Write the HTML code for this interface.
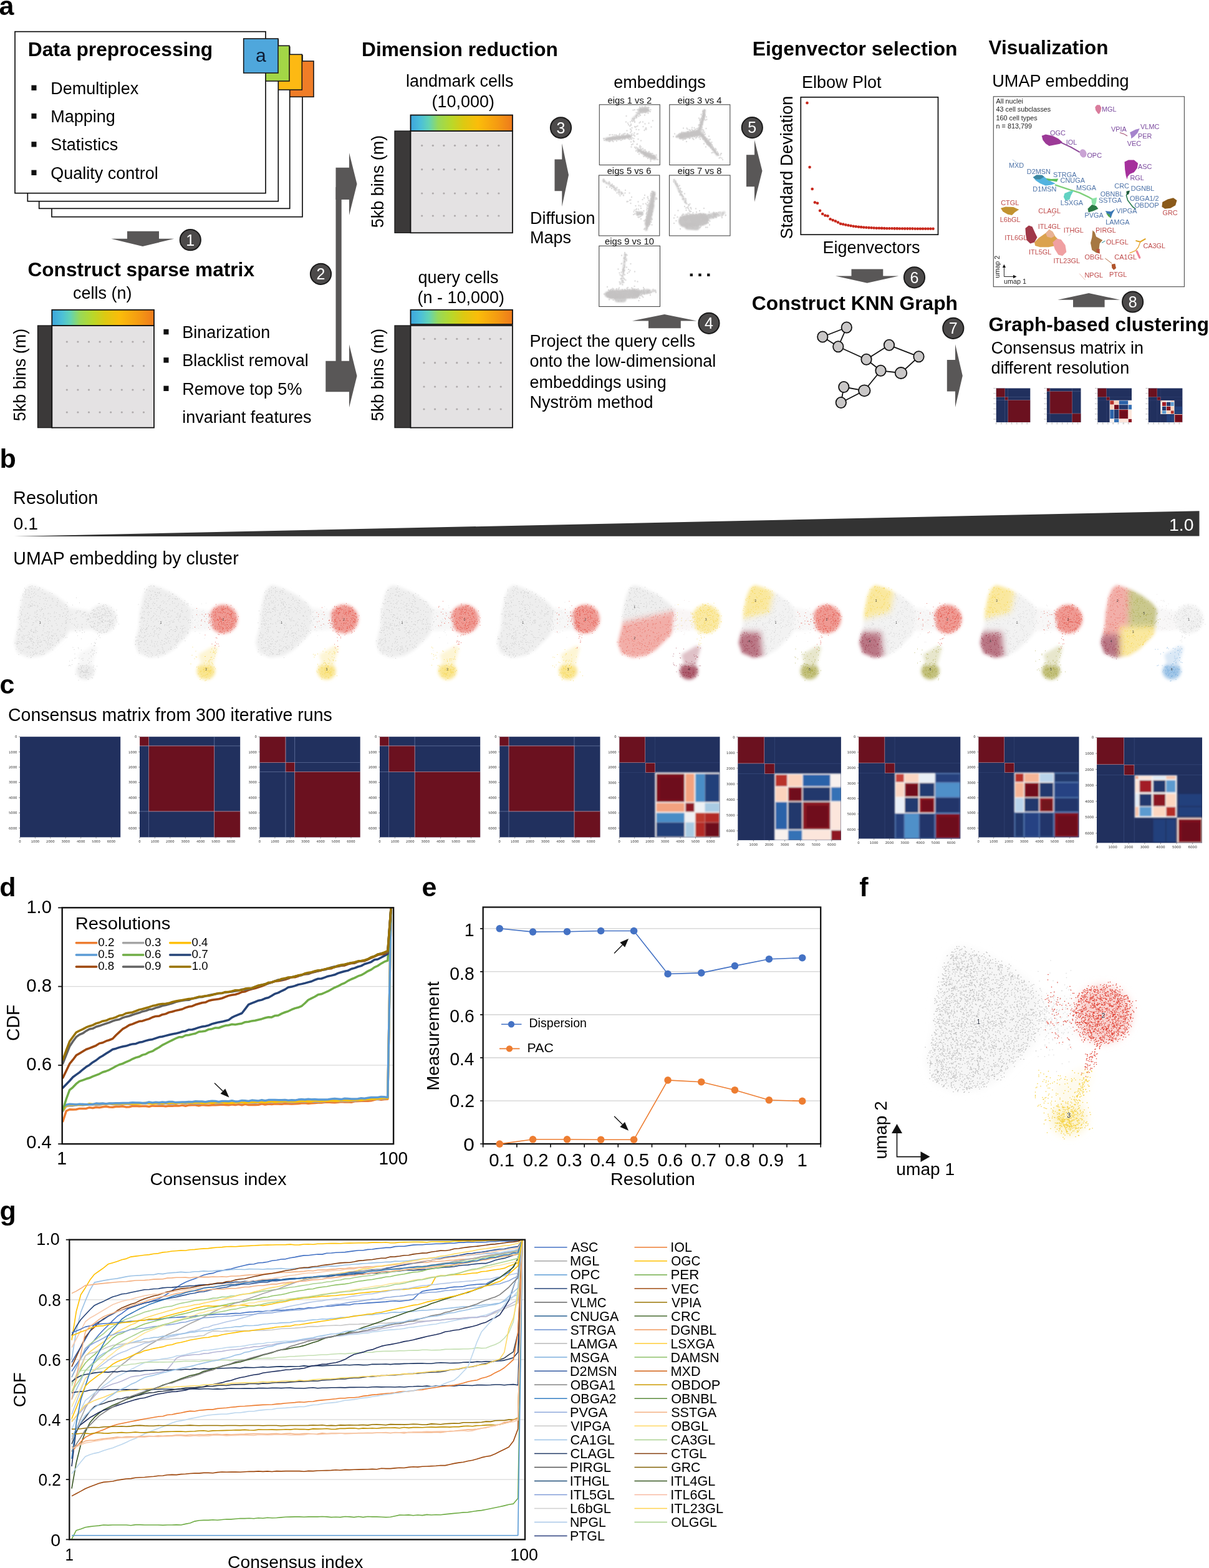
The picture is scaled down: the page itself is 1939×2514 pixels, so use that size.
<!DOCTYPE html>
<html lang="en"><head><meta charset="utf-8"><title>Figure: clustering pipeline</title>
<style>
html,body{margin:0;padding:0;background:#fff}
body{width:1939px;height:2514px;overflow:hidden}
svg{display:block;font-family:'Liberation Sans', Arial, sans-serif}
</style></head><body>
<main><figure style="margin:0">
<svg width="1939" height="2514" viewBox="0 0 1939 2514">
<rect width="1939" height="2514" fill="#fff"/>
<g id="panel-a-flow"><defs><linearGradient id="rain" x1="0" x2="1" y1="0" y2="0"><stop offset="0" stop-color="#3da5dc"/><stop offset="0.1" stop-color="#4cc0d8"/><stop offset="0.18" stop-color="#62d3b5"/><stop offset="0.27" stop-color="#97d95a"/><stop offset="0.4" stop-color="#b9d82a"/><stop offset="0.52" stop-color="#ddc912"/><stop offset="0.66" stop-color="#fbbd0a"/><stop offset="0.85" stop-color="#f59b12"/><stop offset="1" stop-color="#ee7a1c"/></linearGradient></defs><text x="-1.5" y="23.6" font-size="43" font-weight="700">a</text><rect x="83" y="88.7" width="402" height="259" fill="#fff" stroke="#111" stroke-width="1.7"/><rect x="448" y="98" width="55" height="57.3" fill="#ef7d27" stroke="#1a1a1a" stroke-width="1.6"/><rect x="62.7" y="75.3" width="402" height="259" fill="#fff" stroke="#111" stroke-width="1.7"/><rect x="429" y="87.3" width="55.3" height="56.7" fill="#fdb913" stroke="#1a1a1a" stroke-width="1.6"/><rect x="44.3" y="63.7" width="402" height="259" fill="#fff" stroke="#111" stroke-width="1.7"/><rect x="409" y="73.3" width="55" height="56.7" fill="#a3d646" stroke="#1a1a1a" stroke-width="1.6"/><rect x="24" y="50.7" width="402" height="259" fill="#fff" stroke="#111" stroke-width="1.7"/><rect x="390.7" y="62" width="55.3" height="55" fill="#4fa7dc" stroke="#1a1a1a" stroke-width="1.6"/><text x="418.3" y="98.6" font-size="30" text-anchor="middle" fill="#0d1b33">a</text><text transform="translate(44.74 89.50) scale(1.0052 1)" font-size="31.6" font-weight="700">Data preprocessing</text><rect x="50.4" y="136.6" width="8.1" height="8.4" fill="#111"/><text x="81.3" y="150.7" font-size="27">Demultiplex</text><rect x="50.4" y="181.9" width="8.1" height="8.4" fill="#111"/><text x="81.3" y="196" font-size="27">Mapping</text><rect x="50.4" y="227.2" width="8.1" height="8.4" fill="#111"/><text x="81.3" y="241.3" font-size="27">Statistics</text><rect x="50.4" y="272.6" width="8.1" height="8.4" fill="#111"/><text x="81.3" y="286.7" font-size="27">Quality control</text><polygon points="204,370.7 255,370.7 255,382.7 279.3,382.7 228.8,395 178.3,382.7 204,382.7" fill="#595757"/><circle cx="305.3" cy="384.7" r="16.6" fill="#4c4a4a" stroke="#1a1a1a" stroke-width="2"/><text x="305.3" y="393.5" font-size="25" text-anchor="middle" fill="#fff">1</text><text x="44.5" y="442.6" font-size="31.6" font-weight="700">Construct sparse matrix</text><text x="117" y="478.5" font-size="27">cells (n)</text><rect x="60.5" y="522" width="23.8" height="163.7" fill="#3b3939" stroke="#111" stroke-width="1.2"/><rect x="83.3" y="522" width="163.7" height="163.7" fill="#e4e2e3" stroke="#111" stroke-width="1.8"/><rect x="83.3" y="496.8" width="163.7" height="25.2" fill="url(#rain)" stroke="#111" stroke-width="1.8"/><circle cx="107.3" cy="548" r="1.6" fill="#aeaaab"/><circle cx="124.9" cy="548" r="1.6" fill="#aeaaab"/><circle cx="142.5" cy="548" r="1.6" fill="#aeaaab"/><circle cx="160.1" cy="548" r="1.6" fill="#aeaaab"/><circle cx="177.7" cy="548" r="1.6" fill="#aeaaab"/><circle cx="195.3" cy="548" r="1.6" fill="#aeaaab"/><circle cx="212.9" cy="548" r="1.6" fill="#aeaaab"/><circle cx="230.5" cy="548" r="1.6" fill="#aeaaab"/><circle cx="107.3" cy="586.7" r="1.6" fill="#aeaaab"/><circle cx="124.9" cy="586.7" r="1.6" fill="#aeaaab"/><circle cx="142.5" cy="586.7" r="1.6" fill="#aeaaab"/><circle cx="160.1" cy="586.7" r="1.6" fill="#aeaaab"/><circle cx="177.7" cy="586.7" r="1.6" fill="#aeaaab"/><circle cx="195.3" cy="586.7" r="1.6" fill="#aeaaab"/><circle cx="212.9" cy="586.7" r="1.6" fill="#aeaaab"/><circle cx="230.5" cy="586.7" r="1.6" fill="#aeaaab"/><circle cx="107.3" cy="625" r="1.6" fill="#aeaaab"/><circle cx="124.9" cy="625" r="1.6" fill="#aeaaab"/><circle cx="142.5" cy="625" r="1.6" fill="#aeaaab"/><circle cx="160.1" cy="625" r="1.6" fill="#aeaaab"/><circle cx="177.7" cy="625" r="1.6" fill="#aeaaab"/><circle cx="195.3" cy="625" r="1.6" fill="#aeaaab"/><circle cx="212.9" cy="625" r="1.6" fill="#aeaaab"/><circle cx="230.5" cy="625" r="1.6" fill="#aeaaab"/><circle cx="107.3" cy="661" r="1.6" fill="#aeaaab"/><circle cx="124.9" cy="661" r="1.6" fill="#aeaaab"/><circle cx="142.5" cy="661" r="1.6" fill="#aeaaab"/><circle cx="160.1" cy="661" r="1.6" fill="#aeaaab"/><circle cx="177.7" cy="661" r="1.6" fill="#aeaaab"/><circle cx="195.3" cy="661" r="1.6" fill="#aeaaab"/><circle cx="212.9" cy="661" r="1.6" fill="#aeaaab"/><circle cx="230.5" cy="661" r="1.6" fill="#aeaaab"/><text x="41.2" y="601" font-size="27" text-anchor="middle" transform="rotate(-90 41.2 601)">5kb bins (m)</text><rect x="262.4" y="527.9" width="8.1" height="8.4" fill="#111"/><text x="292.3" y="542" font-size="27">Binarization</text><rect x="262.4" y="573.2" width="8.1" height="8.4" fill="#111"/><text x="292.3" y="587.3" font-size="27">Blacklist removal</text><rect x="262.4" y="618.6" width="8.1" height="8.4" fill="#111"/><text x="292.3" y="632.7" font-size="27">Remove top 5%</text><text x="292.3" y="677.7" font-size="27">invariant features</text><rect x="538.5" y="300" width="9.2" height="300" fill="#595757"/><polygon points="538.5,268.7 560,268.7 560,245 572.5,295 560,345 560,320 538.5,320" fill="#595757"/><polygon points="522.3,578.7 560,578.7 560,552.3 572.5,602.8 560,653.3 560,628.3 522.3,628.3" fill="#595757"/><circle cx="514.5" cy="439.3" r="16.6" fill="#4c4a4a" stroke="#1a1a1a" stroke-width="2"/><text x="514.5" y="448.1" font-size="25" text-anchor="middle" fill="#fff">2</text><text transform="translate(580.04 89.50) scale(1.0025 1)" font-size="31.6" font-weight="700">Dimension reduction</text><text x="737.3" y="139.3" font-size="27" text-anchor="middle">landmark cells</text><text x="742.7" y="171.7" font-size="27" text-anchor="middle">(10,000)</text><rect x="633" y="210" width="26.5" height="163.3" fill="#3b3939" stroke="#111" stroke-width="1.2"/><rect x="658.5" y="210" width="163.5" height="163.3" fill="#e4e2e3" stroke="#111" stroke-width="1.8"/><rect x="658.5" y="184.5" width="163.5" height="25.5" fill="url(#rain)" stroke="#111" stroke-width="1.8"/><circle cx="676.7" cy="233.3" r="1.6" fill="#aeaaab"/><circle cx="694.3" cy="233.3" r="1.6" fill="#aeaaab"/><circle cx="711.9" cy="233.3" r="1.6" fill="#aeaaab"/><circle cx="729.5" cy="233.3" r="1.6" fill="#aeaaab"/><circle cx="747.1" cy="233.3" r="1.6" fill="#aeaaab"/><circle cx="764.7" cy="233.3" r="1.6" fill="#aeaaab"/><circle cx="782.3" cy="233.3" r="1.6" fill="#aeaaab"/><circle cx="799.9" cy="233.3" r="1.6" fill="#aeaaab"/><circle cx="676.7" cy="271.7" r="1.6" fill="#aeaaab"/><circle cx="694.3" cy="271.7" r="1.6" fill="#aeaaab"/><circle cx="711.9" cy="271.7" r="1.6" fill="#aeaaab"/><circle cx="729.5" cy="271.7" r="1.6" fill="#aeaaab"/><circle cx="747.1" cy="271.7" r="1.6" fill="#aeaaab"/><circle cx="764.7" cy="271.7" r="1.6" fill="#aeaaab"/><circle cx="782.3" cy="271.7" r="1.6" fill="#aeaaab"/><circle cx="799.9" cy="271.7" r="1.6" fill="#aeaaab"/><circle cx="676.7" cy="310" r="1.6" fill="#aeaaab"/><circle cx="694.3" cy="310" r="1.6" fill="#aeaaab"/><circle cx="711.9" cy="310" r="1.6" fill="#aeaaab"/><circle cx="729.5" cy="310" r="1.6" fill="#aeaaab"/><circle cx="747.1" cy="310" r="1.6" fill="#aeaaab"/><circle cx="764.7" cy="310" r="1.6" fill="#aeaaab"/><circle cx="782.3" cy="310" r="1.6" fill="#aeaaab"/><circle cx="799.9" cy="310" r="1.6" fill="#aeaaab"/><circle cx="676.7" cy="346" r="1.6" fill="#aeaaab"/><circle cx="694.3" cy="346" r="1.6" fill="#aeaaab"/><circle cx="711.9" cy="346" r="1.6" fill="#aeaaab"/><circle cx="729.5" cy="346" r="1.6" fill="#aeaaab"/><circle cx="747.1" cy="346" r="1.6" fill="#aeaaab"/><circle cx="764.7" cy="346" r="1.6" fill="#aeaaab"/><circle cx="782.3" cy="346" r="1.6" fill="#aeaaab"/><circle cx="799.9" cy="346" r="1.6" fill="#aeaaab"/><text x="615.2" y="291" font-size="27" text-anchor="middle" transform="rotate(-90 615.2 291)">5kb bins (m)</text><text x="735" y="454" font-size="27" text-anchor="middle">query cells</text><text x="739.3" y="485.7" font-size="27" text-anchor="middle">(n - 10,000)</text><rect x="633" y="522" width="26.5" height="163.7" fill="#3b3939" stroke="#111" stroke-width="1.2"/><rect x="658.5" y="522" width="163.5" height="163.7" fill="#e4e2e3" stroke="#111" stroke-width="1.8"/><rect x="658.5" y="496.8" width="163.5" height="23.2" fill="url(#rain)" stroke="#111" stroke-width="1.8"/><circle cx="680" cy="543.3" r="1.6" fill="#aeaaab"/><circle cx="697.6" cy="543.3" r="1.6" fill="#aeaaab"/><circle cx="715.2" cy="543.3" r="1.6" fill="#aeaaab"/><circle cx="732.8" cy="543.3" r="1.6" fill="#aeaaab"/><circle cx="750.4" cy="543.3" r="1.6" fill="#aeaaab"/><circle cx="768" cy="543.3" r="1.6" fill="#aeaaab"/><circle cx="785.6" cy="543.3" r="1.6" fill="#aeaaab"/><circle cx="803.2" cy="543.3" r="1.6" fill="#aeaaab"/><circle cx="680" cy="581.7" r="1.6" fill="#aeaaab"/><circle cx="697.6" cy="581.7" r="1.6" fill="#aeaaab"/><circle cx="715.2" cy="581.7" r="1.6" fill="#aeaaab"/><circle cx="732.8" cy="581.7" r="1.6" fill="#aeaaab"/><circle cx="750.4" cy="581.7" r="1.6" fill="#aeaaab"/><circle cx="768" cy="581.7" r="1.6" fill="#aeaaab"/><circle cx="785.6" cy="581.7" r="1.6" fill="#aeaaab"/><circle cx="803.2" cy="581.7" r="1.6" fill="#aeaaab"/><circle cx="680" cy="620" r="1.6" fill="#aeaaab"/><circle cx="697.6" cy="620" r="1.6" fill="#aeaaab"/><circle cx="715.2" cy="620" r="1.6" fill="#aeaaab"/><circle cx="732.8" cy="620" r="1.6" fill="#aeaaab"/><circle cx="750.4" cy="620" r="1.6" fill="#aeaaab"/><circle cx="768" cy="620" r="1.6" fill="#aeaaab"/><circle cx="785.6" cy="620" r="1.6" fill="#aeaaab"/><circle cx="803.2" cy="620" r="1.6" fill="#aeaaab"/><circle cx="680" cy="656" r="1.6" fill="#aeaaab"/><circle cx="697.6" cy="656" r="1.6" fill="#aeaaab"/><circle cx="715.2" cy="656" r="1.6" fill="#aeaaab"/><circle cx="732.8" cy="656" r="1.6" fill="#aeaaab"/><circle cx="750.4" cy="656" r="1.6" fill="#aeaaab"/><circle cx="768" cy="656" r="1.6" fill="#aeaaab"/><circle cx="785.6" cy="656" r="1.6" fill="#aeaaab"/><circle cx="803.2" cy="656" r="1.6" fill="#aeaaab"/><text x="615.2" y="601" font-size="27" text-anchor="middle" transform="rotate(-90 615.2 601)">5kb bins (m)</text><polygon points="889.5,255.5 901.3,255.5 901.3,230 912,280.6 901.3,331.3 901.3,306.3 889.5,306.3" fill="#595757"/><circle cx="899.5" cy="204.8" r="16.6" fill="#4c4a4a" stroke="#1a1a1a" stroke-width="2"/><text x="899.5" y="213.6" font-size="25" text-anchor="middle" fill="#fff">3</text><text x="850" y="358.5" font-size="27">Diffusion</text><text x="850" y="390.3" font-size="27">Maps</text><text x="1058" y="141" font-size="27.1" text-anchor="middle">embeddings</text><polygon points="1065.7,504 1117.5,514.5 1091.8,514.5 1091.8,526.3 1040,526.3 1040,514.5 1013.8,514.5" fill="#595757"/><circle cx="1137" cy="518.3" r="16.6" fill="#4c4a4a" stroke="#1a1a1a" stroke-width="2"/><text x="1137" y="527.1" font-size="25" text-anchor="middle" fill="#fff">4</text><text x="849.5" y="556" font-size="27">Project the query cells</text><text x="849.5" y="587.9" font-size="27">onto the low-dimensional</text><text x="849.5" y="621.8" font-size="27">embeddings using</text><text x="849.5" y="653.5" font-size="27">Nyström method</text><rect x="1106.6" y="438.6" width="4.4" height="4.4" fill="#111"/><rect x="1120.3" y="438.6" width="4.4" height="4.4" fill="#111"/><rect x="1134.1" y="438.6" width="4.4" height="4.4" fill="#111"/><polygon points="1197,248.3 1210,248.3 1210,224.5 1222.5,274.1 1210,323.8 1210,299.3 1197,299.3" fill="#595757"/><circle cx="1206.3" cy="204.6" r="16.6" fill="#4c4a4a" stroke="#1a1a1a" stroke-width="2"/><text x="1206.3" y="213.4" font-size="25" text-anchor="middle" fill="#fff">5</text><text transform="translate(1206.83 89.20) scale(1.0067 1)" font-size="31.6" font-weight="700">Eigenvector selection</text><text x="1286" y="141.3" font-size="27">Elbow Plot</text><rect x="1284.3" y="155.8" width="220.2" height="220.4" fill="#fff" stroke="#111" stroke-width="1.7"/><text x="1271.3" y="268.5" font-size="27" text-anchor="middle" transform="rotate(-90 1271.3 268.5)">Standard Deviation</text><text x="1397.5" y="406.3" font-size="27" text-anchor="middle">Eigenvectors</text><circle cx="1294.5" cy="165" r="2.3" fill="#c8281c"/><circle cx="1298.6" cy="268" r="2.3" fill="#c8281c"/><circle cx="1302.7" cy="303" r="2.3" fill="#c8281c"/><circle cx="1306.9" cy="324.5" r="2.3" fill="#c8281c"/><circle cx="1311" cy="325.8" r="2.3" fill="#c8281c"/><circle cx="1315.1" cy="337.8" r="2.3" fill="#c8281c"/><circle cx="1319.2" cy="343" r="2.3" fill="#c8281c"/><circle cx="1323.4" cy="345.5" r="2.3" fill="#c8281c"/><circle cx="1327.5" cy="346.3" r="2.3" fill="#c8281c"/><circle cx="1331.6" cy="351.3" r="2.3" fill="#c8281c"/><circle cx="1335.7" cy="353" r="2.3" fill="#c8281c"/><circle cx="1339.9" cy="354.5" r="2.3" fill="#c8281c"/><circle cx="1344" cy="356.5" r="2.3" fill="#c8281c"/><circle cx="1348.1" cy="358.8" r="2.3" fill="#c8281c"/><circle cx="1352.2" cy="359.5" r="2.3" fill="#c8281c"/><circle cx="1356.3" cy="360.5" r="2.3" fill="#c8281c"/><circle cx="1360.5" cy="361.3" r="2.3" fill="#c8281c"/><circle cx="1364.6" cy="362" r="2.3" fill="#c8281c"/><circle cx="1368.7" cy="362.7" r="2.3" fill="#c8281c"/><circle cx="1372.8" cy="363.2" r="2.3" fill="#c8281c"/><circle cx="1377" cy="363.7" r="2.3" fill="#c8281c"/><circle cx="1381.1" cy="364.1" r="2.3" fill="#c8281c"/><circle cx="1385.2" cy="364.5" r="2.3" fill="#c8281c"/><circle cx="1389.3" cy="364.8" r="2.3" fill="#c8281c"/><circle cx="1393.5" cy="365.1" r="2.3" fill="#c8281c"/><circle cx="1397.6" cy="365.3" r="2.3" fill="#c8281c"/><circle cx="1401.7" cy="365.5" r="2.3" fill="#c8281c"/><circle cx="1405.8" cy="365.7" r="2.3" fill="#c8281c"/><circle cx="1409.9" cy="365.8" r="2.3" fill="#c8281c"/><circle cx="1414.1" cy="365.9" r="2.3" fill="#c8281c"/><circle cx="1418.2" cy="366.1" r="2.3" fill="#c8281c"/><circle cx="1422.3" cy="366.2" r="2.3" fill="#c8281c"/><circle cx="1426.4" cy="366.2" r="2.3" fill="#c8281c"/><circle cx="1430.6" cy="366.3" r="2.3" fill="#c8281c"/><circle cx="1434.7" cy="366.4" r="2.3" fill="#c8281c"/><circle cx="1438.8" cy="366.4" r="2.3" fill="#c8281c"/><circle cx="1442.9" cy="366.5" r="2.3" fill="#c8281c"/><circle cx="1447.1" cy="366.5" r="2.3" fill="#c8281c"/><circle cx="1451.2" cy="366.6" r="2.3" fill="#c8281c"/><circle cx="1455.3" cy="366.6" r="2.3" fill="#c8281c"/><circle cx="1459.4" cy="366.6" r="2.3" fill="#c8281c"/><circle cx="1463.5" cy="366.6" r="2.3" fill="#c8281c"/><circle cx="1467.7" cy="366.7" r="2.3" fill="#c8281c"/><circle cx="1471.8" cy="366.7" r="2.3" fill="#c8281c"/><circle cx="1475.9" cy="366.7" r="2.3" fill="#c8281c"/><circle cx="1480" cy="366.7" r="2.3" fill="#c8281c"/><circle cx="1484.2" cy="366.7" r="2.3" fill="#c8281c"/><circle cx="1488.3" cy="366.7" r="2.3" fill="#c8281c"/><circle cx="1492.4" cy="366.7" r="2.3" fill="#c8281c"/><circle cx="1496.5" cy="366.8" r="2.3" fill="#c8281c"/><polygon points="1365.5,431.5 1416.3,431.5 1416.3,442.5 1441.3,442.5 1390.7,453.8 1340,442.5 1365.5,442.5" fill="#595757"/><circle cx="1466.5" cy="444.8" r="16.6" fill="#4c4a4a" stroke="#1a1a1a" stroke-width="2"/><text x="1466.5" y="453.6" font-size="25" text-anchor="middle" fill="#fff">6</text><text transform="translate(1205.83 497.00) scale(1.0060 1)" font-size="31.6" font-weight="700">Construct KNN Graph</text><g stroke="#111" stroke-width="1.8"><line x1="1357.8" y1="525" x2="1319.3" y2="540"/><line x1="1357.8" y1="525" x2="1344.3" y2="555.8"/><line x1="1319.3" y1="540" x2="1344.3" y2="555.8"/><line x1="1344.3" y1="555.8" x2="1389.5" y2="576.3"/><line x1="1389.5" y1="576.3" x2="1426" y2="553.3"/><line x1="1426" y1="553.3" x2="1473.5" y2="571.8"/><line x1="1473.5" y1="571.8" x2="1445" y2="598"/><line x1="1445" y1="598" x2="1412.5" y2="594.3"/><line x1="1412.5" y1="594.3" x2="1389.5" y2="576.3"/><line x1="1412.5" y1="594.3" x2="1386.3" y2="626.3"/><line x1="1386.3" y1="626.3" x2="1353.3" y2="620.5"/><line x1="1353.3" y1="620.5" x2="1348.8" y2="645.5"/><line x1="1348.8" y1="645.5" x2="1386.3" y2="626.3"/><ellipse cx="1357.8" cy="525" rx="8.2" ry="8.6" fill="#c9c7c7"/><ellipse cx="1319.3" cy="540" rx="8.2" ry="8.6" fill="#c9c7c7"/><ellipse cx="1344.3" cy="555.8" rx="8.2" ry="8.6" fill="#c9c7c7"/><ellipse cx="1426" cy="553.3" rx="8.2" ry="8.6" fill="#c9c7c7"/><ellipse cx="1473.5" cy="571.8" rx="8.2" ry="8.6" fill="#c9c7c7"/><ellipse cx="1389.5" cy="576.3" rx="8.2" ry="8.6" fill="#c9c7c7"/><ellipse cx="1412.5" cy="594.3" rx="8.2" ry="8.6" fill="#c9c7c7"/><ellipse cx="1445" cy="598" rx="9.3" ry="9" fill="#c9c7c7"/><ellipse cx="1353.3" cy="620.5" rx="8.2" ry="8.6" fill="#c9c7c7"/><ellipse cx="1386.3" cy="626.3" rx="9.3" ry="9" fill="#c9c7c7"/><ellipse cx="1348.8" cy="645.5" rx="8.2" ry="8.6" fill="#c9c7c7"/></g><polygon points="1518.8,577 1532,577 1532,552 1543.8,602.5 1532,653 1532,627.5 1518.8,627.5" fill="#595757"/><circle cx="1528.8" cy="526.3" r="16.6" fill="#4c4a4a" stroke="#1a1a1a" stroke-width="2"/><text x="1528.8" y="535.1" font-size="25" text-anchor="middle" fill="#fff">7</text><text x="1585.5" y="87.3" font-size="31.5" font-weight="700">Visualization</text><text x="1591.3" y="139.3" font-size="27.1">UMAP embedding</text><polygon points="1746.2,470 1796.3,480.7 1771.6,480.7 1771.6,492.4 1721,492.4 1721,480.7 1696.2,480.7" fill="#595757"/><circle cx="1816.6" cy="484" r="16.6" fill="#4c4a4a" stroke="#1a1a1a" stroke-width="2"/><text x="1816.6" y="492.8" font-size="25" text-anchor="middle" fill="#fff">8</text><text x="1585.5" y="530.9" font-size="31.5" font-weight="700">Graph-based clustering</text><text x="1589.5" y="566.9" font-size="27">Consensus matrix in</text><text x="1589.5" y="598.8" font-size="27">different resolution</text></g>
<g id="panel-a-embeddings"><filter id="ebl" x="-10%" y="-10%" width="120%" height="120%"><feGaussianBlur stdDeviation="0.9"/></filter><rect x="961.3" y="167.8" width="97" height="96.7" fill="#fff" stroke="#4a4a4a" stroke-width="1.1"/><g stroke="#c4c2c2" stroke-linecap="round" filter="url(#ebl)"><line x1="1028.2" y1="176.5" x2="1037" y2="176.5" stroke-width="8.2" opacity="0.9"/><line x1="1025.3" y1="181.3" x2="1014.6" y2="191" stroke-width="3.9" opacity="0.6"/><line x1="972.9" y1="223.4" x2="1009.8" y2="218.6" stroke-width="5.8" opacity="0.95"/><line x1="1023.4" y1="240.3" x2="1034" y2="246.1" stroke-width="4.9" opacity="0.9"/><line x1="1034" y1="246.1" x2="1049.6" y2="252.9" stroke-width="7.3" opacity="0.95"/></g><path d="M1034.5 170.5h0m0.5 0h0m-19.5 6h0m2.5-0.5h0m4 0h0m2-0.5h0m0.5 1h0m1 0h0m0.5 0h0m0-5h0m0.5 4.5h0m0-1.5h0m0 0.5h0m0.5-1h0m1.5 1.5h0m1-4h0m0.5 3.5h0m0.5-3.5h0m0 5h0m1.5 0h0m0.5-2.5h0m0 2.5h0m0.5-4h0m0.5 4.5h0m0-1h0m0.5-3h0m0.5-0.5h0m0.5 2h0m0.5-1h0m0.5-0.5h0m0 4h0m0 0h0m0.5-5h0m1 3.5h0m0-0.5h0m1.5-3h0m0.5 1h0m0.5 3h0m0.5-4h0m3 4h0m-23 4.5h0m2 1h0m0 0h0m0.5-1h0m0.5 1.5h0m0-3.5h0m2 2.5h0m0.5-3h0m0.5 3h0m1-2h0m0.5 0.5h0m0.5 0.5h0m0.5-1h0m0.5-1h0m0 3h0m1.5-0.5h0m1-3.5h0m0.5 2h0m1 1h0m0 0h0m2 0.5h0m0 0h0m0.5-2h0m0.5-1.5h0m3 0h0m0 4.5h0m1.5-3.5h0m2 1h0m-38.5 7h0m15.5 1h0m0.5-2.5h0m0.5 2.5h0m0.5-2h0m3 1.5h0m1.5-3h0m1 1.5h0m7-0.5h0m-21 9h0m1 1h0m0 0h0m1-4h0m0.5 3h0m0 0.5h0m1.5-1.5h0m0-1.5h0m0.5 3h0m0.5-4h0m3-1h0m26 4.5h0m-43 2h0m3 2h0m1 2.5h0m3-4.5h0m1 3.5h0m0 0.5h0m6-3.5h0m0-1h0m7.5 2h0m1.5-1.5h0m4 0h0m3.5 3h0m6-1h0m-30.5 4.5h0m1-0.5h0m1-0.5h0m1.5 4h0m4.5-2h0m1 1h0m1.5-1h0m2-1h0m9 1h0m4.5 2h0m0.5 1.5h0m8-3h0m-39 6h0m5.5 3h0m0-5.5h0m1.5 3.5h0m0-2h0m8-1h0m4 0.5h0m9 1h0m1.5-2h0m1.5 0.5h0m-59 9h0m1-0.5h0m3.5 0h0m3 0.5h0m2.5 0h0m1 2.5h0m0-1h0m0-1.5h0m0 2h0m1.5 0h0m0.5-0.5h0m2.5-1.5h0m0.5 2.5h0m0.5-4.5h0m3 2.5h0m0.5 0.5h0m0-1h0m2-1.5h0m0 2.5h0m0.5-1h0m0 0h0m1-2h0m1 4h0m0.5-4.5h0m1.5 4.5h0m1-1.5h0m0.5-0.5h0m0.5-2h0m1 0.5h0m0.5 2h0m1 0.5h0m1 0h0m1.5 1.5h0m1.5-1h0m0.5-2h0m0.5-1.5h0m0 2.5h0m3 0h0m0-1.5h0m1-2.5h0m0.5 5h0m3.5-3h0m1.5-0.5h0m-55 8h0m0-0.5h0m1 3h0m0-3h0m3 2h0m3.5-2h0m1.5 1h0m0.5-2h0m0.5 0.5h0m0.5 0.5h0m0.5-0.5h0m1 0.5h0m0.5-1.5h0m1 1h0m0.5 3h0m0-2.5h0m0-1h0m1-2h0m1 3.5h0m0.5-2h0m0.5-1h0m1 1.5h0m0 0h0m0 1.5h0m0-3h0m0.5 4h0m0-1h0m0.5 0h0m0-1h0m0.5-1h0m0.5 2h0m1.5-1h0m0.5 1h0m1.5 1h0m0.5-4h0m0.5 0h0m1 1h0m0 3h0m0.5-2h0m0-2h0m1 2h0m0-1h0m0.5-0.5h0m0.5 5h0m2.5-1.5h0m0-4.5h0m0 1h0m0.5 2.5h0m1-2h0m2 2.5h0m0-1.5h0m1-1h0m0-0.5h0m4 0.5h0m0.5-1.5h0m0.5 3.5h0m2-3.5h0m0 4.5h0m0.5-4h0m0.5 2.5h0m0.5-3h0m0 1h0m1.5 3h0m1-2h0m0 0h0m2.5 1h0m7 1h0m-47 3.5h0m1.5-1h0m0 1.5h0m1-1.5h0m3 0h0m1.5 1.5h0m5.5-1h0m23 1.5h0m3 3.5h0m1-5.5h0m0 1.5h0m1 0h0m11-1.5h0m-15.5 10h0m0.5-3.5h0m5 4h0m2.5 0h0m1-4.5h0m0.5-0.5h0m4 4h0m0 1h0m0.5-2.5h0m1.5 2h0m-8.5 2.5h0m0.5 4h0m2.5-4.5h0m1 5.5h0m2-2.5h0m0 0h0m0 0h0m0.5 1h0m0.5-1h0m0.5 0.5h0m0.5-3h0m0.5 1.5h0m0.5 3.5h0m1-3.5h0m1.5-1.5h0m1 5h0m0 0h0m0.5-2.5h0m2 0h0m0.5 0h0m1 2.5h0m5 0h0m-18 1h0m2 3h0m3.5-2.5h0m0 1h0m1.5-0.5h0m0.5-1.5h0m0.5 1h0m0-0.5h0m1.5 1h0m2 2.5h0m0 0.5h0m0.5-3h0m0.5 2.5h0m0.5 1h0m0.5-0.5h0m0-0.5h0m1 0h0m0 1h0m0.5 0h0m0.5-1.5h0m0 1.5h0m1.5-4h0m1 4.5h0m0-2.5h0m1-1h0m1 1h0m0 1.5h0m1-2h0m0 2h0m2.5-2h0m6 2.5h0m-20 2.5h0m2-1.5h0m2 2h0m0-1.5h0m2.5 4h0m0.5-1.5h0m0-0.5h0m0-1.5h0m1.5-0.5h0m1 2h0m0.5 0.5h0m0-3h0m0 0h0m0.5 5.5h0m0.5-4.5h0m0-1h0m0.5 2h0m0.5-1.5h0m0.5 4h0m0-0.5h0m1-2h0m1-0.5h0m0.5 2h0m0.5-3h0m0 3h0m1-1h0m0 1.5h0m0-3h0m0 0.5h0m0-2h0m0.5 4.5h0m-6 5h0m0-2h0m1.5-1.5h0m8.5 0.5h0m2 0.5h0" stroke="#c3c1c1" stroke-width="2.4" stroke-linecap="round" fill="none" opacity="0.55"/><text x="1009.8" y="165.8" font-size="14.8" text-anchor="middle" fill="#111">eigs 1 vs 2</text><rect x="1073.8" y="167.8" width="97" height="96.7" fill="#fff" stroke="#4a4a4a" stroke-width="1.1"/><g stroke="#c4c2c2" stroke-linecap="round" filter="url(#ebl)"><line x1="1129.6" y1="177.5" x2="1128.1" y2="187.1" stroke-width="4.4" opacity="0.95"/><line x1="1128.1" y1="187.1" x2="1122.3" y2="206.5" stroke-width="4.9" opacity="0.95"/><line x1="1093.2" y1="218.1" x2="1119.4" y2="213.2" stroke-width="10.2" opacity="0.95"/><line x1="1086.4" y1="218.6" x2="1102.9" y2="216.2" stroke-width="4.9" opacity="0.9"/><line x1="1125.2" y1="216.2" x2="1137.8" y2="231.6" stroke-width="5.8" opacity="0.95"/><line x1="1137.8" y1="231.6" x2="1150.4" y2="248.1" stroke-width="3.9" opacity="0.9"/></g><path d="M1130 176.5h0m0.5 0h0m-3.5 2.5h0m0.5 3h0m0-4.5h0m0.5 1.5h0m0-0.5h0m0.5 3.5h0m0.5 0.5h0m0.5-0.5h0m0.5 0.5h0m-5.5 1h0m2 2.5h0m1.5-1h0m0.5-1.5h0m0.5 4h0m0 1.5h0m0.5-0.5h0m0-3h0m1-0.5h0m0 1h0m0.5-1.5h0m2 3h0m-12 2h0m1 3h0m1 0.5h0m0-2h0m2-1.5h0m1 1h0m0 1.5h0m0.5 0h0m2 0h0m0.5-2.5h0m0.5 1.5h0m2 1.5h0m2-1h0m-13 9h0m2-0.5h0m0.5 0.5h0m0.5-4.5h0m0-0.5h0m0.5 5.5h0m0.5-4h0m0.5-1.5h0m0.5 0h0m1 2.5h0m0-2.5h0m0 4.5h0m-30.5 5.5h0m5.5 0h0m1 1.5h0m7.5-2.5h0m3.5 0.5h0m4.5 1h0m2.5-0.5h0m3-4h0m0 5h0m0-5h0m0 5.5h0m0.5-0.5h0m0-3.5h0m0-1.5h0m1.5 5.5h0m0.5-3h0m6.5 2h0m-39 6h0m2.5 0.5h0m2.5 0.5h0m3.5 0h0m0.5-2h0m0 0h0m1.5 1h0m0-1h0m1.5-3h0m1.5 1h0m1.5 3h0m0-0.5h0m1-4h0m1 5.5h0m0.5-4h0m0 2h0m0.5 1h0m1 0.5h0m0.5-2h0m0-0.5h0m0.5 2.5h0m0.5-4h0m1.5-1.5h0m0.5 5h0m0.5-0.5h0m0 0h0m0.5-2h0m1.5 0h0m0.5 2h0m0 0.5h0m0.5-3.5h0m0-0.5h0m0 2.5h0m0.5-1.5h0m0.5-1h0m0 4h0m0-1.5h0m0.5-0.5h0m0 3h0m0.5-6h0m0 0h0m0.5 4h0m0-2h0m0.5 2h0m0-0.5h0m0 2.5h0m0-2h0m0 0h0m0.5-0.5h0m0-1.5h0m0.5 4h0m0.5-2h0m0.5-3h0m0 1.5h0m0.5 3h0m0-5h0m0.5 1.5h0m0-0.5h0m0.5 3.5h0m0.5-4.5h0m1 3.5h0m0.5-1h0m0 1.5h0m0-3h0m0.5 1h0m1.5 2.5h0m-50 7h0m2-4.5h0m6 1.5h0m1.5-1.5h0m1 4h0m0.5-1h0m0-2.5h0m0 2.5h0m0.5 0h0m1 0h0m0-3h0m0 1h0m0.5-2h0m0 4.5h0m0 1h0m0-1.5h0m0.5-3.5h0m0.5 4.5h0m0.5 0h0m2-4h0m0 3.5h0m0.5-1.5h0m1.5 1h0m0.5-2.5h0m0.5 3h0m0.5-3h0m0 1h0m1-0.5h0m0 0h0m0.5 2.5h0m1-2h0m0 0h0m0.5-2.5h0m0.5 0h0m0 5h0m0.5-2h0m0.5-2h0m2 1.5h0m0.5-0.5h0m1-1.5h0m0 0.5h0m0.5 2.5h0m0.5-1h0m0.5 1h0m0 0h0m1 1.5h0m2.5-2.5h0m1.5-1h0m0.5 0h0m0-0.5h0m1 2h0m1.5-3h0m0 3h0m0.5 0h0m0-1.5h0m0.5 1.5h0m0-1h0m1 1.5h0m0-1.5h0m0 0h0m2.5 1h0m0-0.5h0m0.5-1.5h0m0 1.5h0m1-2.5h0m1 1h0m0.5 3h0m0-1.5h0m1-1.5h0m0.5 0h0m0 1.5h0m0 1h0m0.5 1.5h0m0.5 0.5h0m0-2h0m1-1.5h0m0-2.5h0m0.5 3h0m2-1h0m6 3.5h0m-52.5 1h0m5.5 2.5h0m0.5-1.5h0m0.5 1.5h0m1-1.5h0m2 0h0m0.5 1h0m0-2h0m1 5h0m1.5-2h0m1.5 0h0m0.5 0.5h0m1-1h0m2.5-2.5h0m1-0.5h0m1 1h0m1.5 2h0m0.5-1h0m4.5 1h0m1 1h0m0.5 0.5h0m1.5-4.5h0m2 2.5h0m0.5-1h0m1-0.5h0m0.5-1h0m3 1.5h0m1-1.5h0m1 4h0m0-3.5h0m4-0.5h0m0.5 4h0m0.5-4h0m2 1.5h0m1 1.5h0m0-1.5h0m0.5 3h0m0.5 0h0m2-1h0m0 0h0m3 1h0m0.5 1h0m1.5-1h0m-38 3.5h0m28 3.5h0m2.5-5.5h0m0 0h0m0 2h0m1.5 1.5h0m0.5 1h0m1-1.5h0m0 2.5h0m1-5h0m1 5h0m0-3h0m2 3.5h0m0-2.5h0m0.5 1.5h0m1 0h0m1.5-2h0m-9.5 7.5h0m2-4h0m1.5 0h0m0.5 0h0m0 0.5h0m1 0h0m0-1h0m0.5 3h0m0-1.5h0m0.5 1.5h0m1-0.5h0m0.5 2h0m0-4h0m0.5 5.5h0m0-1h0m0.5-4.5h0m1 0.5h0m0.5 0h0m0.5 2h0m0 1h0m1.5 1.5h0m-1.5 3h0m1.5 0.5h0m0.5-1.5h0m0.5 2h0m0.5-0.5h0m0.5 1h0m0 0h0m0.5 1.5h0m0.5-3.5h0m0 1.5h0m0.5-2.5h0m0 3.5h0m0.5-1.5h0m0.5-0.5h0m-7 5.5h0m2-0.5h0m3 0h0m0.5-1h0m0 0.5h0m0-0.5h0m2 3h0m1.5-3h0m0.5 2.5h0m0 2h0m1 0h0m0-2h0m3.5 2.5h0m0.5-2h0m1-0.5h0m-4.5 3h0m1 4.5h0m1.5-1h0m2.5 1h0m1.5 2.5h0" stroke="#c3c1c1" stroke-width="2.4" stroke-linecap="round" fill="none" opacity="0.55"/><text x="1122.2" y="165.8" font-size="14.8" text-anchor="middle" fill="#111">eigs 3 vs 4</text><rect x="960.5" y="281" width="97.3" height="97" fill="#fff" stroke="#4a4a4a" stroke-width="1.1"/><g stroke="#c4c2c2" stroke-linecap="round" filter="url(#ebl)"><line x1="967.3" y1="289.7" x2="984.8" y2="300.4" stroke-width="3.4" opacity="0.6"/><line x1="984.8" y1="300.4" x2="999.4" y2="311.1" stroke-width="2.9" opacity="0.5"/><line x1="1048.1" y1="310.1" x2="1045.2" y2="329.5" stroke-width="6.8" opacity="0.95"/><line x1="1045.2" y1="329.5" x2="1038.3" y2="358.6" stroke-width="8.8" opacity="0.95"/><line x1="1038.3" y1="358.6" x2="1036.4" y2="368.3" stroke-width="3.9" opacity="0.9"/><line x1="1022.8" y1="342.1" x2="1028.6" y2="342.1" stroke-width="6.8" opacity="0.8"/></g><path d="M967.5 289.5h0m0-2h0m1 0h0m0.5 1.5h0m1 1.5h0m-2 1h0m4.5 2h0m3.5 0h0m1 0.5h0m0-2.5h0m1 2h0m3 3h0m1-1h0m-9 4.5h0m5 0h0m1.5-2.5h0m1 0.5h0m0.5 4h0m1-3.5h0m1 0h0m1.5 2.5h0m0-3h0m2 5h0m0.5-0.5h0m0.5 0h0m2-2h0m-4.5 3.5h0m1 0.5h0m1.5 1.5h0m0.5-2.5h0m4 4.5h0m0.5 0.5h0m0.5-4h0m0.5 3.5h0m3.5 0.5h0m6-3.5h0m42.5 2h0m0.5 0h0m1 0h0m1.5 2h0m-59 0.5h0m0-0.5h0m3 0.5h0m0.5 2h0m1.5 2.5h0m1.5-2.5h0m0.5-1.5h0m1.5 0h0m2 3.5h0m2.5-4h0m7 0h0m24.5 3.5h0m9.5 1h0m0 0h0m0-1.5h0m0.5-2.5h0m0.5 0.5h0m1.5 3.5h0m1 1h0m0-3.5h0m1.5 0h0m1.5 0.5h0m-38.5 8.5h0m1.5-4.5h0m17.5 4h0m2.5-2.5h0m5.5-1h0m0.5-1h0m0.5 3h0m4 2h0m0 0h0m0.5-2.5h0m0.5 2.5h0m1.5-5h0m1.5 0h0m0.5 2h0m3.5 2h0m0-2h0m1.5 0h0m0.5 1.5h0m-48 4.5h0m0-0.5h0m1.5 0h0m3-2h0m1.5 5h0m12-2.5h0m8 3.5h0m4-0.5h0m3-2h0m1.5-3h0m1 0h0m0 4.5h0m1-3.5h0m0.5 1h0m0 3h0m0-2.5h0m1-1h0m1-2h0m0 3h0m0.5-2h0m0-1h0m0.5 0.5h0m0 3.5h0m0-0.5h0m1-1.5h0m0.5-2h0m0 2h0m1.5 0h0m-29 7h0m5-0.5h0m3 1h0m10-2.5h0m0.5 2.5h0m0.5-0.5h0m1-1h0m0 0h0m0.5-1h0m0.5 3h0m0-2h0m0.5 2.5h0m0.5-1.5h0m0.5 0.5h0m0-1h0m0.5 2.5h0m0.5-1h0m0-2h0m0 1h0m0.5 2.5h0m0-2h0m0.5-3h0m0.5 0h0m2 0h0m0.5 3h0m-29.5 6.5h0m2.5-1h0m0 3h0m0-3h0m1-1h0m3 0.5h0m4-1.5h0m4.5 4h0m4.5-1.5h0m0.5-3h0m2 1h0m0-0.5h0m0.5 4h0m1-0.5h0m0.5-0.5h0m0.5-0.5h0m0 0h0m1 1h0m0-4.5h0m0.5 1h0m1 4.5h0m1.5-4h0m-30 9.5h0m0.5-4.5h0m1.5 3.5h0m3.5-0.5h0m0.5 1.5h0m0 1h0m0.5-5h0m1 3.5h0m0.5 1h0m1.5-2.5h0m0.5-1h0m0 1.5h0m0.5 0.5h0m1 0.5h0m0.5-1h0m1.5 2.5h0m0.5-4h0m0.5 3h0m6-1h0m0.5-1.5h0m0.5-1.5h0m1 4.5h0m1.5-5.5h0m0 4h0m0.5 1.5h0m0.5-3.5h0m0 3.5h0m0-1.5h0m0.5-1.5h0m0-0.5h0m0 3h0m0 0h0m0.5-3.5h0m0 2.5h0m0.5 1.5h0m2-3h0m0-2h0m0.5 3.5h0m0.5-3h0m0 4.5h0m1-5.5h0m-23 9h0m0.5 0.5h0m1.5-0.5h0m2-1h0m0 0h0m0.5 4h0m9-4h0m0 0h0m0 1h0m0.5 2h0m2-1h0m0.5-2h0m2 0.5h0m1 0h0m0.5-2.5h0m0.5 6h0m0.5 0h0m0.5-1h0m-12 4h0m2-1.5h0m1 1.5h0m1-1.5h0m1 2.5h0m0-1.5h0m0.5 3h0m0-3h0m0.5-2h0m0 0h0m0.5 3h0m1 2h0m0-3.5h0m0.5-1.5h0m0 0h0m0.5 5h0m1.5-1h0m1.5 0.5h0m0.5-3.5h0m1-1h0m-8.5 10h0m0.5-4h0m0 0h0m0 2h0m1 0.5h0m0-2h0m0 5h0m0.5-4h0m0.5 3.5h0m1.5-4.5h0m0 0h0m0.5 1h0m0 1h0m3.5 0.5h0m-12.5 7h0m1-1h0m4-1h0" stroke="#c3c1c1" stroke-width="2.4" stroke-linecap="round" fill="none" opacity="0.55"/><text x="1009" y="279.2" font-size="14.8" text-anchor="middle" fill="#111">eigs 5 vs 6</text><rect x="1073.5" y="281" width="97.5" height="97" fill="#fff" stroke="#4a4a4a" stroke-width="1.1"/><g stroke="#c4c2c2" stroke-linecap="round" filter="url(#ebl)"><line x1="1081.3" y1="288.8" x2="1089.1" y2="305.2" stroke-width="3.4" opacity="0.6"/><line x1="1089.1" y1="305.2" x2="1099.8" y2="324.6" stroke-width="3.4" opacity="0.6"/><line x1="1097.9" y1="354.7" x2="1127.1" y2="351.8" stroke-width="19.5" opacity="0.95"/><line x1="1102.8" y1="363.4" x2="1117.4" y2="364.4" stroke-width="9.8" opacity="0.9"/><line x1="1130" y1="348.9" x2="1146.6" y2="345" stroke-width="8.8" opacity="0.8"/><line x1="1146.6" y1="345" x2="1161.2" y2="341.1" stroke-width="4.9" opacity="0.6"/></g><path d="M1081 288.5h0m2.5 2h0m-3 1h0m2.5 2h0m1-1h0m0 3h0m0-1.5h0m0 0.5h0m1.5 2.5h0m0-2h0m0.5-0.5h0m0.5 1h0m-0.5 3h0m1 0h0m0-1h0m1 4.5h0m0-3h0m2-1.5h0m1 5h0m0.5-0.5h0m-2.5 5.5h0m0.5 0.5h0m1.5-2.5h0m1.5 2.5h0m0-1h0m1.5 0.5h0m-3.5 5h0m1-2h0m1 2h0m0.5-0.5h0m1 1h0m1.5 2h0m2.5-4.5h0m-3.5 9h0m0.5-0.5h0m1 0h0m0 0h0m0-0.5h0m0.5 0.5h0m3-0.5h0m0.5 0.5h0m-1.5 5.5h0m0.5-1h0m1-2h0m0 3h0m0.5 2h0m0.5 0h0m0.5 0h0m5 0.5h0m-8.5 4h0m4 2h0m1.5-1.5h0m0.5-3.5h0m0.5 1.5h0m1-0.5h0m2.5 4h0m-20.5 4.5h0m12.5-4h0m0.5 3.5h0m3.5-3h0m1 2.5h0m1 1.5h0m1.5-5h0m0.5 6h0m0.5-4h0m7.5-0.5h0m6 3.5h0m7-4h0m-35 11h0m1-1.5h0m1.5 0h0m3.5 0h0m1.5 0h0m0.5 0h0m1.5-2h0m2 1h0m0.5-3.5h0m0.5 4.5h0m0-4h0m1 4.5h0m0.5 0.5h0m0-0.5h0m2 1h0m0.5-1.5h0m1-2.5h0m0.5 3h0m4.5-0.5h0m0.5-3.5h0m3.5 3.5h0m1.5-0.5h0m1-0.5h0m1 2h0m0-1.5h0m1 1.5h0m3.5-1.5h0m1.5 1.5h0m1.5-1h0m5.5 0.5h0m0.5-4h0m6.5 2h0m0.5-1.5h0m0 1h0m0.5 2.5h0m0.5-2.5h0m1.5 2h0m0.5 0h0m1.5-2.5h0m1.5 2h0m0-0.5h0m1.5 2h0m0-4h0m2.5-0.5h0m3 5h0m2-0.5h0m0-3h0m0 2h0m4.5 1.5h0m-83 4.5h0m1.5-4.5h0m4 3h0m5 0.5h0m5 0h0m0 2h0m1.5-1.5h0m0.5 1.5h0m2 0h0m0 0.5h0m0.5-0.5h0m0-4.5h0m1 0.5h0m1-1.5h0m0.5 3.5h0m1.5 0.5h0m0.5 0.5h0m0.5-3.5h0m0.5 3.5h0m0.5-1.5h0m0.5 0h0m0.5 2.5h0m1-2.5h0m0.5-1.5h0m0-1h0m0.5 2h0m0-2h0m0.5 5.5h0m0.5-2h0m1-3.5h0m0.5 4.5h0m0.5-1h0m0.5 0.5h0m1-4h0m0 3.5h0m1 1.5h0m0-0.5h0m0.5-1.5h0m0-0.5h0m0.5 1.5h0m0.5-1.5h0m0 2h0m0.5-2h0m1 0h0m0-1h0m0 1.5h0m0-2.5h0m1 5h0m1-1h0m0.5 0h0m0-1h0m1 1.5h0m0-2.5h0m0.5 2h0m0.5-1h0m1-1.5h0m0 2.5h0m0-3.5h0m0.5 1h0m1 1h0m0-2h0m0.5-0.5h0m0.5 1.5h0m0-0.5h0m0 1h0m0.5 2h0m0-1h0m1 1.5h0m0 0h0m1.5-2h0m3.5-1.5h0m0.5 2h0m2.5-3.5h0m2 3h0m0 0h0m0-3h0m0 2h0m0.5-2h0m0.5 0.5h0m1.5 0.5h0m2.5 1.5h0m0.5 0h0m0.5 1.5h0m1.5-3.5h0m0 0.5h0m2.5 1.5h0m1 0.5h0m3-2h0m1-1h0m1.5 0.5h0m3 1h0m0.5 2h0m0-3.5h0m0.5 0h0m5 0h0m-79 8.5h0m6.5-0.5h0m6-2.5h0m1.5 2h0m0.5 1h0m2-1.5h0m1.5-1h0m5.5-0.5h0m0.5 2h0m1.5 2h0m0-2.5h0m0 0h0m0 1h0m0.5 2h0m0.5-3h0m1 1.5h0m0-2.5h0m0.5-0.5h0m1 3.5h0m0-0.5h0m0.5-2h0m0.5 4h0m0-1.5h0m0.5 0.5h0m0.5-0.5h0m0 0h0m0.5 2h0m0-5h0m0.5 5.5h0m0.5-0.5h0m0-2h0m0.5-3.5h0m0 1h0m1 0h0m0-0.5h0m0 3.5h0m0 0h0m0-4h0m0.5 1.5h0m0.5 0.5h0m0 0.5h0m0 1.5h0m0.5-2.5h0m0 4h0m1.5-4h0m0-0.5h0m0 2h0m0 2.5h0m0-2.5h0m0.5-1h0m1.5 1h0m0.5 3h0m0.5-2.5h0m2 0h0m0.5-2.5h0m0.5 3h0m1-4h0m1.5 3h0m0-3h0m1 1.5h0m2 0.5h0m1.5-1.5h0m0 2.5h0m0 2.5h0m2-3.5h0m2 1.5h0m-57.5 3.5h0m12.5 2.5h0m3-1h0m2 1h0m1.5-3h0m0.5 3.5h0m1-2.5h0m0 4.5h0m1-3h0m0.5-1.5h0m0.5 1.5h0m2-0.5h0m1.5-1.5h0m0 3.5h0m0.5-3h0m0.5-0.5h0m1.5-1h0m0.5 2h0m1.5 1.5h0m0-2.5h0m0.5 1h0m0-2h0m0.5 0h0m0.5 1h0m0.5 3h0m0-2.5h0m2-0.5h0m0.5 0h0m1.5 4h0m0-1h0m1-3.5h0m1.5 1h0m0 2h0m0-0.5h0m4 3h0m0-2h0m0 2h0m0.5-1h0m2.5-1.5h0m2.5-3h0m3 0.5h0m1.5-0.5h0m2 0h0m2 3h0m-47 6.5h0m10.5-2.5h0m8-1.5h0m2 2h0m11 0h0m1-1h0m8.5 0.5h0m2.5 0h0" stroke="#c3c1c1" stroke-width="2.4" stroke-linecap="round" fill="none" opacity="0.55"/><text x="1122.2" y="279.2" font-size="14.8" text-anchor="middle" fill="#111">eigs 7 vs 8</text><rect x="960.8" y="394.3" width="97.7" height="97.2" fill="#fff" stroke="#4a4a4a" stroke-width="1.1"/><g stroke="#c4c2c2" stroke-linecap="round" filter="url(#ebl)"><line x1="1002.8" y1="407.9" x2="999.9" y2="433.2" stroke-width="3.9" opacity="0.6"/><line x1="999.9" y1="433.2" x2="996.9" y2="454.6" stroke-width="3.4" opacity="0.5"/><line x1="980.3" y1="472.1" x2="1019.4" y2="471.1" stroke-width="14.7" opacity="0.95"/><line x1="974.5" y1="472.1" x2="990.1" y2="474" stroke-width="9.8" opacity="0.9"/><line x1="990.1" y1="479.8" x2="999.9" y2="479.8" stroke-width="9.8" opacity="0.8"/><line x1="1019.4" y1="470.1" x2="1039" y2="467.2" stroke-width="7.8" opacity="0.8"/><line x1="1039" y1="467.2" x2="1050.7" y2="466.2" stroke-width="3.9" opacity="0.5"/></g><path d="M997 409.5h0m5-4.5h0m0 2.5h0m1 2h0m0 0h0m1-1.5h0m1.5 1h0m-5 5h0m1-1h0m0.5 2h0m0.5-1.5h0m0.5 2.5h0m0-3.5h0m2 3h0m-8 7h0m4.5-2.5h0m0.5-1h0m3-1h0m6.5 5h0m-15 0h0m5 2.5h0m0.5 2.5h0m3 0.5h0m-13.5 3h0m7.5 3.5h0m0-2.5h0m0.5-1h0m0.5 1h0m0.5-3h0m0 0h0m0.5 5h0m0.5-1h0m6.5-1.5h0m2.5 1.5h0m-17 4h0m1 3h0m2-4h0m3 0h0m0.5 0.5h0m0 2.5h0m2 1h0m4.5-2.5h0m2.5-2h0m9-0.5h0m-22.5 11.5h0m0.5 0h0m0.5-5h0m0.5 4.5h0m1.5-4h0m1.5 3.5h0m1.5 1h0m-8 5h0m4.5-2h0m0.5 2.5h0m0.5-1h0m0.5-1h0m2-2.5h0m2 1h0m15 1.5h0m4 1h0m-28 2.5h0m0 1.5h0m4 1h0m2-3.5h0m-26.5 7h0m5 5h0m1.5-1h0m2-1.5h0m1.5 1h0m4.5 0h0m0.5-0.5h0m3 0.5h0m1-2h0m5 3h0m4 0h0m3.5-2.5h0m1 2h0m0.5-3h0m2.5 3.5h0m3.5-3h0m1.5 2.5h0m0.5-1.5h0m0 1.5h0m1 0.5h0m1.5-5.5h0m0.5 4.5h0m3 0.5h0m2.5 0h0m0-1h0m8.5-2h0m0.5 3.5h0m0.5-1.5h0m14.5 1h0m-72.5 5.5h0m0 1h0m1-5.5h0m1.5 3.5h0m0 0h0m0.5 1.5h0m0.5-4h0m0 4h0m0.5-2h0m0 1h0m1 1h0m1-2h0m1.5-3h0m0.5 0.5h0m0 2.5h0m2.5 2.5h0m0.5-3h0m0.5 2.5h0m0-1.5h0m2.5-3h0m2 2h0m1.5 3h0m1-2.5h0m0.5 3h0m0.5-1h0m0 1h0m0 0h0m1-1.5h0m1 0h0m0.5-1h0m0 1h0m0.5 0h0m1.5-2.5h0m1.5 0.5h0m0 3h0m0.5 0.5h0m0.5-4h0m1 3.5h0m0 0h0m0.5-5h0m1 1.5h0m0 0h0m0-0.5h0m0 1.5h0m1-1h0m1 1h0m2 2h0m2-4h0m0 1h0m0 0h0m0 0h0m0.5 3.5h0m0 0h0m0.5-0.5h0m1-1.5h0m0 0h0m1 2h0m0.5-3h0m0.5-2.5h0m0 3h0m0 2h0m1.5 0h0m1-3h0m1.5-1.5h0m0.5 2.5h0m0 3h0m0.5-0.5h0m0.5-1.5h0m0-0.5h0m0.5-0.5h0m1.5 1.5h0m0-1h0m1 1.5h0m1-4.5h0m0.5 4h0m0-0.5h0m0.5 0.5h0m0.5-4h0m1 3.5h0m0 0h0m0-1h0m0.5-1h0m1 1.5h0m1 0.5h0m0.5-2h0m0-1h0m2.5 4h0m0.5-3h0m0.5 2h0m1 0.5h0m0.5 1h0m3.5 0h0m0.5-2h0m1-0.5h0m0 1h0m2 1h0m0.5-0.5h0m0-4h0m1.5 3.5h0m0 1h0m0.5-1.5h0m0.5 0.5h0m1-0.5h0m2.5-2h0m3 0h0m0-1h0m1 1.5h0m0.5 2h0m-83 2.5h0m3 0h0m2.5 4.5h0m1.5-2h0m1.5 2.5h0m1-3h0m0.5 1h0m1 0.5h0m0 0h0m0.5 1h0m0-1.5h0m1-0.5h0m0.5 1h0m0.5-1h0m0 3h0m0.5-4h0m0.5 0.5h0m0 0.5h0m1 3h0m0.5-4h0m0 2.5h0m0.5-1h0m0.5 0h0m1.5-3h0m0.5 2.5h0m0-2h0m0 4h0m0.5-3h0m0 0h0m1 3h0m0-2h0m0.5-1h0m0.5 3.5h0m1-4.5h0m0.5 1h0m0 1h0m0-1h0m0 1h0m0-1.5h0m0.5-0.5h0m0 1.5h0m0.5-0.5h0m0.5 1.5h0m0.5-3h0m0 5h0m0.5-1.5h0m0-1h0m1-1h0m0.5 2.5h0m0 0.5h0m0-1h0m0-3.5h0m0.5 0.5h0m0.5-0.5h0m0 0.5h0m1.5 0h0m0.5 4h0m0.5-4h0m0.5 4h0m0.5-3.5h0m0 4h0m0.5-1h0m0 0.5h0m0.5-2.5h0m0.5 0.5h0m0-1h0m0.5 2.5h0m0-3h0m0.5 0.5h0m1-2h0m1.5 1h0m0.5 0.5h0m0.5 0h0m1 0h0m1 1h0m0.5-1.5h0m0.5 4h0m1-4.5h0m0.5 1h0m1-1h0m0 1.5h0m0 0h0m2 2.5h0m0.5-0.5h0m1-3.5h0m0.5 1.5h0m0.5-2h0m0.5 1h0m1-1h0m1 2h0m0-0.5h0m1.5 1.5h0m0.5-1h0m1 3.5h0m0-4.5h0m0.5 2h0m0.5-0.5h0m1 0.5h0m1-2h0m2.5 2h0m1.5-1.5h0m1 2.5h0m1.5 1.5h0m2-5h0m9.5 1.5h0m-66 7.5h0m6.5 0.5h0m2.5-2h0m6 3.5h0m2.5-4.5h0m2 4.5h0m2-5.5h0m8.5 0h0m2.5 0h0m5.5 0.5h0m3 0h0m6.5 4.5h0m1.5-4h0" stroke="#c3c1c1" stroke-width="2.4" stroke-linecap="round" fill="none" opacity="0.55"/><text x="1009.5" y="392.3" font-size="14.8" text-anchor="middle" fill="#111">eigs 9 vs 10</text></g>
<g id="panel-a-matrices"><clipPath id="cm1"><rect x="1597.7" y="622.5" width="54.6" height="54.6"/></clipPath><rect x="1597.7" y="622.5" width="54.6" height="54.6" fill="#21305e"/><g clip-path="url(#cm1)"><rect x="1597.7" y="622.5" width="14.1" height="14.1" fill="#6b111f"/><rect x="1611.8" y="636.6" width="5" height="5" fill="#6b111f"/><rect x="1616.7" y="641.5" width="35.6" height="35.6" fill="#6b111f"/><line x1="1611.8" y1="622.5" x2="1611.8" y2="677.1" stroke="#9fb0d6" stroke-width="0.3" opacity="0.75"/><line x1="1597.7" y1="636.6" x2="1652.3" y2="636.6" stroke="#9fb0d6" stroke-width="0.3" opacity="0.75"/><line x1="1616.7" y1="622.5" x2="1616.7" y2="677.1" stroke="#9fb0d6" stroke-width="0.3" opacity="0.75"/><line x1="1597.7" y1="641.5" x2="1652.3" y2="641.5" stroke="#9fb0d6" stroke-width="0.3" opacity="0.75"/><rect x="1597.7" y="622.5" width="14.1" height="14.1" fill="none" stroke="#d98e8e" stroke-width="0.3" opacity="0.8"/><rect x="1611.8" y="636.6" width="5" height="5" fill="none" stroke="#d98e8e" stroke-width="0.3" opacity="0.8"/><rect x="1616.7" y="641.5" width="35.6" height="35.6" fill="none" stroke="#d98e8e" stroke-width="0.3" opacity="0.8"/></g><path d="M1597.7 677.1v1.2M1597.7 622.5h-1.2M1606 677.1v1.2M1597.7 630.8h-1.2M1614.2 677.1v1.2M1597.7 639h-1.2M1622.5 677.1v1.2M1597.7 647.3h-1.2M1630.8 677.1v1.2M1597.7 655.6h-1.2M1639.1 677.1v1.2M1597.7 663.9h-1.2M1647.3 677.1v1.2M1597.7 672.1h-1.2" stroke="#555" stroke-width="0.4" fill="none"/><path d="M1596.4 679.4h2.6M1595.9 622.5h-2.6M1604.7 679.4h2.6M1595.9 630.8h-2.6M1612.9 679.4h2.6M1595.9 639h-2.6M1621.2 679.4h2.6M1595.9 647.3h-2.6M1629.5 679.4h2.6M1595.9 655.6h-2.6M1637.8 679.4h2.6M1595.9 663.9h-2.6M1646 679.4h2.6M1595.9 672.1h-2.6" stroke="#9a9a9a" stroke-width="0.7" fill="none"/><clipPath id="cm2"><rect x="1678.9" y="622.5" width="54.6" height="54.6"/></clipPath><rect x="1678.9" y="622.5" width="54.6" height="54.6" fill="#21305e"/><g clip-path="url(#cm2)"><rect x="1678.9" y="622.5" width="5" height="5" fill="#6b111f"/><rect x="1683.9" y="627.5" width="35.6" height="35.6" fill="#6b111f"/><rect x="1719.4" y="663" width="14.1" height="14.1" fill="#6b111f"/><line x1="1683.9" y1="622.5" x2="1683.9" y2="677.1" stroke="#9fb0d6" stroke-width="0.3" opacity="0.75"/><line x1="1678.9" y1="627.5" x2="1733.5" y2="627.5" stroke="#9fb0d6" stroke-width="0.3" opacity="0.75"/><line x1="1719.4" y1="622.5" x2="1719.4" y2="677.1" stroke="#9fb0d6" stroke-width="0.3" opacity="0.75"/><line x1="1678.9" y1="663" x2="1733.5" y2="663" stroke="#9fb0d6" stroke-width="0.3" opacity="0.75"/><rect x="1678.9" y="622.5" width="5" height="5" fill="none" stroke="#d98e8e" stroke-width="0.3" opacity="0.8"/><rect x="1683.9" y="627.5" width="35.6" height="35.6" fill="none" stroke="#d98e8e" stroke-width="0.3" opacity="0.8"/><rect x="1719.4" y="663" width="14.1" height="14.1" fill="none" stroke="#d98e8e" stroke-width="0.3" opacity="0.8"/></g><path d="M1678.9 677.1v1.2M1678.9 622.5h-1.2M1687.2 677.1v1.2M1678.9 630.8h-1.2M1695.4 677.1v1.2M1678.9 639h-1.2M1703.7 677.1v1.2M1678.9 647.3h-1.2M1712 677.1v1.2M1678.9 655.6h-1.2M1720.3 677.1v1.2M1678.9 663.9h-1.2M1728.5 677.1v1.2M1678.9 672.1h-1.2" stroke="#555" stroke-width="0.4" fill="none"/><path d="M1677.6 679.4h2.6M1677.1 622.5h-2.6M1685.9 679.4h2.6M1677.1 630.8h-2.6M1694.1 679.4h2.6M1677.1 639h-2.6M1702.4 679.4h2.6M1677.1 647.3h-2.6M1710.7 679.4h2.6M1677.1 655.6h-2.6M1719 679.4h2.6M1677.1 663.9h-2.6M1727.2 679.4h2.6M1677.1 672.1h-2.6" stroke="#9a9a9a" stroke-width="0.7" fill="none"/><clipPath id="cm3"><rect x="1760.4" y="622.5" width="54.6" height="54.6"/></clipPath><rect x="1760.4" y="622.5" width="54.6" height="54.6" fill="#21305e"/><filter id="bl4" x="-5%" y="-5%" width="110%" height="110%"><feGaussianBlur stdDeviation="0.5"/></filter><g clip-path="url(#cm3)"><rect x="1760.4" y="622.5" width="14" height="14" fill="#6b111f" stroke="#d98e8e" stroke-width="0.3"/><rect x="1774.6" y="636.7" width="5.1" height="5.1" fill="#6b111f" stroke="#d98e8e" stroke-width="0.3"/><line x1="1774.5" y1="622.5" x2="1774.5" y2="677.1" stroke="#6f86c0" stroke-width="0.3" opacity="0.45"/><line x1="1760.4" y1="636.6" x2="1815" y2="636.6" stroke="#6f86c0" stroke-width="0.3" opacity="0.45"/><line x1="1779.8" y1="622.5" x2="1779.8" y2="677.1" stroke="#6f86c0" stroke-width="0.3" opacity="0.45"/><line x1="1760.4" y1="641.9" x2="1815" y2="641.9" stroke="#6f86c0" stroke-width="0.3" opacity="0.45"/><g filter="url(#bl4)"><rect x="1779.8" y="641.9" width="35.2" height="35.2" fill="#f4f1ef"/><rect x="1779.8" y="641.9" width="35.2" height="35.2" fill="#f4f1ef"/><rect x="1780.3" y="642.4" width="6.1" height="6.1" fill="#b9302a"/><rect x="1787" y="642.4" width="7.3" height="6.1" fill="#fbd3bd"/><rect x="1794.8" y="642.4" width="14.4" height="6.1" fill="#2c62a9"/><rect x="1809.8" y="642.4" width="5.2" height="6.1" fill="#f8f1ee"/><rect x="1780.3" y="649.1" width="6.1" height="7.3" fill="#fbd3bd"/><rect x="1787" y="649.1" width="7.3" height="7.3" fill="#8a1420"/><rect x="1788" y="650.1" width="5.8" height="5.8" fill="#6b111f" opacity="0.85"/><rect x="1794.8" y="649.1" width="14.4" height="7.3" fill="#22376c"/><rect x="1809.8" y="649.1" width="5.2" height="7.3" fill="#3672b6"/><rect x="1780.3" y="656.9" width="6.1" height="14.4" fill="#2c62a9"/><rect x="1787" y="656.9" width="7.3" height="14.4" fill="#22376c"/><rect x="1794.8" y="656.9" width="14.4" height="14.4" fill="#8a1521"/><rect x="1796.7" y="658.8" width="11.4" height="11.4" fill="#6b111f" opacity="0.85"/><rect x="1809.8" y="656.9" width="5.2" height="14.4" fill="#fce6dc"/><rect x="1780.3" y="671.9" width="6.1" height="5.2" fill="#f8f1ee"/><rect x="1787" y="671.9" width="7.3" height="5.2" fill="#3672b6"/><rect x="1794.8" y="671.9" width="14.4" height="5.2" fill="#fce6dc"/><rect x="1809.8" y="671.9" width="5.2" height="5.2" fill="#8f1622"/></g></g><path d="M1760.4 677.1v1.2M1760.4 622.5h-1.2M1768.7 677.1v1.2M1760.4 630.8h-1.2M1776.9 677.1v1.2M1760.4 639h-1.2M1785.2 677.1v1.2M1760.4 647.3h-1.2M1793.5 677.1v1.2M1760.4 655.6h-1.2M1801.8 677.1v1.2M1760.4 663.9h-1.2M1810 677.1v1.2M1760.4 672.1h-1.2" stroke="#555" stroke-width="0.4" fill="none"/><path d="M1759.1 679.4h2.6M1758.6 622.5h-2.6M1767.4 679.4h2.6M1758.6 630.8h-2.6M1775.6 679.4h2.6M1758.6 639h-2.6M1783.9 679.4h2.6M1758.6 647.3h-2.6M1792.2 679.4h2.6M1758.6 655.6h-2.6M1800.5 679.4h2.6M1758.6 663.9h-2.6M1808.7 679.4h2.6M1758.6 672.1h-2.6" stroke="#9a9a9a" stroke-width="0.7" fill="none"/><clipPath id="cm5"><rect x="1841.8" y="622.5" width="54.6" height="54.6"/></clipPath><rect x="1841.8" y="622.5" width="54.6" height="54.6" fill="#21305e"/><filter id="bl6" x="-5%" y="-5%" width="110%" height="110%"><feGaussianBlur stdDeviation="0.5"/></filter><g clip-path="url(#cm5)"><rect x="1841.8" y="622.5" width="14" height="14" fill="#6b111f" stroke="#d98e8e" stroke-width="0.3"/><rect x="1856" y="636.7" width="5.1" height="5.1" fill="#6b111f" stroke="#d98e8e" stroke-width="0.3"/><line x1="1855.9" y1="622.5" x2="1855.9" y2="677.1" stroke="#6f86c0" stroke-width="0.3" opacity="0.45"/><line x1="1841.8" y1="636.6" x2="1896.4" y2="636.6" stroke="#6f86c0" stroke-width="0.3" opacity="0.45"/><line x1="1861.2" y1="622.5" x2="1861.2" y2="677.1" stroke="#6f86c0" stroke-width="0.3" opacity="0.45"/><line x1="1841.8" y1="641.9" x2="1896.4" y2="641.9" stroke="#6f86c0" stroke-width="0.3" opacity="0.45"/><g filter="url(#bl6)"><rect x="1861.5" y="642.2" width="21.8" height="21.8" fill="#f4f1ef"/><rect x="1861.5" y="642.2" width="21.8" height="21.8" fill="#f4f1ef"/><rect x="1883.3" y="664" width="13.1" height="13.1" fill="#f9ddd0"/><rect x="1861.8" y="642.5" width="1.5" height="1.5" fill="#f3a27f"/><rect x="1864" y="642.5" width="6.2" height="1.5" fill="#fde3d6"/><rect x="1871.1" y="642.5" width="6.3" height="1.5" fill="#dfeaf5"/><rect x="1877.8" y="642.5" width="4.8" height="1.5" fill="#f7c2a8"/><rect x="1861.8" y="644.7" width="1.5" height="6.2" fill="#fde3d6"/><rect x="1864" y="644.7" width="6.2" height="6.2" fill="#a31c25"/><rect x="1871.1" y="644.7" width="6.3" height="6.2" fill="#22386d"/><rect x="1877.8" y="644.7" width="4.8" height="6.2" fill="#5c9bd0"/><rect x="1861.8" y="651.8" width="1.5" height="6.3" fill="#dfeaf5"/><rect x="1864" y="651.8" width="6.2" height="6.3" fill="#22386d"/><rect x="1871.1" y="651.8" width="6.3" height="6.3" fill="#8a1420"/><rect x="1877.8" y="651.8" width="4.8" height="6.3" fill="#fcd6c0"/><rect x="1884.2" y="651.8" width="11.9" height="6.3" fill="#243f7b"/><rect x="1861.8" y="658.5" width="1.5" height="4.8" fill="#f7c2a8"/><rect x="1864" y="658.5" width="6.2" height="4.8" fill="#5c9bd0"/><rect x="1871.1" y="658.5" width="6.3" height="4.8" fill="#fcd6c0"/><rect x="1877.8" y="658.5" width="4.8" height="4.8" fill="#b52d28"/><rect x="1884.2" y="658.5" width="11.9" height="4.8" fill="#243f7b"/><rect x="1871.1" y="664.9" width="6.3" height="11.9" fill="#243f7b"/><rect x="1877.8" y="664.9" width="4.8" height="11.9" fill="#243f7b"/><rect x="1884.2" y="664.9" width="11.9" height="11.9" fill="#7f111d"/><rect x="1885.7" y="666.4" width="9.4" height="9.4" fill="#6b111f" opacity="0.85"/></g></g><path d="M1841.8 677.1v1.2M1841.8 622.5h-1.2M1850.1 677.1v1.2M1841.8 630.8h-1.2M1858.3 677.1v1.2M1841.8 639h-1.2M1866.6 677.1v1.2M1841.8 647.3h-1.2M1874.9 677.1v1.2M1841.8 655.6h-1.2M1883.2 677.1v1.2M1841.8 663.9h-1.2M1891.4 677.1v1.2M1841.8 672.1h-1.2" stroke="#555" stroke-width="0.4" fill="none"/><path d="M1840.5 679.4h2.6M1840 622.5h-2.6M1848.8 679.4h2.6M1840 630.8h-2.6M1857 679.4h2.6M1840 639h-2.6M1865.3 679.4h2.6M1840 647.3h-2.6M1873.6 679.4h2.6M1840 655.6h-2.6M1881.9 679.4h2.6M1840 663.9h-2.6M1890.1 679.4h2.6M1840 672.1h-2.6" stroke="#9a9a9a" stroke-width="0.7" fill="none"/></g>
<g id="panel-a-umap"><rect x="1593.3" y="154.8" width="306.1" height="304.9" fill="#fff" stroke="#4a4a4a" stroke-width="1.1"/><g font-size="10.8" fill="#222"><text x="1597.6" y="166">All nuclei</text><text x="1597.6" y="179.3">43 cell subclasses</text><text x="1597.6" y="192.6">160 cell types</text><text x="1597.6" y="205.9">n = 813,799</text></g><g><polygon points="1756.3,171.7 1759.2,168.3 1763.7,168.3 1766.4,172.8 1765.3,178.4 1762.6,182.9 1760.3,181.3 1757.2,176.8" fill="#d97c9c"/><polygon points="1670.7,217.8 1677,215.5 1688.3,217.8 1697.3,222.3 1704,227.9 1699.5,230.8 1690.5,232.4 1682.7,234 1677,230.2 1672.5,224.5" fill="#9c3a97"/><polyline points="1701.8,228.6 1717.5,235.8 1731,243.7" fill="none" stroke="#8f4a9a" stroke-width="2" stroke-linecap="round" stroke-linejoin="round"/><ellipse cx="1737.1" cy="245.9" rx="5.4" ry="6.8" fill="#c9a3d4" transform="rotate(-20 1737.1 245.9)"/><polygon points="1812.1,212.2 1821.1,207.7 1827.8,206.1 1824.4,213.3 1818.8,218.9 1814.3,222.3 1813.9,217.8" fill="#a583cc"/><polyline points="1796.3,212.8 1803.1,215.1 1807.6,217.8" fill="none" stroke="#a04a70" stroke-width="1.1" stroke-linecap="round" stroke-linejoin="round"/><polyline points="1624.1,256.1 1632,261.7" fill="none" stroke="#7aa0c8" stroke-width="0.6" stroke-linecap="round" stroke-linejoin="round"/><polygon points="1803.5,259.4 1809.8,256.5 1818.8,256.5 1825.1,261.7 1823.8,269.6 1818.8,276.3 1812.1,279 1808.7,283.1 1807.6,287.6 1805.8,281.9 1804.2,271.8" fill="#a5309c"/><polygon points="1656.8,284.2 1662.4,280.4 1671.4,280.8 1677,285.3 1686,290.9 1692.8,294.3 1686,296.6 1677,297.7 1668,293.9 1661.3,289.4" fill="#52b3e0"/><polygon points="1656.8,284.2 1662.4,280.4 1671.4,280.8 1674.8,283.5 1668,287.6 1661.3,287.6" fill="#3c86a0"/><polygon points="1677,285.8 1686,287.1 1697.3,286.4 1695,291.6 1688.3,290.3 1681.5,289.4" fill="#5cbf5c"/><polyline points="1692.8,296.6 1713,303.3 1731,308.9 1746.8,316.4 1753.5,320.2" fill="none" stroke="#7fd07a" stroke-width="2.3" stroke-linecap="round" stroke-linejoin="round"/><polygon points="1707.4,310.1 1715.3,306.7 1722,305.6 1717.5,313.4 1715.3,320.2 1708.5,321.3 1705.8,315.7" fill="#62d2c2"/><polygon points="1750.2,319.1 1759.2,316.4 1758.1,324.7 1755.8,330.3 1751.3,326.9" fill="#8be3a8"/><polygon points="1744.5,334.8 1751.3,328.1 1758.1,330.3 1761.4,334.8 1753.5,338.2 1745.7,340.5" fill="#2b7a45"/><polygon points="1772.7,338.2 1781.7,339.3 1788.4,335.3 1783.9,342.7 1781.7,349.5 1777.2,345" fill="#3a78b5"/><polygon points="1773.8,341.6 1779.4,343.8 1781.7,350.1 1777.2,346.5" fill="#4fa54f"/><polyline points="1809.8,306.7 1806.4,313.4 1808.7,321.3 1816.6,331.5 1821.1,334.8" fill="none" stroke="#2a7d4f" stroke-width="1.6" stroke-linecap="round" stroke-linejoin="round"/><polygon points="1806.4,306.7 1812.1,305.6 1810.3,311.2 1807.1,312.8" fill="#1f5a3a"/><polygon points="1864.3,324 1872.8,319.5 1881.8,317.3 1887.5,321.3 1885.2,329.2 1877.3,333.7 1868.3,334.8 1863.4,331.5" fill="#8a5a1a"/><polygon points="1605,333.7 1612.9,331.5 1625.3,332.1 1634.3,336 1627.5,340.5 1623,345 1616.3,343.8 1608.4,339.3" fill="#c29331"/><polyline points="1687.8,346.5 1691.7,343.8" fill="none" stroke="#c06060" stroke-width="0.9" stroke-linecap="round" stroke-linejoin="round"/><polygon points="1644.4,365.9 1650,361.4 1655.6,363.6 1660.2,373.8 1663.5,380.5 1659,388.4 1652.3,390.6 1646.6,385 1645.1,376" fill="#a03848"/><polygon points="1659,388.4 1665.8,381.6 1677,373.8 1682.7,368.1 1688.3,371.5 1692.8,379.4 1697.3,383.9 1692.8,394 1681.5,396.3 1668,396.3 1660.2,394" fill="#dba24e"/><polygon points="1677,373.8 1682.7,368.1 1688.3,371.5 1691.7,378.3 1686,381.6 1679.3,379.4" fill="#e9b294"/><polygon points="1688.3,388.4 1695,382.8 1701.8,383.9 1708.5,392.9 1710.3,404.1 1704,410.2 1697.3,408.6 1691.7,399.6" fill="#f0a0a2"/><polygon points="1752.4,369.3 1755.8,372.6 1758.1,379.4 1768.2,385 1763.7,390.6 1762.6,399.6 1763.7,406.4 1758.1,405.3 1751.3,400.8 1749,389.5 1751.3,380.5" fill="#a67842"/><polygon points="1758.1,399.6 1763.7,399 1763.7,406.4 1759.2,404.8" fill="#b8503c"/><polyline points="1767.5,389.1 1772,386.4" fill="none" stroke="#2a8a9a" stroke-width="1.1" stroke-linecap="round" stroke-linejoin="round"/><polyline points="1822.2,386.1 1828.9,387.7 1836.8,383.2" fill="none" stroke="#e0a21e" stroke-width="2" stroke-linecap="round" stroke-linejoin="round"/><polyline points="1828.9,387.7 1825.6,396.3 1821.1,401.9 1812.1,405.7" fill="none" stroke="#e8a83a" stroke-width="1.4" stroke-linecap="round" stroke-linejoin="round"/><polyline points="1823.3,403 1827.8,413.1" fill="none" stroke="#f08296" stroke-width="3.2" stroke-linecap="round" stroke-linejoin="round"/><polyline points="1772.7,414.3 1782.8,422.1" fill="none" stroke="#a85a2a" stroke-width="0.9" stroke-linecap="round" stroke-linejoin="round"/><polygon points="1782.8,423.7 1788.4,422.8 1790,430 1786.2,432.7 1783.3,429.6" fill="#b1532a"/><polyline points="1731.5,439 1740,448.5" fill="none" stroke="#e29a8a" stroke-width="0.7" stroke-linecap="round" stroke-linejoin="round"/><polyline points="1714.2,377.8 1717.5,374.9" fill="none" stroke="#88b0a0" stroke-width="0.7" stroke-linecap="round" stroke-linejoin="round"/></g><g font-size="10.9"><text x="1767" y="178.9" fill="#7b4a9e">MGL</text><text x="1829.1" y="207.2" fill="#7b4a9e">VLMC</text><text x="1781.9" y="211" fill="#7b4a9e">VPIA</text><text x="1825.1" y="222.3" fill="#7b4a9e">PER</text><text x="1807.7" y="234" fill="#7b4a9e">VEC</text><text x="1684" y="216.7" fill="#7b4a9e">OGC</text><text x="1709.8" y="232" fill="#7b4a9e">IOL</text><text x="1743.4" y="252.7" fill="#7b4a9e">OPC</text><text x="1618" y="269.1" fill="#4d73a8">MXD</text><text x="1825.1" y="271.4" fill="#7b4a9e">ASC</text><text x="1812.5" y="289.1" fill="#7b4a9e">RGL</text><text x="1646.8" y="279" fill="#4d73a8">D2MSN</text><text x="1688.9" y="283.5" fill="#4d73a8">STRGA</text><text x="1700.6" y="293.2" fill="#4d73a8">CNUGA</text><text x="1656.3" y="307.1" fill="#4d73a8">D1MSN</text><text x="1726" y="304.9" fill="#4d73a8">MSGA</text><text x="1787.3" y="301.7" fill="#4d73a8">CRC</text><text x="1813.8" y="306" fill="#4d73a8">DGNBL</text><text x="1764.8" y="314.6" fill="#4d73a8">OBNBL</text><text x="1762.1" y="324.7" fill="#4d73a8">SSTGA</text><text x="1812" y="322.4" fill="#4d73a8">OBGA1/2</text><text x="1819.4" y="332.6" fill="#4d73a8">OBDOP</text><text x="1700.8" y="329.2" fill="#4d73a8">LSXGA</text><text x="1739.5" y="349" fill="#4d73a8">PVGA</text><text x="1790.2" y="341.6" fill="#4d73a8">VIPGA</text><text x="1605.2" y="329.2" fill="#bf4b4b">CTGL</text><text x="1665.3" y="342.3" fill="#bf4b4b">CLAGL</text><text x="1864.5" y="345" fill="#bf4b4b">GRC</text><text x="1603.8" y="355.8" fill="#bf4b4b">L6bGL</text><text x="1773.3" y="359.8" fill="#4d73a8">LAMGA</text><text x="1664.8" y="367" fill="#bf4b4b">ITL4GL</text><text x="1705.8" y="373.3" fill="#bf4b4b">ITHGL</text><text x="1757.1" y="373.3" fill="#bf4b4b">PIRGL</text><text x="1611.3" y="385" fill="#bf4b4b">ITL6GL</text><text x="1774" y="391.8" fill="#bf4b4b">OLFGL</text><text x="1833.4" y="397.8" fill="#bf4b4b">CA3GL</text><text x="1650" y="408" fill="#bf4b4b">ITL5GL</text><text x="1739.5" y="416.1" fill="#bf4b4b">OBGL</text><text x="1787.3" y="416.1" fill="#bf4b4b">CA1GL</text><text x="1689.6" y="421.5" fill="#bf4b4b">ITL23GL</text><text x="1739.5" y="445.3" fill="#bf4b4b">NPGL</text><text x="1778.9" y="443.5" fill="#bf4b4b">PTGL</text></g><path d="M1610.4 427V443.5H1626" fill="none" stroke="#111" stroke-width="0.9"/><polygon points="1610.4,423.8 1613,429 1607.8,429" fill="#111"/><polygon points="1630.5,443.5 1625,440.8 1625,446.2" fill="#111"/><text x="1610" y="455.3" font-size="10.8" fill="#222">umap 1</text><text x="1603.5" y="427.8" font-size="10.8" text-anchor="middle" fill="#222" transform="rotate(-90 1603.5 427.8)">umap 2</text></g>
<g id="panel-b"><text x="-0.5" y="750.4" font-size="43" font-weight="700">b</text><text transform="translate(21.09 808.30) scale(1.0093 1)" font-size="28.6">Resolution</text><text x="21.5" y="849.3" font-size="28.4">0.1</text><polygon points="22.7,860 1923.5,819.2 1923.5,859.5" fill="#333"/><text x="1914.5" y="851" font-size="28.4" text-anchor="end" fill="#fff">1.0</text><text transform="translate(21.26 905.00) scale(0.9988 1)" font-size="28.6">UMAP embedding by cluster</text><filter id="ub1" x="-20%" y="-20%" width="140%" height="140%"><feGaussianBlur stdDeviation="2.6"/></filter><g filter="url(#ub1)"><polygon points="48.7,938 60.4,941.2 73.3,946.6 89.3,955.1 105.3,966.9 116,980.8 119.2,989.4 116.5,999 112.8,1006.5 107.4,1018.2 94.6,1031 83.9,1041.8 67.9,1051.3 46.5,1054.5 28.3,1047 23,1031 26.2,1017.1 29.4,1004.3 30.5,983 35.8,956.2 41.2,943.4" fill="#eeeeee"/><circle cx="164.3" cy="992.5" r="23" fill="#efefef"/><ellipse cx="136.8" cy="1076" rx="14.5" ry="13.5" fill="#ebebeb"/><polygon points="148.8,1035.5 155.8,1037.5 147.8,1067 129.8,1067 124.8,1049.5" fill="#f7f7f7"/><polygon points="113.8,974.5 142.3,979.5 147.3,1009.5 109.8,1012" fill="#f1f1f1"/></g><g opacity="0.75"><path d="M39.5 943h0m2 2h0m5-4h0m2-0.5h0m2 3.5h0m1-4.5h0m3.5 5h0m1.5-4h0m6 4.5h0m1-3h0m0.5 1h0m-24 5.5h0m0.5 1.5h0m1-4.5h0m0 1.5h0m3.5-1.5h0m1.5 2h0m0.5 2.5h0m4-1.5h0m4.5 1h0m5.5-3.5h0m6.5 4.5h0m1-5h0m11.5 5h0m-43.5 4.5h0m0.5-2.5h0m3 1h0m1.5-1h0m4 1.5h0m1.5 0.5h0m3.5-2h0m2 4.5h0m1.5-5.5h0m1 3.5h0m2.5-2.5h0m3.5 3h0m3.5 1h0m6.5-4h0m1.5-0.5h0m11-0.5h0m-50.5 11h0m3-0.5h0m2.5-5h0m3.5 0.5h0m3 0.5h0m4 0.5h0m0-1h0m15 3.5h0m5.5-1.5h0m3 3h0m0.5-3.5h0m1.5 0h0m4.5-1h0m5 3h0m0-1.5h0m8.5 0h0m1 3.5h0m29-4.5h0m-81 8.5h0m5.5 2h0m1.5-4h0m2.5-2h0m0 5h0m1.5 0.5h0m2.5-4h0m3 1.5h0m5.5 1.5h0m7 0.5h0m4 0.5h0m1.5-5h0m9 0.5h0m6.5 1.5h0m1 1h0m15.5-0.5h0m19.5 0.5h0m30.5 1h0m1.5 0h0m-126.5 5.5h0m0.5 1h0m6-1h0m5.5 0.5h0m0.5-3.5h0m1.5 4.5h0m1-2.5h0m1-1h0m0 1h0m1-0.5h0m1.5 0.5h0m1.5-1.5h0m2.5-0.5h0m0.5 1h0m4 2h0m0-2.5h0m1 1.5h0m5.5 2.5h0m5.5-2h0m5 2h0m3-3.5h0m1.5-1h0m1.5 4h0m7-3.5h0m2-1.5h0m0 3h0m4.5-0.5h0m1.5 1.5h0m6.5-3h0m1.5-0.5h0m1 3h0m0.5-0.5h0m9-2h0m39.5 4h0m2.5-0.5h0m2.5 0h0m3.5-2.5h0m0.5 1.5h0m1.5-1h0m0-2h0m1 5.5h0m2-5.5h0m1.5 1.5h0m1.5 3.5h0m6-0.5h0m-146.5 5h0m4.5-1.5h0m19.5 3.5h0m3.5-2h0m0 0.5h0m4-2h0m1.5 2.5h0m1-2h0m0.5-0.5h0m1-1h0m1 0h0m4-0.5h0m26.5 1.5h0m4.5-1.5h0m0 0h0m1.5 0.5h0m3-0.5h0m0 4.5h0m1.5-0.5h0m14-0.5h0m2.5-0.5h0m2.5 2h0m0.5-1.5h0m19-1h0m2-1h0m0 1.5h0m0.5-1.5h0m1 2.5h0m1.5-1h0m2.5-3.5h0m1.5 2h0m2 1.5h0m3.5 1h0m0.5-3.5h0m1 0.5h0m1.5-1h0m0.5 0h0m1.5 1.5h0m0.5 0h0m1 3.5h0m0.5-2h0m1.5 2h0m0-6h0m2 1.5h0m0.5 3h0m1 1h0m1-0.5h0m2.5-1.5h0m4.5 2h0m0.5 0.5h0m4-3h0m-154 5h0m1.5-2h0m0 3h0m0 2h0m0.5-0.5h0m6 0.5h0m3-3h0m0.5 0.5h0m3.5 3h0m8-3.5h0m2.5-1.5h0m0.5 3.5h0m1 0h0m9.5-1.5h0m0.5 1h0m0 2h0m7-2.5h0m1-1h0m2.5 1h0m6.5-1h0m0.5-2h0m3 1.5h0m4.5 3h0m1.5 0.5h0m5-3h0m0.5-0.5h0m4.5 2.5h0m1.5-3h0m5.5 4h0m2.5-1h0m6-3h0m0 1.5h0m2-2h0m7.5 3.5h0m1.5-1h0m0.5 0.5h0m1.5-3h0m0 1h0m2 3h0m0-4h0m4.5 3.5h0m4-1.5h0m0.5 0h0m0 0h0m2-1h0m1.5 4.5h0m0.5-2.5h0m0.5 0.5h0m0.5-0.5h0m1 0h0m1.5 0.5h0m1.5 0.5h0m0-2.5h0m0.5 3h0m2-3.5h0m1 0.5h0m1.5 1h0m1-2h0m2.5 4h0m1-1h0m1 0.5h0m2 0.5h0m0.5-3h0m0.5 1.5h0m1 2h0m0.5-3h0m2.5 0h0m2.5-1.5h0m1.5 1h0m0.5 4h0m0-3.5h0m0.5 2.5h0m1.5-1.5h0m8.5 2h0m-158.5 3h0m2 3.5h0m1-5h0m0 5h0m0.5-2h0m7.5-2.5h0m2 4.5h0m1.5-1h0m2 0h0m0.5-3h0m0 2h0m0.5 0h0m4.5 1.5h0m4-4h0m2 0.5h0m0.5 1.5h0m2-2h0m2.5 1.5h0m2.5-3h0m0.5 5h0m4-3h0m3 2h0m0.5 0.5h0m4.5 0h0m4.5-3h0m5.5 0.5h0m1.5-0.5h0m2 4h0m3.5-0.5h0m2-3.5h0m4.5-0.5h0m0 0.5h0m4-1.5h0m1.5 3.5h0m0.5 0h0m2 2h0m0.5-5h0m4 5.5h0m3.5-1h0m3.5-0.5h0m0.5 1.5h0m1.5-2.5h0m8-3h0m3 2h0m4-2h0m3 0h0m1 4.5h0m0.5 0.5h0m1 0h0m0.5-5.5h0m0.5 1h0m1 2h0m1 1h0m3.5-1.5h0m2 0h0m1-1.5h0m1 2.5h0m0.5-1.5h0m0 0h0m2.5 0.5h0m0.5-1h0m0.5 2h0m1 2.5h0m0.5-4.5h0m1 3h0m0 1.5h0m0-5h0m1 4h0m0.5-4.5h0m1 4.5h0m1-2.5h0m0.5 1.5h0m0-3.5h0m0.5 2.5h0m2.5-3h0m3 2h0m2-1.5h0m1 2.5h0m0.5-2.5h0m1.5 0h0m4.5 0.5h0m6 3h0m0-1h0m0.5-2h0m-152 7.5h0m4.5 1.5h0m0.5-3.5h0m0.5 1.5h0m1.5 2.5h0m2.5-0.5h0m2.5 1.5h0m7.5 0h0m1 0h0m3-3h0m1 1.5h0m1.5-3h0m0 0.5h0m3 0.5h0m3 3h0m7-3h0m4-1.5h0m1 3h0m1.5-2h0m1.5 1h0m7.5-0.5h0m17 0.5h0m1 1.5h0m0.5-3h0m0 4h0m5.5-4.5h0m0.5 4h0m10.5-1h0m15.5-3.5h0m0.5 3h0m1.5-3h0m0 1h0m1.5 0h0m1 3.5h0m2 0h0m1.5-1h0m2 0.5h0m1-1h0m2 3h0m1.5-4h0m3.5 2.5h0m1.5 0.5h0m1 0.5h0m2 0h0m0.5-3h0m1.5 0.5h0m0.5 1h0m0.5-0.5h0m0 1h0m0-2h0m0.5 2h0m0.5-4h0m1 0.5h0m0 4.5h0m2.5-3h0m0 0.5h0m0.5-1h0m1.5 1h0m2 0h0m1 0h0m0.5-0.5h0m1.5 0.5h0m0.5 1.5h0m0-4h0m0 1h0m0.5 3h0m1-0.5h0m0.5 1h0m1-3.5h0m0.5 1.5h0m1.5 3h0m0-4h0m0.5-1.5h0m5 0.5h0m1 3h0m0 0h0m-155.5 4h0m2-2h0m0 0h0m0 4h0m0.5 1h0m6.5 0h0m2 0h0m8.5-1.5h0m1.5-1h0m10.5 0.5h0m6 1.5h0m1-2.5h0m0 3h0m1.5-4h0m4.5 4.5h0m1-5h0m5.5 3.5h0m0.5 1h0m6.5-4.5h0m1.5 2.5h0m0 0h0m7 1.5h0m1.5-3.5h0m5-1h0m1 0.5h0m9.5 0.5h0m3.5 1h0m0.5 1.5h0m2 1.5h0m3 0h0m0.5-3h0m6.5 0h0m0.5 0h0m6.5 0h0m6 1h0m1 1.5h0m5 1.5h0m0-1.5h0m0.5-3.5h0m1 0h0m1 4.5h0m3.5-1h0m0.5-3.5h0m0.5 2.5h0m2.5-2h0m2 4.5h0m3-2.5h0m4 0h0m1 2.5h0m2.5-3h0m0 3h0m2.5-4.5h0m0 1.5h0m0.5 2.5h0m0.5-2h0m0.5-1h0m0 0h0m1.5-1h0m2.5-0.5h0m0.5 3h0m2.5 0h0m7-2.5h0m-161.5 9.5h0m1-0.5h0m1-1.5h0m1 0.5h0m0 1h0m4-4h0m1 3h0m2 0h0m0.5-0.5h0m10.5 1.5h0m0.5-0.5h0m6-3h0m0.5 2.5h0m0 2h0m2-5h0m10 5.5h0m1-3h0m9.5 0h0m5.5 2h0m7 0h0m1-1h0m10.5-1.5h0m1 2.5h0m1-4h0m15 5h0m3-4.5h0m7.5-1.5h0m0.5 1.5h0m1 3.5h0m14-5h0m1 0h0m0 1h0m2-0.5h0m1.5 3h0m0-0.5h0m3 2h0m2-2.5h0m0 3h0m0.5 0h0m8.5-1h0m0.5 1h0m3.5-4.5h0m3 4h0m2.5-2.5h0m7-1h0m1 2h0m-155.5 4.5h0m0 3.5h0m1.5-2.5h0m4.5-2.5h0m2 0.5h0m10.5 1h0m1 4h0m0.5 0h0m0.5-2.5h0m1.5-3.5h0m1 0.5h0m1 1h0m2.5 1.5h0m0-1h0m1 1h0m0.5 0h0m1.5-2h0m1 2.5h0m1-3h0m1.5 1h0m12 2h0m3 0.5h0m1-2.5h0m2 1h0m0.5 2.5h0m1-2.5h0m3.5-0.5h0m4 3h0m2.5 0h0m6.5-4h0m7 4h0m18.5-4.5h0m1.5 2.5h0m5-2.5h0m4 3h0m3.5-1h0m21 2.5h0m2-2.5h0m1.5 0.5h0m1-1h0m1-2h0m1 4h0m3.5-2h0m0.5 1h0m0.5 0h0m2.5-0.5h0m1-0.5h0m1-1.5h0m-143 7.5h0m2-0.5h0m0.5-1.5h0m4 4h0m0 1h0m2-3.5h0m0.5 2.5h0m1.5-1.5h0m2.5-1h0m2.5 0h0m0 3.5h0m1-1h0m2.5 1.5h0m3 0.5h0m0.5-4.5h0m1 2h0m2.5 1h0m5.5 1.5h0m0-3h0m3 2h0m3.5-3h0m0.5-1.5h0m1.5 0.5h0m1 5h0m4-2.5h0m2.5 0.5h0m0 2h0m1-4.5h0m2.5 3.5h0m2.5-3h0m1 0h0m0.5 0h0m0.5 1.5h0m1.5-1.5h0m4.5 0.5h0m0.5-0.5h0m2 4h0m4.5-5h0m2 2.5h0m1.5-2.5h0m0.5 3.5h0m0 0h0m1.5-2h0m0.5 0h0m1.5 3h0m2.5-0.5h0m17-3h0m34 1h0m1-1.5h0m1 4h0m-131 6h0m0-4h0m1.5 4.5h0m4.5-0.5h0m0.5-4.5h0m2 1.5h0m0.5-2h0m5 4h0m4.5-2.5h0m0-0.5h0m0.5-0.5h0m0 1h0m0.5-1h0m0.5 4h0m0.5-1.5h0m0.5-2.5h0m0.5 4.5h0m1-3.5h0m0.5 0h0m6.5 2h0m1-3h0m1.5 3.5h0m3-1.5h0m2 2h0m3.5-1.5h0m2 1h0m0-1h0m2 2h0m3.5-3.5h0m0 2h0m2-3.5h0m2.5 4.5h0m1-5h0m0.5 1.5h0m4-0.5h0m4.5 3.5h0m1-1.5h0m1 2h0m0-1h0m0.5-1.5h0m36-1.5h0m24 1h0m-130.5 6h0m2.5 1h0m1 1h0m0-4h0m0.5 2.5h0m1 0h0m3-1.5h0m2.5 2h0m0 0.5h0m4.5-3h0m2.5-0.5h0m1.5 1.5h0m3.5-1h0m5.5 2h0m1 2h0m0.5-3.5h0m0-1h0m1.5 1.5h0m5-0.5h0m0.5 1.5h0m0.5 2h0m1-3.5h0m2-0.5h0m1.5 0h0m0.5 0h0m1.5 4.5h0m6.5-3.5h0m2 1.5h0m0.5 2h0m1-4h0m1.5 2.5h0m2 0h0m0.5 0h0m2.5-2.5h0m0 4.5h0m1-0.5h0m5.5-3.5h0m4 0h0m52 1.5h0m5 3h0m0-5h0m1 1.5h0m1-0.5h0m-127.5 10h0m1.5-4h0m3 3h0m10-2h0m2.5 0h0m1 0h0m0.5-0.5h0m1.5-1.5h0m0 3h0m0.5-1.5h0m0.5-1.5h0m0.5 4h0m2-2h0m2 1.5h0m1.5-0.5h0m0-4h0m4.5 5.5h0m0.5-5.5h0m2 3.5h0m0.5-1h0m3.5-2h0m0.5 1h0m8.5 2.5h0m3.5-1h0m2 2.5h0m2-5.5h0m0.5 3.5h0m7.5-3h0m28.5 2.5h0m8.5 0.5h0m0.5 1.5h0m24.5-4.5h0m1.5-0.5h0m-118.5 7.5h0m0 4.5h0m2.5-3.5h0m1.5-2h0m6 4h0m5 0.5h0m4-0.5h0m0.5 0h0m3-2h0m1.5 2.5h0m7-1.5h0m0-0.5h0m1.5-0.5h0m2.5 2h0m1-3h0m0.5 1.5h0m14.5-2h0m34.5-0.5h0m11.5 0.5h0m15 3.5h0m2-4h0m0 2h0m1.5-1h0m2.5 1h0m3 3h0m-124.5 3h0m13.5 3h0m6-2h0m3 1h0m1.5-2h0m0-1h0m2.5-1h0m2 1h0m1-1.5h0m4.5 1h0m3 1.5h0m3-0.5h0m1.5-1h0m48.5 0.5h0m15-1h0m7 0.5h0m4 3.5h0m3-3h0m0.5 1.5h0m1.5-2.5h0m-101.5 7h0m0.5-1h0m66 5h0m3.5-3h0m2-0.5h0m5.5 0h0m4 1.5h0m2 2h0m0-3h0m8 3h0m2-3h0m3.5-2.5h0m-35 7h0m14 4h0m1.5 0h0m15.5-0.5h0m1-2h0m3-1h0m-36 7h0m1-1h0m1.5 1h0m2.5-2h0m14 2h0m1 3h0m0.5-1.5h0m1.5-2h0m0 0.5h0m1.5 2.5h0m1-2.5h0m3-0.5h0m0.5 3h0m0.5-4h0m2 2h0m2 2h0m6.5-0.5h0m1-2.5h0m5 1h0m-30 3.5h0m1 1h0m0.5 0.5h0m2.5 0.5h0m1-1.5h0m0.5 3.5h0m0.5 1h0m0.5-1h0m1 1.5h0m3.5-2h0m1 1h0m1 0h0m0.5-3h0m0.5 2h0m0.5 0.5h0m0 0.5h0m0.5-2.5h0m2-2h0m7 2.5h0m1.5 2h0m2-3h0m-32 8h0m7.5-1h0m0.5-2.5h0m1 0.5h0m3.5-0.5h0m1 0.5h0m0.5 0.5h0m0 4h0m1-5h0m1 5.5h0m0-1h0m0.5-3.5h0m0.5 0h0m1-0.5h0m1.5 0.5h0m1.5 0h0m0.5 3h0m3-1.5h0m4.5 2h0m-22 2h0m1 1h0m2 1.5h0m2.5-3h0m4 2.5h0m1 1h0m2.5 2h0m6-2.5h0m1.5 0.5h0m-22.5 3.5h0m16-1.5h0" stroke="#b8b8b8" stroke-width="1.2" stroke-linecap="round" fill="none"/></g><g font-size="4.5" fill="#333" text-anchor="middle"><text x="64.3" y="999.5">1</text></g><filter id="ub2" x="-20%" y="-20%" width="140%" height="140%"><feGaussianBlur stdDeviation="2.6"/></filter><g filter="url(#ub2)"><polygon points="242.3,938 254,941.2 266.9,946.6 282.9,955.1 298.9,966.9 309.6,980.8 312.8,989.4 310.1,999 306.4,1006.5 301,1018.2 288.2,1031 277.5,1041.8 261.5,1051.3 240.1,1054.5 221.9,1047 216.6,1031 219.8,1017.1 223,1004.3 224.1,983 229.4,956.2 234.8,943.4" fill="#eeeeee"/><circle cx="357.9" cy="992.5" r="23" fill="#ef9a93"/><ellipse cx="330.4" cy="1076" rx="14.5" ry="13.5" fill="#f9e590"/><polygon points="342.4,1035.5 349.4,1037.5 341.4,1067 323.4,1067 318.4,1049.5" fill="#fdf5d4"/><polygon points="307.4,974.5 335.9,979.5 340.9,1009.5 303.4,1012" fill="#f7f7f7"/></g><g opacity="0.75"><path d="M231.5 944h0m4 1h0m3.5-4.5h0m3-1h0m4.5 0h0m1 0.5h0m4.5 4h0m3 0.5h0m3-1h0m-25.5 6h0m2.5-3.5h0m4.5 1h0m2 1h0m3.5-0.5h0m3.5 1.5h0m0.5 1.5h0m3.5 0h0m0.5-0.5h0m3-0.5h0m15.5-0.5h0m-33.5 5.5h0m4.5 0h0m0.5-1h0m3.5 3h0m2.5-3h0m1 0h0m1 3h0m1-2h0m3-3.5h0m1 0h0m2 2.5h0m0 1.5h0m7 0.5h0m1-2.5h0m4.5 3.5h0m2-1h0m4-3h0m1 0h0m5 4h0m-48 4h0m5.5-1.5h0m1.5-1h0m0 3h0m1.5-0.5h0m4.5 0h0m3.5-1h0m2.5 0h0m17.5 1.5h0m1-1.5h0m5 0h0m3.5 0h0m0.5 1h0m1.5 0h0m2 0.5h0m0-1.5h0m3 0.5h0m9 3h0m-65 6h0m1-5.5h0m0 1.5h0m2 0.5h0m2.5 2h0m1 0.5h0m1-4.5h0m5.5 4.5h0m1.5-2.5h0m1 2h0m1.5 0h0m3-4h0m7.5 1.5h0m2.5-1.5h0m1 3.5h0m1.5-2h0m2.5 3h0m2.5-4.5h0m7.5 1.5h0m0-0.5h0m0.5 3h0m3-0.5h0m6.5 1h0m4.5-4.5h0m4.5 3h0m4 2h0m2-1h0m-79.5 1.5h0m5.5 5h0m6-2h0m2 1.5h0m1.5 0.5h0m0.5-3.5h0m0.5 1h0m0.5 1h0m7.5-1.5h0m5.5-1h0m2 4h0m0.5-0.5h0m2 1.5h0m0.5-3.5h0m0 2.5h0m1-3.5h0m9.5 4h0m5.5-5h0m10 2.5h0m1.5 1h0m1.5-2.5h0m7-1h0m2.5 0.5h0m6.5 0h0m-72.5 5.5h0m0 0h0m2 4.5h0m1 1h0m2.5-5.5h0m2.5 0h0m1.5 5.5h0m3-5.5h0m1 0h0m0 4.5h0m5.5-4.5h0m2.5 5h0m1.5-3h0m5.5 2.5h0m1-2.5h0m1 1.5h0m1-3h0m0.5 2.5h0m0.5 0.5h0m1.5-1.5h0m3.5 3h0m5.5-2.5h0m2 1.5h0m2.5 0h0m0-1.5h0m3.5-2.5h0m8 2h0m3 1h0m0 2h0m0.5-5.5h0m0.5 4h0m7 1.5h0m1.5-2h0m9-0.5h0m-84.5 6h0m4-2.5h0m2 3.5h0m5.5-3h0m1.5 3h0m0 1.5h0m1.5-4.5h0m7.5 1h0m2 1.5h0m8.5-0.5h0m0.5-2h0m6 1h0m3.5-1.5h0m1.5 4h0m0.5-1h0m1.5-1.5h0m9.5-1.5h0m3.5 2.5h0m1 2h0m0.5-3h0m2.5 3.5h0m1.5-2h0m3.5-3h0m-67.5 9.5h0m2 0.5h0m0-1.5h0m0-1h0m1 1.5h0m2 0h0m1 1h0m6 0.5h0m4.5 0h0m1-1.5h0m2-1.5h0m1-1.5h0m0.5-0.5h0m4.5 5h0m0.5 1h0m0-6h0m3.5 1h0m1.5 3.5h0m5.5-2.5h0m2.5 1.5h0m4.5-2h0m1 1h0m3 0h0m2-2h0m7.5 2h0m1.5 0h0m3 3h0m0-3.5h0m1.5 0.5h0m0.5-1h0m0.5-1h0m0 0h0m5.5 5.5h0m1-4h0m2 0.5h0m1.5 3h0m9-5h0m0 2.5h0m-85 7.5h0m2 0h0m5-1.5h0m1.5-1h0m4.5 1h0m6-1.5h0m3.5 2.5h0m3-3h0m5 2h0m5.5 0h0m6.5-1.5h0m1.5 4h0m3.5-2h0m1.5 0.5h0m2-2h0m2 2.5h0m0 0h0m1-2.5h0m0.5 2.5h0m1-0.5h0m0.5-4h0m6 0.5h0m1 2h0m2.5 2h0m4.5-4.5h0m8 2.5h0m1 3h0m0-4.5h0m2.5 0h0m0 4.5h0m0.5-4h0m0.5 3.5h0m6.5-3.5h0m-88 10h0m5.5-2.5h0m4.5 0h0m1.5-2.5h0m2 4.5h0m0.5-1h0m4 1.5h0m4.5 0h0m0.5-0.5h0m1-0.5h0m8-3h0m1-0.5h0m6.5 3h0m0.5-1.5h0m3 0.5h0m2.5 1h0m1-1.5h0m1.5-1.5h0m10 4h0m0.5 1h0m7.5-1h0m2 0h0m2-1h0m10.5 0h0m-79.5 7.5h0m0.5-1h0m1-2.5h0m1.5 2.5h0m2-2h0m2.5 2h0m0.5 0h0m1-2h0m0.5 2h0m0.5-1.5h0m0.5-1.5h0m0.5 0h0m8 2.5h0m1.5-1h0m5-2h0m0.5 2.5h0m1-1h0m2-1h0m1 0.5h0m0 3.5h0m1-2.5h0m1.5 0h0m0.5 1.5h0m13-3.5h0m2.5-0.5h0m0 4h0m1 0h0m5 0h0m1.5-0.5h0m1.5 2h0m0.5-4.5h0m0.5-1.5h0m0.5 3h0m5-0.5h0m2.5 2h0m0.5-1.5h0m1.5-0.5h0m2.5-1h0m5.5 2.5h0m3-2.5h0m-82 8h0m3-2.5h0m0 0.5h0m1.5 2h0m4 0h0m0.5-0.5h0m3-1.5h0m2 4h0m4.5-1h0m5.5-2h0m0.5 0.5h0m0-2.5h0m0.5 5h0m1-5h0m2 4.5h0m0 0h0m3 1h0m3-3h0m11.5 0.5h0m3 1.5h0m0-3.5h0m0.5-1h0m5.5-0.5h0m3 1.5h0m1 0h0m5 4.5h0m2.5-3h0m3-2.5h0m1 3.5h0m0-2h0m2 0h0m3-1h0m3 1.5h0m0 2h0m0.5-0.5h0m-84 6.5h0m2 0h0m2.5-2.5h0m1.5 1h0m0.5 0.5h0m0.5-2h0m2 3h0m2.5 1h0m1.5-0.5h0m1.5-3h0m0.5 1.5h0m1.5-1.5h0m5 1.5h0m1.5-1.5h0m3-0.5h0m2.5 2h0m0 0h0m1-1.5h0m6 0h0m0.5 2h0m1.5-4h0m10.5 0.5h0m1 1.5h0m2.5 2.5h0m0 1.5h0m5.5-2.5h0m2.5-2.5h0m6.5 3h0m2.5-2h0m0.5 2.5h0m4.5-1.5h0m-73.5 7.5h0m0.5 0.5h0m1.5-1.5h0m2 0h0m4 2h0m0.5 0.5h0m1-1h0m0.5 0h0m4 1h0m0.5-1h0m0.5-2h0m2 1.5h0m2-2.5h0m6.5 1.5h0m0.5 2h0m5.5 0h0m5.5-5.5h0m5 3.5h0m0.5 0.5h0m4 1.5h0m0.5-5h0m1.5 0.5h0m1.5 1h0m3 2h0m0 0h0m1-3.5h0m2 4.5h0m5.5-3h0m3.5 2h0m0-1.5h0m0 3h0m2-4h0m0.5 4h0m0.5-1h0m5.5-4.5h0m1 1.5h0m3.5-1.5h0m1.5 4.5h0m-80 6h0m0.5-0.5h0m4.5 0h0m0.5-2h0m0.5-1.5h0m0.5 4h0m7.5 0.5h0m2.5-4h0m2.5 3h0m5 1.5h0m2.5-4.5h0m4 2h0m0.5 3h0m3.5-2.5h0m1-3.5h0m5.5 1h0m0 3h0m2.5 1h0m2.5-1.5h0m1 0h0m2-2h0m1.5 0.5h0m2.5-2h0m2 2.5h0m8.5 2h0m3.5-3h0m-61.5 8.5h0m2.5-0.5h0m12 0h0m0-0.5h0m8-2h0m3.5 1h0m4.5-1.5h0m7 2h0m1 1.5h0m12.5 1.5h0m0.5-3h0m0.5 0h0m6 1.5h0m2-4h0m1 3.5h0m-60.5 5h0m0-0.5h0m7.5-1.5h0m2.5 3h0m1 0h0m3 2.5h0m0.5-4.5h0m2.5 1h0m2.5 3h0m10-2.5h0m0.5-2h0m1.5-0.5h0m0.5 3h0m2 1h0m4-4.5h0m0 5h0m1-3h0m1.5 1.5h0m0 1.5h0m7-5h0m4 0h0m-51 6h0m9 2.5h0m3.5 2h0m2.5 1.5h0m5.5-5h0m0.5 2.5h0m5.5 0h0m1.5-1.5h0m2 3h0m2.5-4.5h0m5.5 0h0m3.5 1h0m-22 4.5h0m11 1.5h0" stroke="#b8b8b8" stroke-width="1.2" stroke-linecap="round" fill="none"/><path d="M307 969h0m16.5-1h0m7-1h0m-14 12h0m7.5 1.5h0m2-2h0m-12 7.5h0m1.5-3h0m5 3h0m5 0h0m2-4h0m-17.5 8.5h0m7-3h0m1 2.5h0m10.5-1h0m3-0.5h0m-18 4.5h0m2.5 5.5h0m2.5-2.5h0m4-1.5h0m5.5-0.5h0m1 4.5h0m-20 0.5h0m4.5 4.5h0m4-1.5h0m14.5-0.5h0m-23 6h0m4.5-1h0m5 1h0m10-0.5h0m-15.5 5.5h0m7.5 3h0m7.5 8h0" stroke="#d8d8d8" stroke-width="1.2" stroke-linecap="round" fill="none"/><path d="M346.5 969h0m4.5 4h0m4-1h0m3.5 0h0m0 2h0m5-4.5h0m1 2.5h0m0 2.5h0m1-1.5h0m5-2.5h0m-55 5h0m26.5 5.5h0m0.5-3.5h0m1-2.5h0m1.5 6h0m1.5-3.5h0m0-1h0m2 4.5h0m0-5.5h0m1 2.5h0m5.5-0.5h0m0-2.5h0m1 3.5h0m0.5-3h0m0.5 1.5h0m0 1h0m1-0.5h0m0 3.5h0m0.5-4.5h0m2 0h0m1-1h0m0.5 0h0m3 0.5h0m1 2h0m1-1.5h0m1.5 2h0m1 2h0m1.5-1h0m0.5 0.5h0m4-3.5h0m-60 9h0m8.5-0.5h0m5.5 0h0m0.5-0.5h0m4-0.5h0m1.5 2h0m1-0.5h0m3-0.5h0m2.5-3.5h0m2.5 4.5h0m1-4h0m0.5 4.5h0m0-2h0m5-3h0m0 0.5h0m2-0.5h0m1 1.5h0m0.5-1.5h0m2 2h0m1-2.5h0m1 0h0m1.5 1h0m1.5 0h0m1.5 3h0m1.5-1.5h0m1.5-0.5h0m0 0.5h0m2 1.5h0m0-0.5h0m0.5 1.5h0m1.5 0h0m0-0.5h0m0.5-1.5h0m0 1.5h0m1-1.5h0m0.5-1h0m0.5-1.5h0m2.5 1.5h0m2.5 0.5h0m-50 4.5h0m3.5 4h0m4-3h0m1-1.5h0m2.5 2h0m1-1h0m3-1h0m2.5 3h0m1.5-2h0m2 4h0m2.5-4.5h0m1 1.5h0m0 3h0m0.5-1h0m0.5-1.5h0m0 3h0m0.5-3h0m1 2h0m0.5 1h0m1 0h0m3.5-4.5h0m0.5 1.5h0m2.5-2.5h0m0.5 2h0m1.5 3.5h0m3-3h0m3-1.5h0m0 2.5h0m0.5-1h0m0-2.5h0m2 5h0m0.5-1h0m3.5-0.5h0m1.5-1.5h0m2 3.5h0m2-4.5h0m-59.5 7h0m0.5-2h0m5 3h0m5.5 0.5h0m1.5 1h0m0-3.5h0m1.5 1.5h0m0 1h0m0 2h0m1.5-5h0m2 3.5h0m2-4h0m2 1h0m0 2h0m2.5-2h0m2-1h0m0.5 1h0m0-0.5h0m0-0.5h0m1 1h0m1 3h0m0.5 0h0m2-1.5h0m0.5 0.5h0m0.5-3h0m0 2h0m0.5 3h0m0-0.5h0m1-5h0m2 5.5h0m1 0.5h0m1-3.5h0m1-0.5h0m1-0.5h0m0.5 4h0m2-1h0m0.5-2.5h0m2-0.5h0m0.5 3.5h0m3.5-1.5h0m0.5-0.5h0m2-0.5h0m2-1.5h0m1-1h0m0.5 0h0m1 3h0m0 1h0m0-2h0m-56 7.5h0m12-3h0m3.5 3.5h0m2 0h0m1.5-1h0m0-1h0m3.5 3h0m5.5-3h0m0-1h0m0.5 2h0m0.5 2h0m1.5 0.5h0m2-0.5h0m0-3.5h0m1.5 0h0m2 0.5h0m2 1h0m1.5 0h0m0.5 3h0m1.5-3.5h0m1 0h0m1.5 2.5h0m2.5-3h0m1.5 2.5h0m0.5-2.5h0m1-1h0m1 0h0m0 3.5h0m2-3.5h0m1 3.5h0m2 1h0m-65.5 1h0m22 0.5h0m2 3h0m5.5-2h0m3 0h0m0.5 1.5h0m3-3.5h0m1 3.5h0m3-0.5h0m0.5-1.5h0m3 0h0m1 3.5h0m0-1.5h0m0.5-2.5h0m0 2h0m1-0.5h0m4 0h0m2-1.5h0m0 1h0m0 3h0m2-2h0m2-1.5h0m1.5 1h0m0 3.5h0m1-5h0m0-1h0m1 4.5h0m4-3h0m-24.5 7h0m1.5-1.5h0m0.5 2h0m0.5-1.5h0m1.5 1.5h0m1-0.5h0m2.5 3h0m0.5-4h0m0 2.5h0m5.5-4h0m1 1h0m3.5 2h0m-40.5 4h0m17.5 4.5h0m3.5-5.5h0m1.5 0.5h0m-3.5 5.5h0m-8 9.5h0m5 2h0m0.5-5h0m2 2.5h0m2.5 0.5h0m-5.5 6.5h0m0.5-3.5h0m6 0.5h0" stroke="#de3325" stroke-width="1.2" stroke-linecap="round" fill="none"/><path d="M309 1037.5h0m30.5 3h0m7.5 0.5h0m-33 3h0m23.5 1.5h0m4.5 1h0m0.5-3h0m0 2h0m0.5 0h0m1.5 0h0m1.5-2h0m1 2.5h0m-39 4.5h0m6 2.5h0m14.5-0.5h0m1 0h0m15-0.5h0m0.5-4.5h0m0 1h0m-33 7.5h0m3.5-2.5h0m19.5 5.5h0m1.5-1h0m1-0.5h0m0.5-3.5h0m1 0h0m0.5-0.5h0m0.5 4h0m3-2h0m-37 9h0m21.5-1.5h0m2.5-3.5h0m2 4.5h0m2-2.5h0m1-1.5h0m0.5 4h0m0.5-2.5h0m3.5 0.5h0m1 1.5h0m1 1.5h0m-26 4.5h0m2.5-0.5h0m9 1h0m1-3.5h0m1.5 3.5h0m2.5 0.5h0m2-0.5h0m0-3h0m2-0.5h0m2 2.5h0m0 0.5h0m5.5 0h0m-25 2h0m3 4.5h0m1.5 0h0m3-2.5h0m0.5 0.5h0m0.5-1h0m0.5 3.5h0m0-4.5h0m0.5 3h0m2 0h0m0-4h0m0.5 0h0m0 3h0m0 1h0m0.5 2h0m0.5-5.5h0m0.5 0h0m1 4h0m0 0.5h0m1.5-0.5h0m0-3h0m0.5 3h0m1 0.5h0m0 0h0m1-1h0m0.5 0.5h0m1-1h0m7-2.5h0m-27.5 8.5h0m3-3h0m2 3.5h0m4-3.5h0m2.5 5h0m2-1h0m1.5-1.5h0m0 1h0m2-3h0m0 0h0m1-0.5h0m1.5 2h0m0.5-2.5h0m4.5 0.5h0m-21.5 7.5h0m2 2.5h0m0.5-2h0m1-1.5h0m2.5-0.5h0m4 2.5h0m5 2h0m-15 1.5h0m8 2h0m1.5-1h0" stroke="#f4cd2e" stroke-width="1.2" stroke-linecap="round" fill="none"/></g><g font-size="4.5" fill="#333" text-anchor="middle"><text x="257.9" y="999.5">1</text><text x="357.9" y="994.5">2</text><text x="330.4" y="1074.5">3</text></g><filter id="ub3" x="-20%" y="-20%" width="140%" height="140%"><feGaussianBlur stdDeviation="2.6"/></filter><g filter="url(#ub3)"><polygon points="435.9,938 447.6,941.2 460.5,946.6 476.5,955.1 492.5,966.9 503.2,980.8 506.4,989.4 503.8,999 500,1006.5 494.6,1018.2 481.8,1031 471.1,1041.8 455.1,1051.3 433.7,1054.5 415.5,1047 410.2,1031 413.4,1017.1 416.6,1004.3 417.7,983 423,956.2 428.4,943.4" fill="#eeeeee"/><circle cx="551.5" cy="992.5" r="23" fill="#ef9a93"/><ellipse cx="524" cy="1076" rx="14.5" ry="13.5" fill="#f9e590"/><polygon points="536,1035.5 543,1037.5 535,1067 517,1067 512,1049.5" fill="#fdf5d4"/><polygon points="501,974.5 529.5,979.5 534.5,1009.5 497,1012" fill="#f7f7f7"/></g><g opacity="0.75"><path d="M431.5 944.5h0m4-3.5h0m3 2.5h0m3-1h0m0.5-1h0m12 2h0m2 1.5h0m-31.5 5h0m2-2.5h0m4.5 1h0m1 2.5h0m0.5-3.5h0m3 2.5h0m0-3h0m6 3.5h0m0.5-3.5h0m0.5 1.5h0m2 0h0m4.5 0h0m0 2.5h0m1-2h0m1-2.5h0m2 2.5h0m0.5-2.5h0m0.5 3h0m-28.5 6.5h0m2.5-0.5h0m0.5-2h0m0.5 2h0m7-1h0m2.5 0h0m9 0.5h0m5-2.5h0m5 0h0m9 0h0m14 2.5h0m-54.5 3.5h0m0.5 1h0m0.5 2h0m3.5-2h0m2.5 0h0m0.5-2h0m7.5 0h0m1.5 2.5h0m2.5 2.5h0m4-3h0m1 3h0m2.5-2h0m1 0.5h0m8-2h0m1-1h0m5 4.5h0m2-5h0m0 3h0m1-0.5h0m4.5 2.5h0m5 0h0m-56.5 4h0m0.5-3h0m2 5h0m4.5-0.5h0m1.5-1h0m3-3.5h0m0 0.5h0m1 2.5h0m0.5 0h0m1.5-1.5h0m0.5-1.5h0m0.5 3.5h0m3-2h0m4.5 4h0m4.5-4h0m0.5 2h0m1-1h0m1.5 2.5h0m0.5-3.5h0m0 2.5h0m2-3h0m1 2h0m6 2.5h0m6.5-0.5h0m2.5-5h0m4 2.5h0m2 0.5h0m1.5 1h0m0.5-4.5h0m8.5 2h0m2 1.5h0m-71 3.5h0m4 1h0m5 2.5h0m2.5-3.5h0m1 0h0m7 4.5h0m0.5-1.5h0m1-2.5h0m0.5 3h0m4.5-3h0m4.5 1h0m4-2h0m0.5 1h0m2 2h0m0 1h0m0.5 0h0m2-4h0m3.5 5h0m0.5-0.5h0m1 0.5h0m2 0h0m0-3.5h0m0 0h0m6 2.5h0m5 0.5h0m0.5-4h0m2 2h0m2.5 2.5h0m5.5-0.5h0m6.5-1h0m-79 6.5h0m6.5 1.5h0m1-4.5h0m2.5-0.5h0m0 4.5h0m2-3h0m4-0.5h0m0.5-1h0m4.5 0h0m1 4.5h0m0.5-4.5h0m0 0.5h0m1 0.5h0m1.5 1h0m1 2.5h0m0.5-5.5h0m0.5 3h0m3 0.5h0m6 0h0m0.5-3.5h0m1 1.5h0m1.5 4.5h0m1-6h0m2.5 2h0m4 2.5h0m2-0.5h0m4-1.5h0m6-2h0m0.5 0h0m1 2.5h0m1.5 2.5h0m0-3.5h0m4 2h0m3-3h0m6 4h0m4.5-1.5h0m3-0.5h0m0 3h0m-80 4h0m7 0.5h0m2-1h0m1.5-2.5h0m1.5-0.5h0m1.5 0h0m2-0.5h0m1 1.5h0m0.5-0.5h0m6 4.5h0m1.5-1h0m6-2.5h0m1 2h0m0 1h0m0.5-3h0m2-1h0m5 3h0m2-3.5h0m1 4.5h0m1.5 1h0m1.5-3.5h0m1.5-2h0m7-0.5h0m4 3h0m6-1.5h0m5.5 4h0m2.5-4.5h0m9 2.5h0m4-3h0m-81 5.5h0m1 4.5h0m1-1.5h0m3.5-3h0m3.5 4h0m3 1.5h0m1.5-1.5h0m2.5-3h0m9 0h0m2.5 2h0m6.5 1h0m4-3.5h0m0 0h0m0.5 5h0m4-4.5h0m0.5 3.5h0m3.5 1h0m1-2.5h0m10 2.5h0m7.5-4.5h0m0-1h0m1.5 1h0m4.5 0h0m0.5 4.5h0m9-4h0m2 3.5h0m0.5 0.5h0m4-4h0m-94 10h0m6-2.5h0m3-0.5h0m1-2h0m1 2.5h0m1 3h0m1.5-4.5h0m2.5 1h0m5-2h0m7 4.5h0m3-1.5h0m0.5-2.5h0m2 1.5h0m1.5 3.5h0m0.5-4.5h0m3 3.5h0m5 1h0m7-6h0m1 0h0m0.5 2.5h0m2-0.5h0m2.5 0h0m1.5 0.5h0m5 2h0m3.5-4h0m4 5.5h0m3.5-4h0m9 1.5h0m2-2h0m0.5 1.5h0m3.5-3h0m-84 7.5h0m1 4.5h0m0-4.5h0m3 0h0m1 0h0m0.5 2h0m0.5 0h0m2-2h0m3.5 1h0m3.5-2h0m0.5 0.5h0m3 0.5h0m5-0.5h0m1 4.5h0m12-3h0m0.5 1h0m2 0.5h0m1-2h0m7 2h0m4.5 0.5h0m3-0.5h0m1-1.5h0m0.5-2h0m2 2.5h0m1 1h0m4.5 0h0m1 1.5h0m1-5h0m2.5 5.5h0m1-4.5h0m1.5 3h0m8-4.5h0m5 3h0m-87 5.5h0m10 0h0m3.5 1.5h0m0-3h0m1 3h0m0.5 2h0m0-5.5h0m2.5 0h0m17 1.5h0m6.5 0h0m0-1h0m3.5 1h0m6 1h0m1.5-1.5h0m11 2h0m0.5 2h0m0 0.5h0m5-3h0m2.5 1h0m4.5-2h0m3 4h0m4.5-0.5h0m-81 3.5h0m1 2h0m7-1.5h0m2.5-2.5h0m0 4h0m2.5-3h0m6.5 1h0m0.5-2h0m1.5 3h0m4.5-4h0m2.5 2h0m0.5 0.5h0m0.5 1h0m0.5 0h0m1.5-1h0m7.5 2.5h0m1.5-3.5h0m2.5 4h0m1-2h0m1-2.5h0m0-0.5h0m0 3h0m5 1.5h0m0.5-4.5h0m0.5 3h0m1 1h0m1-1h0m2.5 0h0m0.5 1h0m1.5 1h0m0.5-3.5h0m7.5-1h0m4-0.5h0m4.5 4h0m0.5-3.5h0m3.5 0.5h0m2.5 2.5h0m-82 4.5h0m0.5-1h0m2 4h0m2-4.5h0m1 3h0m1-3h0m7 2.5h0m3 1.5h0m2-2h0m10 1h0m1.5 0h0m8 0.5h0m1.5-3.5h0m2 3h0m0.5 0.5h0m2-1h0m0.5 1h0m4.5-3.5h0m3 2h0m2.5-0.5h0m0.5-1h0m0 3.5h0m4.5 0h0m4-3h0m2.5 1h0m0.5 0h0m3-2.5h0m2.5 2.5h0m2 1h0m-75 4h0m5-2h0m3.5 3.5h0m3-1.5h0m0-0.5h0m3 4h0m0-3h0m2.5 2h0m3-2.5h0m1.5 3.5h0m0.5-5h0m1.5 2h0m3.5 3h0m2.5-0.5h0m0.5-1h0m4-1h0m3 1.5h0m0.5-3h0m2 4h0m5.5-2.5h0m9.5 0h0m3 1.5h0m1.5-3h0m2.5 2.5h0m0.5-3.5h0m6.5 5.5h0m5.5-4.5h0m-74.5 5h0m5 0h0m0 4h0m6-2h0m0-1h0m4.5 3.5h0m3.5-1.5h0m1-0.5h0m1 1h0m1.5-1h0m4.5 0.5h0m1.5-3h0m5 3.5h0m10.5-1.5h0m7.5-1h0m1.5 3.5h0m1.5-4.5h0m0 3h0m9 2.5h0m0.5-0.5h0m0.5-2.5h0m-59.5 7h0m2 0.5h0m1-1.5h0m1.5 0.5h0m2.5 0h0m3 0.5h0m2-2h0m0-1.5h0m0.5 4h0m2-3h0m5 0h0m0.5 3.5h0m2.5-2.5h0m6.5-1.5h0m2-0.5h0m2 4.5h0m2-2h0m1.5-1.5h0m2 0.5h0m1 1h0m0 1.5h0m0.5-1.5h0m1.5-3h0m0.5 4.5h0m2-3.5h0m0.5 2h0m4.5 1h0m1-3.5h0m0.5 3h0m-56 6.5h0m0.5-3.5h0m9.5 2h0m1.5 0.5h0m1-2h0m3-0.5h0m3.5 2.5h0m1.5-2.5h0m0.5 3.5h0m1 1.5h0m1.5-4h0m5-1h0m4.5 4h0m0.5-3.5h0m0.5 2.5h0m0-0.5h0m0-2.5h0m0.5 1.5h0m2 0.5h0m0-0.5h0m1.5-0.5h0m2.5 1.5h0m6-3h0m7 0.5h0m-48.5 8.5h0m5-2.5h0m4 2.5h0m3 1h0m2-2.5h0m4 0.5h0m1-1.5h0m0 1h0m6 0.5h0m0 0.5h0m2-0.5h0m2 0.5h0m0.5-2h0m7 7h0" stroke="#b8b8b8" stroke-width="1.2" stroke-linecap="round" fill="none"/><path d="M520.5 972.5h0m-17.5 7.5h0m2-1.5h0m9.5 0.5h0m9.5-2.5h0m-24 5h0m16 3.5h0m1-0.5h0m3 1.5h0m-17 4h0m2 0h0m1-1.5h0m0.5 2.5h0m3.5-0.5h0m11-0.5h0m4.5 1h0m-25 7h0m6.5-1.5h0m-6 5.5h0m7.5-1.5h0m1.5 4h0m8.5-4h0m1.5 1h0m1.5 1h0m-16.5 7h0m0 0.5h0m1.5-2.5h0m6-1h0m2.5 0.5h0m0.5-1.5h0m0.5 4h0m-8 1.5h0m1.5 8h0" stroke="#d8d8d8" stroke-width="1.2" stroke-linecap="round" fill="none"/><path d="M555.5 967.5h0m-39 6.5h0m20-2h0m0.5 1h0m2.5-0.5h0m0.5 0.5h0m0.5 2h0m5.5-1h0m1-4h0m3 1.5h0m2.5-1h0m0 2h0m2 1h0m1-1.5h0m4 2h0m4 0.5h0m2-1h0m-31.5 3.5h0m5 2h0m0.5 1h0m0.5-0.5h0m0.5-3.5h0m0.5 0h0m1.5 0h0m0.5 0.5h0m0.5-1h0m0.5 0h0m0.5 3h0m1-3.5h0m1 1.5h0m0.5 0h0m0.5 1.5h0m2-0.5h0m2 1.5h0m2.5-1h0m1 3h0m4-0.5h0m0-1.5h0m1-3h0m1 5h0m0-2h0m0.5 1h0m0.5-5h0m0 5.5h0m0 0h0m0.5 0h0m2-1.5h0m0-2.5h0m1 1.5h0m1 0.5h0m-58.5 3.5h0m3 3h0m8-3.5h0m1 4h0m13-2h0m1-1h0m2 4h0m1-4h0m0 3.5h0m2.5-3h0m1.5-1h0m1 1.5h0m0.5 2h0m0.5-2h0m0-0.5h0m0.5-1.5h0m0 2.5h0m0.5-1.5h0m0-1h0m1.5 0.5h0m5 1.5h0m1-2h0m1 3.5h0m1-2h0m0.5 1.5h0m1-3h0m0 1.5h0m0.5-1h0m0 3.5h0m3-3h0m0 2.5h0m0.5-1.5h0m1.5-2h0m1 2.5h0m3 2.5h0m1 0h0m0.5-5.5h0m1.5 5.5h0m1.5-3h0m1 1h0m0.5-1.5h0m0.5 1h0m-60.5 4.5h0m7 4h0m15 0h0m0-2.5h0m1-1h0m5.5 2h0m1-2h0m2 1h0m1.5 2h0m5.5-1h0m0-3h0m7-0.5h0m0 4.5h0m0.5-0.5h0m3.5-3.5h0m3 3h0m1 1h0m2-2h0m0.5 1.5h0m1.5-4h0m0.5 4.5h0m1 1h0m0.5-4.5h0m1.5 1.5h0m0.5-1h0m4-2h0m-67 10h0m3-1h0m15.5-1.5h0m0.5 1h0m0.5-1.5h0m0.5 4.5h0m3-2.5h0m0.5-1h0m0.5-1h0m1.5 2.5h0m2 2h0m0-4.5h0m0.5-0.5h0m0 2.5h0m0.5 0.5h0m0-3h0m0 0h0m0.5 2h0m0-2.5h0m2 3.5h0m0.5 1.5h0m4.5-3h0m0.5 0.5h0m0-1h0m5.5 0.5h0m3.5 0h0m1 3.5h0m1-4.5h0m0.5 1.5h0m1.5 0h0m3 2.5h0m1-2.5h0m2-2h0m1.5 5h0m0.5-2.5h0m0.5 0.5h0m1 0.5h0m0-0.5h0m1 1.5h0m0-4h0m0.5 3h0m0.5-2h0m3 1h0m1.5-2.5h0m-59.5 9h0m4-2h0m7.5-1h0m3.5 3h0m0.5-3h0m1.5 0.5h0m1 0h0m2 2.5h0m1 2h0m1-3h0m2 0h0m1-1.5h0m7 2.5h0m0.5-3h0m1.5 5.5h0m2-5.5h0m0 2.5h0m0.5-3h0m1.5 0h0m1.5 1h0m2.5 4.5h0m1-4h0m2 3h0m0.5 1.5h0m2-4h0m0.5 2.5h0m0-1h0m1.5 1h0m1 1h0m6-2h0m-66 2.5h0m0 0.5h0m24 1h0m3.5-1h0m1.5 0h0m3.5 1.5h0m1 0.5h0m2-1.5h0m2.5 3.5h0m0-3h0m0.5 1h0m0.5 2h0m0.5-1h0m0-2.5h0m3 2h0m0 1.5h0m2.5-2.5h0m6 4h0m0-3.5h0m0.5-1.5h0m0.5 1h0m3-0.5h0m2 3h0m3-1.5h0m1-1.5h0m2 1h0m-34.5 4h0m5 2h0m1-1h0m1 3.5h0m1-4h0m0.5 2.5h0m9.5-0.5h0m2-0.5h0m0.5-1.5h0m0.5 4h0m1-5h0m0.5 1h0m7 0h0m0.5 3h0m1-1.5h0m3.5-1.5h0m-27.5 10h0m1.5-4.5h0m1.5 0.5h0m0.5 0.5h0m2 2.5h0m0 2h0m6.5-5h0m-11.5 9.5h0m-5 5.5h0m1.5 6h0m3.5-2.5h0m0.5 0h0m0 9h0" stroke="#de3325" stroke-width="1.2" stroke-linecap="round" fill="none"/><path d="M521 1040h0m16-2.5h0m-19 6.5h0m5 1.5h0m6 0h0m6.5-1h0m1.5 1.5h0m0.5 0h0m2.5-4h0m0.5 3h0m1.5-4h0m-39.5 8h0m2.5 1.5h0m0.5-0.5h0m4-1.5h0m18-0.5h0m5.5 0.5h0m3-1.5h0m1 1.5h0m-33 5h0m22.5 2.5h0m1.5 1.5h0m4.5-4.5h0m1.5 5h0m0.5 0h0m1.5-3.5h0m-17 9h0m1-4h0m0 3h0m1.5 0h0m0.5 0.5h0m0.5 1.5h0m4-1h0m2-0.5h0m0.5-3.5h0m3.5 4.5h0m2.5-5h0m3.5 0.5h0m-29 5.5h0m1.5 3h0m5 2.5h0m0.5 0.5h0m0-5h0m4.5 5h0m0.5-3.5h0m1.5-0.5h0m0 3.5h0m0-3h0m0.5-2h0m0 4.5h0m2-2.5h0m0.5 0.5h0m0 1h0m0 1h0m0.5-2.5h0m5.5 3.5h0m-24 5h0m3-3h0m0.5 1h0m9 0h0m1.5 2h0m0-4.5h0m0 2.5h0m0.5 0h0m2.5 1h0m0.5-2h0m0 2h0m1 1.5h0m2-1.5h0m0.5-0.5h0m1.5-2h0m0.5 4h0m1.5-2.5h0m3 0.5h0m-26.5 3.5h0m5.5 2.5h0m2-3.5h0m1 4h0m3.5-0.5h0m0-1.5h0m1.5-1.5h0m0.5 1h0m1.5-1h0m1 0.5h0m0 0.5h0m1-1h0m1.5 0.5h0m0 2h0m1.5 0.5h0m0-3h0m0.5 1.5h0m1-1h0m0 4h0m1 0.5h0m5-1.5h0m-22 3h0m1.5 2h0m4.5 1h0m2-2.5h0m4 2.5h0m0-1h0m3-3h0m10.5 0.5h0m-24.5 5.5h0" stroke="#f4cd2e" stroke-width="1.2" stroke-linecap="round" fill="none"/></g><g font-size="4.5" fill="#333" text-anchor="middle"><text x="451.5" y="999.5">1</text><text x="551.5" y="994.5">2</text><text x="524" y="1074.5">3</text></g><filter id="ub4" x="-20%" y="-20%" width="140%" height="140%"><feGaussianBlur stdDeviation="2.6"/></filter><g filter="url(#ub4)"><polygon points="629.4,938 641.2,941.2 654,946.6 670,955.1 686.1,966.9 696.8,980.8 700,989.4 697.3,999 693.6,1006.5 688.2,1018.2 675.4,1031 664.7,1041.8 648.7,1051.3 627.3,1054.5 609.1,1047 603.8,1031 607,1017.1 610.2,1004.3 611.3,983 616.6,956.2 622,943.4" fill="#eeeeee"/><circle cx="745.1" cy="992.5" r="23" fill="#ef9a93"/><ellipse cx="717.6" cy="1076" rx="14.5" ry="13.5" fill="#f9e590"/><polygon points="729.6,1035.5 736.6,1037.5 728.6,1067 710.6,1067 705.6,1049.5" fill="#fdf5d4"/><polygon points="694.6,974.5 723.1,979.5 728.1,1009.5 690.6,1012" fill="#f7f7f7"/></g><g opacity="0.75"><path d="M627 943.5h0m7.5 1h0m2-1.5h0m1-0.5h0m0.5-3h0m2.5 5h0m-20.5 4.5h0m1.5-2.5h0m1 0h0m0.5-0.5h0m13 3h0m0-3.5h0m1.5 4h0m2.5-1h0m7.5 1h0m7.5-0.5h0m-37 6.5h0m7.5 0h0m1-3.5h0m3.5-0.5h0m3.5 3h0m1.5 0.5h0m0-1.5h0m3.5 2h0m1-1h0m0 2h0m2-0.5h0m0.5-4h0m2.5 2h0m1.5-0.5h0m4.5-2h0m6-0.5h0m6 3.5h0m0.5-1h0m0 2.5h0m3.5-4.5h0m4.5 2.5h0m-53.5 7.5h0m0.5-0.5h0m5.5-2.5h0m4.5 0.5h0m3 4h0m5-2h0m8 1.5h0m8-3.5h0m4.5 1h0m6.5 1.5h0m1.5-4h0m0.5 5.5h0m0.5-3.5h0m8 2h0m1.5 0h0m-61.5 5.5h0m2 0.5h0m0.5 1h0m2.5-1.5h0m3-2.5h0m1 0h0m2.5-0.5h0m2 3h0m0 0.5h0m4 1h0m3.5-1h0m2-1h0m0 2h0m0.5-3.5h0m2-1.5h0m4 4h0m3.5 1h0m1.5-3h0m4 3h0m1-1h0m3.5-4.5h0m1.5 4h0m2.5 0.5h0m1 1h0m0.5-4h0m3 0.5h0m1 3.5h0m0.5-4h0m12.5-1.5h0m1 1.5h0m0.5 4h0m2-4h0m1.5 0.5h0m-60.5 6.5h0m4.5 0.5h0m4.5 1h0m0 1.5h0m3 0h0m4.5 0h0m4 0.5h0m4-1.5h0m2-2.5h0m2 0h0m0.5 1h0m3-1.5h0m4 2.5h0m1 0.5h0m0.5-2.5h0m2.5 1h0m2.5 2h0m2.5 0.5h0m2.5 0h0m13.5-1h0m2-3h0m-75.5 6h0m0.5 3h0m1.5-3h0m7.5 0.5h0m0 0.5h0m2 0h0m2 1h0m0 1h0m4-2h0m10-1.5h0m1.5 3.5h0m2 0h0m7-0.5h0m3-3h0m0 1.5h0m2-1h0m0 4.5h0m2.5-3.5h0m0.5 2h0m1.5-2h0m1 3h0m0.5-0.5h0m2.5-3h0m7-1h0m1.5 0.5h0m3.5 2h0m5 0.5h0m11-2.5h0m1 2.5h0m3-1h0m-83 4h0m2.5 4h0m1-4h0m0.5 4.5h0m1-2.5h0m8.5-2.5h0m2 4h0m1-4h0m3 4.5h0m0-0.5h0m1 0h0m1 1h0m4-2.5h0m5.5 1.5h0m4 0.5h0m6-5h0m0 6h0m0.5-5h0m3.5 3h0m1-1.5h0m3-2h0m1.5 0h0m1 3h0m0.5-2h0m4 0h0m2-1h0m1.5-0.5h0m4.5 4h0m4 0.5h0m3.5-4h0m0-0.5h0m3.5 0.5h0m5.5-0.5h0m-80.5 12h0m0-5h0m1 2.5h0m1-0.5h0m5 0.5h0m1.5 1h0m3.5-0.5h0m2.5 2h0m3.5-4h0m1-0.5h0m2.5 1.5h0m3 1.5h0m0.5-0.5h0m1 1h0m0.5-3h0m0 2h0m3 1.5h0m2-3h0m5.5 0h0m7 1h0m0.5 1.5h0m1-2.5h0m0.5 0.5h0m3 2h0m5.5-1.5h0m8-1.5h0m5.5 3.5h0m2.5-4h0m4 2.5h0m8 1h0m3.5-2.5h0m2 3.5h0m1-6h0m-90 11h0m6.5-0.5h0m0.5 1.5h0m1.5-1.5h0m4.5 0.5h0m7-3.5h0m0 1h0m4-0.5h0m6 2h0m0 1.5h0m0.5-5.5h0m4.5 5.5h0m0-4h0m4 2.5h0m2-1.5h0m0 3h0m1-1h0m1 1h0m6.5-1.5h0m0.5-0.5h0m5.5 0h0m3.5 2h0m0-3h0m1-0.5h0m1-0.5h0m1.5-1h0m2 1.5h0m2 3h0m0.5-2.5h0m1-2.5h0m0.5 0.5h0m5 1h0m0-1.5h0m0.5 4.5h0m11 0h0m0.5-1h0m-80.5 5h0m1 3.5h0m2.5-0.5h0m1 0.5h0m0-5h0m5 1h0m0.5 2.5h0m1-1.5h0m0-0.5h0m0-2h0m2 3h0m0.5-3h0m3.5 3h0m0-2h0m0.5 3.5h0m2-0.5h0m1-0.5h0m0.5 0.5h0m1-1.5h0m2 1.5h0m1.5-3h0m1 1.5h0m1.5-2.5h0m2 1.5h0m4 1.5h0m5.5 0h0m2.5 1.5h0m3 0.5h0m2.5-3h0m1-1h0m1.5 1h0m0.5 0h0m0.5 0.5h0m10.5-1.5h0m2 0h0m0.5 0h0m3 0.5h0m2 4h0m0.5-4.5h0m1.5-0.5h0m3 0.5h0m0.5 0.5h0m3.5 1h0m-83 5h0m1 3.5h0m0 0h0m1.5 0h0m1-4h0m1 4.5h0m1-0.5h0m0.5-2h0m3.5-1.5h0m2-1.5h0m1 1.5h0m1 1.5h0m0.5-2h0m3.5 2h0m1-2h0m1.5 2.5h0m0-0.5h0m6 0h0m3 0h0m0.5-1h0m0 3h0m1.5 0h0m7-4h0m1.5 2.5h0m0.5-2h0m1-0.5h0m7 1h0m4 2h0m1.5-1.5h0m6-2.5h0m2 2.5h0m4 2h0m1.5-2h0m0.5-0.5h0m1 1.5h0m4.5-1.5h0m0 1h0m3.5-0.5h0m0.5-3h0m1.5 4h0m1-4h0m1.5 5.5h0m-82.5 3h0m2 0.5h0m0.5 0.5h0m4.5 0h0m5-3h0m4 4h0m4-3h0m1 1.5h0m1 1h0m18-2h0m2.5 3h0m0-4.5h0m2.5 2.5h0m0.5 0.5h0m0.5-0.5h0m0.5 0h0m0.5 2.5h0m0.5-5.5h0m0 2h0m0.5-2h0m0.5 3.5h0m2.5-1h0m5 1h0m0.5-1.5h0m3 0h0m0.5-1.5h0m4.5 3.5h0m4 0.5h0m6.5-1.5h0m1-2h0m-67.5 6.5h0m1-0.5h0m3-1h0m3 5h0m2-4.5h0m9 3.5h0m0.5-0.5h0m4.5 0h0m7.5 2h0m4.5-3h0m3.5 1.5h0m1.5 2h0m3-3.5h0m2.5-2.5h0m3.5 0h0m2.5 2h0m-65.5 8.5h0m5-2h0m1.5-1h0m1 2.5h0m1.5-1h0m0.5-1h0m2.5-1h0m2 3h0m0.5-4h0m0.5 5h0m0-3h0m0.5 3.5h0m5-1h0m9.5-3.5h0m1 4h0m1.5-3h0m1.5 0.5h0m5-1.5h0m3-1h0m7 5h0m5.5 0h0m0.5-1h0m4.5-4h0m6 3h0m5-2.5h0m4 5h0m2-3h0m-73 7h0m0.5-1.5h0m2 0.5h0m0.5-2h0m3 4h0m2-1.5h0m3-1.5h0m11.5 1.5h0m3.5-1h0m1-2h0m2 2h0m1.5-1.5h0m1 4.5h0m5.5-3.5h0m7.5-0.5h0m5.5 4h0m0.5-0.5h0m3.5-0.5h0m4.5-4h0m2.5 2.5h0m-62.5 5h0m0.5 2h0m4 2h0m2-5.5h0m3.5 5h0m0.5-3h0m6 3.5h0m0-3h0m1 0h0m1 2h0m3.5 1h0m1.5-5.5h0m0 1.5h0m3.5 4.5h0m1.5-3h0m2.5-1.5h0m1 4h0m1-1.5h0m3.5-2.5h0m1 1.5h0m0 2.5h0m1.5-4.5h0m0.5 2.5h0m0-2.5h0m1 3.5h0m4.5-2.5h0m0.5-1.5h0m2 3.5h0m0.5 2h0m0.5-1.5h0m7.5-2h0m1.5 1.5h0m1.5-4h0m1 2h0m2 0.5h0m-58.5 5h0m1.5 0.5h0m3.5 3h0m0.5-3h0m2.5-0.5h0m2.5 1h0m3 1h0m3.5 1h0m2-2h0m0.5-2.5h0m7.5 1h0m1.5 0.5h0m0 0.5h0m3.5-0.5h0m1 1h0m0.5-2h0m2.5 4h0m0-4h0m2 3.5h0m0.5-2.5h0m5.5 1h0m-39 5h0m6.5 1h0m2 2.5h0m5.5 0.5h0m1.5-2h0m11.5-2.5h0m1.5 1h0m-8 6.5h0" stroke="#b8b8b8" stroke-width="1.2" stroke-linecap="round" fill="none"/><path d="M705.5 972.5h0m14-1.5h0m0.5 3.5h0m-23.5 3.5h0m-1 6h0m4.5-1.5h0m9.5-1.5h0m5.5 0.5h0m2.5 3h0m-8 8h0m1 0.5h0m-14.5 3.5h0m10.5-1.5h0m1 2h0m0.5-1.5h0m2.5 0.5h0m3.5 0h0m1 0h0m-16.5 8.5h0m3-2h0m2 1.5h0m1 1h0m2-2.5h0m1-1h0m1 1.5h0m-14 6h0m19 1h0m-1.5 2.5h0m2 2h0m-9 8h0m11-4.5h0m2 13h0m-23 12h0" stroke="#d8d8d8" stroke-width="1.2" stroke-linecap="round" fill="none"/><path d="M710.5 964h0m29.5 4h0m-36.5 5.5h0m0.5-1.5h0m32.5 3h0m3.5-5h0m2.5 3h0m0.5 1.5h0m3-1.5h0m1-3h0m0.5 3.5h0m0-1.5h0m1.5-1.5h0m1 1h0m0 1h0m1-1h0m1-1h0m2.5 3h0m3 0.5h0m-47 2.5h0m17.5 3h0m2 0.5h0m0.5-3h0m1 0.5h0m0.5-2h0m0 0.5h0m4 1.5h0m1.5-0.5h0m1.5 1.5h0m1 2h0m0-4h0m1 2.5h0m0.5-1.5h0m0.5-1h0m0.5 4h0m2.5-3.5h0m1 0h0m0.5 0h0m1 3h0m0.5-3.5h0m0.5 2h0m3.5 0h0m2 1.5h0m0.5-4h0m0.5 0h0m1.5 3.5h0m0.5-1.5h0m0.5-2.5h0m3 4h0m0-2.5h0m7 2.5h0m-60 2h0m3 3h0m5-1.5h0m0.5 4h0m6-5.5h0m1 0h0m1.5 4.5h0m2-1h0m3.5 2h0m0.5-2.5h0m0 0h0m7 0h0m0.5-1.5h0m1.5-1.5h0m0 3.5h0m0.5-0.5h0m1-2h0m2.5 2h0m1.5-2h0m0-0.5h0m1 0.5h0m0.5 2.5h0m0.5-3h0m3.5 0h0m0.5 1.5h0m0.5 0.5h0m0.5 2.5h0m0.5 0h0m1.5 0.5h0m2.5-3h0m1 1.5h0m0-2.5h0m0.5-0.5h0m1 1.5h0m0-0.5h0m2-1.5h0m-59 6h0m11.5 3h0m1 1.5h0m5-2.5h0m1.5 1.5h0m1.5 0.5h0m0.5-2h0m1.5 1h0m0-2.5h0m0.5 0.5h0m0.5 1h0m3-1.5h0m0-1h0m4 4h0m3.5-1h0m1.5 0.5h0m0.5-2h0m0 2.5h0m0-2h0m1.5 3h0m1-3h0m1 0.5h0m2 2.5h0m2-2h0m2 2.5h0m1-2h0m2 0.5h0m0.5-1.5h0m0 0h0m3.5 0h0m2.5 2h0m2-3.5h0m0.5 1h0m1 1.5h0m3.5 2h0m4-5h0m2 2.5h0m-61.5 7.5h0m11 0.5h0m4.5-4h0m1 2h0m1.5-1h0m0 1h0m0-3h0m2 4.5h0m2.5-2h0m1.5 1h0m1 0h0m0.5 1.5h0m2-5h0m1.5 2h0m3 2.5h0m2.5 1h0m4-5h0m1 3h0m0.5 1.5h0m3.5 0h0m0.5 0h0m1-1.5h0m0-3.5h0m0 3h0m1.5 2.5h0m1-6h0m0.5 3h0m1.5 0.5h0m0 2.5h0m2.5-1h0m1-2.5h0m0.5 1h0m3.5 0h0m3-2.5h0m1 3h0m-66 6h0m3.5 0h0m6-3.5h0m0-0.5h0m15.5 2h0m1.5 0h0m1.5-0.5h0m0.5 3h0m0.5-4h0m3 0h0m1.5 3.5h0m5-3h0m2.5 3.5h0m1.5-2h0m0.5 2h0m0-3.5h0m0 2.5h0m0.5 2.5h0m2.5-1.5h0m1-1h0m1 2.5h0m0.5-3h0m0.5 0h0m0.5-1.5h0m2 1h0m4.5-1.5h0m1-1h0m1 2h0m0.5 2h0m2-3h0m1-0.5h0m5 3h0m-47 3.5h0m2.5 2.5h0m0 2h0m1.5-5.5h0m5.5 6h0m1-4.5h0m0.5-1.5h0m0 2.5h0m1 0.5h0m2.5 1.5h0m0.5-3.5h0m1 4h0m0-5h0m1 1.5h0m1 1.5h0m1-1h0m2.5-0.5h0m1.5 0.5h0m0 2h0m2.5-0.5h0m0-1h0m1 0h0m2-1.5h0m2.5 4h0m3-5h0m1.5 6h0m0.5-2h0m1-3h0m-33 5h0m12 1.5h0m1.5 0.5h0m2.5 4h0m0-4h0m3.5 1.5h0m2.5-3h0m1 2h0m1.5 1.5h0m1-3.5h0m2 0h0m0 2h0m0.5-2h0m-21 8.5h0m5-0.5h0m1-2h0m3 0.5h0m3-0.5h0m-13 10h0m1.5 0.5h0m2 0.5h0m-4 1h0m1.5 3.5h0m2 0.5h0m0-1h0m0-2h0m3.5 0h0m-11.5 7.5h0" stroke="#de3325" stroke-width="1.2" stroke-linecap="round" fill="none"/><path d="M692.5 1037.5h0m1.5 1.5h0m42 1.5h0m-35 5.5h0m9-2.5h0m1 1h0m18.5 0.5h0m1-2h0m0 3h0m-38 2h0m3 1.5h0m0.5 2.5h0m3-1.5h0m30.5 2h0m-34.5 4.5h0m5.5-2h0m12 2.5h0m4.5-0.5h0m4 0h0m0.5-0.5h0m1.5 0h0m2 0h0m2.5 0.5h0m1-0.5h0m0.5-2.5h0m1.5 3h0m-13 2.5h0m0 1h0m2 3.5h0m2-4.5h0m2.5-0.5h0m0.5 5h0m-32 2.5h0m9.5 0.5h0m2 0h0m1 1.5h0m8-1h0m1 2.5h0m1.5-4h0m0 1.5h0m1.5-1h0m1.5 1.5h0m2.5 1h0m2-2h0m0.5-1h0m0 2.5h0m1.5 1h0m0-4h0m2 5h0m3 0.5h0m-26 5.5h0m0-1.5h0m2.5 0h0m3.5-3.5h0m3 3.5h0m0.5-2h0m1.5 1h0m0-1.5h0m0.5 2.5h0m3-0.5h0m0 1h0m0.5-3h0m0.5-0.5h0m0 2.5h0m1.5 0.5h0m1-2h0m0 0.5h0m0.5 1.5h0m0.5 1.5h0m0.5-0.5h0m0-2.5h0m2.5 0h0m0.5 3.5h0m1-4h0m1-1h0m2 4.5h0m1.5-2h0m0.5 0.5h0m-22.5 4h0m2 2.5h0m0-2.5h0m1.5 0.5h0m0.5 1h0m1 1.5h0m0.5-0.5h0m0-1.5h0m1 0h0m0.5 2.5h0m1-5.5h0m0 2h0m4 3h0m0.5-3.5h0m1.5 0h0m0.5 0.5h0m0.5-1.5h0m2 1h0m2 3.5h0m-20.5 2h0m2 0h0m3.5 0.5h0m3.5 3h0m1.5 0h0m2-3.5h0m-6 6h0" stroke="#f4cd2e" stroke-width="1.2" stroke-linecap="round" fill="none"/></g><g font-size="4.5" fill="#333" text-anchor="middle"><text x="645.1" y="999.5">1</text><text x="745.1" y="994.5">2</text><text x="717.6" y="1074.5">3</text></g><filter id="ub5" x="-20%" y="-20%" width="140%" height="140%"><feGaussianBlur stdDeviation="2.6"/></filter><g filter="url(#ub5)"><polygon points="823,938 834.8,941.2 847.6,946.6 863.6,955.1 879.7,966.9 890.4,980.8 893.6,989.4 890.9,999 887.2,1006.5 881.8,1018.2 869,1031 858.3,1041.8 842.3,1051.3 820.9,1054.5 802.7,1047 797.4,1031 800.6,1017.1 803.8,1004.3 804.9,983 810.2,956.2 815.6,943.4" fill="#eeeeee"/><circle cx="938.7" cy="992.5" r="23" fill="#ef9a93"/><ellipse cx="911.2" cy="1076" rx="14.5" ry="13.5" fill="#f9e590"/><polygon points="923.2,1035.5 930.2,1037.5 922.2,1067 904.2,1067 899.2,1049.5" fill="#fdf5d4"/><polygon points="888.2,974.5 916.7,979.5 921.7,1009.5 884.2,1012" fill="#f7f7f7"/></g><g opacity="0.75"><path d="M824 940.5h0m2.5 2.5h0m2.5-0.5h0m0-3h0m1 5h0m14.5 0h0m-30 0.5h0m0 2.5h0m7.5-1h0m1 4.5h0m0.5-3h0m2-2h0m3.5 3h0m2 1h0m4.5-0.5h0m0.5-0.5h0m0 2h0m3-4.5h0m2.5 3.5h0m0-1.5h0m2.5 1h0m3 0.5h0m0.5 1h0m2-3h0m4 1h0m-39.5 5h0m4 1h0m5.5 0.5h0m0.5-0.5h0m4.5-2.5h0m10.5 3.5h0m1-1.5h0m0.5-3.5h0m2.5 5.5h0m3.5-5.5h0m0 4h0m6 1h0m6-2.5h0m1-1.5h0m1.5 4.5h0m-52.5 1.5h0m0.5 3.5h0m1-3.5h0m1.5 0h0m6.5 0h0m2.5-0.5h0m2.5 4.5h0m6.5-2h0m10-2h0m8-0.5h0m0.5 1.5h0m3-1h0m7.5 3.5h0m1-1h0m5 1.5h0m3-3.5h0m2.5 3h0m3-2.5h0m0.5 3.5h0m-63.5 2h0m0.5 2.5h0m1 0.5h0m0.5-1h0m2.5 0.5h0m1 0.5h0m4-4h0m1 3h0m0-1h0m11.5-1h0m1 3.5h0m0-3.5h0m3.5 3.5h0m1-3.5h0m1 1.5h0m1-2.5h0m6 5.5h0m4.5-3h0m1 3h0m8-4h0m7 0h0m-57 9.5h0m2-4h0m0.5 1.5h0m5 1h0m2.5-1.5h0m1 1.5h0m4-2.5h0m3.5 0h0m6 3.5h0m2.5-5h0m2.5 1h0m2.5 3.5h0m0.5-3.5h0m1 4.5h0m0.5-4.5h0m4.5 0.5h0m2 2h0m4.5-2.5h0m6 3h0m2 0.5h0m1.5-2.5h0m5.5 1.5h0m6.5 1h0m1-3.5h0m5.5 4.5h0m-74.5 1.5h0m2.5 4.5h0m2.5 0h0m1.5-5.5h0m3 5h0m3.5-0.5h0m12.5 1h0m0 0h0m1-1h0m1-0.5h0m2.5 2h0m0.5-5.5h0m3.5 1.5h0m1 0.5h0m0.5-0.5h0m1 3.5h0m2-3.5h0m3.5-2h0m5 3h0m2.5 2.5h0m11.5-2.5h0m0.5 3h0m0.5-1.5h0m5-3h0m3-1h0m1 5h0m1.5 0h0m6.5-1h0m1.5-0.5h0m-84 5.5h0m2 0h0m0 0h0m4 1h0m0.5 1.5h0m0.5 0h0m4.5-2.5h0m1.5 1h0m1-3h0m2 2.5h0m2 0h0m0.5 0h0m0.5-1h0m4 1h0m11 1.5h0m4-4h0m0.5-0.5h0m2-0.5h0m0.5 3.5h0m0.5-0.5h0m2 1h0m1.5-1.5h0m0-1h0m0.5 1h0m4-3h0m0.5 1h0m1.5 4h0m1-2h0m0.5 2h0m1.5 0.5h0m0-4.5h0m7.5 0h0m1.5 2h0m6 0.5h0m1 0h0m2-1.5h0m0.5 2h0m1.5-3h0m0.5 3h0m7-1.5h0m0.5-1.5h0m0 3.5h0m4-4h0m3.5 1h0m-84.5 5.5h0m1.5 2.5h0m4.5-2h0m1-1h0m2 0.5h0m3.5 4h0m4.5-4h0m0.5 0.5h0m2.5 0h0m2 3.5h0m0.5-2.5h0m4-0.5h0m0-2h0m0 0.5h0m0 5.5h0m3.5 0h0m0.5-1.5h0m5.5-3h0m1.5 0h0m0.5 0.5h0m2.5 2h0m1-1h0m12-0.5h0m3 2.5h0m3-0.5h0m3.5-4.5h0m1.5 0.5h0m9 4.5h0m0.5-3h0m2.5 0h0m-78 9h0m2.5 0.5h0m7.5-4h0m1-1h0m3.5 1h0m9.5 1h0m3.5 2h0m0.5-3h0m0 3h0m0-4h0m2.5 1h0m3-0.5h0m1.5 0h0m4 2h0m3 2.5h0m0.5-4h0m3.5 4.5h0m0.5-1.5h0m1-2.5h0m1.5-0.5h0m0 1.5h0m0.5 1.5h0m0.5-3.5h0m1 3h0m0-2.5h0m13 3h0m4.5-1.5h0m0 0.5h0m3.5 1h0m0 0h0m5-3.5h0m0.5 2h0m1 1h0m3.5-3h0m3.5-0.5h0m-89.5 8.5h0m2.5-2.5h0m3.5 1.5h0m0.5-0.5h0m2.5-1h0m0 2h0m3 3h0m0.5-5.5h0m2 2h0m2 0.5h0m6 2.5h0m6.5-0.5h0m4-1.5h0m0.5 1h0m0.5-3.5h0m3 1h0m3 4h0m0.5-4.5h0m8 1.5h0m4-2h0m2-0.5h0m6 3.5h0m1.5 0.5h0m0 1h0m1-3h0m1.5 3h0m5-2.5h0m5 1h0m0.5-1.5h0m2-1h0m0.5 0.5h0m1 4h0m1-2.5h0m4-1h0m-79.5 10h0m4-5h0m1.5 1h0m3.5-1h0m0 3h0m3 1h0m3-2.5h0m1 2h0m0.5-1.5h0m5.5 2.5h0m0-4h0m4-1.5h0m4 4.5h0m1.5-1.5h0m1-2.5h0m2 3h0m1 2h0m2-4h0m18.5 3h0m1.5 0h0m12-2.5h0m0.5 2.5h0m6.5-0.5h0m0.5 1.5h0m2.5-5h0m0 3h0m-83.5 7.5h0m0-1.5h0m8.5 2h0m4.5-1h0m1.5 1h0m5-2h0m1.5-0.5h0m1.5-1h0m1 2h0m0-3.5h0m5 3.5h0m1.5 0.5h0m4.5-1.5h0m5-1h0m1-1.5h0m4 2.5h0m2.5-2.5h0m2 1h0m0.5 4.5h0m10.5-3.5h0m5 2.5h0m5-2.5h0m6.5-1.5h0m-82 9h0m6.5-1.5h0m0 1.5h0m8.5-3.5h0m0 3.5h0m0.5-0.5h0m2.5-2.5h0m4 4h0m0.5-2h0m0.5-0.5h0m0.5 0.5h0m1-0.5h0m0.5 3h0m2.5-1h0m0.5-3.5h0m1.5 0h0m1 4h0m6.5-0.5h0m3 1h0m0.5-3h0m1 0h0m1-1h0m1-1.5h0m0.5 0.5h0m2.5 1h0m0-1h0m7-0.5h0m3 2h0m1 2.5h0m1 0.5h0m2 0.5h0m3 0h0m2 0h0m2-4h0m-67.5 6h0m1-1h0m0.5 1h0m1.5 0h0m2.5 3.5h0m9-3.5h0m8-1h0m2.5 2h0m0.5-2h0m2 0.5h0m1.5 0.5h0m0 3.5h0m7.5 0h0m3-1.5h0m2-2.5h0m1.5 0h0m2 2.5h0m7.5 0.5h0m4 1h0m4-2.5h0m8 2h0m1.5-1.5h0m1.5-2.5h0m1.5 0h0m0.5 1.5h0m0.5 0h0m-75.5 7h0m5 1h0m1-3.5h0m1 1.5h0m8-0.5h0m2 3.5h0m5-2.5h0m2 2.5h0m1-3h0m1 1h0m1.5 1.5h0m0.5-2h0m0.5-2h0m1 2h0m1.5 2h0m3.5-4.5h0m1 3.5h0m0 1h0m3.5-4h0m2 0h0m1 3.5h0m4-3.5h0m1 1h0m0.5 3h0m1.5-4h0m2.5 1h0m3 0h0m4-0.5h0m8.5 3h0m-62 2.5h0m2.5 3.5h0m1.5-2.5h0m1.5 0.5h0m1-1.5h0m2 1.5h0m1.5 3h0m0-4h0m0 3h0m0.5 2h0m0.5-2h0m0.5 0.5h0m0 0.5h0m3.5-3h0m0.5 2.5h0m2.5 0.5h0m1-4.5h0m3 2h0m8.5-1.5h0m0.5 4h0m2.5-1.5h0m2-1h0m1 2h0m1.5-0.5h0m8.5-3h0m1 2h0m4-2.5h0m0.5 0.5h0m0-0.5h0m5 1.5h0m-52 4.5h0m2 0h0m0.5 0h0m1 3h0m0.5-0.5h0m0.5 0.5h0m4.5 0.5h0m1.5 0.5h0m3.5 0.5h0m3.5-3h0m12-2h0m5 6h0m0-6h0m1 3h0m2 1h0m2 0h0m1-3h0m8 0.5h0m-47 8h0m4.5-1.5h0m3.5 1h0m0.5 1h0m0.5-2h0m5 0h0m1 2h0m1-2.5h0m2 3.5h0m0.5-0.5h0m2-3.5h0m4 2h0m3-1.5h0m10 0h0m2.5-0.5h0m-29 6h0m5.5 0h0" stroke="#b8b8b8" stroke-width="1.2" stroke-linecap="round" fill="none"/><path d="M906 965.5h0m8 9h0m-16 5.5h0m2.5-0.5h0m-7 6.5h0m7.5-3.5h0m-7.5 8.5h0m5 0h0m1.5 1.5h0m2-3h0m1 2h0m-8.5 1.5h0m3 0h0m0.5 3h0m0 1h0m10.5-4h0m3.5 1h0m1-1h0m1 3.5h0m-27 3h0m2.5 4.5h0m8-2.5h0m8 2.5h0m4.5-3h0m2.5 3.5h0m-21 2.5h0m18.5-0.5h0m-19.5 7h0m3.5 0.5h0m1 1h0m3-1h0m4.5-2.5h0m6.5 10.5h0" stroke="#d8d8d8" stroke-width="1.2" stroke-linecap="round" fill="none"/><path d="M913 964h0m29.5 5h0m-46 5h0m20.5-3h0m11 2.5h0m0.5 1.5h0m0.5-1.5h0m1.5-0.5h0m2.5-2h0m0 1.5h0m1.5 0h0m0 0h0m0.5 2h0m4-3h0m1 2.5h0m0.5-2.5h0m7 3h0m0.5-2h0m0.5-1h0m4.5 0.5h0m-46.5 5h0m8.5 3.5h0m7-1.5h0m0.5-3h0m0.5 0h0m0.5-0.5h0m1 4.5h0m0.5 0.5h0m0.5-0.5h0m0-3h0m1-2h0m0 2h0m0.5-2h0m1.5 5h0m0.5-1.5h0m1 1h0m0 1.5h0m1-4h0m2.5 2h0m1-1h0m0.5-0.5h0m0.5 0h0m0 3h0m0.5-1.5h0m2-4h0m1.5 5.5h0m1.5-2h0m0.5-0.5h0m1.5 2h0m2.5-0.5h0m1-4h0m3 1.5h0m2 1h0m1 1h0m0.5 1.5h0m1-2h0m4 1.5h0m-65 3h0m3.5 2h0m0 1h0m10-3.5h0m8.5 0h0m1 4h0m3.5-4.5h0m3-0.5h0m3 2.5h0m0.5-0.5h0m0 3h0m0.5-2h0m2.5 1.5h0m0.5-4h0m0 2.5h0m0.5 2h0m0.5-1h0m0.5-2h0m4.5-2h0m1.5 4h0m1-0.5h0m2 0.5h0m0.5-1.5h0m2 2h0m0-3.5h0m0.5-0.5h0m2-0.5h0m0 0h0m1.5 4.5h0m1-3.5h0m0-1.5h0m0.5 0.5h0m1.5 2h0m0.5-2.5h0m0.5 2h0m3-1.5h0m3 5.5h0m2-4.5h0m-64.5 10h0m16-5h0m2 3h0m2.5-3h0m1 0h0m1.5 4.5h0m0-3.5h0m1.5-1h0m3.5 0h0m0.5 2.5h0m1 3h0m0.5-4h0m2.5 1h0m0.5 0h0m3-2.5h0m0.5 4h0m4.5 0h0m3-1.5h0m4 1.5h0m0.5-2.5h0m1 1h0m0.5-0.5h0m0.5 3.5h0m2-4.5h0m1-1h0m0 2.5h0m0.5 0.5h0m0 1h0m2.5-0.5h0m3.5 1h0m5 0h0m-65 7h0m17-3h0m4 0h0m1 0h0m0.5-2h0m4.5 3.5h0m2 0.5h0m1 1h0m0-4h0m0.5 0.5h0m0 2h0m1-1h0m1.5 2h0m0-0.5h0m1-1h0m0-4h0m0.5 5.5h0m8-2h0m0-1.5h0m0.5 1h0m1.5 1h0m4-2.5h0m1.5 1.5h0m1.5 1.5h0m1.5-4.5h0m2 5h0m1 0.5h0m1.5-3h0m1 3h0m0-2h0m0.5-0.5h0m1.5 2.5h0m0.5-4h0m0 1.5h0m0.5 2.5h0m2-4.5h0m0.5 0.5h0m1.5 2h0m2-0.5h0m-51 5.5h0m8-1.5h0m0 1h0m2.5 2h0m1-3.5h0m2 0.5h0m1 3h0m0.5 0.5h0m1-2h0m0.5 0.5h0m0.5 2h0m0.5-0.5h0m0.5-0.5h0m0.5-3.5h0m0.5 4h0m0.5-4.5h0m3 1h0m2 1h0m8 1.5h0m3.5 0.5h0m0.5-2.5h0m4 1h0m0.5-2h0m1 3h0m0.5 0.5h0m1 1.5h0m2-2.5h0m0.5-2h0m2 1.5h0m3-2h0m-55.5 5.5h0m16 2h0m1.5 0.5h0m1 2h0m0.5-3.5h0m2-0.5h0m1-0.5h0m0.5 4.5h0m0-0.5h0m0.5-2.5h0m2 0h0m0.5 3.5h0m0 1h0m0-1h0m3.5-1h0m2.5 0h0m0.5 1h0m1-0.5h0m3.5-3h0m2 3h0m7 0.5h0m2-2h0m1 2.5h0m-61 2.5h0m34-1.5h0m1 1.5h0m2.5 4h0m1.5-5.5h0m2 1h0m0.5 2h0m1.5 0h0m3-0.5h0m0-2h0m1.5-0.5h0m0 0.5h0m1 0h0m0 1.5h0m0.5 0.5h0m4-3h0m3 1.5h0m0.5 3h0m-21.5 2h0m0.5 3.5h0m1-1h0m3 2.5h0m0.5-4.5h0m-5 5.5h0m2.5 3h0m0.5 2.5h0m-1 0.5h0m-5 9.5h0m0.5-1h0" stroke="#de3325" stroke-width="1.2" stroke-linecap="round" fill="none"/><path d="M923.5 1039.5h0m-17.5 2h0m-12 8h0m13 0.5h0m1-2h0m0.5 0.5h0m8 1.5h0m-29.5 3.5h0m2.5 0.5h0m13-0.5h0m1.5 5h0m5 0h0m4 0h0m4-2h0m7.5-3.5h0m-28.5 8.5h0m2 1h0m9.5-3h0m0 1.5h0m3 3.5h0m1.5-4h0m3.5 3h0m0.5-3.5h0m1 0h0m6.5 2.5h0m-37 5h0m3 2h0m2.5-3.5h0m10.5 2h0m0.5 0h0m0.5 2.5h0m2.5-2.5h0m1 2h0m0.5-2h0m0 1h0m1-3h0m0.5 1.5h0m2 3.5h0m1.5-4h0m0.5 3.5h0m0.5-3h0m0-1h0m1.5-1h0m1 5h0m0 0.5h0m0.5-1.5h0m0-1h0m-19.5 5.5h0m3.5-1h0m2.5 1h0m0.5-2h0m1-0.5h0m1.5 0.5h0m0.5 1h0m1.5 0.5h0m1.5-2.5h0m1 4.5h0m0-1.5h0m1-1.5h0m1.5-0.5h0m1.5-0.5h0m0.5 0h0m3.5 4.5h0m1.5 0.5h0m1 0.5h0m-24.5 5.5h0m1.5-3.5h0m1.5-1h0m1.5 1.5h0m1.5-1.5h0m1 3h0m1-1.5h0m0.5-1.5h0m1.5 2.5h0m0.5-2h0m1 4.5h0m0.5-1.5h0m1.5 1h0m0.5-0.5h0m0.5-4.5h0m1.5-0.5h0m2 5.5h0m0.5-0.5h0m1 0h0m0-4.5h0m3.5 1.5h0m11-1.5h0m-29 7.5h0m1 1h0m0.5-2.5h0m0.5 4.5h0m3-2.5h0m1.5 0h0m1.5 1h0m1.5-3h0m0 0.5h0m1 0h0m2 1.5h0m2.5-0.5h0m3.5-1.5h0m14.5 0h0m-33 6.5h0m13.5 0.5h0m4.5 1h0" stroke="#f4cd2e" stroke-width="1.2" stroke-linecap="round" fill="none"/></g><g font-size="4.5" fill="#333" text-anchor="middle"><text x="838.7" y="999.5">1</text><text x="938.7" y="994.5">2</text><text x="911.2" y="1074.5">3</text></g><filter id="ub6" x="-20%" y="-20%" width="140%" height="140%"><feGaussianBlur stdDeviation="2.6"/></filter><filter id="uc6" x="-30%" y="-30%" width="160%" height="160%"><feGaussianBlur stdDeviation="4.2"/></filter><clipPath id="up6"><polygon points="1016.6,938 1028.4,941.2 1041.2,946.6 1057.2,955.1 1073.3,966.9 1084,980.8 1087.2,989.4 1084.5,999 1080.8,1006.5 1075.4,1018.2 1062.6,1031 1051.9,1041.8 1035.9,1051.3 1014.5,1054.5 996.3,1047 991,1031 994.2,1017.1 997.4,1004.3 998.5,983 1003.8,956.2 1009.2,943.4" fill="#000"/></clipPath><g filter="url(#ub6)"><g clip-path="url(#up6)"><polygon points="1016.6,938 1028.4,941.2 1041.2,946.6 1057.2,955.1 1073.3,966.9 1084,980.8 1087.2,989.4 1084.5,999 1080.8,1006.5 1075.4,1018.2 1062.6,1031 1051.9,1041.8 1035.9,1051.3 1014.5,1054.5 996.3,1047 991,1031 994.2,1017.1 997.4,1004.3 998.5,983 1003.8,956.2 1009.2,943.4" fill="#eeeeee"/><g filter="url(#uc6)"><polygon points="1107.8,973.9 1107.8,1079.5 967.8,1079.5 967.8,1004.7" fill="#f2aea8"/></g></g><circle cx="1132.3" cy="992.5" r="23" fill="#fae9a4"/><ellipse cx="1104.8" cy="1076" rx="14.5" ry="13.5" fill="#ae6171"/><polygon points="1116.8,1035.5 1123.8,1037.5 1115.8,1067 1097.8,1067 1092.8,1049.5" fill="#dfc1c7"/><polygon points="1081.8,974.5 1110.3,979.5 1115.3,1009.5 1077.8,1012" fill="#f9f6f6"/></g><g opacity="0.75"><path d="M1051.5 986.5h0m6.5 0h0m0.5 0h0m8-1.5h0m0-1.5h0m7.5-0.5h0m4-1h0m1 1h0m0.5 2.5h0m3.5 0h0m-58.5 7h0m7-0.5h0m13-2h0m2.5-0.5h0m0 0.5h0m1.5-1h0m3-0.5h0m3 1.5h0m0.5-1.5h0m9 1.5h0m1-0.5h0m0.5-0.5h0m5.5 1h0m9.5-2.5h0m2.5 4.5h0m1-3h0m-78.5 8h0m7-1h0m2.5 1h0m0.5 1h0m5-4h0m2-0.5h0m0.5 5h0m2.5 0.5h0m2-0.5h0m2.5-4h0m2 0h0m1.5 3h0m1-1h0m1.5-2h0m0 1h0m3.5-1h0m6 0.5h0m0.5-0.5h0m7-1.5h0m5.5 4h0m1 0.5h0m13 0h0m0.5-2h0m7 0h0m0 0.5h0m3-1h0m2-1h0m-85 10.5h0m1.5 0h0m6.5-0.5h0m2.5-0.5h0m1.5-1h0m1 0.5h0m5-1.5h0m1 0h0m1-2h0m0.5 3h0m1 0h0m7.5-3.5h0m0.5 2.5h0m9 3h0m0-1h0m0.5-3h0m0 1h0m0-1.5h0m8 2h0m0-2h0m1 0.5h0m3 0h0m1.5-1h0m7 0h0m3.5 5.5h0m4-3.5h0m2 0.5h0m2-0.5h0m3 1h0m2-1.5h0m1 1h0m4 2h0m0 0h0m3-0.5h0m-83 4h0m1-2.5h0m1 0h0m0.5 3h0m1 3h0m2.5-4.5h0m1-1.5h0m1.5 5.5h0m7.5-2h0m2.5 1.5h0m3.5-3.5h0m1.5 0.5h0m1.5-1h0m1 3h0m3.5 0.5h0m2-1h0m1.5-2h0m5.5 4h0m1-1h0m5.5-3.5h0m5 0h0m0 1.5h0m8-1h0m9.5 1.5h0m3-2.5h0m4.5 4.5h0m0-0.5h0m-77.5 5h0m0 2h0m5.5-2.5h0m0 0h0m1.5-1.5h0m0.5 0.5h0m1-0.5h0m3.5 1h0m1.5-2.5h0m5 5.5h0m6.5-3h0m3-1.5h0m3.5 2.5h0m4-1.5h0m0.5-1.5h0m0.5 0h0m9 0h0m3.5 1.5h0m0 1h0m1.5 0.5h0m4.5 1h0m3-1.5h0m9 2.5h0m0.5 0h0m3.5-3h0m1 0h0m1 2.5h0m0.5-0.5h0m0.5-3h0m3-0.5h0m-79.5 9.5h0m5-4h0m3 3.5h0m4.5-2h0m4 1.5h0m7 1.5h0m2.5-3h0m5-0.5h0m0 1.5h0m2 0h0m8 0h0m0 0.5h0m0 2.5h0m1-5h0m3.5 1h0m1 0.5h0m7.5 1.5h0m1.5 0h0m4.5 1h0m0-3h0m0.5 4h0m2.5-3h0m1.5-2.5h0m0 1.5h0m11 0.5h0m1.5 1.5h0m1-1.5h0m-79.5 8h0m0.5-3h0m0.5 4.5h0m1.5-4.5h0m3.5 2.5h0m3-1.5h0m2.5-1.5h0m1.5 2h0m0.5-2h0m1 3h0m4-2.5h0m1 3h0m1-1.5h0m1.5 2.5h0m1.5-1.5h0m5-2h0m1 4h0m5.5-1h0m2-3h0m1 1h0m10 0.5h0m6.5-1h0m1 2h0m3.5-2.5h0m1-1.5h0m0.5 3h0m0 2h0m1.5-3.5h0m6.5 0.5h0m1.5 1.5h0m1-1h0m-75.5 3.5h0m3 0.5h0m1 4.5h0m1-5.5h0m5 0h0m4 3.5h0m5.5-1.5h0m5.5 1.5h0m3 0.5h0m3 1.5h0m1-3.5h0m3 0.5h0m1 2h0m0-3h0m2 1h0m2 1h0m0.5 0.5h0m3 2h0m1.5-4h0m5 2h0m1-3.5h0m0.5 2.5h0m0-2h0m3 3h0m0.5-2h0m4 0h0m5.5 4h0m2.5-2.5h0m-64 3.5h0m2.5 0h0m3 4h0m7-2h0m1-1h0m0-0.5h0m8 4h0m1-5h0m0.5 0h0m2 4.5h0m4-0.5h0m1 0.5h0m6-4.5h0m0 3h0m0-3h0m5.5 0h0m1.5 1.5h0m1.5 4h0m1-4.5h0m0.5 0.5h0m3 3.5h0m5-4.5h0m3 0h0m3-0.5h0m-54.5 9h0m1.5-0.5h0m0.5 2.5h0m0.5-0.5h0m1.5 1h0m2-3.5h0m1 0h0m3-1h0m5 2.5h0m1-1.5h0m2 1h0m0.5 1.5h0m8.5-4.5h0m2 0h0m4 4.5h0m2.5-4h0m3.5-0.5h0m1 4.5h0m2-3.5h0m0.5 4.5h0m0-0.5h0m1-4h0m4 3h0m0.5-3h0m-48.5 7.5h0m3.5-2h0m4 1h0m1 3h0m1-4h0m2 4h0m1-5h0m4.5 3h0m6.5 1h0m1 0h0m0.5-4h0m6.5 0h0m1 4h0m6-0.5h0m2.5-2.5h0m-19.5 6h0m6 2h0" stroke="#e4574a" stroke-width="1.2" stroke-linecap="round" fill="none"/><path d="M1009 945h0m2-3h0m1 1.5h0m1.5-1h0m3 1h0m4 1h0m1-0.5h0m0.5-0.5h0m4 1h0m0.5-2h0m8-1h0m-25.5 8h0m0.5 0.5h0m3-4h0m5 4.5h0m0.5-2.5h0m3.5-2h0m0.5 2.5h0m3 1.5h0m6-3h0m0.5 1.5h0m3.5-1h0m3.5 3h0m0-3.5h0m9.5 3h0m-39 5.5h0m1-3.5h0m1-1h0m7.5 5.5h0m1-4h0m1.5 2.5h0m6-4h0m4 4.5h0m1.5-1.5h0m2-0.5h0m4.5-1.5h0m5.5-0.5h0m1 4.5h0m0.5 0h0m8-4h0m0 2.5h0m1.5 2h0m-51 6h0m4.5 0.5h0m0.5-2h0m1.5 0.5h0m0.5-1.5h0m1.5 2.5h0m3.5-5h0m6.5 0h0m3.5 5.5h0m1-6h0m6.5 2h0m2.5 0h0m5.5 0h0m3.5 3.5h0m1.5-4.5h0m11.5 0h0m1 4.5h0m1.5-4h0m-58 10h0m2.5-5h0m9 0.5h0m2.5 5h0m1-5.5h0m2.5 3h0m2.5 0.5h0m4 0.5h0m1.5 0h0m4.5 0.5h0m3.5-2.5h0m1 3h0m4-0.5h0m0.5-3h0m3-1h0m2 0.5h0m3.5 1.5h0m1.5 0h0m7-2h0m3.5 1.5h0m-61 5h0m4.5 0h0m0-1h0m1 3h0m6-2h0m4-0.5h0m1.5 2.5h0m1-2h0m0.5 3.5h0m2.5-0.5h0m1.5-0.5h0m0 0h0m0-2.5h0m0 4h0m1.5 0.5h0m6.5-2.5h0m1 0h0m3.5 2h0m0-2.5h0m1-0.5h0m6.5 2.5h0m1-0.5h0m2-4h0m1.5 0h0m3 5.5h0m1-6h0m5.5 4.5h0m0 1h0m0.5 0h0m2-5h0m4 5h0m3-1.5h0m9-1h0m-75 9h0m1-3.5h0m1-0.5h0m0.5-2h0m4 1.5h0m0.5 3.5h0m6-3.5h0m0.5 1h0m2-0.5h0m3.5 3.5h0m0.5-2h0m4 1h0m14 1h0m6.5-1.5h0m5.5-4h0m1.5 4h0m4.5 0.5h0m0.5 0.5h0m3-1h0m2.5-0.5h0m0.5-0.5h0m1.5 2.5h0m6.5-2.5h0m0-1.5h0m0 0.5h0m5-0.5h0m0 1h0m1.5 2.5h0m0.5 0h0m-79.5 6h0m3.5-0.5h0m2 0h0m4.5-2h0m1.5-2h0m0 0h0m1 4.5h0m3-2h0m1.5 2.5h0m3-4.5h0m1 2.5h0m8-2.5h0m3 2.5h0m10.5 2h0m1-1h0m1-0.5h0m2.5-1.5h0m6-1h0m0.5 2.5h0m9-1h0m-64 4.5h0m3 1h0m7.5-2h0m5 5.5h0m6.5-5h0m0.5 0.5h0m2.5-1h0m0 0h0m1 3.5h0m2.5-4h0m3.5 1h0m1 2h0m5-0.5h0m1-0.5h0m0-2h0m2 1h0m1 0h0m0 0.5h0m-40 8h0m7-1h0m7-1h0m0-1.5h0m3 0.5h0" stroke="#b8b8b8" stroke-width="1.2" stroke-linecap="round" fill="none"/><path d="M1097.5 962.5h0m7.5 2h0m-22.5 5.5h0m0 6.5h0m0.5 0.5h0m13.5 1h0m-16 8.5h0m14.5-3.5h0m-10.5 8.5h0m8 0.5h0m9 0.5h0m2-1.5h0m3.5-2h0m-14.5 6.5h0m5.5 3h0m0.5-2.5h0m2-1.5h0m3.5 0h0m-23.5 9.5h0m9.5-4h0m4.5 3h0m0.5-0.5h0m6.5 1h0m-20.5 5.5h0m0 0.5h0m1.5-1h0m12-1h0m6 1.5h0m4.5 1h0m-21.5 3.5h0m9.5-1h0m5 2.5h0m-1 2.5h0" stroke="#e3d0d0" stroke-width="1.2" stroke-linecap="round" fill="none"/><path d="M1126.5 968.5h0m9-1h0m9.5-0.5h0m-57.5 2.5h0m30.5 4h0m5.5 0h0m3.5-2.5h0m0.5 2.5h0m0.5-4.5h0m1.5 2.5h0m0.5-1.5h0m1 0.5h0m0.5-0.5h0m0-0.5h0m1 1h0m3 1h0m1 2.5h0m1.5-0.5h0m2-1.5h0m7.5 2.5h0m-28 5.5h0m2 1h0m1-5.5h0m0 1.5h0m1 1h0m0.5 1h0m0 0.5h0m1 0h0m3.5-1h0m0.5 1h0m3.5 0.5h0m2-2h0m0.5-0.5h0m1 1h0m0.5-1h0m1-1h0m1.5 0h0m1 3h0m0 1h0m2-1h0m1-0.5h0m2.5-1.5h0m3.5 1h0m3 0h0m-65.5 8h0m0-4h0m21.5-0.5h0m0.5 2.5h0m2 0h0m0-1.5h0m1 2h0m4.5-2.5h0m1-0.5h0m1 3h0m2 1h0m2-2h0m1.5-0.5h0m0 2.5h0m3.5-4.5h0m0 0h0m0 0.5h0m3 0.5h0m0.5-0.5h0m3 1h0m0.5 2h0m0.5-3h0m0 4h0m2 0.5h0m1.5-0.5h0m0 0h0m0-5h0m1 5.5h0m1.5 0h0m1-5h0m1 2h0m3.5-2h0m0 2h0m3 2h0m1.5-0.5h0m1 0h0m1.5 1h0m-66.5 6h0m7-1h0m17-2h0m0.5 2h0m1-0.5h0m1-2.5h0m0 1.5h0m1 0h0m0.5 3.5h0m3.5-4.5h0m0.5 4h0m0-2h0m2 1.5h0m0.5 0h0m0 0h0m0.5-1h0m3 0h0m0.5 0.5h0m1.5-1.5h0m1.5-3h0m7 1h0m1.5-1h0m1 3.5h0m2-0.5h0m0 3h0m0.5 0h0m2-0.5h0m0.5-3.5h0m1.5-1.5h0m0 0.5h0m0 3h0m5.5 1h0m2-4h0m0-0.5h0m1.5 0h0m4 0h0m-64 7.5h0m7 0h0m6.5 0h0m1 0.5h0m2-1h0m0.5 4h0m2-2h0m0.5 1h0m1-1.5h0m1.5 1.5h0m2-1h0m0.5-2h0m1 2.5h0m0.5 1.5h0m2-2.5h0m1-2h0m1 0h0m6.5 4h0m0.5-2h0m0.5-1h0m1 4h0m1-2h0m0.5-3.5h0m0 0h0m1 2.5h0m1-1h0m3 0.5h0m0 3h0m5.5-4h0m0.5-0.5h0m0.5 2h0m0 0.5h0m0 1h0m1 1h0m1.5-2h0m0-2h0m1.5 1h0m1.5 0h0m0.5-2.5h0m0.5 0.5h0m5.5 3h0m0.5 0.5h0m-70 5h0m6 1h0m15.5-2h0m2 1h0m4-2h0m3.5 1.5h0m1 1h0m0 0.5h0m2.5 1h0m1-0.5h0m3-1.5h0m1.5 1.5h0m1.5-2h0m0.5 2h0m0.5-4.5h0m1 1h0m0.5 3.5h0m1-1h0m2 2h0m1.5-3.5h0m1.5 0h0m2 1h0m0.5 0.5h0m1.5-2h0m0.5 2h0m3.5 2h0m0.5-0.5h0m1-1.5h0m1 1.5h0m1-4h0m1.5 4h0m0.5-1.5h0m1.5-3h0m-65 9h0m22.5-3.5h0m5.5 2h0m4 1.5h0m0-1.5h0m1 2h0m2-3.5h0m0.5 1h0m3.5 1h0m1 3h0m0.5-4.5h0m2-0.5h0m0.5 4.5h0m1.5-1h0m3.5 1.5h0m0.5-0.5h0m0.5-3h0m1.5 3h0m6.5-1.5h0m0.5 1h0m0.5-4h0m2.5 1h0m1 1h0m2-2h0m0 2h0m3.5-2h0m-34.5 9.5h0m3 0h0m1.5-3h0m0 3.5h0m5.5-1.5h0m0.5 0h0m1 0h0m2-1h0m0.5 2.5h0m0 0h0m0-1h0m2-0.5h0m1-1h0m2.5 0h0m0.5-1h0m2.5 4h0m5.5-4.5h0m-26.5 5.5h0m3 1.5h0m0.5 3h0m5 0h0m-11.5 3h0m4.5 2.5h0m2.5-3.5h0m-4.5 10h0m0.5-2.5h0m1.5 3h0m1.5-2.5h0m-5 6.5h0" stroke="#f4cd2e" stroke-width="1.2" stroke-linecap="round" fill="none"/><path d="M1084.5 1039h0m12 1.5h0m22.5-3h0m4.5 1.5h0m-44 13h0m1-3.5h0m9.5-1h0m23 2.5h0m1 2.5h0m2.5-1h0m-25.5 3h0m0.5 0.5h0m24 1.5h0m2-3h0m1 0h0m0.5 0h0m-39 9.5h0m13 2h0m7-5h0m1.5 1.5h0m3.5 1.5h0m3 0.5h0m1.5-3h0m1.5 3.5h0m2.5-1h0m1.5 0h0m-34.5 2.5h0m1 1h0m3 1h0m5.5-2.5h0m1 2.5h0m2.5 1.5h0m5-0.5h0m0.5-1.5h0m1 1.5h0m1.5 0h0m2 0.5h0m1 0.5h0m0-2h0m0.5 1h0m0.5 2.5h0m1 0h0m1-0.5h0m1-4h0m2.5-0.5h0m10.5 1.5h0m2 0h0m-34 7h0m1 1h0m10.5 1.5h0m2.5-4h0m0.5-0.5h0m1 0.5h0m1 0.5h0m0.5-0.5h0m0.5 0.5h0m5 1.5h0m5-2h0m0 0.5h0m1.5-0.5h0m-33.5 4h0m6 0.5h0m1.5 1.5h0m2.5-0.5h0m0 3.5h0m1-4h0m1 4h0m0-0.5h0m0-3.5h0m2.5 0.5h0m0-0.5h0m0.5 0.5h0m0.5 0.5h0m1 3.5h0m1.5-4.5h0m0.5 3h0m0.5-1.5h0m0-0.5h0m0-1h0m0.5 0.5h0m0.5 3h0m1-2h0m0.5-0.5h0m1 1h0m1 2.5h0m2.5-2h0m0.5-1.5h0m0-1.5h0m1 4h0m0.5-3.5h0m5 0h0m2 5h0m-29 2h0m4.5-0.5h0m2-1.5h0m3.5 0.5h0m3 1h0m1-0.5h0m1.5 1h0m0.5-1.5h0m0.5 2h0m0.5 1h0m5.5-2.5h0m2 1h0" stroke="#8e2238" stroke-width="1.2" stroke-linecap="round" fill="none"/></g><g font-size="4.5" fill="#333" text-anchor="middle"><text x="1017.8" y="974.5">1</text><text x="1017.8" y="1024.5">2</text><text x="1132.3" y="994.5">3</text><text x="1104.8" y="1074.5">4</text></g><filter id="ub7" x="-20%" y="-20%" width="140%" height="140%"><feGaussianBlur stdDeviation="2.6"/></filter><filter id="uc7" x="-30%" y="-30%" width="160%" height="160%"><feGaussianBlur stdDeviation="4.2"/></filter><clipPath id="up7"><polygon points="1210.2,938 1222,941.2 1234.8,946.6 1250.8,955.1 1266.9,966.9 1277.6,980.8 1280.8,989.4 1278.1,999 1274.4,1006.5 1269,1018.2 1256.2,1031 1245.5,1041.8 1229.5,1051.3 1208.1,1054.5 1189.9,1047 1184.6,1031 1187.8,1017.1 1191,1004.3 1192.1,983 1197.4,956.2 1202.8,943.4" fill="#000"/></clipPath><g filter="url(#ub7)"><g clip-path="url(#up7)"><polygon points="1210.2,938 1222,941.2 1234.8,946.6 1250.8,955.1 1266.9,966.9 1277.6,980.8 1280.8,989.4 1278.1,999 1274.4,1006.5 1269,1018.2 1256.2,1031 1245.5,1041.8 1229.5,1051.3 1208.1,1054.5 1189.9,1047 1184.6,1031 1187.8,1017.1 1191,1004.3 1192.1,983 1197.4,956.2 1202.8,943.4" fill="#f2f2f2"/><g filter="url(#uc7)"><polygon points="1161.4,914.5 1247.1,914.5 1233.7,981.3 1161.4,999.4" fill="#fae89f"/><polygon points="1225.9,1079.5 1161.4,1079.5 1161.4,1013.5 1219.3,1013.5" fill="#b97684"/></g></g><circle cx="1325.9" cy="992.5" r="23" fill="#ef9a93"/><ellipse cx="1298.4" cy="1076" rx="14.5" ry="13.5" fill="#c2c07c"/><polygon points="1310.4,1035.5 1317.4,1037.5 1309.4,1067 1291.4,1067 1286.4,1049.5" fill="#e7e6cc"/><polygon points="1275.4,974.5 1303.9,979.5 1308.9,1009.5 1271.4,1012" fill="#f8f7f7"/></g><g opacity="0.75"><path d="M1245.5 954.5h0m1.5 1h0m0-2.5h0m-5 8h0m1-1h0m7-1.5h0m8 4.5h0m4.5 0h0m-23.5 1h0m1.5 3.5h0m1.5-2.5h0m3.5 3.5h0m2-4h0m3-1.5h0m5.5 0.5h0m2.5 0h0m0.5-0.5h0m1 4.5h0m2-3.5h0m1.5 4.5h0m0.5-2.5h0m1.5 0.5h0m-29 5.5h0m4.5 0.5h0m15.5-2h0m2 1h0m6.5 0.5h0m8 1h0m-37.5 7h0m3.5-4.5h0m2.5 1.5h0m1.5-1.5h0m0 5.5h0m1.5-1.5h0m0-0.5h0m10.5 1h0m4.5-2.5h0m0.5-1.5h0m0.5 0.5h0m5-1.5h0m0.5 3h0m5 0h0m-42.5 7h0m5.5 0h0m1.5-1.5h0m2 0h0m2.5-2.5h0m1 1.5h0m8 3.5h0m1-3h0m1 2.5h0m5-3.5h0m0.5 4.5h0m6.5-4.5h0m1.5-1h0m3.5 2h0m2.5 3h0m-71.5 5h0m3.5-1h0m0 3h0m1.5-4h0m9 3h0m1-1.5h0m2 0h0m2.5-2h0m2 3h0m4-3.5h0m3 2h0m0.5-1.5h0m6 3h0m1.5 1.5h0m1.5-4h0m2.5 1h0m3 1.5h0m0-4h0m0.5 3h0m1-1h0m1-1h0m0.5 0h0m6 0.5h0m2-2h0m0.5 4.5h0m3.5-1.5h0m2-1h0m5.5 1.5h0m0-2.5h0m2.5 3h0m2.5-1.5h0m0.5-1.5h0m0.5-0.5h0m4 5h0m2-4h0m-81.5 7h0m12.5 0h0m1-0.5h0m2.5 1.5h0m4-0.5h0m1-1.5h0m1.5 0.5h0m1.5 0h0m4 3.5h0m4.5 0.5h0m3-1h0m2-1h0m1 1.5h0m0-4.5h0m0 2h0m0.5-2h0m1 2.5h0m2.5-2h0m4.5 1h0m0.5 2h0m0.5-3.5h0m0.5 0.5h0m0 2h0m0.5-1.5h0m2 1h0m5-2h0m1.5 4.5h0m0.5-4.5h0m2.5 2.5h0m0-2.5h0m1 0h0m5.5 1.5h0m1 2h0m1.5-3.5h0m0.5 4h0m6.5-5h0m3 1.5h0m4.5 0h0m1 3h0m-83.5 3h0m0 2h0m3-3.5h0m1 0h0m1.5 5.5h0m6-4h0m4 0.5h0m1-1h0m0 4h0m0-5h0m9.5 2.5h0m0.5 1h0m0-3.5h0m0 2h0m2.5-1h0m3 4h0m4.5-4.5h0m4 0.5h0m3 2h0m2 2.5h0m5.5-4.5h0m2.5 0.5h0m1 3h0m0.5-4.5h0m3.5 5h0m0 0.5h0m4.5-3h0m1 1.5h0m1-0.5h0m2.5-1.5h0m1.5 3.5h0m2.5-2.5h0m0.5-0.5h0m0-2h0m3.5-0.5h0m2.5 2.5h0m1-0.5h0m-85.5 6.5h0m0.5-1h0m3.5 3h0m7 0.5h0m5-5h0m1 3h0m3-3h0m3 5.5h0m4-2.5h0m8-3h0m1 5h0m1-3.5h0m0.5 4h0m2.5-4.5h0m0.5 3.5h0m3 0.5h0m9.5 0h0m0.5-2.5h0m3.5-1h0m5 0.5h0m1-0.5h0m5.5-1.5h0m9.5 5.5h0m2.5-1h0m0.5 0h0m1-1.5h0m-83.5 5.5h0m9.5-2h0m7 1h0m0.5-1h0m4.5 2h0m2.5-0.5h0m8.5-2h0m0.5 3h0m1-2.5h0m0.5 5h0m1-1.5h0m4.5-1h0m8.5 1h0m1.5-3.5h0m2.5 2h0m0.5 0.5h0m0.5-0.5h0m0 0.5h0m1-2.5h0m8 0.5h0m0.5 2h0m13 2h0m1.5-1h0m1-2.5h0m-47 5.5h0m9.5 4.5h0m2-0.5h0m3-5h0m2 3.5h0m5.5 0h0m1.5-2h0m3-1.5h0m3 2h0m5.5 4h0m5-0.5h0m0-0.5h0m3 0.5h0m2.5-3.5h0m-44 4.5h0m0.5 0h0m2.5 5h0m5.5-4h0m6 4h0m0-1h0m0.5-4h0m0 1.5h0m1.5 1h0m2.5-1h0m1-2h0m8 2h0m0 0.5h0m1.5 2.5h0m3.5-3h0m6.5 1h0m0.5 0.5h0m-39 6h0m1-1.5h0m0.5-1h0m0.5 4h0m0.5-3.5h0m1 4h0m9.5-4.5h0m5.5-1h0m0 3h0m6.5-2h0m3 4h0m-26.5 1.5h0m2.5 0.5h0m1 4.5h0m0.5-1h0m0.5-4h0m0 3.5h0m0-3h0m4 4h0m2.5-4h0m2.5 3h0m0 1h0m2.5-0.5h0m-15.5 2.5h0m0.5 4.5h0m1-4.5h0m4 5h0m5.5-3.5h0m-8 6h0m1-1.5h0m0.5 0.5h0" stroke="#c8c8c8" stroke-width="1.2" stroke-linecap="round" fill="none"/><path d="M1205.5 943.5h0m1.5-2h0m2 0h0m1 3.5h0m0-0.5h0m1.5-3.5h0m15.5 0h0m-22.5 6h0m1.5-0.5h0m0.5 2h0m0.5-1.5h0m0.5 2.5h0m10 1h0m2-3.5h0m0.5 0.5h0m2.5 1h0m0.5-1.5h0m4 1h0m1-2.5h0m2 2.5h0m2.5-2h0m3 2h0m3-0.5h0m-36 8.5h0m0 0.5h0m2-4.5h0m5.5-0.5h0m1 0h0m2 5h0m4.5-1h0m2-3h0m1-1h0m1.5 2h0m7.5 3h0m4.5 0h0m5-2.5h0m-43 7h0m0.5 1.5h0m1.5-3h0m3-2.5h0m1 2.5h0m6.5 1.5h0m0.5 1.5h0m4.5-4.5h0m1.5 0.5h0m4.5 3.5h0m2.5-0.5h0m2.5-1.5h0m2.5-0.5h0m1.5 0.5h0m3.5-1h0m1.5 1h0m1-2h0m1 1h0m-35 6h0m5 1.5h0m2 0h0m0.5-1.5h0m1 1.5h0m2-3h0m0.5 2h0m1.5-0.5h0m3 0h0m1.5 2.5h0m2-3.5h0m1 1h0m1.5-0.5h0m0.5-0.5h0m2 4.5h0m5-1.5h0m2 1h0m-38 4h0m2 1h0m12.5 1.5h0m0-2h0m3.5 1h0m0.5-2.5h0m2 1.5h0m0-3h0m2.5 3h0m0 2h0m5.5-3.5h0m5.5 4h0m1-1.5h0m-36.5 5h0m1-3h0m7 1.5h0m0.5 3h0m2.5 0.5h0m2-3h0m3.5 3h0m4-3.5h0m12.5-1.5h0m3.5 0.5h0m2 3.5h0m1.5 0h0m0-3h0m0.5 4h0m0.5 0.5h0m-39.5 3.5h0m3 2.5h0m0.5-3.5h0m2-1.5h0m1 4h0m1-3.5h0m2.5 0.5h0m6.5 2h0m0.5-2.5h0m1.5 0h0m3 2h0m0.5-2h0m2-0.5h0m5.5 0.5h0m0 0.5h0m2-1h0m3-1h0m5 0.5h0m-40 9.5h0m12.5-3.5h0m2 0h0" stroke="#f4cd2e" stroke-width="1.2" stroke-linecap="round" fill="none"/><path d="M1193.5 1014h0m1 1h0m3-1h0m0.5 2h0m13 0.5h0m3-1h0m-26 3h0m2.5 4h0m1-5h0m5 2h0m1.5 3h0m1.5-1.5h0m0.5-3.5h0m1.5 2h0m0 1.5h0m2-3h0m4.5 2h0m1.5 1.5h0m1.5-1.5h0m2 0h0m3.5 0.5h0m1 1.5h0m2 0.5h0m-29 3.5h0m1 1.5h0m7.5 0.5h0m3.5-0.5h0m1.5 0.5h0m1.5 0.5h0m5.5-1.5h0m3-3h0m0 3.5h0m1.5-2.5h0m4-1h0m-32 6h0m3-0.5h0m0.5 0h0m1.5 4.5h0m4-0.5h0m1 1.5h0m1.5-5.5h0m5 1h0m1.5 1.5h0m1-2.5h0m2 5h0m1.5-1.5h0m-15.5 4h0m0.5 4h0m0-5h0m1.5 3.5h0m1.5 1h0m1-5h0m0.5 0h0m0 4.5h0m2-0.5h0m4-3h0m1-0.5h0m0.5-0.5h0m2.5 4.5h0m0.5-1.5h0m7.5-2h0m-26.5 8.5h0m2.5-1.5h0m2.5-0.5h0m3-0.5h0m3 2.5h0m3 1.5h0m5-3h0m3.5 0.5h0m1.5-0.5h0m0-2h0m-13 6.5h0m4.5 3.5h0m5.5 0.5h0m1-2.5h0m0.5-1.5h0m0.5 5h0m0.5-4.5h0m2.5 2h0m3.5-1.5h0" stroke="#8e2238" stroke-width="1.2" stroke-linecap="round" fill="none"/><path d="M1279 978.5h0m14-1h0m3 2.5h0m2.5-5h0m-17.5 10.5h0m-7 5.5h0m1.5-3h0m1.5 0.5h0m3.5 0.5h0m8 3.5h0m-8.5 3.5h0m10.5 1.5h0m3-4.5h0m6.5 5h0m1-1h0m-19 6.5h0m2.5-4.5h0m3 3.5h0m12.5-2h0m-24.5 7.5h0m1.5-1h0m3.5 0.5h0m1 0h0m1.5 2h0m1.5-2h0m3.5 1.5h0m8.5-0.5h0m3 1h0m1 0h0m-9.5 6h0m8-1h0m-21.5 5.5h0m18 8.5h0" stroke="#ddd5d5" stroke-width="1.2" stroke-linecap="round" fill="none"/><path d="M1326.5 968h0m-14 4.5h0m0.5-0.5h0m4 2.5h0m2-3h0m1.5 0.5h0m0.5-0.5h0m1 1.5h0m2.5-3h0m0-0.5h0m1.5 1.5h0m0.5 3.5h0m2.5-4.5h0m0.5 1h0m1 2.5h0m0.5-2h0m1 0.5h0m0.5 3h0m0.5-1.5h0m7-1h0m-29 6h0m4-2h0m1 2.5h0m0.5 2h0m0.5-1.5h0m0.5-4.5h0m3.5 6h0m1.5-5h0m0.5 0h0m1 2.5h0m1.5 1.5h0m1-2.5h0m1-1h0m0 3h0m1.5-2.5h0m3 0h0m2.5 0.5h0m5 1.5h0m3.5-4h0m3 4h0m-66.5 2.5h0m2.5 2.5h0m10-1.5h0m8 2.5h0m4-1h0m7 2h0m0.5-4.5h0m2 1.5h0m1.5-0.5h0m4.5 4.5h0m2-2.5h0m1.5 1h0m1-0.5h0m0-0.5h0m4-1.5h0m1.5 3.5h0m2.5-0.5h0m3.5-4.5h0m0.5 0h0m0 4h0m0.5 0h0m0 1.5h0m0.5-1.5h0m0.5-2h0m0.5 0.5h0m0.5 2h0m2 1h0m0.5-4.5h0m1.5 0.5h0m1 0h0m1 1.5h0m0.5-0.5h0m0.5 2.5h0m0-1h0m0 1.5h0m1-4h0m0 0h0m0.5 2h0m0.5 2h0m-64.5 1h0m7.5-0.5h0m3.5 2.5h0m7 2.5h0m4-2h0m0.5 1.5h0m1-3h0m0-2h0m0 6h0m2.5-2h0m1.5 0.5h0m1.5-0.5h0m4-1.5h0m0.5-1.5h0m3-0.5h0m0 4.5h0m2 1h0m0.5-4.5h0m1 2h0m0 1.5h0m3 0.5h0m0-1h0m2-1h0m0.5 1h0m0-3.5h0m2.5 0h0m2 3.5h0m1.5-3h0m1 2h0m0.5 2.5h0m0-4h0m0.5-2h0m0 6h0m2.5-1.5h0m5 0.5h0m0-1h0m0 0.5h0m3.5-4h0m2.5 1h0m-59 7h0m4 0.5h0m1 0h0m4 0.5h0m0.5-3h0m3.5 1.5h0m1 3.5h0m0.5-0.5h0m0.5 0.5h0m1.5 0h0m1.5-3.5h0m0.5-1h0m0 3h0m3-3h0m0 0.5h0m0.5 1h0m0 2.5h0m0.5-1h0m1-3.5h0m1.5-0.5h0m3.5 3h0m0.5 1h0m0.5-2.5h0m0.5 0.5h0m0-1h0m8-0.5h0m3-0.5h0m0.5 4.5h0m1-1h0m2.5-1.5h0m1 0.5h0m0.5 3h0m1-2h0m1-2.5h0m0.5 2h0m0-1h0m1 2h0m0-2.5h0m3 2h0m2-1h0m2.5-2h0m-66 11.5h0m2.5-6h0m1 0h0m5 1.5h0m6 0h0m1 1h0m8-2h0m2 3.5h0m3.5-2.5h0m3 0h0m2.5 0h0m3 0.5h0m1 2.5h0m0-4h0m1.5 3.5h0m0 1h0m2 0.5h0m2.5 0h0m6-5h0m3 0h0m0 3h0m0-1.5h0m3.5 0h0m0.5-1.5h0m1.5 5h0m1-1h0m1-4h0m0.5 1h0m-39 7h0m2.5 3.5h0m1.5-5.5h0m0.5 0.5h0m2.5 3.5h0m0.5-4h0m0.5 0h0m0.5 3.5h0m0.5 0h0m1 0.5h0m0.5-4.5h0m1 3.5h0m2.5-2.5h0m1.5 2.5h0m0.5 0h0m0 1.5h0m3-1.5h0m0-1h0m0 1h0m1-1h0m0 2.5h0m4.5-3h0m2 1h0m0.5 2h0m0-5h0m0 0.5h0m0-0.5h0m0.5 2.5h0m4 0.5h0m0.5 2.5h0m2.5 0.5h0m2-3h0m-26 5h0m2.5 2h0m2-1.5h0m0-1.5h0m1 3.5h0m0.5-2.5h0m5-1.5h0m0 3h0m1-3h0m0 1.5h0m0.5-1h0m0 0h0m0 1h0m1.5 1.5h0m2-3h0m3.5-0.5h0m-21 12h0m3-3.5h0m0.5 2.5h0m1.5-0.5h0m9.5-3h0m-12.5 9h0m-5.5 5.5h0m5.5 0h0m0.5-3.5h0m0 1.5h0m-10 7h0m4 3h0" stroke="#de3325" stroke-width="1.2" stroke-linecap="round" fill="none"/><path d="M1276 1040.5h0m36.5-3h0m1.5 1.5h0m-28.5 6.5h0m6.5 0h0m17.5 0.5h0m3.5-2.5h0m1-1h0m-27.5 6.5h0m3 0.5h0m5.5 2.5h0m5.5-4h0m12 2h0m-37.5 3h0m1 1.5h0m3.5 2h0m9 0.5h0m2.5-1.5h0m7 2h0m6.5-4.5h0m2.5 5h0m0.5 0h0m5 0.5h0m-37 4.5h0m14.5 0.5h0m0 1h0m2 0.5h0m2 0h0m8-4.5h0m2 2.5h0m0.5 2h0m2-4h0m-21.5 6.5h0m3-1h0m0.5 2.5h0m2.5 1.5h0m1-2h0m2-2.5h0m1 3.5h0m0 1h0m0 0.5h0m0.5-5.5h0m1 5h0m0.5-3.5h0m6 0.5h0m0.5-2h0m-15.5 8.5h0m3.5 1h0m2-2.5h0m1.5 3.5h0m0-4h0m1.5 4.5h0m0-3h0m0.5 0.5h0m0-0.5h0m3.5 3h0m0-1h0m0.5-2.5h0m0 0.5h0m0 0h0m0 0.5h0m1-3h0m0 4.5h0m0-1.5h0m0.5 1h0m0 1h0m1-2.5h0m0 2h0m0.5 0.5h0m2.5-1h0m1-3.5h0m4.5 4.5h0m4.5-1h0m-32 6.5h0m2 0.5h0m1.5-2.5h0m1 3h0m1.5-4h0m1 3h0m0-3.5h0m0.5 4.5h0m2.5-5h0m1 1.5h0m1.5-0.5h0m0.5-1h0m1.5 0h0m0.5-0.5h0m0.5 2.5h0m0-1h0m4 1.5h0m0 1h0m1.5-2.5h0m0.5 0h0m0.5 2.5h0m1.5-0.5h0m3.5 0h0m1.5-1h0m-21.5 5.5h0m2 2h0m2.5-1h0m1.5-3h0m4 1h0m0.5 0.5h0m-11 6.5h0" stroke="#9c9a2c" stroke-width="1.2" stroke-linecap="round" fill="none"/></g><g font-size="4.5" fill="#333" text-anchor="middle"><text x="1211.4" y="964.5">3</text><text x="1243.9" y="999.5">1</text><text x="1201.4" y="1029.5">4</text><text x="1325.9" y="994.5">2</text><text x="1298.4" y="1074.5">5</text></g><filter id="ub8" x="-20%" y="-20%" width="140%" height="140%"><feGaussianBlur stdDeviation="2.6"/></filter><filter id="uc8" x="-30%" y="-30%" width="160%" height="160%"><feGaussianBlur stdDeviation="4.2"/></filter><clipPath id="up8"><polygon points="1403.8,938 1415.6,941.2 1428.5,946.6 1444.5,955.1 1460.5,966.9 1471.2,980.8 1474.4,989.4 1471.8,999 1468,1006.5 1462.7,1018.2 1449.8,1031 1439.2,1041.8 1423.1,1051.3 1401.7,1054.5 1383.5,1047 1378.2,1031 1381.4,1017.1 1384.6,1004.3 1385.7,983 1391,956.2 1396.4,943.4" fill="#000"/></clipPath><g filter="url(#ub8)"><g clip-path="url(#up8)"><polygon points="1403.8,938 1415.6,941.2 1428.5,946.6 1444.5,955.1 1460.5,966.9 1471.2,980.8 1474.4,989.4 1471.8,999 1468,1006.5 1462.7,1018.2 1449.8,1031 1439.2,1041.8 1423.1,1051.3 1401.7,1054.5 1383.5,1047 1378.2,1031 1381.4,1017.1 1384.6,1004.3 1385.7,983 1391,956.2 1396.4,943.4" fill="#f2f2f2"/><g filter="url(#uc8)"><polygon points="1355,914.5 1440.7,914.5 1427.3,981.3 1355,999.4" fill="#fae89f"/><polygon points="1419.5,1079.5 1355,1079.5 1355,1013.5 1412.9,1013.5" fill="#b97684"/></g></g><circle cx="1519.5" cy="992.5" r="23" fill="#ef9a93"/><ellipse cx="1492" cy="1076" rx="14.5" ry="13.5" fill="#c2c07c"/><polygon points="1504,1035.5 1511,1037.5 1503,1067 1485,1067 1480,1049.5" fill="#e7e6cc"/><polygon points="1469,974.5 1497.5,979.5 1502.5,1009.5 1465,1012" fill="#f8f7f7"/></g><g opacity="0.75"><path d="M1380.5 1016.5h0m7.5-2.5h0m0.5 2.5h0m2.5-1h0m3-0.5h0m13.5-0.5h0m3 1.5h0m-28 5.5h0m3.5-1h0m0-2.5h0m1 0h0m0.5-0.5h0m0.5 4.5h0m8-4h0m3 4h0m6-5h0m5 5.5h0m2-3.5h0m-33.5 7.5h0m5 1h0m0-4.5h0m0.5 4h0m5.5-1h0m0-1.5h0m2 2h0m0.5-1.5h0m1-0.5h0m1 0h0m0.5-1h0m3 3h0m4.5-1h0m0 0.5h0m2 1h0m5.5 1h0m0.5-2.5h0m0.5 0h0m0.5-1h0m2.5 4.5h0m-33.5 0.5h0m0.5-0.5h0m1.5 2h0m0.5-2h0m1.5 3.5h0m1.5-0.5h0m4 2.5h0m0-0.5h0m2.5-4.5h0m1.5 4h0m0 1.5h0m0 0h0m1-6h0m2.5 4h0m4 1h0m3.5-5h0m2.5 3.5h0m0 1h0m0.5-0.5h0m0.5 1.5h0m0.5-2h0m-26 3.5h0m2.5-0.5h0m2.5 5.5h0m0.5-3.5h0m0.5 0.5h0m0 2.5h0m0.5-5.5h0m1 0h0m1.5 2h0m1.5-1.5h0m1 5h0m2.5-5h0m1.5 3h0m4.5-2.5h0m2.5 0h0m3 3.5h0m4 1h0m1-5h0m1 3h0m0.5-0.5h0m0.5 3h0m-32.5 4h0m4 0.5h0m1.5 1h0m5.5-3h0m2.5 2h0m13 1h0m7-2.5h0m-16.5 3h0m6 1.5h0m2 4h0m0-1h0m0.5-3.5h0m3 2.5h0m0.5 2h0m-14.5 0.5h0m12.5 1.5h0" stroke="#8e2238" stroke-width="1.2" stroke-linecap="round" fill="none"/><path d="M1398 945h0m4.5-3.5h0m0.5-1.5h0m1 0.5h0m3.5 1h0m3 0h0m4.5 1.5h0m2 0.5h0m0.5-1h0m0.5 1.5h0m0-1.5h0m0.5 0.5h0m7-0.5h0m4.5 2.5h0m-35 0h0m3 6h0m6.5-5h0m0.5 1.5h0m1-0.5h0m0.5 0h0m1.5 3.5h0m1.5-1.5h0m1-1h0m15.5 0.5h0m1 1.5h0m-35.5 6.5h0m5 0h0m4-2h0m1-1.5h0m1 2.5h0m5.5 1.5h0m4.5-6h0m1.5 3.5h0m0.5 1h0m2.5 1h0m5-2h0m1-2.5h0m3.5 1h0m-29.5 5.5h0m0 1.5h0m1.5-2.5h0m3 3.5h0m4.5-0.5h0m0-3h0m4 2.5h0m1.5 2h0m6-0.5h0m0.5-0.5h0m1-1h0m1.5-3h0m3.5 0.5h0m-30.5 9h0m0 0.5h0m3-1h0m2.5-0.5h0m7-1.5h0m2 2h0m10 2h0m1-2h0m5 0.5h0m-35 3.5h0m7 1h0m0 4h0m3.5-4h0m1.5 1.5h0m5.5 2h0m1-1h0m4 0.5h0m3-0.5h0m0.5-1.5h0m2.5-2.5h0m5.5 4h0m1.5 1h0m0.5-4.5h0m1.5 2h0m0-1.5h0m0.5 2h0m0-3.5h0m-39.5 6.5h0m5 3h0m4-2h0m0.5 3h0m0-0.5h0m1-2.5h0m5 0h0m10.5-1.5h0m3.5 3.5h0m5.5 0.5h0m0.5-3h0m1-0.5h0m1.5 2h0m-37.5 5.5h0m0.5 3h0m1-2.5h0m1.5-0.5h0m0-1.5h0m0.5 5h0m9-1.5h0m4-3h0m5 3h0m0.5 0.5h0m0.5-1h0m1-2h0m5 0.5h0m0-1h0m-27.5 5h0m2.5 1.5h0m5.5 0h0" stroke="#f4cd2e" stroke-width="1.2" stroke-linecap="round" fill="none"/><path d="M1435.5 952h0m0 1.5h0m1 2h0m7.5-1.5h0m-7.5 5h0m1.5-0.5h0m1 2h0m0.5 0.5h0m8.5-3.5h0m1 0.5h0m-16 6h0m8 2h0m5.5 0.5h0m1-0.5h0m1-1h0m4-0.5h0m1 2h0m0-2.5h0m1.5 1h0m0.5 4h0m2-1.5h0m-28 6.5h0m2.5-4h0m6 0.5h0m6.5 3.5h0m1.5-0.5h0m5.5-1.5h0m3.5-0.5h0m7.5 1.5h0m3.5-1.5h0m-36 6h0m0.5 2.5h0m4-4h0m1 0h0m5.5 5h0m3-1.5h0m0 0.5h0m4-1.5h0m3-3.5h0m2 1.5h0m0.5 0.5h0m1.5 1.5h0m0-3h0m5 5.5h0m0.5-3h0m7 2.5h0m0.5-1h0m4 1h0m-58 4.5h0m3.5-1h0m1.5 1.5h0m0.5-0.5h0m0 0h0m6-1.5h0m11.5 1.5h0m2.5 1.5h0m0-5h0m0.5 3h0m1-2h0m5-0.5h0m0 2.5h0m1 0.5h0m1.5-3.5h0m14.5-0.5h0m1.5 1.5h0m9 3.5h0m-84 6h0m4.5-2.5h0m4-0.5h0m2.5 2.5h0m0-3h0m1 2h0m3.5-3.5h0m6.5 3.5h0m6.5 1.5h0m1.5-4h0m2.5 2.5h0m3-2.5h0m0 3.5h0m3 0h0m0.5-4h0m0 2h0m1 1.5h0m1-2.5h0m6.5 0h0m1 1.5h0m3 2.5h0m3-1.5h0m6.5-3h0m1.5 2h0m2-1.5h0m0.5 3h0m3.5-4.5h0m0 2h0m3.5 1h0m3.5 2h0m1.5-0.5h0m3-2.5h0m4 0h0m-75 9.5h0m1-4h0m2-0.5h0m8.5 1.5h0m3.5 1.5h0m1-3.5h0m0.5 2.5h0m2 2.5h0m3.5-4.5h0m7 4h0m1.5-2.5h0m3-1.5h0m1.5 4.5h0m0-4.5h0m0.5 4.5h0m5-2.5h0m0.5-2h0m1.5 3.5h0m1-1.5h0m1.5-2h0m4 1.5h0m0 1h0m8 1.5h0m7-4h0m0-0.5h0m0.5 1.5h0m1.5 4h0m2-4h0m-73.5 7.5h0m4.5-0.5h0m1.5 0h0m0.5-2.5h0m0.5 2h0m0-2.5h0m0.5 1.5h0m1 0h0m8 1.5h0m9 2.5h0m1.5-0.5h0m6.5-1h0m1.5 0h0m2 1.5h0m0.5-5h0m1.5 2.5h0m2 1.5h0m2-2.5h0m3 3.5h0m5.5-3.5h0m3.5 3.5h0m0.5 0h0m0.5-5.5h0m1 2.5h0m3-2h0m3 1.5h0m-69.5 4.5h0m1.5 3.5h0m0-2.5h0m2.5 2.5h0m3-3h0m0.5 2h0m2 0h0m0-1h0m5.5 1.5h0m2 0.5h0m0-2h0m6 0h0m3 2h0m6-1.5h0m5.5-1.5h0m0.5 1.5h0m6 2h0m1-3h0m11.5 4h0m3.5-0.5h0m2-4.5h0m9.5 1.5h0m5.5-0.5h0m1.5-1.5h0m-79.5 7.5h0m1 0h0m6 0.5h0m13.5-0.5h0m1 0h0m5 0h0m2 2h0m2-1.5h0m0.5 3h0m0.5-3h0m3 4h0m5-1h0m1 1h0m0.5-0.5h0m1.5-1h0m1-2.5h0m0 1.5h0m4.5 1h0m0-0.5h0m1.5 1.5h0m2.5-1h0m5 0h0m7-3h0m1 2.5h0m0.5 2h0m0.5-5h0m1 2.5h0m0-3h0m3.5 4h0m4.5-4h0m0.5 2h0m-46.5 5.5h0m16 1h0m1.5 0h0m2 1h0m0.5-2.5h0m4.5 1.5h0m2-3h0m1.5 3.5h0m0-3.5h0m4 1h0m0.5 1h0m3 3h0m2.5-1h0m7.5-1.5h0m-43.5 7h0m2.5-0.5h0m0 1h0m3-0.5h0m0-2h0m0.5 4.5h0m3-1.5h0m1.5-1h0m14.5-2h0m2.5-1h0m3 5h0m1.5-5h0m-33.5 8.5h0m2.5 2h0m2.5-4h0m2 2h0m1.5-3h0m0.5 5.5h0m0.5-5h0m4.5 2h0m0.5-1h0m0.5 0h0m2.5-1.5h0m0.5 5.5h0m1.5-3.5h0m0.5 0h0m5.5 4h0m3-4h0m1 0h0m0-1h0m1 3h0m1.5 0h0m-31 7.5h0m3.5-1h0m1-3.5h0m0 5h0m4-4h0m3.5 2h0m0.5 2h0m1-3h0m1-0.5h0m2 0h0m3.5 2h0m1.5 0h0m3-2.5h0m4.5 1h0m1-3h0m-28 10.5h0m0-2.5h0m1.5 0.5h0m8 3.5h0m4.5-3h0m2 2h0m-14 1.5h0" stroke="#c8c8c8" stroke-width="1.2" stroke-linecap="round" fill="none"/><path d="M1483.5 973h0m3 5.5h0m2 0.5h0m-21 3h0m9.5-0.5h0m4.5-0.5h0m3 5.5h0m8.5-2h0m1.5 2h0m-21 6h0m16.5-3h0m-20 4.5h0m14 3h0m0 1h0m2.5-2h0m0.5-2h0m4 0.5h0m0-0.5h0m-22.5 6h0m4 3.5h0m4.5-2.5h0m1.5 1.5h0m1 1.5h0m0-3.5h0m7.5-1h0m2 1.5h0m-21.5 9h0m8.5 6.5h0m12-1.5h0m5.5-0.5h0m-21 7h0m10.5 8h0m2 0h0" stroke="#ddd5d5" stroke-width="1.2" stroke-linecap="round" fill="none"/><path d="M1486.5 967.5h0m20.5-0.5h0m8.5 1h0m-18.5 5h0m7.5 0.5h0m3.5-2h0m1 3h0m1-2.5h0m0.5 3h0m1.5-0.5h0m1-1h0m0-3.5h0m1 0.5h0m0.5 3h0m1.5-0.5h0m3.5-1h0m1.5 2h0m5.5-1h0m5.5-1.5h0m-29 5.5h0m2 1.5h0m1 1h0m0.5-2.5h0m0.5 3.5h0m1-3.5h0m2.5 1.5h0m2 0h0m1.5-3h0m0-0.5h0m0.5 2h0m1 0.5h0m2-1.5h0m0.5 5h0m3.5-2.5h0m1-2h0m0 1h0m0 3h0m1-1.5h0m1.5-2h0m1.5-2h0m0.5 5h0m0.5-2.5h0m1 3h0m1.5-2h0m1.5-1.5h0m1.5-0.5h0m4.5 1h0m-61.5 5.5h0m0.5 0h0m15 1.5h0m0-2.5h0m4 0.5h0m3 4.5h0m0.5-1h0m1.5-2h0m2-2.5h0m2.5 2h0m0.5 3h0m0-2h0m0-2.5h0m2.5 1.5h0m0.5-1.5h0m1 2.5h0m1 2h0m1.5-1.5h0m1.5 1h0m1.5-0.5h0m0-3.5h0m2.5 0h0m2 4h0m0.5-2.5h0m0.5 1.5h0m0.5-1.5h0m0-1h0m0.5 0h0m1 1h0m4-1h0m0.5-1h0m1 0.5h0m1.5 1h0m1.5 1h0m4.5 2h0m1 0h0m0-1.5h0m1.5-2h0m1.5 2h0m1.5 0.5h0m-67 6.5h0m23.5 0.5h0m1.5 0h0m0.5-4.5h0m0 5h0m2.5-5h0m1.5 2.5h0m1-2h0m0.5 2.5h0m3-2h0m1 1h0m0-1.5h0m0.5-1h0m0 1.5h0m1.5-0.5h0m0.5 3h0m4-0.5h0m2-1h0m0.5 0.5h0m0.5-1h0m4-1h0m0.5 2h0m0.5 3h0m4-4h0m0.5 2.5h0m0.5 0h0m0-4h0m1 2h0m1.5-1.5h0m0 4.5h0m1 0h0m0.5 0h0m0.5-1h0m0.5-2h0m0.5-1.5h0m1 2h0m1-2.5h0m0.5 4.5h0m0.5-0.5h0m0.5-2h0m1-2h0m1.5 3h0m1 0.5h0m0 1.5h0m1-3.5h0m0.5 2h0m-69.5 2h0m7 1.5h0m0-1.5h0m8.5 1h0m11 0.5h0m0.5 0h0m0 4h0m2.5-1.5h0m3 0h0m0.5-2h0m0-1h0m1 1h0m0.5 1h0m5-0.5h0m4.5 2h0m0.5-4h0m1.5 4h0m0 0.5h0m1-0.5h0m4-2h0m1-0.5h0m1-0.5h0m3 4.5h0m2-1.5h0m0.5-1h0m1.5 0h0m3.5 0.5h0m1-1h0m4.5 1.5h0m-61.5 3.5h0m0 2.5h0m15.5 0h0m0.5 0h0m4.5-1.5h0m1 2.5h0m0.5-4.5h0m0.5 3h0m1.5-3.5h0m4 4.5h0m0.5-3.5h0m5 4h0m0.5-1h0m1.5-3.5h0m1.5 0.5h0m1.5-0.5h0m4 1.5h0m0.5 1h0m1.5-2.5h0m2-0.5h0m2 5h0m2-5.5h0m0.5 5.5h0m2.5-2h0m1-3.5h0m1 5h0m2.5-1h0m0.5-2.5h0m0.5 2.5h0m1 0.5h0m-61.5 5.5h0m25-3h0m1.5 3.5h0m4.5-3.5h0m1 1h0m3-0.5h0m1 2.5h0m0.5-1h0m0.5 0h0m2 0.5h0m1-2.5h0m1.5 1.5h0m2-0.5h0m3.5-1h0m0.5 3.5h0m0.5-1h0m1.5-3h0m1 0h0m0.5 3.5h0m1.5-3.5h0m3 5h0m0.5-2.5h0m0 1h0m0-2h0m1.5-1h0m2.5 0h0m-50.5 8.5h0m2-1.5h0m19.5 2h0m3-3.5h0m0.5 2h0m2-2h0m1.5 1h0m1.5 1.5h0m0-2h0m2 3h0m0-1.5h0m2.5 0.5h0m0-2.5h0m1 0.5h0m1 3.5h0m0 0h0m4-2h0m0-1.5h0m-15.5 11h0m1.5-4.5h0m-7 7h0m3-1h0m0.5-1h0m-6.5 7h0m2 2h0m0 0h0m1.5 2h0m1-3.5h0m1 1h0" stroke="#de3325" stroke-width="1.2" stroke-linecap="round" fill="none"/><path d="M1471.5 1040.5h0m32-3.5h0m2.5-0.5h0m-39 10h0m12-4.5h0m16.5 3h0m2-3.5h0m3.5 2.5h0m1-0.5h0m0 2.5h0m2.5-0.5h0m1-4h0m3.5-0.5h0m-31.5 8h0m9-0.5h0m1.5 0.5h0m0 0.5h0m13 2.5h0m-15.5 2.5h0m1 2h0m2-1h0m8 3.5h0m0.5-1.5h0m3-0.5h0m-28.5 6h0m4.5-2.5h0m9 3h0m6.5 0h0m2.5-1h0m2.5 1.5h0m2 0h0m1 0.5h0m1-3.5h0m-19.5 5h0m0.5 4h0m2.5-5h0m0.5 6h0m1.5-1.5h0m2 0.5h0m1.5 0.5h0m0.5-3h0m1-2.5h0m1 4h0m2 0h0m0 0.5h0m1 0.5h0m1-2.5h0m0.5-1h0m0.5 0h0m1 2h0m0.5-0.5h0m0.5-0.5h0m0.5 0h0m-19.5 8.5h0m2-0.5h0m3-1.5h0m0.5 1.5h0m3.5-1h0m0.5 0h0m1-2h0m0 1h0m0.5 3.5h0m0.5-4h0m0.5-1h0m2.5 1h0m0 0h0m0.5 1h0m0.5 1.5h0m0.5 1h0m2-2h0m0.5-1.5h0m2-1h0m0.5 5h0m0.5-0.5h0m-20.5 1.5h0m3 3.5h0m0-1h0m0.5 2.5h0m0-1.5h0m2.5 0h0m1-2h0m1.5 1h0m0.5-1h0m0.5 1.5h0m1.5 1h0m0-3h0m0.5 2.5h0m1.5-4h0m1.5 0.5h0m6.5 4h0m2-1h0m2.5-1.5h0m-24.5 4.5h0m5-0.5h0m2 1.5h0m0.5-1h0m2.5 3h0m1-3h0m2.5 1.5h0m4-2h0m1 1h0m2.5 0.5h0m2.5 3h0m-0.5 2h0" stroke="#9c9a2c" stroke-width="1.2" stroke-linecap="round" fill="none"/></g><g font-size="4.5" fill="#333" text-anchor="middle"><text x="1405" y="964.5">3</text><text x="1437.5" y="999.5">1</text><text x="1395" y="1029.5">4</text><text x="1519.5" y="994.5">2</text><text x="1492" y="1074.5">5</text></g><filter id="ub9" x="-20%" y="-20%" width="140%" height="140%"><feGaussianBlur stdDeviation="2.6"/></filter><filter id="uc9" x="-30%" y="-30%" width="160%" height="160%"><feGaussianBlur stdDeviation="4.2"/></filter><clipPath id="up9"><polygon points="1597.4,938 1609.2,941.2 1622,946.6 1638,955.1 1654.1,966.9 1664.8,980.8 1668,989.4 1665.3,999 1661.6,1006.5 1656.2,1018.2 1643.4,1031 1632.8,1041.8 1616.7,1051.3 1595.3,1054.5 1577.1,1047 1571.8,1031 1575,1017.1 1578.2,1004.3 1579.3,983 1584.6,956.2 1590,943.4" fill="#000"/></clipPath><g filter="url(#ub9)"><g clip-path="url(#up9)"><polygon points="1597.4,938 1609.2,941.2 1622,946.6 1638,955.1 1654.1,966.9 1664.8,980.8 1668,989.4 1665.3,999 1661.6,1006.5 1656.2,1018.2 1643.4,1031 1632.8,1041.8 1616.7,1051.3 1595.3,1054.5 1577.1,1047 1571.8,1031 1575,1017.1 1578.2,1004.3 1579.3,983 1584.6,956.2 1590,943.4" fill="#f2f2f2"/><g filter="url(#uc9)"><polygon points="1548.6,914.5 1634.3,914.5 1620.9,981.3 1548.6,999.4" fill="#fae89f"/><polygon points="1613.1,1079.5 1548.6,1079.5 1548.6,1013.5 1606.5,1013.5" fill="#b97684"/></g></g><circle cx="1713.1" cy="992.5" r="23" fill="#ef9a93"/><ellipse cx="1685.6" cy="1076" rx="14.5" ry="13.5" fill="#c2c07c"/><polygon points="1697.6,1035.5 1704.6,1037.5 1696.6,1067 1678.6,1067 1673.6,1049.5" fill="#e7e6cc"/><polygon points="1662.6,974.5 1691.1,979.5 1696.1,1009.5 1658.6,1012" fill="#f8f7f7"/></g><g opacity="0.75"><path d="M1627 956.5h0m2.5-4.5h0m5.5 0h0m2.5 2.5h0m-10 5h0m2-2.5h0m5.5 3h0m0-1.5h0m10 3h0m-17.5 5h0m1 0.5h0m0 1h0m3-1h0m1.5-3.5h0m3 4.5h0m4.5-4h0m1.5 2h0m8 1.5h0m-22.5 4h0m1-2.5h0m5.5 3.5h0m2.5 1h0m4.5-0.5h0m4 0.5h0m6.5-3h0m3.5-1.5h0m1 4h0m0.5 0h0m5 0.5h0m-36.5 4h0m0.5-0.5h0m2 2.5h0m2.5-4h0m3 3h0m8 2h0m4-1h0m2-1h0m4-1h0m0.5 2h0m9.5-1h0m1 0h0m-50 6h0m0 0h0m0.5 2.5h0m4.5-3h0m0 0.5h0m1 2.5h0m0.5-1h0m0 0h0m14 0h0m2-1h0m2-1h0m3.5-0.5h0m2-1.5h0m0 2h0m5 1h0m0.5-1h0m6.5 0h0m1.5-1.5h0m0 3.5h0m4.5-1h0m1-2.5h0m0.5 0h0m-80 10h0m1.5-1h0m4-1h0m2.5 1.5h0m1-1.5h0m1.5 1.5h0m0 0.5h0m3-2h0m0.5-2h0m4 2.5h0m1 2h0m3.5-5.5h0m15 3.5h0m5.5 0h0m0.5 1h0m0.5-0.5h0m1.5 0h0m0-0.5h0m2 1h0m4.5-3.5h0m1 1h0m1.5 1h0m0.5-2.5h0m0.5 4.5h0m1-4h0m3.5 0h0m0.5 1.5h0m3.5 0.5h0m0.5-0.5h0m5 2.5h0m4-2.5h0m2.5-0.5h0m-75 5.5h0m1 0.5h0m2.5-1h0m0.5 4h0m6-0.5h0m5-2.5h0m6 0h0m6-2h0m2.5 1.5h0m4.5 0h0m0.5 2.5h0m3-1.5h0m9.5 2.5h0m2.5-0.5h0m0.5-2h0m3-2h0m0.5 2h0m6.5 0h0m5.5 1h0m1-3h0m2 4h0m0.5-1.5h0m3.5-1h0m1 2.5h0m6-2.5h0m0.5 1.5h0m-78.5 4.5h0m5 0.5h0m5.5 0.5h0m0-3h0m3 0.5h0m1-0.5h0m1 0.5h0m2 0.5h0m1.5 3.5h0m0.5-3.5h0m5.5-0.5h0m7 0h0m0.5-0.5h0m4.5 2h0m3-2.5h0m0.5 1h0m4.5 3h0m3 0h0m1-3h0m1-1h0m3 2h0m0.5 3.5h0m0.5-2.5h0m2.5 0.5h0m0.5 2h0m2-1h0m0.5 0h0m8-3h0m6-1h0m0 5h0m0.5-1h0m1-2h0m2-2h0m4 0h0m-81.5 10.5h0m1-3.5h0m0 2.5h0m2 0h0m9 1h0m7-0.5h0m10.5-0.5h0m1.5 1.5h0m12-5h0m1 5h0m8.5-0.5h0m2-3h0m1.5 2h0m0.5 0.5h0m1.5-4h0m15.5 4h0m2.5-3.5h0m-80.5 6.5h0m6 1h0m1-0.5h0m2-1.5h0m8-0.5h0m4 1.5h0m10 4h0m0.5-2.5h0m1.5 1.5h0m1 1h0m1-1h0m0-4.5h0m2 1.5h0m0 2.5h0m0.5-4h0m0 1h0m2.5-0.5h0m0.5 3.5h0m6 1h0m3.5-1.5h0m1.5-1h0m0-0.5h0m10.5-1.5h0m1 3.5h0m4-3h0m2 3.5h0m-34 5h0m3.5-1.5h0m3 3.5h0m3.5-2.5h0m2 1h0m0.5-1.5h0m7 0.5h0m6.5 2h0m2.5-4h0m0.5 1.5h0m3.5-2h0m0 4h0m1.5-3h0m3.5-1h0m-39.5 10h0m2-1.5h0m0-3h0m0.5 4h0m5-4h0m1 5.5h0m1.5-4h0m7-0.5h0m1.5 4.5h0m0.5 0.5h0m0-5.5h0m0.5 1.5h0m0.5 3h0m2.5-0.5h0m2.5-1h0m3 0h0m1 0h0m0.5-1.5h0m4 2h0m2.5-2h0m-34.5 5h0m4.5 2.5h0m0-1.5h0m3 2h0m0-1h0m0 1.5h0m4.5-1.5h0m7 1h0m0 0h0m0.5-2.5h0m2-1h0m8.5 0h0m3.5 0.5h0m-29 11h0m3.5-1.5h0m3-1.5h0m1-2.5h0m0.5 5h0m1 0h0m1-3h0m1-1h0m-19 6h0m0 3h0m0 1h0m2.5-0.5h0m7-1h0m0-1.5h0m4.5 2h0m-11.5 5h0m2 0h0m2 0.5h0m0.5-3h0" stroke="#c8c8c8" stroke-width="1.2" stroke-linecap="round" fill="none"/><path d="M1575 1016h0m12.5 0h0m4-1h0m5 0.5h0m0.5-0.5h0m2-0.5h0m2-0.5h0m3.5 3h0m0-0.5h0m-30.5 3.5h0m0.5 2.5h0m7-4h0m0 1h0m1-0.5h0m2 3.5h0m0 0h0m1-5h0m0.5 3h0m0 1.5h0m1.5-3h0m4.5 1.5h0m1.5-2.5h0m0.5 1h0m1 0h0m1 3.5h0m4.5-1.5h0m0-3.5h0m2.5 5h0m2.5-1.5h0m-31 2.5h0m1 0.5h0m0.5 1h0m1 3h0m0-2h0m7-0.5h0m1 2.5h0m2.5-0.5h0m0.5-2.5h0m0-0.5h0m4 1.5h0m0.5-3h0m0 4h0m4 0h0m0.5-0.5h0m1 1.5h0m1.5-3.5h0m-25 7h0m1.5 3h0m2-1h0m1.5 1h0m2.5-4h0m2.5 1h0m2.5-1h0m8 3h0m0.5-1.5h0m0 2h0m0-3.5h0m3 0.5h0m0.5 2h0m2.5 1.5h0m-27.5 2.5h0m3 2.5h0m10-3.5h0m1.5 2.5h0m1-2.5h0m11.5 1h0m1 1h0m3.5 0h0m1-1h0m0 3h0m0.5 0h0m1-2h0m-26.5 7h0m0.5 2h0m0-4h0m3.5 3h0m0.5-5h0m3 0.5h0m0.5 3h0m0.5-3h0m5 4h0m2-4.5h0m5 4.5h0m5.5-1.5h0m2 0h0m-28.5 3h0m8 5.5h0m8-3h0m1.5-2h0m0 4h0m1 0.5h0m3.5-3h0m5.5-0.5h0m-18.5 4.5h0" stroke="#8e2238" stroke-width="1.2" stroke-linecap="round" fill="none"/><path d="M1586 945h0m8-2h0m0-1h0m0.5-0.5h0m3.5 2.5h0m3.5-0.5h0m0.5 0.5h0m0.5 0.5h0m15.5-0.5h0m-27 5h0m1.5-4h0m0 4.5h0m1.5-2h0m6 0h0m5-2h0m2.5 3.5h0m1 0h0m6-2h0m0.5 1h0m3.5 0h0m1.5 0.5h0m0 0.5h0m4.5 0h0m-38 4h0m1-0.5h0m4.5 2.5h0m1 1h0m2-2.5h0m2 2h0m3-2h0m2-0.5h0m0-1h0m9 2h0m13.5-1h0m-37.5 7.5h0m3-1.5h0m1.5 3.5h0m0-5h0m0.5 1h0m2.5-1h0m1 0h0m1 0.5h0m0.5 1.5h0m3.5-1h0m1.5 1.5h0m1 2.5h0m3.5-1.5h0m2-3h0m-24 7.5h0m3.5-0.5h0m3 1h0m2 0h0m7.5 1.5h0m1.5-0.5h0m2 1h0m11.5-2.5h0m0.5-0.5h0m0 1h0m4-0.5h0m1.5-2.5h0m1.5 1.5h0m-37 9h0m1.5 0.5h0m1.5-0.5h0m1 0.5h0m0-4h0m4.5 4.5h0m1.5-5.5h0m9 4h0m5.5-3.5h0m1.5 2h0m2-2h0m4 3.5h0m0.5 0.5h0m4-3.5h0m-43.5 6h0m2.5 3.5h0m2.5 1.5h0m1-1h0m3-4h0m3 3h0m0.5-2.5h0m1 1.5h0m0.5 0h0m3-2.5h0m1 4.5h0m1-1.5h0m0 2h0m2-2h0m2 1.5h0m4.5-4h0m3 2h0m2.5 0h0m0 0.5h0m1.5-2h0m0 4.5h0m1-2.5h0m2.5 2h0m0-3h0m2.5 0.5h0m-36.5 6.5h0m2.5-3h0m2 0.5h0m0 4.5h0m0.5-5.5h0m3.5 0.5h0m0.5-0.5h0m0.5 1h0m1-0.5h0m1.5 4h0m3-4h0m2 0.5h0m0.5 3.5h0m2.5-3.5h0m1 2.5h0m4.5-0.5h0m1-2h0m3 0h0m-31.5 7h0m5.5 0h0m1 0h0m5.5-1.5h0" stroke="#f4cd2e" stroke-width="1.2" stroke-linecap="round" fill="none"/><path d="M1678.5 970h0m1 1.5h0m0 0h0m-17 9h0m7 0.5h0m1.5-0.5h0m11-1.5h0m0.5 0h0m-10 5.5h0m0.5 0h0m0-0.5h0m2.5-1h0m6.5 1h0m-5 7h0m-14.5 3.5h0m2 3.5h0m3-2h0m4.5 1h0m0.5-2.5h0m8.5 2.5h0m2 1h0m-10 6.5h0m0.5-2h0m6.5-1.5h0m2.5 4h0m6-3.5h0m-10.5 8.5h0m2 0.5h0m1-3.5h0m5-1h0m-24.5 5.5h0m14 4h0m9.5-1.5h0" stroke="#ddd5d5" stroke-width="1.2" stroke-linecap="round" fill="none"/><path d="M1703.5 974.5h0m0.5-4h0m1.5 3.5h0m2-2.5h0m1.5 3h0m0.5-1h0m1-0.5h0m1.5 0h0m0.5 1h0m1-2.5h0m1.5 2h0m0-1.5h0m4-1h0m0 0.5h0m0.5 2.5h0m0-5h0m1 1h0m0-0.5h0m1 5h0m1-4h0m5 4.5h0m1-0.5h0m-54 5.5h0m16.5-1.5h0m2.5 2h0m2-4h0m3.5 1h0m0.5 2h0m7 0h0m1.5-1.5h0m1-1h0m2.5-1h0m4-1h0m0.5 4h0m0 1h0m2-4.5h0m0.5 2.5h0m1.5-1h0m1-1h0m0 2h0m6 0h0m0.5-0.5h0m1-0.5h0m1.5 2h0m-55 4.5h0m4.5-1.5h0m0.5 5h0m4-1.5h0m2.5 0h0m0.5 0h0m4-2h0m2 0.5h0m0.5 2h0m0-1h0m1.5-3.5h0m1 4h0m5.5-3.5h0m2 0.5h0m1.5 3h0m1.5-1h0m3.5 2h0m2.5-5h0m0 0h0m0.5 0h0m0.5 4h0m1.5-3h0m3 0.5h0m0.5 1.5h0m4.5 2h0m2-3.5h0m1 2h0m0.5 2h0m0.5-0.5h0m0.5 0h0m2-1.5h0m1.5-0.5h0m1.5-2.5h0m0.5 2.5h0m0 1.5h0m1.5-0.5h0m-65 4h0m23 2h0m1 1.5h0m0.5-3h0m1 1.5h0m0.5-3.5h0m2 0h0m2.5 3h0m1.5-1h0m0 0h0m2-2.5h0m1 5h0m0-1.5h0m0.5-0.5h0m0.5-2h0m2 0h0m1.5 2h0m0.5-1.5h0m3.5-0.5h0m0 2.5h0m0.5 0h0m0 2h0m1-4.5h0m3 4.5h0m3.5-2h0m2-2h0m3.5 2h0m2 0h0m0.5-3h0m1.5 3.5h0m0.5-1.5h0m2.5 2.5h0m1-1h0m1-3h0m-54 7.5h0m11 1.5h0m1-3h0m6 2h0m3-0.5h0m2-2h0m0 3.5h0m2-4h0m0 5h0m0.5-4.5h0m0.5 4h0m2 0.5h0m0.5 0h0m2.5-4h0m0.5 0.5h0m1 2h0m0-2h0m0 3h0m0.5-4.5h0m1.5 4h0m0-1h0m0-3h0m1.5 3h0m0.5 1h0m0.5-0.5h0m1 0h0m1 0.5h0m0.5 0h0m1.5-4h0m1.5 3.5h0m0.5 0.5h0m1-2h0m0.5 2h0m1 1h0m0-5.5h0m0.5 5.5h0m0.5-0.5h0m1.5-2h0m1-1h0m0.5 3.5h0m0.5-3h0m0.5-2h0m1.5 2.5h0m1-3h0m1 1h0m-55.5 10h0m0-2h0m2.5 0h0m2-2.5h0m9 5h0m3.5-3h0m0.5 1.5h0m0.5-3h0m1.5-1h0m0.5 3h0m4 0.5h0m2.5-2.5h0m0.5-0.5h0m1 4.5h0m1.5-3.5h0m0 4h0m1-3.5h0m1 0.5h0m1-1.5h0m0 5h0m0.5-2.5h0m0.5-2h0m0 4h0m6.5-2h0m0 0.5h0m3.5-1h0m4 1.5h0m0.5-4.5h0m1.5 0h0m1.5 0.5h0m1 1h0m0 1h0m-58 8h0m1 0.5h0m6.5-3h0m14.5-1h0m1 0.5h0m0.5-1.5h0m0.5 0h0m0.5 5.5h0m1-3.5h0m0-0.5h0m1 2h0m1-2h0m4 0h0m0.5 0.5h0m1 2h0m7.5-3h0m1.5 0h0m1-1h0m0 4.5h0m3 1.5h0m0-1h0m1.5-1h0m2 1.5h0m0-2h0m0 2.5h0m1-4.5h0m0 2.5h0m0.5-1h0m1-0.5h0m0.5 1.5h0m0.5-3h0m2-1h0m-26 7h0m0.5 4h0m1 0h0m5-1.5h0m0-1.5h0m0.5-0.5h0m4-0.5h0m0 3h0m2.5-0.5h0m0-3h0m6 5h0m1.5-3h0m5.5-1.5h0m-25.5 8.5h0m4.5-3.5h0m-6 6.5h0m2.5 2h0m1 0.5h0m-7.5 5h0m6 1.5h0m2-0.5h0m-5 5h0m1 2h0m-3.5 2h0" stroke="#de3325" stroke-width="1.2" stroke-linecap="round" fill="none"/><path d="M1698 1040h0m1-0.5h0m2.5 1h0m2-4.5h0m-43 7.5h0m16 0h0m20 1h0m2 1.5h0m0-4h0m0.5 2.5h0m1.5-2.5h0m-29.5 6.5h0m0 1.5h0m23 2h0m6.5-1h0m1-3.5h0m-34.5 10h0m13-4.5h0m9 5.5h0m10.5-4.5h0m-38.5 6h0m14 3h0m2-0.5h0m4-0.5h0m1-2h0m2.5 3h0m4.5-3h0m2.5 2h0m1.5-0.5h0m1 2.5h0m1-5h0m4 2.5h0m-28.5 9h0m3.5-2h0m4-0.5h0m0-2h0m2 0.5h0m4.5 3h0m0.5-3h0m0.5 3.5h0m3.5 0.5h0m0.5-3h0m2.5-1h0m6.5 3h0m2.5-3.5h0m-37.5 8h0m2.5-1.5h0m1 2.5h0m10.5-1.5h0m0 1h0m0-0.5h0m2.5-2h0m0 1.5h0m0 1.5h0m0-1.5h0m0.5-0.5h0m0.5 0h0m0.5-0.5h0m4 2h0m1.5-2.5h0m2.5 0h0m0.5-1h0m0.5 2.5h0m0-2h0m0.5 2.5h0m1.5-0.5h0m1.5 3.5h0m1-4.5h0m4.5-0.5h0m0 2h0m9 3h0m-34.5 0.5h0m0.5 1.5h0m2 3.5h0m0.5 0h0m0.5-1.5h0m2.5 0h0m0-1.5h0m1 3.5h0m0.5-4h0m1 2.5h0m0.5 1.5h0m0-6h0m1.5 0.5h0m1.5 2h0m0-0.5h0m0.5 0h0m0 4h0m3-0.5h0m0.5-2.5h0m1.5-3h0m1.5 3h0m1 0h0m0.5 1h0m1 2h0m6.5-5.5h0m-25 10h0m3-3h0m3.5 0.5h0m3.5 4h0m0-1h0m3.5-1h0m4-3h0m1.5 6.5h0" stroke="#9c9a2c" stroke-width="1.2" stroke-linecap="round" fill="none"/></g><g font-size="4.5" fill="#333" text-anchor="middle"><text x="1598.6" y="964.5">3</text><text x="1631.1" y="999.5">1</text><text x="1588.6" y="1029.5">4</text><text x="1713.1" y="994.5">2</text><text x="1685.6" y="1074.5">5</text></g><filter id="ub10" x="-20%" y="-20%" width="140%" height="140%"><feGaussianBlur stdDeviation="2.6"/></filter><filter id="uc10" x="-30%" y="-30%" width="160%" height="160%"><feGaussianBlur stdDeviation="4.2"/></filter><clipPath id="up10"><polygon points="1791,938 1802.8,941.2 1815.6,946.6 1831.6,955.1 1847.7,966.9 1858.4,980.8 1861.6,989.4 1858.9,999 1855.2,1006.5 1849.8,1018.2 1837,1031 1826.3,1041.8 1810.3,1051.3 1788.9,1054.5 1770.7,1047 1765.4,1031 1768.6,1017.1 1771.8,1004.3 1772.9,983 1778.2,956.2 1783.6,943.4" fill="#000"/></clipPath><g filter="url(#ub10)"><g clip-path="url(#up10)"><polygon points="1791,938 1802.8,941.2 1815.6,946.6 1831.6,955.1 1847.7,966.9 1858.4,980.8 1861.6,989.4 1858.9,999 1855.2,1006.5 1849.8,1018.2 1837,1031 1826.3,1041.8 1810.3,1051.3 1788.9,1054.5 1770.7,1047 1765.4,1031 1768.6,1017.1 1771.8,1004.3 1772.9,983 1778.2,956.2 1783.6,943.4" fill="#f2aea8"/><g filter="url(#uc10)"><polygon points="1810.2,914.5 1882.2,914.5 1882.2,1010.5 1810.2,1010.5" fill="#cac88d"/><polygon points="1882.2,1004.5 1882.2,1079.5 1796.2,1079.5 1796.2,1004.5" fill="#fae89f"/><polygon points="1796.2,1079.5 1742.2,1079.5 1742.2,1017.5 1796.2,1017.5" fill="#b97684"/></g></g><circle cx="1906.7" cy="992.5" r="23" fill="#f2f2f2"/><ellipse cx="1879.2" cy="1076" rx="14.5" ry="13.5" fill="#a1c6e7"/><polygon points="1891.2,1035.5 1898.2,1037.5 1890.2,1067 1872.2,1067 1867.2,1049.5" fill="#dae8f6"/><polygon points="1856.2,974.5 1884.7,979.5 1889.7,1009.5 1852.2,1012" fill="#f8f7f7"/></g><g opacity="0.75"><path d="M1790.5 943h0m3-1h0m0.5 0h0m0.5-2.5h0m0.5-0.5h0m4 4h0m1.5 2h0m6.5-2h0m-20.5 3.5h0m4 3h0m1.5-1.5h0m0.5 1.5h0m2-2h0m1.5 0.5h0m7-2h0m0.5 1h0m3.5 3h0m3-2.5h0m-29.5 9h0m0-0.5h0m1-2h0m1-0.5h0m6 1h0m3 2h0m1.5-3h0m2 1.5h0m2-1.5h0m2 0h0m0 0.5h0m5.5 2h0m2.5-4.5h0m0 5.5h0m-30 2h0m1 3h0m3.5 0h0m2.5-3h0m3 3.5h0m6-1h0m1 1h0m0.5-3h0m3-2h0m2 0h0m4.5 3h0m2 2.5h0m0.5-0.5h0m1-3h0m0.5 2.5h0m-31 6.5h0m0-3.5h0m8-1h0m1 4h0m4-2h0m1.5-2.5h0m0 0h0m3 0h0m0 2.5h0m11-2h0m1 4h0m2.5-4.5h0m-32.5 6.5h0m4 2.5h0m1-2h0m3 0.5h0m7 0.5h0m1 1.5h0m0.5 0.5h0m3.5-4h0m4.5 1.5h0m0.5 0h0m3.5-2h0m1.5 4h0m0-3h0m0.5 1.5h0m1-2h0m0.5 1.5h0m-27 7.5h0m1.5 0h0m2.5-1.5h0m3 2.5h0m13-3h0m2 1.5h0m5-3h0m1 2h0m-35 4.5h0m3 1h0m9 2h0m0-1h0m0 1h0m1.5 1h0m0 0h0m8 0.5h0m1.5-2.5h0m3.5-0.5h0m2.5 3h0m3.5 0h0m-32 4h0m6.5-1h0m1 0h0m7.5 1.5h0m2.5 0.5h0m0.5-0.5h0m2 0.5h0m1.5-1h0m4.5 1h0m0.5-4h0m1 4h0m1.5-1h0m-30 4h0m0 2.5h0m2-0.5h0m8 2h0m4-4.5h0m0.5 0.5h0m1 4.5h0m0-0.5h0m6.5-1.5h0m2-1h0m2.5-2.5h0m0.5 3.5h0m1 1h0m-31 5h0m3-1h0m1-2.5h0m2.5 1.5h0m3-0.5h0m0 2h0m1.5-1h0m1 4h0m1.5-3.5h0m1.5-0.5h0m0 2h0m3-0.5h0m2.5-2h0m1.5-1h0m1.5 4.5h0m-24 3.5h0m1 1.5h0m2.5-1h0m6-2.5h0m6 5h0m0 0.5h0m2.5-4.5h0m0.5 0.5h0m0.5-0.5h0m1.5 0h0m0.5 3.5h0m1.5-3.5h0m-22.5 9h0m1-3.5h0m0.5 1.5h0m0-0.5h0m3 2.5h0m2.5 0h0m0.5-2.5h0m1 0h0m0 3.5h0" stroke="#e4574a" stroke-width="1.2" stroke-linecap="round" fill="none"/><path d="M1813 949h0m2.5 1h0m2.5 0h0m-7.5 2.5h0m1.5 4h0m2.5 0h0m1-2.5h0m5-3h0m-5.5 7h0m1 2.5h0m5.5 2h0m2-1h0m0-2.5h0m0.5 3.5h0m1.5-2h0m3.5-0.5h0m2.5-2h0m0.5 3.5h0m-20.5 5h0m1-0.5h0m1.5 0h0m4.5 0h0m1.5-0.5h0m1.5 2h0m2-2.5h0m1-0.5h0m4 2.5h0m1-3h0m2 0h0m1.5 3h0m3-1h0m5.5-2h0m-30 6h0m3-1h0m4.5 1h0m4.5 0h0m3 1.5h0m0.5 3h0m8.5-2.5h0m-20 7.5h0m0.5-2.5h0m1.5 1h0m0.5 2.5h0m4-2h0m3 0h0m0.5-2.5h0m15-0.5h0m2.5 3.5h0m6.5-4h0m0.5 0.5h0m3 1h0m-42 5.5h0m0-0.5h0m1.5 4h0m1-3h0m1.5 1h0m3-2h0m1 1h0m5-0.5h0m2 3h0m0.5-2h0m5 0.5h0m2-1h0m1 3h0m3 1h0m1-1h0m1 0h0m1-1.5h0m1.5 1.5h0m3-0.5h0m1.5-1.5h0m8.5 1.5h0m0.5-2h0m0.5 0.5h0m-43.5 5h0m4.5-1.5h0m0.5 4h0m3-3.5h0m1.5 1h0m2.5-0.5h0m2 3h0m0.5-4h0m1.5 1.5h0m0.5 0.5h0m0.5-1h0m5-0.5h0m1.5 5h0m2-0.5h0m0.5-4.5h0m10 3.5h0m12 1.5h0m-50 4h0m0.5-0.5h0m6-1h0m0-0.5h0m1.5 0.5h0m0 0.5h0m7.5 2h0m8.5-3h0m4-1h0m0.5 5h0m4-2h0m3-1.5h0m0.5 1h0m0.5-0.5h0m0.5 3h0m1-2.5h0m5 2h0m0.5-1.5h0m1-1h0m2.5-2h0m0 5h0m-43.5 5.5h0m1-1h0m0.5-1h0m7-0.5h0m2.5 3h0m0.5-5h0m1.5 4h0m4.5-4.5h0m0 5.5h0m6.5-1h0m0-0.5h0m4 1h0m1 0.5h0m2.5-1h0m0 0.5h0m1-4.5h0m2.5 3h0m2.5-3.5h0" stroke="#9c9a2c" stroke-width="1.2" stroke-linecap="round" fill="none"/><path d="M1837.5 1004.5h0m3 0.5h0m-43.5 3.5h0m0.5-1.5h0m1-1h0m1.5 3.5h0m2-4.5h0m1 1.5h0m7.5 0h0m6-0.5h0m0.5-0.5h0m6.5 4h0m2.5-1h0m0.5-2.5h0m3.5 1h0m2 1h0m3-2h0m1-0.5h0m0.5 1h0m5.5 3.5h0m3-2h0m2-1.5h0m0.5 2h0m1.5-1h0m5.5-2.5h0m-50 6h0m0 1h0m2.5 0h0m1 4.5h0m0.5-5h0m4 3.5h0m0.5-3.5h0m0.5 0h0m2.5 3h0m2.5-0.5h0m16.5 1.5h0m7 1h0m1-4.5h0m0.5 1h0m3.5 4h0m2-0.5h0m-52.5 4h0m1 0h0m1.5-3h0m1 2.5h0m2 2.5h0m0.5-3h0m5-0.5h0m0.5 2.5h0m0-1.5h0m0.5 0.5h0m2-1h0m0.5 0h0m1 2h0m2.5-1.5h0m2 0h0m0.5-1.5h0m0.5 3.5h0m1-4h0m0 1h0m2 1.5h0m5-1.5h0m5.5 1.5h0m0 1.5h0m5.5-0.5h0m1-2.5h0m1.5 2h0m6 1.5h0m-48 5h0m2-1.5h0m5-1h0m3.5 2h0m2 1.5h0m0.5 0.5h0m1-5.5h0m9 0.5h0m2.5 2.5h0m4-0.5h0m3-1h0m6.5-1h0m0 4h0m1-0.5h0m1-1.5h0m3-0.5h0m-37.5 4h0m2 0h0m2.5 0h0m0.5 3h0m6-1h0m0 1h0m1.5-2h0m2 2h0m7 0h0m2 2h0m0.5 0h0m2-1.5h0m3 1h0m0-1h0m1-3.5h0m0 1.5h0m0 1.5h0m0 1h0m1.5-4h0m-37 7.5h0m0.5 3.5h0m1-4.5h0m3.5 1.5h0m0.5-2h0m0.5 1.5h0m0 3h0m4.5-1.5h0m3.5-3h0m1.5 1.5h0m1.5-1.5h0m2 3h0m5-1.5h0m-20.5 7.5h0m1-0.5h0m3.5 1h0m3.5 2h0m3-0.5h0m4-3.5h0m5-1h0m-20.5 6h0m7 1h0" stroke="#f4cd2e" stroke-width="1.2" stroke-linecap="round" fill="none"/><path d="M1769 1021.5h0m6-3h0m0.5-0.5h0m11 1.5h0m4-1h0m4 2h0m1.5 1.5h0m-29.5 2h0m0 3.5h0m1.5-2.5h0m2.5 3.5h0m10.5-5h0m8.5 1h0m2 4.5h0m-25 2.5h0m0.5-2.5h0m1 5h0m2.5-4h0m1.5-0.5h0m0.5 1.5h0m1.5 3.5h0m1-2.5h0m4.5 1.5h0m3-1h0m4 2.5h0m2.5-2h0m2-0.5h0m-22 3h0m3 4h0m0.5-4h0m1 1.5h0m0 3h0m2 1h0m3-2h0m2.5-2h0m3.5 3h0m0-2h0m2-1h0m0.5 4h0m1.5 0h0m0.5-1h0m1 0h0m3.5-4h0m0.5 1.5h0m-20.5 6h0m2.5-2h0m0.5 2.5h0m1-0.5h0m0-2.5h0m7.5 1h0m3 1.5h0m1.5 3h0m1.5-1.5h0m1-3h0m1 0h0m2 2h0m0.5 2h0m-22.5 1h0m1.5 1.5h0m1.5 1h0m0-1.5h0m2.5-0.5h0m2.5 4.5h0m1.5-1.5h0m4.5 1h0m4.5 1.5h0m4-5.5h0m-11.5 7h0m6.5 2h0" stroke="#8e2238" stroke-width="1.2" stroke-linecap="round" fill="none"/><path d="M1855.5 953h0m6.5 9.5h0m2 0.5h0m-9 2h0m19 3h0m-14.5 4h0m5 0h0m4.5 6.5h0m1.5-3.5h0m-12.5 7h0m17.5 0.5h0m-8 10h0m0.5 0.5h0m4-5h0m1.5 4.5h0m1.5-0.5h0m-16 3.5h0m1.5-2h0m5.5 1h0m10 4.5h0m2-5.5h0m3.5 4.5h0m-24 3.5h0m14.5 0h0m4 3h0m-18.5 0.5h0m0.5 3h0m5 2h0m1-4h0m3.5 1h0m3.5 2h0m5 1.5h0m4-1.5h0" stroke="#ddd5d5" stroke-width="1.2" stroke-linecap="round" fill="none"/><path d="M1866.5 962.5h0m0.5 2h0m3.5 6.5h0m20.5 2h0m7.5-3h0m1.5 1.5h0m2.5 3.5h0m2 0h0m1-4h0m0-2h0m1 4h0m2.5-0.5h0m4.5-2h0m4 0.5h0m-55 7.5h0m1.5-1.5h0m14.5 1h0m6.5 3h0m5-1h0m1-2.5h0m3.5 1.5h0m3 0.5h0m0.5-4h0m0.5 2.5h0m1 0h0m0.5 2.5h0m0.5-0.5h0m0-2.5h0m0.5 3h0m1.5-2h0m3.5-3h0m1.5 0.5h0m2.5 4h0m0.5-5h0m1.5 0.5h0m4 3h0m2.5-0.5h0m0.5-1.5h0m0 0.5h0m2.5 3h0m0 0.5h0m0.5 0h0m0.5-2.5h0m1 1h0m-48 5h0m3 3h0m1 0h0m5-1h0m1 0.5h0m2-3.5h0m3 1.5h0m0-1.5h0m1 2.5h0m2-3.5h0m3 1h0m0.5 1.5h0m3.5-1.5h0m1.5 2.5h0m0 1.5h0m0.5-1.5h0m0.5-4h0m1 5h0m1.5-2.5h0m1 2h0m2-5h0m1 6h0m0.5-5.5h0m1 2.5h0m4.5 0h0m4 1h0m0.5-1.5h0m0.5 1.5h0m0.5-1h0m2.5 2.5h0m5-0.5h0m-59.5 2.5h0m4.5 2.5h0m3 1.5h0m2-3h0m4 2h0m1-1h0m1-2.5h0m0.5 0h0m1 3.5h0m1-1.5h0m0-0.5h0m0.5 1h0m0.5-2h0m1.5 4.5h0m0.5-0.5h0m4.5-0.5h0m1.5-2.5h0m1.5 2.5h0m0-1h0m0-2.5h0m1.5-1h0m0.5 3.5h0m0-3.5h0m0.5-0.5h0m3 0.5h0m0.5 4.5h0m0.5 0h0m0.5-0.5h0m1-1h0m1 0.5h0m0.5-2.5h0m2.5 0.5h0m3 2h0m3.5-2.5h0m0.5-0.5h0m0.5 2.5h0m2.5 2h0m1 0h0m1.5-3.5h0m1.5 3h0m0.5 0h0m0.5-3h0m1 3.5h0m1.5-3h0m0 0.5h0m0 1.5h0m-56.5 4.5h0m11.5-2h0m1.5 0.5h0m0.5 3h0m2 1.5h0m0-1.5h0m2-0.5h0m0-3.5h0m4.5 1h0m1 0.5h0m4.5 1h0m1.5 2h0m5.5-2.5h0m2 0.5h0m2 2.5h0m1.5-3h0m0.5 1h0m1 1h0m1.5-2h0m0.5 1.5h0m0-1.5h0m0.5 1h0m2.5 0.5h0m0-3.5h0m3 2h0m0-2.5h0m2 1.5h0m2 2h0m1 1.5h0m0-3h0m0.5 3h0m0-2h0m0.5 1.5h0m3-4h0m0.5 5h0m1-5h0m-70 11h0m25.5-1h0m3 1.5h0m2.5-0.5h0m2.5 0h0m3-1.5h0m1 1.5h0m0-4h0m0.5 0.5h0m3-1h0m0.5 2h0m2-3h0m1 5h0m0 0.5h0m2-1h0m0.5-1.5h0m2.5 1.5h0m1.5-2.5h0m0.5-1.5h0m2 4h0m0.5-3.5h0m0.5 4h0m0.5 0.5h0m1.5-4h0m1 2h0m0 2h0m1.5 0h0m0-1.5h0m1.5-3.5h0m0 1h0m0.5 2h0m1.5 0.5h0m0 0h0m0.5 0.5h0m0 1h0m2.5-3h0m7-0.5h0m-68 7h0m3.5-1h0m18.5 0h0m5-1h0m0.5 3.5h0m2 0h0m2-1.5h0m0.5 2.5h0m1-2.5h0m2.5 0.5h0m4.5-3h0m2.5 2h0m2 2h0m0.5-1.5h0m0.5-2.5h0m0 1.5h0m0.5-1h0m0 2h0m2-0.5h0m1-1.5h0m5-0.5h0m1-0.5h0m0.5 6h0m2.5-5.5h0m0 3.5h0m0.5-3.5h0m2 0h0m-33 6.5h0m3 2h0m2.5-1h0m0.5-1h0m0.5 2h0m1 1h0m0.5-3h0m0 0.5h0m1.5 2h0m0-1h0m5.5 1h0m3.5-3h0m7 0h0m-22 8h0m0 2.5h0m0.5-1.5h0m3.5 2.5h0m0.5-1h0m1.5-4.5h0m5.5 1h0m-14.5 8.5h0m2-1h0m0.5 3h0m-3 11.5h0m1-3.5h0m1.5 2.5h0" stroke="#c8c8c8" stroke-width="1.2" stroke-linecap="round" fill="none"/><path d="M1857 1041h0m14.5-2h0m1-1h0m1.5 2h0m7.5-0.5h0m3 1h0m5-4h0m6 4h0m-42.5 0.5h0m13 5h0m18.5 0h0m4.5-3h0m0.5-0.5h0m2.5 2.5h0m0 0h0m0.5-2.5h0m2.5 3.5h0m-33.5 2.5h0m16-1h0m6.5 4.5h0m6-4h0m0.5 2h0m-6.5 5h0m1 3.5h0m1-2.5h0m2-1h0m4-0.5h0m0.5 0h0m-12 10h0m1 0h0m1.5-4h0m3 2.5h0m0-1.5h0m5.5-2.5h0m2.5 2.5h0m2 1h0m-40 5h0m1.5-1h0m6.5 0.5h0m4.5 2.5h0m1-0.5h0m2-1h0m0 2h0m2-2h0m3 1h0m1.5 1h0m0.5-4h0m0.5 2h0m3 2h0m0-1h0m1.5 0.5h0m7.5-0.5h0m-25 5.5h0m3.5 1h0m2-4.5h0m1.5 2.5h0m0 0.5h0m0 0.5h0m1 1h0m2-1h0m2.5-1h0m1 0.5h0m1 2.5h0m0.5-4.5h0m0.5 1.5h0m0 0h0m2.5 1h0m1.5-1.5h0m3-0.5h0m0 0h0m2.5 1h0m0-1h0m4 4.5h0m-30 0h0m5 2.5h0m0.5 1.5h0m2.5-2h0m0-2h0m0.5 0h0m1 5h0m0.5-1.5h0m1.5-1.5h0m2-1h0m0.5 5h0m0-5.5h0m2.5 1h0m1.5-0.5h0m0 2h0m0.5-3h0m1.5 1h0m0.5 4h0m0.5-1.5h0m0 0.5h0m2-3.5h0m1 5h0m-15.5 0.5h0m3.5 4h0m1.5-2.5h0m1 0.5h0m1-1.5h0m8-0.5h0m-11.5 9h0m1-0.5h0m8-2h0" stroke="#5b9bd5" stroke-width="1.2" stroke-linecap="round" fill="none"/></g><g font-size="4.5" fill="#333" text-anchor="middle"><text x="1792.2" y="964.5">2</text><text x="1834.7" y="984.5">5</text><text x="1817.2" y="1014.5">3</text><text x="1782.2" y="1029.5">4</text><text x="1906.7" y="994.5">1</text><text x="1879.2" y="1074.5">6</text></g></g>
<g id="panel-c"><text x="-0.5" y="1111.7" font-size="43" font-weight="700">c</text><text transform="translate(12.97 1156.00) scale(0.9978 1)" font-size="28.6">Consensus matrix from 300 iterative runs</text><clipPath id="cm7"><rect x="32" y="1181.2" width="161.2" height="161.2"/></clipPath><rect x="32" y="1181.2" width="161.2" height="161.2" fill="#21305e"/><g clip-path="url(#cm7)"></g><g font-family="'DejaVu Sans',sans-serif" font-size="5.3" fill="#2a2a2a" stroke="#222" stroke-width="0.5"><path d="M32 1342.4v2M32 1181.2h-2"/><path d="M56.4 1342.4v2M32 1205.6h-2"/><path d="M80.8 1342.4v2M32 1230h-2"/><path d="M105.3 1342.4v2M32 1254.5h-2"/><path d="M129.7 1342.4v2M32 1278.9h-2"/><path d="M154.1 1342.4v2M32 1303.3h-2"/><path d="M178.5 1342.4v2M32 1327.7h-2"/></g><g font-family="'DejaVu Sans',sans-serif" font-size="5.3" fill="#333"><text x="32" y="1351" text-anchor="middle">0</text><text x="27.4" y="1183.1" text-anchor="end">0</text><text x="56.4" y="1351" text-anchor="middle">1000</text><text x="27.4" y="1207.5" text-anchor="end">1000</text><text x="80.8" y="1351" text-anchor="middle">2000</text><text x="27.4" y="1232" text-anchor="end">2000</text><text x="105.3" y="1351" text-anchor="middle">3000</text><text x="27.4" y="1256.4" text-anchor="end">3000</text><text x="129.7" y="1351" text-anchor="middle">4000</text><text x="27.4" y="1280.8" text-anchor="end">4000</text><text x="154.1" y="1351" text-anchor="middle">5000</text><text x="27.4" y="1305.2" text-anchor="end">5000</text><text x="178.5" y="1351" text-anchor="middle">6000</text><text x="27.4" y="1329.7" text-anchor="end">6000</text></g><clipPath id="cm8"><rect x="224" y="1181.2" width="161.2" height="161.2"/></clipPath><rect x="224" y="1181.2" width="161.2" height="161.2" fill="#21305e"/><g clip-path="url(#cm8)"><rect x="224" y="1181.2" width="14.7" height="14.7" fill="#6b111f"/><rect x="238.7" y="1195.9" width="105" height="105" fill="#6b111f"/><rect x="343.7" y="1300.9" width="41.5" height="41.5" fill="#6b111f"/><line x1="238.7" y1="1181.2" x2="238.7" y2="1342.4" stroke="#9fb0d6" stroke-width="0.6" opacity="0.75"/><line x1="224" y1="1195.9" x2="385.2" y2="1195.9" stroke="#9fb0d6" stroke-width="0.6" opacity="0.75"/><line x1="343.7" y1="1181.2" x2="343.7" y2="1342.4" stroke="#9fb0d6" stroke-width="0.6" opacity="0.75"/><line x1="224" y1="1300.9" x2="385.2" y2="1300.9" stroke="#9fb0d6" stroke-width="0.6" opacity="0.75"/><rect x="224" y="1181.2" width="14.7" height="14.7" fill="none" stroke="#d98e8e" stroke-width="0.6" opacity="0.8"/><rect x="238.7" y="1195.9" width="105" height="105" fill="none" stroke="#d98e8e" stroke-width="0.6" opacity="0.8"/><rect x="343.7" y="1300.9" width="41.5" height="41.5" fill="none" stroke="#d98e8e" stroke-width="0.6" opacity="0.8"/></g><g font-family="'DejaVu Sans',sans-serif" font-size="5.3" fill="#2a2a2a" stroke="#222" stroke-width="0.5"><path d="M224 1342.4v2M224 1181.2h-2"/><path d="M248.4 1342.4v2M224 1205.6h-2"/><path d="M272.8 1342.4v2M224 1230h-2"/><path d="M297.3 1342.4v2M224 1254.5h-2"/><path d="M321.7 1342.4v2M224 1278.9h-2"/><path d="M346.1 1342.4v2M224 1303.3h-2"/><path d="M370.5 1342.4v2M224 1327.7h-2"/></g><g font-family="'DejaVu Sans',sans-serif" font-size="5.3" fill="#333"><text x="224" y="1351" text-anchor="middle">0</text><text x="219.4" y="1183.1" text-anchor="end">0</text><text x="248.4" y="1351" text-anchor="middle">1000</text><text x="219.4" y="1207.5" text-anchor="end">1000</text><text x="272.8" y="1351" text-anchor="middle">2000</text><text x="219.4" y="1232" text-anchor="end">2000</text><text x="297.3" y="1351" text-anchor="middle">3000</text><text x="219.4" y="1256.4" text-anchor="end">3000</text><text x="321.7" y="1351" text-anchor="middle">4000</text><text x="219.4" y="1280.8" text-anchor="end">4000</text><text x="346.1" y="1351" text-anchor="middle">5000</text><text x="219.4" y="1305.2" text-anchor="end">5000</text><text x="370.5" y="1351" text-anchor="middle">6000</text><text x="219.4" y="1329.7" text-anchor="end">6000</text></g><clipPath id="cm9"><rect x="416.5" y="1181.2" width="161.2" height="161.2"/></clipPath><rect x="416.5" y="1181.2" width="161.2" height="161.2" fill="#21305e"/><g clip-path="url(#cm9)"><rect x="416.5" y="1181.2" width="41.5" height="41.5" fill="#6b111f"/><rect x="458" y="1222.7" width="14.7" height="14.7" fill="#6b111f"/><rect x="472.7" y="1237.4" width="105" height="105" fill="#6b111f"/><line x1="458" y1="1181.2" x2="458" y2="1342.4" stroke="#9fb0d6" stroke-width="0.6" opacity="0.75"/><line x1="416.5" y1="1222.7" x2="577.7" y2="1222.7" stroke="#9fb0d6" stroke-width="0.6" opacity="0.75"/><line x1="472.7" y1="1181.2" x2="472.7" y2="1342.4" stroke="#9fb0d6" stroke-width="0.6" opacity="0.75"/><line x1="416.5" y1="1237.4" x2="577.7" y2="1237.4" stroke="#9fb0d6" stroke-width="0.6" opacity="0.75"/><rect x="416.5" y="1181.2" width="41.5" height="41.5" fill="none" stroke="#d98e8e" stroke-width="0.6" opacity="0.8"/><rect x="458" y="1222.7" width="14.7" height="14.7" fill="none" stroke="#d98e8e" stroke-width="0.6" opacity="0.8"/><rect x="472.7" y="1237.4" width="105" height="105" fill="none" stroke="#d98e8e" stroke-width="0.6" opacity="0.8"/></g><g font-family="'DejaVu Sans',sans-serif" font-size="5.3" fill="#2a2a2a" stroke="#222" stroke-width="0.5"><path d="M416.5 1342.4v2M416.5 1181.2h-2"/><path d="M440.9 1342.4v2M416.5 1205.6h-2"/><path d="M465.3 1342.4v2M416.5 1230h-2"/><path d="M489.8 1342.4v2M416.5 1254.5h-2"/><path d="M514.2 1342.4v2M416.5 1278.9h-2"/><path d="M538.6 1342.4v2M416.5 1303.3h-2"/><path d="M563 1342.4v2M416.5 1327.7h-2"/></g><g font-family="'DejaVu Sans',sans-serif" font-size="5.3" fill="#333"><text x="416.5" y="1351" text-anchor="middle">0</text><text x="411.9" y="1183.1" text-anchor="end">0</text><text x="440.9" y="1351" text-anchor="middle">1000</text><text x="411.9" y="1207.5" text-anchor="end">1000</text><text x="465.3" y="1351" text-anchor="middle">2000</text><text x="411.9" y="1232" text-anchor="end">2000</text><text x="489.8" y="1351" text-anchor="middle">3000</text><text x="411.9" y="1256.4" text-anchor="end">3000</text><text x="514.2" y="1351" text-anchor="middle">4000</text><text x="411.9" y="1280.8" text-anchor="end">4000</text><text x="538.6" y="1351" text-anchor="middle">5000</text><text x="411.9" y="1305.2" text-anchor="end">5000</text><text x="563" y="1351" text-anchor="middle">6000</text><text x="411.9" y="1329.7" text-anchor="end">6000</text></g><clipPath id="cm10"><rect x="609" y="1181.2" width="161.2" height="161.2"/></clipPath><rect x="609" y="1181.2" width="161.2" height="161.2" fill="#21305e"/><g clip-path="url(#cm10)"><rect x="609" y="1181.2" width="14.7" height="14.7" fill="#6b111f"/><rect x="623.7" y="1195.9" width="41.5" height="41.5" fill="#6b111f"/><rect x="665.2" y="1237.4" width="105" height="105" fill="#6b111f"/><line x1="623.7" y1="1181.2" x2="623.7" y2="1342.4" stroke="#9fb0d6" stroke-width="0.6" opacity="0.75"/><line x1="609" y1="1195.9" x2="770.2" y2="1195.9" stroke="#9fb0d6" stroke-width="0.6" opacity="0.75"/><line x1="665.2" y1="1181.2" x2="665.2" y2="1342.4" stroke="#9fb0d6" stroke-width="0.6" opacity="0.75"/><line x1="609" y1="1237.4" x2="770.2" y2="1237.4" stroke="#9fb0d6" stroke-width="0.6" opacity="0.75"/><rect x="609" y="1181.2" width="14.7" height="14.7" fill="none" stroke="#d98e8e" stroke-width="0.6" opacity="0.8"/><rect x="623.7" y="1195.9" width="41.5" height="41.5" fill="none" stroke="#d98e8e" stroke-width="0.6" opacity="0.8"/><rect x="665.2" y="1237.4" width="105" height="105" fill="none" stroke="#d98e8e" stroke-width="0.6" opacity="0.8"/></g><g font-family="'DejaVu Sans',sans-serif" font-size="5.3" fill="#2a2a2a" stroke="#222" stroke-width="0.5"><path d="M609 1342.4v2M609 1181.2h-2"/><path d="M633.4 1342.4v2M609 1205.6h-2"/><path d="M657.8 1342.4v2M609 1230h-2"/><path d="M682.3 1342.4v2M609 1254.5h-2"/><path d="M706.7 1342.4v2M609 1278.9h-2"/><path d="M731.1 1342.4v2M609 1303.3h-2"/><path d="M755.5 1342.4v2M609 1327.7h-2"/></g><g font-family="'DejaVu Sans',sans-serif" font-size="5.3" fill="#333"><text x="609" y="1351" text-anchor="middle">0</text><text x="604.4" y="1183.1" text-anchor="end">0</text><text x="633.4" y="1351" text-anchor="middle">1000</text><text x="604.4" y="1207.5" text-anchor="end">1000</text><text x="657.8" y="1351" text-anchor="middle">2000</text><text x="604.4" y="1232" text-anchor="end">2000</text><text x="682.3" y="1351" text-anchor="middle">3000</text><text x="604.4" y="1256.4" text-anchor="end">3000</text><text x="706.7" y="1351" text-anchor="middle">4000</text><text x="604.4" y="1280.8" text-anchor="end">4000</text><text x="731.1" y="1351" text-anchor="middle">5000</text><text x="604.4" y="1305.2" text-anchor="end">5000</text><text x="755.5" y="1351" text-anchor="middle">6000</text><text x="604.4" y="1329.7" text-anchor="end">6000</text></g><clipPath id="cm11"><rect x="801.3" y="1181.2" width="161.2" height="161.2"/></clipPath><rect x="801.3" y="1181.2" width="161.2" height="161.2" fill="#21305e"/><g clip-path="url(#cm11)"><rect x="801.3" y="1181.2" width="14.7" height="14.7" fill="#6b111f"/><rect x="816" y="1195.9" width="105" height="105" fill="#6b111f"/><rect x="921" y="1300.9" width="41.5" height="41.5" fill="#6b111f"/><line x1="816" y1="1181.2" x2="816" y2="1342.4" stroke="#9fb0d6" stroke-width="0.6" opacity="0.75"/><line x1="801.3" y1="1195.9" x2="962.5" y2="1195.9" stroke="#9fb0d6" stroke-width="0.6" opacity="0.75"/><line x1="921" y1="1181.2" x2="921" y2="1342.4" stroke="#9fb0d6" stroke-width="0.6" opacity="0.75"/><line x1="801.3" y1="1300.9" x2="962.5" y2="1300.9" stroke="#9fb0d6" stroke-width="0.6" opacity="0.75"/><rect x="801.3" y="1181.2" width="14.7" height="14.7" fill="none" stroke="#d98e8e" stroke-width="0.6" opacity="0.8"/><rect x="816" y="1195.9" width="105" height="105" fill="none" stroke="#d98e8e" stroke-width="0.6" opacity="0.8"/><rect x="921" y="1300.9" width="41.5" height="41.5" fill="none" stroke="#d98e8e" stroke-width="0.6" opacity="0.8"/></g><g font-family="'DejaVu Sans',sans-serif" font-size="5.3" fill="#2a2a2a" stroke="#222" stroke-width="0.5"><path d="M801.3 1342.4v2M801.3 1181.2h-2"/><path d="M825.7 1342.4v2M801.3 1205.6h-2"/><path d="M850.1 1342.4v2M801.3 1230h-2"/><path d="M874.6 1342.4v2M801.3 1254.5h-2"/><path d="M899 1342.4v2M801.3 1278.9h-2"/><path d="M923.4 1342.4v2M801.3 1303.3h-2"/><path d="M947.8 1342.4v2M801.3 1327.7h-2"/></g><g font-family="'DejaVu Sans',sans-serif" font-size="5.3" fill="#333"><text x="801.3" y="1351" text-anchor="middle">0</text><text x="796.7" y="1183.1" text-anchor="end">0</text><text x="825.7" y="1351" text-anchor="middle">1000</text><text x="796.7" y="1207.5" text-anchor="end">1000</text><text x="850.1" y="1351" text-anchor="middle">2000</text><text x="796.7" y="1232" text-anchor="end">2000</text><text x="874.6" y="1351" text-anchor="middle">3000</text><text x="796.7" y="1256.4" text-anchor="end">3000</text><text x="899" y="1351" text-anchor="middle">4000</text><text x="796.7" y="1280.8" text-anchor="end">4000</text><text x="923.4" y="1351" text-anchor="middle">5000</text><text x="796.7" y="1305.2" text-anchor="end">5000</text><text x="947.8" y="1351" text-anchor="middle">6000</text><text x="796.7" y="1329.7" text-anchor="end">6000</text></g><clipPath id="cm12"><rect x="993.3" y="1181.3" width="161.2" height="161.2"/></clipPath><rect x="993.3" y="1181.3" width="161.2" height="161.2" fill="#21305e"/><filter id="bl13" x="-5%" y="-5%" width="110%" height="110%"><feGaussianBlur stdDeviation="0.8"/></filter><g clip-path="url(#cm12)"><rect x="993.3" y="1181.3" width="41.3" height="41.3" fill="#6b111f" stroke="#d98e8e" stroke-width="0.6"/><rect x="1035.3" y="1223.3" width="15.1" height="15.1" fill="#6b111f" stroke="#d98e8e" stroke-width="0.6"/><line x1="1034.8" y1="1181.3" x2="1034.8" y2="1342.5" stroke="#6f86c0" stroke-width="0.4" opacity="0.45"/><line x1="993.3" y1="1222.8" x2="1154.5" y2="1222.8" stroke="#6f86c0" stroke-width="0.4" opacity="0.45"/><line x1="1050.7" y1="1181.3" x2="1050.7" y2="1342.5" stroke="#6f86c0" stroke-width="0.4" opacity="0.45"/><line x1="993.3" y1="1238.7" x2="1154.5" y2="1238.7" stroke="#6f86c0" stroke-width="0.4" opacity="0.45"/><g filter="url(#bl13)"><rect x="1050.7" y="1238.7" width="103.8" height="103.8" fill="#f4f1ef"/><rect x="1050.7" y="1238.7" width="103.8" height="103.8" fill="#f4f1ef"/><rect x="1052.7" y="1240.7" width="44.9" height="44.9" fill="#7d101d"/><rect x="1058.5" y="1246.5" width="35.6" height="35.6" fill="#6b111f" opacity="0.85"/><rect x="1099.5" y="1240.7" width="13.9" height="44.9" fill="#f3a27f"/><rect x="1115.4" y="1240.7" width="15.1" height="44.9" fill="#4a8dc6"/><rect x="1130.6" y="1240.7" width="23.2" height="44.9" fill="#23407a"/><rect x="1052.7" y="1287.5" width="44.9" height="13.9" fill="#f3a27f"/><rect x="1099.5" y="1287.5" width="13.9" height="13.9" fill="#8c1420"/><rect x="1115.4" y="1287.5" width="15.1" height="13.9" fill="#eef1f4"/><rect x="1130.6" y="1287.5" width="23.2" height="13.9" fill="#a9cbe3"/><rect x="1052.7" y="1303.4" width="44.9" height="15.1" fill="#4a8dc6"/><rect x="1099.5" y="1303.4" width="13.9" height="15.1" fill="#eef1f4"/><rect x="1115.4" y="1303.4" width="15.1" height="15.1" fill="#bf3a2e"/><rect x="1130.6" y="1303.4" width="23.2" height="15.1" fill="#b32a26"/><rect x="1052.7" y="1318.6" width="44.9" height="23.2" fill="#23407a"/><rect x="1099.5" y="1318.6" width="13.9" height="23.2" fill="#a9cbe3"/><rect x="1115.4" y="1318.6" width="15.1" height="23.2" fill="#b32a26"/><rect x="1130.6" y="1318.6" width="23.2" height="23.2" fill="#7a0f1c"/><rect x="1133.6" y="1321.6" width="18.4" height="18.4" fill="#6b111f" opacity="0.85"/></g></g><g font-family="'DejaVu Sans',sans-serif" font-size="5.3" fill="#2a2a2a" stroke="#222" stroke-width="0.5"><path d="M993.3 1342.5v2M993.3 1181.3h-2"/><path d="M1017.7 1342.5v2M993.3 1205.7h-2"/><path d="M1042.1 1342.5v2M993.3 1230.1h-2"/><path d="M1066.6 1342.5v2M993.3 1254.6h-2"/><path d="M1091 1342.5v2M993.3 1279h-2"/><path d="M1115.4 1342.5v2M993.3 1303.4h-2"/><path d="M1139.8 1342.5v2M993.3 1327.8h-2"/></g><g font-family="'DejaVu Sans',sans-serif" font-size="5.3" fill="#333"><text x="993.3" y="1351.1" text-anchor="middle">0</text><text x="988.7" y="1183.2" text-anchor="end">0</text><text x="1017.7" y="1351.1" text-anchor="middle">1000</text><text x="988.7" y="1207.6" text-anchor="end">1000</text><text x="1042.1" y="1351.1" text-anchor="middle">2000</text><text x="988.7" y="1232.1" text-anchor="end">2000</text><text x="1066.6" y="1351.1" text-anchor="middle">3000</text><text x="988.7" y="1256.5" text-anchor="end">3000</text><text x="1091" y="1351.1" text-anchor="middle">4000</text><text x="988.7" y="1280.9" text-anchor="end">4000</text><text x="1115.4" y="1351.1" text-anchor="middle">5000</text><text x="988.7" y="1305.3" text-anchor="end">5000</text><text x="1139.8" y="1351.1" text-anchor="middle">6000</text><text x="988.7" y="1329.8" text-anchor="end">6000</text></g><clipPath id="cm14"><rect x="1183.3" y="1181.5" width="165.6" height="165.6"/></clipPath><rect x="1183.3" y="1181.5" width="165.6" height="165.6" fill="#21305e"/><filter id="bl15" x="-5%" y="-5%" width="110%" height="110%"><feGaussianBlur stdDeviation="0.8"/></filter><g clip-path="url(#cm14)"><rect x="1183.3" y="1181.5" width="42.4" height="42.4" fill="#6b111f" stroke="#d98e8e" stroke-width="0.6"/><rect x="1226.5" y="1224.7" width="15.6" height="15.6" fill="#6b111f" stroke="#d98e8e" stroke-width="0.6"/><line x1="1226" y1="1181.5" x2="1226" y2="1347.1" stroke="#6f86c0" stroke-width="0.5" opacity="0.45"/><line x1="1183.3" y1="1224.2" x2="1348.9" y2="1224.2" stroke="#6f86c0" stroke-width="0.5" opacity="0.45"/><line x1="1242.3" y1="1181.5" x2="1242.3" y2="1347.1" stroke="#6f86c0" stroke-width="0.5" opacity="0.45"/><line x1="1183.3" y1="1240.5" x2="1348.9" y2="1240.5" stroke="#6f86c0" stroke-width="0.5" opacity="0.45"/><g filter="url(#bl15)"><rect x="1242.3" y="1240.5" width="106.6" height="106.6" fill="#f4f1ef"/><rect x="1242.3" y="1240.5" width="106.6" height="106.6" fill="#f4f1ef"/><rect x="1243.8" y="1242" width="18.6" height="18.6" fill="#b9302a"/><rect x="1264.1" y="1242" width="22.1" height="18.6" fill="#fbd3bd"/><rect x="1287.7" y="1242" width="43.7" height="18.6" fill="#2c62a9"/><rect x="1333.1" y="1242" width="15.8" height="18.6" fill="#f8f1ee"/><rect x="1243.8" y="1262.3" width="18.6" height="22.1" fill="#fbd3bd"/><rect x="1264.1" y="1262.3" width="22.1" height="22.1" fill="#8a1420"/><rect x="1267" y="1265.2" width="17.5" height="17.5" fill="#6b111f" opacity="0.85"/><rect x="1287.7" y="1262.3" width="43.7" height="22.1" fill="#22376c"/><rect x="1333.1" y="1262.3" width="15.8" height="22.1" fill="#3672b6"/><rect x="1243.8" y="1285.9" width="18.6" height="43.7" fill="#2c62a9"/><rect x="1264.1" y="1285.9" width="22.1" height="43.7" fill="#22376c"/><rect x="1287.7" y="1285.9" width="43.7" height="43.7" fill="#8a1521"/><rect x="1293.4" y="1291.6" width="34.6" height="34.6" fill="#6b111f" opacity="0.85"/><rect x="1333.1" y="1285.9" width="15.8" height="43.7" fill="#fce6dc"/><rect x="1243.8" y="1331.3" width="18.6" height="15.8" fill="#f8f1ee"/><rect x="1264.1" y="1331.3" width="22.1" height="15.8" fill="#3672b6"/><rect x="1287.7" y="1331.3" width="43.7" height="15.8" fill="#fce6dc"/><rect x="1333.1" y="1331.3" width="15.8" height="15.8" fill="#8f1622"/></g></g><g font-family="'DejaVu Sans',sans-serif" font-size="5.4" fill="#2a2a2a" stroke="#222" stroke-width="0.5"><path d="M1183.3 1347.1v2M1183.3 1181.5h-2"/><path d="M1208.4 1347.1v2M1183.3 1206.6h-2"/><path d="M1233.5 1347.1v2M1183.3 1231.7h-2"/><path d="M1258.6 1347.1v2M1183.3 1256.8h-2"/><path d="M1283.7 1347.1v2M1183.3 1281.9h-2"/><path d="M1308.8 1347.1v2M1183.3 1307h-2"/><path d="M1333.8 1347.1v2M1183.3 1332h-2"/></g><g font-family="'DejaVu Sans',sans-serif" font-size="5.4" fill="#333"><text x="1183.3" y="1355.9" text-anchor="middle">0</text><text x="1178.7" y="1183.5" text-anchor="end">0</text><text x="1208.4" y="1355.9" text-anchor="middle">1000</text><text x="1178.7" y="1208.6" text-anchor="end">1000</text><text x="1233.5" y="1355.9" text-anchor="middle">2000</text><text x="1178.7" y="1233.6" text-anchor="end">2000</text><text x="1258.6" y="1355.9" text-anchor="middle">3000</text><text x="1178.7" y="1258.7" text-anchor="end">3000</text><text x="1283.7" y="1355.9" text-anchor="middle">4000</text><text x="1178.7" y="1283.8" text-anchor="end">4000</text><text x="1308.8" y="1355.9" text-anchor="middle">5000</text><text x="1178.7" y="1308.9" text-anchor="end">5000</text><text x="1333.8" y="1355.9" text-anchor="middle">6000</text><text x="1178.7" y="1334" text-anchor="end">6000</text></g><clipPath id="cm16"><rect x="1377" y="1181.3" width="163.3" height="163.3"/></clipPath><rect x="1377" y="1181.3" width="163.3" height="163.3" fill="#21305e"/><filter id="bl17" x="-5%" y="-5%" width="110%" height="110%"><feGaussianBlur stdDeviation="0.8"/></filter><g clip-path="url(#cm16)"><rect x="1377" y="1181.3" width="41.8" height="41.8" fill="#6b111f" stroke="#d98e8e" stroke-width="0.6"/><rect x="1419.6" y="1223.9" width="15.3" height="15.3" fill="#6b111f" stroke="#d98e8e" stroke-width="0.6"/><line x1="1419.1" y1="1181.3" x2="1419.1" y2="1344.6" stroke="#6f86c0" stroke-width="0.4" opacity="0.45"/><line x1="1377" y1="1223.4" x2="1540.3" y2="1223.4" stroke="#6f86c0" stroke-width="0.4" opacity="0.45"/><line x1="1435.1" y1="1181.3" x2="1435.1" y2="1344.6" stroke="#6f86c0" stroke-width="0.4" opacity="0.45"/><line x1="1377" y1="1239.4" x2="1540.3" y2="1239.4" stroke="#6f86c0" stroke-width="0.4" opacity="0.45"/><g filter="url(#bl17)"><rect x="1435.1" y="1239.4" width="105.2" height="105.2" fill="#5a7fb8"/><rect x="1435.1" y="1239.4" width="64.6" height="64.6" fill="#f4f1ef"/><rect x="1436.6" y="1240.9" width="13.1" height="13.1" fill="#c5433a"/><rect x="1451.2" y="1240.9" width="21.8" height="13.1" fill="#fbd6c2"/><rect x="1474.7" y="1240.9" width="23.8" height="13.1" fill="#e9eff6"/><rect x="1500.7" y="1240.9" width="38.8" height="13.1" fill="#25417b"/><rect x="1436.6" y="1255.5" width="13.1" height="21.8" fill="#fbd6c2"/><rect x="1451.2" y="1255.5" width="21.8" height="21.8" fill="#8a1420"/><rect x="1454.1" y="1258.4" width="17.2" height="17.2" fill="#6b111f" opacity="0.85"/><rect x="1474.7" y="1255.5" width="23.8" height="21.8" fill="#223a70"/><rect x="1500.7" y="1255.5" width="38.8" height="21.8" fill="#4f90c9"/><rect x="1436.6" y="1279" width="13.1" height="23.8" fill="#e9eff6"/><rect x="1451.2" y="1279" width="21.8" height="23.8" fill="#223a70"/><rect x="1474.7" y="1279" width="23.8" height="23.8" fill="#991a22"/><rect x="1477.8" y="1282.1" width="18.8" height="18.8" fill="#6b111f" opacity="0.85"/><rect x="1500.7" y="1279" width="38.8" height="23.8" fill="#21356a"/><rect x="1436.6" y="1305" width="13.1" height="38.8" fill="#25417b"/><rect x="1451.2" y="1305" width="21.8" height="38.8" fill="#4f90c9"/><rect x="1474.7" y="1305" width="23.8" height="38.8" fill="#21356a"/><rect x="1500.7" y="1305" width="38.8" height="38.8" fill="#7f111d"/><rect x="1505.8" y="1310.1" width="30.8" height="30.8" fill="#6b111f" opacity="0.85"/></g></g><g font-family="'DejaVu Sans',sans-serif" font-size="5.4" fill="#2a2a2a" stroke="#222" stroke-width="0.5"><path d="M1377 1344.6v2M1377 1181.3h-2"/><path d="M1401.7 1344.6v2M1377 1206h-2"/><path d="M1426.5 1344.6v2M1377 1230.8h-2"/><path d="M1451.2 1344.6v2M1377 1255.5h-2"/><path d="M1476 1344.6v2M1377 1280.3h-2"/><path d="M1500.7 1344.6v2M1377 1305h-2"/><path d="M1525.5 1344.6v2M1377 1329.8h-2"/></g><g font-family="'DejaVu Sans',sans-serif" font-size="5.4" fill="#333"><text x="1377" y="1353.3" text-anchor="middle">0</text><text x="1372.4" y="1183.2" text-anchor="end">0</text><text x="1401.7" y="1353.3" text-anchor="middle">1000</text><text x="1372.4" y="1208" text-anchor="end">1000</text><text x="1426.5" y="1353.3" text-anchor="middle">2000</text><text x="1372.4" y="1232.7" text-anchor="end">2000</text><text x="1451.2" y="1353.3" text-anchor="middle">3000</text><text x="1372.4" y="1257.5" text-anchor="end">3000</text><text x="1476" y="1353.3" text-anchor="middle">4000</text><text x="1372.4" y="1282.2" text-anchor="end">4000</text><text x="1500.7" y="1353.3" text-anchor="middle">5000</text><text x="1372.4" y="1306.9" text-anchor="end">5000</text><text x="1525.5" y="1353.3" text-anchor="middle">6000</text><text x="1372.4" y="1331.7" text-anchor="end">6000</text></g><clipPath id="cm18"><rect x="1569.3" y="1181.3" width="161.2" height="161.2"/></clipPath><rect x="1569.3" y="1181.3" width="161.2" height="161.2" fill="#21305e"/><filter id="bl19" x="-5%" y="-5%" width="110%" height="110%"><feGaussianBlur stdDeviation="0.8"/></filter><g clip-path="url(#cm18)"><rect x="1569.3" y="1181.3" width="41.3" height="41.3" fill="#6b111f" stroke="#d98e8e" stroke-width="0.6"/><rect x="1611.3" y="1223.3" width="15.1" height="15.1" fill="#6b111f" stroke="#d98e8e" stroke-width="0.6"/><line x1="1610.8" y1="1181.3" x2="1610.8" y2="1342.5" stroke="#6f86c0" stroke-width="0.4" opacity="0.45"/><line x1="1569.3" y1="1222.8" x2="1730.5" y2="1222.8" stroke="#6f86c0" stroke-width="0.4" opacity="0.45"/><line x1="1626.7" y1="1181.3" x2="1626.7" y2="1342.5" stroke="#6f86c0" stroke-width="0.4" opacity="0.45"/><line x1="1569.3" y1="1238.7" x2="1730.5" y2="1238.7" stroke="#6f86c0" stroke-width="0.4" opacity="0.45"/><g filter="url(#bl19)"><rect x="1626.7" y="1238.7" width="103.8" height="103.8" fill="#5a7fb8"/><rect x="1626.7" y="1238.7" width="63.7" height="63.7" fill="#f4f1ef"/><rect x="1628.2" y="1240.2" width="13.4" height="13.4" fill="#b52d28"/><rect x="1643.1" y="1240.2" width="23" height="13.4" fill="#f6b596"/><rect x="1667.5" y="1240.2" width="21.7" height="13.4" fill="#b9d3ea"/><rect x="1691.4" y="1240.2" width="38.3" height="13.4" fill="#22376c"/><rect x="1628.2" y="1255.1" width="13.4" height="23" fill="#f6b596"/><rect x="1643.1" y="1255.1" width="23" height="23" fill="#8a1420"/><rect x="1646" y="1258" width="18.2" height="18.2" fill="#6b111f" opacity="0.85"/><rect x="1667.5" y="1255.1" width="21.7" height="23" fill="#22386d"/><rect x="1691.4" y="1255.1" width="38.3" height="23" fill="#254383"/><rect x="1628.2" y="1279.5" width="13.4" height="21.7" fill="#b9d3ea"/><rect x="1643.1" y="1279.5" width="23" height="21.7" fill="#22386d"/><rect x="1667.5" y="1279.5" width="21.7" height="21.7" fill="#9c1b23"/><rect x="1670.3" y="1282.3" width="17.2" height="17.2" fill="#6b111f" opacity="0.85"/><rect x="1691.4" y="1279.5" width="38.3" height="21.7" fill="#21356a"/><rect x="1628.2" y="1303.4" width="13.4" height="38.3" fill="#22376c"/><rect x="1643.1" y="1303.4" width="23" height="38.3" fill="#254383"/><rect x="1667.5" y="1303.4" width="21.7" height="38.3" fill="#21356a"/><rect x="1691.4" y="1303.4" width="38.3" height="38.3" fill="#7f111d"/><rect x="1696.4" y="1308.4" width="30.4" height="30.4" fill="#6b111f" opacity="0.85"/></g></g><g font-family="'DejaVu Sans',sans-serif" font-size="5.3" fill="#2a2a2a" stroke="#222" stroke-width="0.5"><path d="M1569.3 1342.5v2M1569.3 1181.3h-2"/><path d="M1593.7 1342.5v2M1569.3 1205.7h-2"/><path d="M1618.1 1342.5v2M1569.3 1230.1h-2"/><path d="M1642.6 1342.5v2M1569.3 1254.6h-2"/><path d="M1667 1342.5v2M1569.3 1279h-2"/><path d="M1691.4 1342.5v2M1569.3 1303.4h-2"/><path d="M1715.8 1342.5v2M1569.3 1327.8h-2"/></g><g font-family="'DejaVu Sans',sans-serif" font-size="5.3" fill="#333"><text x="1569.3" y="1351.1" text-anchor="middle">0</text><text x="1564.7" y="1183.2" text-anchor="end">0</text><text x="1593.7" y="1351.1" text-anchor="middle">1000</text><text x="1564.7" y="1207.6" text-anchor="end">1000</text><text x="1618.1" y="1351.1" text-anchor="middle">2000</text><text x="1564.7" y="1232.1" text-anchor="end">2000</text><text x="1642.6" y="1351.1" text-anchor="middle">3000</text><text x="1564.7" y="1256.5" text-anchor="end">3000</text><text x="1667" y="1351.1" text-anchor="middle">4000</text><text x="1564.7" y="1280.9" text-anchor="end">4000</text><text x="1691.4" y="1351.1" text-anchor="middle">5000</text><text x="1564.7" y="1305.3" text-anchor="end">5000</text><text x="1715.8" y="1351.1" text-anchor="middle">6000</text><text x="1564.7" y="1329.8" text-anchor="end">6000</text></g><clipPath id="cm20"><rect x="1759" y="1182.4" width="169" height="169"/></clipPath><rect x="1759" y="1182.4" width="169" height="169" fill="#21305e"/><filter id="bl21" x="-5%" y="-5%" width="110%" height="110%"><feGaussianBlur stdDeviation="0.8"/></filter><g clip-path="url(#cm20)"><rect x="1759" y="1182.4" width="43.3" height="43.3" fill="#6b111f" stroke="#d98e8e" stroke-width="0.6"/><rect x="1803" y="1226.4" width="15.9" height="15.9" fill="#6b111f" stroke="#d98e8e" stroke-width="0.6"/><line x1="1802.5" y1="1182.4" x2="1802.5" y2="1351.4" stroke="#6f86c0" stroke-width="0.5" opacity="0.45"/><line x1="1759" y1="1225.9" x2="1928" y2="1225.9" stroke="#6f86c0" stroke-width="0.5" opacity="0.45"/><line x1="1819.2" y1="1182.4" x2="1819.2" y2="1351.4" stroke="#6f86c0" stroke-width="0.5" opacity="0.45"/><line x1="1759" y1="1242.6" x2="1928" y2="1242.6" stroke="#6f86c0" stroke-width="0.5" opacity="0.45"/><g filter="url(#bl21)"><rect x="1819.9" y="1243.3" width="67.6" height="67.6" fill="#f4f1ef"/><rect x="1819.9" y="1243.3" width="67.6" height="67.6" fill="#f4f1ef"/><rect x="1887.5" y="1310.9" width="40.5" height="40.5" fill="#f9ddd0"/><rect x="1821" y="1244.4" width="4.6" height="4.6" fill="#f3a27f"/><rect x="1827.6" y="1244.4" width="19.2" height="4.6" fill="#fde3d6"/><rect x="1849.6" y="1244.4" width="19.5" height="4.6" fill="#dfeaf5"/><rect x="1870.4" y="1244.4" width="14.9" height="4.6" fill="#f7c2a8"/><rect x="1821" y="1251" width="4.6" height="19.2" fill="#fde3d6"/><rect x="1827.6" y="1251" width="19.2" height="19.2" fill="#a31c25"/><rect x="1849.6" y="1251" width="19.5" height="19.2" fill="#22386d"/><rect x="1870.4" y="1251" width="14.9" height="19.2" fill="#5c9bd0"/><rect x="1821" y="1273" width="4.6" height="19.5" fill="#dfeaf5"/><rect x="1827.6" y="1273" width="19.2" height="19.5" fill="#22386d"/><rect x="1849.6" y="1273" width="19.5" height="19.5" fill="#8a1420"/><rect x="1870.4" y="1273" width="14.9" height="19.5" fill="#fcd6c0"/><rect x="1890.1" y="1273" width="36.9" height="19.5" fill="#243f7b"/><rect x="1821" y="1293.8" width="4.6" height="14.9" fill="#f7c2a8"/><rect x="1827.6" y="1293.8" width="19.2" height="14.9" fill="#5c9bd0"/><rect x="1849.6" y="1293.8" width="19.5" height="14.9" fill="#fcd6c0"/><rect x="1870.4" y="1293.8" width="14.9" height="14.9" fill="#b52d28"/><rect x="1890.1" y="1293.8" width="36.9" height="14.9" fill="#243f7b"/><rect x="1849.6" y="1313.5" width="19.5" height="36.9" fill="#243f7b"/><rect x="1870.4" y="1313.5" width="14.9" height="36.9" fill="#243f7b"/><rect x="1890.1" y="1313.5" width="36.9" height="36.9" fill="#7f111d"/><rect x="1894.9" y="1318.3" width="29.2" height="29.2" fill="#6b111f" opacity="0.85"/></g></g><g font-family="'DejaVu Sans',sans-serif" font-size="5.6" fill="#2a2a2a" stroke="#222" stroke-width="0.5"><path d="M1759 1351.4v2M1759 1182.4h-2"/><path d="M1784.6 1351.4v2M1759 1208h-2"/><path d="M1810.2 1351.4v2M1759 1233.6h-2"/><path d="M1835.8 1351.4v2M1759 1259.2h-2"/><path d="M1861.4 1351.4v2M1759 1284.8h-2"/><path d="M1887 1351.4v2M1759 1310.4h-2"/><path d="M1912.6 1351.4v2M1759 1336h-2"/></g><g font-family="'DejaVu Sans',sans-serif" font-size="5.6" fill="#333"><text x="1759" y="1360.3" text-anchor="middle">0</text><text x="1754.4" y="1184.4" text-anchor="end">0</text><text x="1784.6" y="1360.3" text-anchor="middle">1000</text><text x="1754.4" y="1210" text-anchor="end">1000</text><text x="1810.2" y="1360.3" text-anchor="middle">2000</text><text x="1754.4" y="1235.6" text-anchor="end">2000</text><text x="1835.8" y="1360.3" text-anchor="middle">3000</text><text x="1754.4" y="1261.2" text-anchor="end">3000</text><text x="1861.4" y="1360.3" text-anchor="middle">4000</text><text x="1754.4" y="1286.8" text-anchor="end">4000</text><text x="1887" y="1360.3" text-anchor="middle">5000</text><text x="1754.4" y="1312.4" text-anchor="end">5000</text><text x="1912.6" y="1360.3" text-anchor="middle">6000</text><text x="1754.4" y="1338" text-anchor="end">6000</text></g></g>
<g id="panel-d"><text x="-0.7" y="1436.9" font-size="43" font-weight="700">d</text><line x1="99.7" y1="1707.8" x2="631.1" y2="1707.8" stroke="#d9d9d9" stroke-width="1.2"/><line x1="99.7" y1="1581.6" x2="631.1" y2="1581.6" stroke="#d9d9d9" stroke-width="1.2"/><clipPath id="dclip"><rect x="99.7" y="1455.3" width="531.4" height="378.8"/></clipPath><g clip-path="url(#dclip)"><g fill="none" stroke-width="3.5" stroke-linejoin="round" stroke-linecap="round"><polyline points="100.9,1797.7 106.3,1781.3 111.6,1778.7 116.9,1779.1 122.2,1778.7 127.5,1777.4 132.8,1777.5 138.2,1777.4 143.5,1775.7 148.8,1776.5 154.1,1775.3 159.4,1775.7 164.7,1774.7 170,1774.1 175.4,1775 180.7,1775.2 186,1774.3 191.3,1774.2 196.6,1773.7 201.9,1774.9 207.3,1774.8 212.6,1773.4 217.9,1773.3 223.2,1773.7 228.5,1773.6 233.8,1773.5 239.1,1774.2 244.5,1772.9 249.8,1773.3 255.1,1773.2 260.4,1773.1 265.7,1773.8 271,1772.9 276.4,1773.3 281.7,1772.7 287,1773.1 292.3,1772.1 297.6,1773.3 302.9,1771.9 308.2,1771.8 313.6,1771.7 318.9,1772.9 324.2,1771.5 329.5,1771.9 334.8,1772.3 340.1,1771.7 345.5,1771.7 350.8,1771.6 356.1,1771 361.4,1771.4 366.7,1771.8 372,1770.7 377.3,1771.6 382.7,1770.6 388,1771.8 393.3,1770.4 398.6,1771.6 403.9,1771.2 409.2,1771.4 414.5,1771.2 419.9,1769.8 425.2,1771 430.5,1770 435.8,1770.4 441.1,1769.8 446.4,1770.1 451.8,1770.3 457.1,1769.4 462.4,1769.7 467.7,1769.9 473,1769.8 478.3,1769.6 483.6,1768.7 489,1768.6 494.3,1769.2 499.6,1768.8 504.9,1768.6 510.2,1768 515.5,1767.9 520.9,1767.3 526.2,1767.1 531.5,1767.5 536.8,1767.8 542.1,1767.2 547.4,1766.6 552.7,1767 558.1,1766.8 563.4,1767.2 568.7,1765.8 574,1765.4 579.3,1765.3 584.6,1764.9 590,1765.2 595.3,1764.7 600.6,1763.4 605.9,1762.4 611.2,1763.2 616.5,1762.4 621.8,1762.2 627.1,1455.3" stroke="#ed7d31"/><polyline points="100.9,1781.6 106.3,1773.4 111.6,1772.8 116.9,1772.9 122.2,1771.9 127.5,1771.6 132.8,1771.9 138.2,1771.2 143.5,1771 148.8,1770.8 154.1,1771.4 159.4,1771.2 164.7,1770.2 170,1770.2 175.4,1769.6 180.7,1770.5 186,1770.8 191.3,1770.4 196.6,1769.9 201.9,1769.8 207.3,1770.2 212.6,1770.2 217.9,1770.1 223.2,1769.6 228.5,1769 233.8,1769 239.1,1768.9 244.5,1770.1 249.8,1768.8 255.1,1770 260.4,1769.9 265.7,1769.1 271,1769.8 276.4,1769.7 281.7,1769.4 287,1768.3 292.3,1768.8 297.6,1769.2 302.9,1768.1 308.2,1769.1 313.6,1769.3 318.9,1768.9 324.2,1769.2 329.5,1768.8 334.8,1768.3 340.1,1767.7 345.5,1768.9 350.8,1768.6 356.1,1768 361.4,1767.5 366.7,1768.7 372,1768.6 377.3,1767.8 382.7,1767.7 388,1768.1 393.3,1767.1 398.6,1768 403.9,1767.9 409.2,1768.2 414.5,1767.8 419.9,1766.7 425.2,1767.1 430.5,1767.8 435.8,1766.9 441.1,1766.8 446.4,1767.2 451.8,1767.1 457.1,1766 462.4,1766.9 467.7,1767.1 473,1767.1 478.3,1766.6 483.6,1766.1 489,1766.4 494.3,1765.9 499.6,1766.3 504.9,1766.2 510.2,1766.4 515.5,1766 520.9,1765.9 526.2,1764.8 531.5,1765.2 536.8,1765.1 542.1,1765.8 547.4,1764.9 552.7,1765.3 558.1,1765.6 563.4,1764.7 568.7,1764.9 574,1764 579.3,1764.1 584.6,1763.2 590,1762.4 595.3,1762.5 600.6,1762.1 605.9,1762.5 611.2,1761.8 616.5,1761.5 621.8,1760.6 627.1,1455.3" stroke="#a5a5a5"/><polyline points="100.9,1779.6 106.3,1772.2 111.6,1771 116.9,1771.3 122.2,1771 127.5,1771.3 132.8,1770.6 138.2,1771.2 143.5,1769.7 148.8,1770.5 154.1,1769.8 159.4,1769.6 164.7,1769.4 170,1770.2 175.4,1769.3 180.7,1769.8 186,1770 191.3,1769.2 196.6,1769.6 201.9,1769.6 207.3,1769 212.6,1769.8 217.9,1769.4 223.2,1769.7 228.5,1768.8 233.8,1768.3 239.1,1769.2 244.5,1769.5 249.8,1769.1 255.1,1768.1 260.4,1769 265.7,1767.9 271,1768.9 276.4,1767.8 281.7,1769.1 287,1767.7 292.3,1768.2 297.6,1767.6 302.9,1768.1 308.2,1768 313.6,1768 318.9,1767.4 324.2,1768.7 329.5,1768.6 334.8,1767.3 340.1,1768.5 345.5,1767.6 350.8,1767.6 356.1,1767 361.4,1768.3 366.7,1767.9 372,1768.2 377.3,1767.8 382.7,1767.3 388,1767.2 393.3,1768 398.6,1767.6 403.9,1767 409.2,1766.9 414.5,1766.8 419.9,1766.7 425.2,1767.4 430.5,1766.5 435.8,1765.9 441.1,1767.1 446.4,1766.2 451.8,1766.1 457.1,1765.5 462.4,1765.9 467.7,1765.8 473,1766.5 478.3,1766 483.6,1765.5 489,1765.3 494.3,1766 499.6,1765.9 504.9,1764.5 510.2,1764.9 515.5,1765.6 520.9,1764.7 526.2,1765.1 531.5,1764.5 536.8,1764.9 542.1,1765.1 547.4,1763.7 552.7,1764.1 558.1,1764.4 563.4,1763.9 568.7,1763.6 574,1763.3 579.3,1763.7 584.6,1762.6 590,1762.2 595.3,1761.9 600.6,1762 605.9,1761.2 611.2,1760.9 616.5,1760 621.8,1761 627.1,1455.3" stroke="#ffc000"/><polyline points="100.9,1775.5 106.3,1771.4 111.6,1770.2 116.9,1770.5 122.2,1770.9 127.5,1770.3 132.8,1770.6 138.2,1770.8 143.5,1770.7 148.8,1770.6 154.1,1769.1 159.4,1769.5 164.7,1768.9 170,1769.7 175.4,1769.1 180.7,1769 186,1768.8 191.3,1768.7 196.6,1768.6 201.9,1768.4 207.3,1768.3 212.6,1767.7 217.9,1768.1 223.2,1767.9 228.5,1768.6 233.8,1768.5 239.1,1767 244.5,1767.9 249.8,1767.3 255.1,1767.7 260.4,1767.1 265.7,1767.5 271,1766.5 276.4,1766.4 281.7,1767.6 287,1767.2 292.3,1767.1 297.6,1767 302.9,1766.4 308.2,1766.8 313.6,1765.7 318.9,1766.1 324.2,1766 329.5,1766.7 334.8,1765.8 340.1,1765.3 345.5,1765.6 350.8,1766.4 356.1,1765.5 361.4,1765.4 366.7,1765.8 372,1764.7 377.3,1765.9 382.7,1765.8 388,1764.4 393.3,1764.8 398.6,1765.5 403.9,1764.1 409.2,1764.5 414.5,1764.9 419.9,1763.8 425.2,1764.7 430.5,1763.6 435.8,1763.5 441.1,1763.4 446.4,1763.8 451.8,1763.7 457.1,1763.6 462.4,1764.3 467.7,1763.8 473,1764.1 478.3,1763.1 483.6,1762.5 489,1762.9 494.3,1762.3 499.6,1762.7 504.9,1762.6 510.2,1763 515.5,1762.9 520.9,1763.1 526.2,1762.7 531.5,1762.1 536.8,1761.5 542.1,1761.9 547.4,1762.6 552.7,1761.2 558.1,1761.5 563.4,1761.9 568.7,1762 574,1761.8 579.3,1760.7 584.6,1761.2 590,1760.2 595.3,1759.4 600.6,1759.6 605.9,1759.4 611.2,1758.6 616.5,1758.8 621.8,1759.4 627.1,1455.3" stroke="#5b9bd5"/><polyline points="100.9,1779.6 106.3,1762 111.6,1747.6 116.9,1743.3 122.2,1737.7 127.5,1733.7 132.8,1731.8 138.2,1729.8 143.5,1728.3 148.8,1725.8 154.1,1723.8 159.4,1721.8 164.7,1719 170,1717.5 175.4,1715.3 180.7,1712.5 186,1709.5 191.3,1707 196.6,1705.3 201.9,1702.8 207.3,1700.7 212.6,1697.8 217.9,1695.6 223.2,1694.3 228.5,1691.4 233.8,1690.1 239.1,1687.1 244.5,1685.4 249.8,1682.1 255.1,1679.3 260.4,1675.6 265.7,1673 271,1670.3 276.4,1667.6 281.7,1665 287,1662.8 292.3,1662.7 297.6,1660 302.9,1659.5 308.2,1658.1 313.6,1657 318.9,1654.2 324.2,1653.8 329.5,1652.9 334.8,1650.4 340.1,1649.7 345.5,1647.9 350.8,1648 356.1,1646 361.4,1644.3 366.7,1643.7 372,1642.3 377.3,1642.7 382.7,1641.8 388,1640.9 393.3,1638.7 398.6,1638.3 403.9,1636.9 409.2,1636.2 414.5,1635 419.9,1633.7 425.2,1632 430.5,1630.8 435.8,1630.9 441.1,1628.4 446.4,1628 451.8,1625.1 457.1,1623 462.4,1621.3 467.7,1618.7 473,1616.6 478.3,1615.3 483.6,1613.2 489,1608.5 494.3,1603.2 499.6,1600.6 504.9,1598 510.2,1594.8 515.5,1593.8 520.9,1591.5 526.2,1589.2 531.5,1586.3 536.8,1583.3 542.1,1581.2 547.4,1578.2 552.7,1576.1 558.1,1572.6 563.4,1570 568.7,1567.9 574,1565.2 579.3,1563.4 584.6,1560.4 590,1557.1 595.3,1554.7 600.6,1550.9 605.9,1548.5 611.2,1544.9 616.5,1541.9 621.8,1540.1 627.1,1455.3" stroke="#70ad47"/><polyline points="100.9,1744 106.3,1738.5 111.6,1733 116.9,1727 122.2,1723.1 127.5,1719.4 132.8,1714.8 138.2,1710.6 143.5,1707.4 148.8,1703.2 154.1,1700 159.4,1695.8 164.7,1692.7 170,1689.3 175.4,1685.9 180.7,1682.5 186,1681.2 191.3,1679.4 196.6,1678 201.9,1677.1 207.3,1675.3 212.6,1673.9 217.9,1673.4 223.2,1671.3 228.5,1670.4 233.8,1668.6 239.1,1667.3 244.5,1666.4 249.8,1664.6 255.1,1662.8 260.4,1662 265.7,1660.6 271,1659.3 276.4,1658 281.7,1657.1 287,1655.8 292.3,1654 297.6,1653.2 302.9,1650.9 308.2,1650.8 313.6,1649.2 318.9,1647.4 324.2,1646 329.5,1645.2 334.8,1643.9 340.1,1641.6 345.5,1640.2 350.8,1638.9 356.1,1638.1 361.4,1636.7 366.7,1635.4 372,1631.4 377.3,1628.8 382.7,1626.6 388,1624.5 393.3,1617.6 398.6,1610.6 403.9,1608.4 409.2,1606.3 414.5,1604.2 419.9,1603.1 425.2,1600.8 430.5,1599.5 435.8,1596.5 441.1,1593.3 446.4,1591.6 451.8,1588.8 457.1,1586.4 462.4,1582.9 467.7,1582.1 473,1580.6 478.3,1578.6 483.6,1577.6 489,1576.4 494.3,1574.9 499.6,1573.5 504.9,1571.2 510.2,1569.2 515.5,1569 520.9,1567.2 526.2,1565.2 531.5,1564.1 536.8,1562.8 542.1,1560.4 547.4,1558.8 552.7,1557.2 558.1,1556.1 563.4,1553.5 568.7,1552.1 574,1550 579.3,1548.6 584.6,1545.7 590,1544.1 595.3,1542.3 600.6,1538.8 605.9,1538 611.2,1535.3 616.5,1532.4 621.8,1529.5 627.1,1455.3" stroke="#264478"/><polyline points="100.9,1727.9 106.3,1716.8 111.6,1705.7 116.9,1699.2 122.2,1692.1 127.5,1688.9 132.8,1685.7 138.2,1682.5 143.5,1680.6 148.8,1678.5 154.1,1676.3 159.4,1672.9 164.7,1671.8 170,1669.2 175.4,1667.5 180.7,1665.4 186,1659.7 191.3,1654.9 196.6,1649.9 201.9,1647 207.3,1643.5 212.6,1641.9 217.9,1639.6 223.2,1637.6 228.5,1636.9 233.8,1635.1 239.1,1633.6 244.5,1631 249.8,1629.4 255.1,1629.1 260.4,1626.7 265.7,1625.6 271,1623.1 276.4,1622 281.7,1620.4 287,1619.3 292.3,1618 297.6,1615.6 302.9,1614 308.2,1613.2 313.6,1610.8 318.9,1609.2 324.2,1607.7 329.5,1607.1 334.8,1604.5 340.1,1603.2 345.5,1602.4 350.8,1601.8 356.1,1600.5 361.4,1598.4 366.7,1596.4 372,1595.3 377.3,1594.5 382.7,1592.9 388,1590.5 393.3,1589.7 398.6,1587.3 403.9,1585.7 409.2,1584.5 414.5,1582.8 419.9,1581.1 425.2,1578.9 430.5,1576.7 435.8,1575 441.1,1573.3 446.4,1572.8 451.8,1571.8 457.1,1570.5 462.4,1568.9 467.7,1566.7 473,1566.7 478.3,1565.1 483.6,1562.9 489,1562.1 494.3,1561.6 499.6,1559.5 504.9,1558.2 510.2,1557 515.5,1555.7 520.9,1553.9 526.2,1553.2 531.5,1552.7 536.8,1550.2 542.1,1549.5 547.4,1548.3 552.7,1547.9 558.1,1545.8 563.4,1544.6 568.7,1544.2 574,1541.8 579.3,1541.1 584.6,1540.7 590,1538.4 595.3,1535.8 600.6,1533.7 605.9,1531.1 611.2,1530 616.5,1529.2 621.8,1526.8 627.1,1455.3" stroke="#9e480e"/><polyline points="100.9,1704.9 106.3,1691 111.6,1677.8 116.9,1669.7 122.2,1662.7 127.5,1658.9 132.8,1656.7 138.2,1652.9 143.5,1649.9 148.8,1649.1 154.1,1646.3 159.4,1644.8 164.7,1642.9 170,1641.2 175.4,1639.4 180.7,1637.2 186,1635.4 191.3,1634.5 196.6,1631.9 201.9,1630.2 207.3,1629 212.6,1627 217.9,1625.4 223.2,1623.8 228.5,1621.7 233.8,1620.6 239.1,1618.5 244.5,1617.9 249.8,1615.9 255.1,1614.5 260.4,1612.5 265.7,1611.5 271,1610 276.4,1608.5 281.7,1606.5 287,1605.4 292.3,1604.2 297.6,1603.6 302.9,1603.3 308.2,1600.9 313.6,1600.3 318.9,1598.7 324.2,1598.5 329.5,1597.1 334.8,1595.7 340.1,1594.7 345.5,1593.7 350.8,1592.8 356.1,1592.3 361.4,1590.9 366.7,1590.4 372,1590 377.3,1589.1 382.7,1588.2 388,1586.3 393.3,1586.7 398.6,1585.5 403.9,1584.9 409.2,1582 414.5,1580.9 419.9,1579.3 425.2,1577.7 430.5,1576.6 435.8,1575 441.1,1572.9 446.4,1571 451.8,1571.1 457.1,1569.1 462.4,1567.8 467.7,1566.6 473,1565.4 478.3,1564.2 483.6,1563.7 489,1561.2 494.3,1561.2 499.6,1559.1 504.9,1557.8 510.2,1556.6 515.5,1555.3 520.9,1554.8 526.2,1552.8 531.5,1551 536.8,1549.8 542.1,1549.1 547.4,1547.9 552.7,1546.6 558.1,1544.9 563.4,1543.7 568.7,1543.6 574,1541.5 579.3,1540.9 584.6,1539.9 590,1537.8 595.3,1534.9 600.6,1533.1 605.9,1530.3 611.2,1528.7 616.5,1527.6 621.8,1526 627.1,1455.3" stroke="#636363"/><polyline points="100.9,1698.8 106.3,1683.9 111.6,1669.8 116.9,1662.4 122.2,1655.3 127.5,1652.5 132.8,1650.1 138.2,1647.2 143.5,1645.2 148.8,1643.6 154.1,1640.9 159.4,1639.5 164.7,1637.2 170,1636.3 175.4,1633.8 180.7,1632.6 186,1630.9 191.3,1628.2 196.6,1627.5 201.9,1624.8 207.3,1623.7 212.6,1622.9 217.9,1621 223.2,1618.9 228.5,1617.8 233.8,1616.2 239.1,1614.6 244.5,1612.8 249.8,1611.7 255.1,1610.2 260.4,1609.6 265.7,1609.3 271,1608.3 276.4,1606.4 281.7,1605.3 287,1604.3 292.3,1603.4 297.6,1602.4 302.9,1601.5 308.2,1601.3 313.6,1599.6 318.9,1598.1 324.2,1597.7 329.5,1596.7 334.8,1596.5 340.1,1595.3 345.5,1593.8 350.8,1592.4 356.1,1592.4 361.4,1590.5 366.7,1590.5 372,1589.1 377.3,1587.7 382.7,1587.8 388,1587.2 393.3,1585 398.6,1584.6 403.9,1584.2 409.2,1582.1 414.5,1580 419.9,1578.9 425.2,1578.1 430.5,1575.2 435.8,1574.9 441.1,1573 446.4,1571.9 451.8,1569.4 457.1,1568.6 462.4,1566.9 467.7,1567 473,1565.5 478.3,1563.8 483.6,1563 489,1560.8 494.3,1559.5 499.6,1558.7 504.9,1557 510.2,1555.7 515.5,1555.4 520.9,1554.1 526.2,1552.4 531.5,1551.9 536.8,1550.7 542.1,1548.2 547.4,1547 552.7,1546.2 558.1,1545 563.4,1543.8 568.7,1542.7 574,1541.1 579.3,1540.5 584.6,1539.5 590,1537.7 595.3,1534.8 600.6,1533.2 605.9,1530 611.2,1529.2 616.5,1526.8 621.8,1524.7 627.1,1455.3" stroke="#997300"/></g></g><rect x="99.7" y="1455.3" width="531.4" height="378.8" fill="none" stroke="#111" stroke-width="2.4"/><path d="M99.7 1834.1h-6.5M99.7 1707.8h-6.5M99.7 1581.6h-6.5M99.7 1455.3h-6.5" stroke="#111" stroke-width="1.8" fill="none"/><text transform="translate(42.23 1840.70) scale(1.0127 1)" font-size="28.8">0.4</text><text transform="translate(42.22 1715.50) scale(1.0205 1)" font-size="28.8">0.6</text><text transform="translate(42.22 1590.00) scale(1.0205 1)" font-size="28.8">0.8</text><text transform="translate(42.41 1463.90) scale(1.0118 1)" font-size="28.8">1.0</text><text transform="translate(31.00 1668.92) rotate(-90) scale(0.9911 1)" font-size="28.6">CDF</text><text transform="translate(91.26 1867.30) scale(0.9898 1)" font-size="28.8">1</text><text transform="translate(607.40 1867.30) scale(0.9713 1)" font-size="28.8">100</text><text transform="translate(240.57 1899.90) scale(1.0121 1)" font-size="28.2">Consensus index</text><text transform="translate(120.66 1490.30) scale(1.0375 1)" font-size="28.2">Resolutions</text><line x1="122.3" y1="1511.8" x2="154.8" y2="1511.8" stroke="#ed7d31" stroke-width="3.5" stroke-linecap="round"/><text transform="translate(157.14 1516.70) scale(1.0065 1)" font-size="18.8">0.2</text><line x1="197.5" y1="1511.8" x2="230" y2="1511.8" stroke="#a5a5a5" stroke-width="3.5" stroke-linecap="round"/><text transform="translate(232.35 1516.70) scale(0.9989 1)" font-size="18.8">0.3</text><line x1="272.7" y1="1511.8" x2="305.2" y2="1511.8" stroke="#ffc000" stroke-width="3.5" stroke-linecap="round"/><text transform="translate(307.55 1516.70) scale(0.9913 1)" font-size="18.8">0.4</text><line x1="122.3" y1="1531" x2="154.8" y2="1531" stroke="#5b9bd5" stroke-width="3.5" stroke-linecap="round"/><text transform="translate(157.15 1535.85) scale(0.9989 1)" font-size="18.8">0.5</text><line x1="197.5" y1="1531" x2="230" y2="1531" stroke="#70ad47" stroke-width="3.5" stroke-linecap="round"/><text transform="translate(232.35 1535.85) scale(0.9989 1)" font-size="18.8">0.6</text><line x1="272.7" y1="1531" x2="305.2" y2="1531" stroke="#264478" stroke-width="3.5" stroke-linecap="round"/><text transform="translate(307.54 1535.85) scale(1.0065 1)" font-size="18.8">0.7</text><line x1="122.3" y1="1550.1" x2="154.8" y2="1550.1" stroke="#9e480e" stroke-width="3.5" stroke-linecap="round"/><text transform="translate(157.15 1555.00) scale(0.9989 1)" font-size="18.8">0.8</text><line x1="197.5" y1="1550.1" x2="230" y2="1550.1" stroke="#636363" stroke-width="3.5" stroke-linecap="round"/><text transform="translate(232.35 1555.00) scale(1.0027 1)" font-size="18.8">0.9</text><line x1="272.7" y1="1550.1" x2="305.2" y2="1550.1" stroke="#997300" stroke-width="3.5" stroke-linecap="round"/><text transform="translate(307.71 1555.00) scale(0.9890 1)" font-size="18.8">1.0</text><line x1="344" y1="1736.4" x2="357.5" y2="1749.6" stroke="#111" stroke-width="1.4"/><polygon points="367.5,1759.4 353.6,1753.5 361.3,1745.6" fill="#111"/></g>
<g id="panel-e"><text x="676.6" y="1436.5" font-size="43" font-weight="700">e</text><line x1="774.7" y1="1765" x2="1316.2" y2="1765" stroke="#d9d9d9" stroke-width="1.6"/><line x1="774.7" y1="1695.9" x2="1316.2" y2="1695.9" stroke="#d9d9d9" stroke-width="1.6"/><line x1="774.7" y1="1626.9" x2="1316.2" y2="1626.9" stroke="#d9d9d9" stroke-width="1.6"/><line x1="774.7" y1="1557.8" x2="1316.2" y2="1557.8" stroke="#d9d9d9" stroke-width="1.6"/><line x1="774.7" y1="1488.8" x2="1316.2" y2="1488.8" stroke="#d9d9d9" stroke-width="1.6"/><rect x="774.7" y="1454.5" width="541.5" height="379.5" fill="none" stroke="#111" stroke-width="2.3"/><path d="M774.7 1834v5.5M828.9 1834v5.5M883 1834v5.5M937.2 1834v5.5M991.3 1834v5.5M1045.5 1834v5.5M1099.6 1834v5.5M1153.8 1834v5.5M1207.9 1834v5.5M1262 1834v5.5M1316.2 1834v5.5M774.7 1834h-4.6M774.7 1765h-4.6M774.7 1695.9h-4.6M774.7 1626.9h-4.6M774.7 1557.8h-4.6M774.7 1488.8h-4.6" stroke="#111" stroke-width="1.7" fill="none"/><text transform="translate(784.26 1869.60) scale(1.0200 1)" font-size="28.8">0.1</text><text transform="translate(838.73 1869.60) scale(1.0200 1)" font-size="28.8">0.2</text><text transform="translate(892.78 1869.60) scale(1.0200 1)" font-size="28.8">0.3</text><text transform="translate(946.44 1869.60) scale(1.0200 1)" font-size="28.8">0.4</text><text transform="translate(1000.18 1869.60) scale(1.0200 1)" font-size="28.8">0.5</text><text transform="translate(1054.58 1869.60) scale(1.0200 1)" font-size="28.8">0.6</text><text transform="translate(1108.13 1869.60) scale(1.0200 1)" font-size="28.8">0.7</text><text transform="translate(1162.58 1869.60) scale(1.0200 1)" font-size="28.8">0.8</text><text transform="translate(1216.26 1869.60) scale(1.0200 1)" font-size="28.8">0.9</text><text transform="translate(1278.41 1869.60) scale(1.0200 1)" font-size="28.8">1</text><text transform="translate(744.66 1500.50) scale(0.9898 1)" font-size="28.8">1</text><text transform="translate(721.37 1570.70) scale(0.9834 1)" font-size="28.8">0.8</text><text transform="translate(721.37 1638.60) scale(0.9834 1)" font-size="28.8">0.6</text><text transform="translate(721.38 1707.60) scale(0.9759 1)" font-size="28.8">0.4</text><text transform="translate(721.36 1775.40) scale(0.9909 1)" font-size="28.8">0.2</text><text transform="translate(743.13 1845.30) scale(1.0995 1)" font-size="28.8">0</text><text transform="translate(703.60 1748.59) rotate(-90) scale(1.0153 1)" font-size="28.2">Measurement</text><text transform="translate(978.90 1900.00) scale(1.0205 1)" font-size="28.2">Resolution</text><polyline points="801.3,1488.8 854.6,1494.1 909.5,1493.7 963.7,1492.5 1016.6,1492.5 1071.1,1561.5 1124.8,1559.9 1178.5,1548.6 1233.4,1537.7 1286.7,1535.7" fill="none" stroke="#4472c4" stroke-width="1.6"/><circle cx="801.3" cy="1488.8" r="5.8" fill="#4472c4"/><circle cx="854.6" cy="1494.1" r="5.8" fill="#4472c4"/><circle cx="909.5" cy="1493.7" r="5.8" fill="#4472c4"/><circle cx="963.7" cy="1492.5" r="5.8" fill="#4472c4"/><circle cx="1016.6" cy="1492.5" r="5.8" fill="#4472c4"/><circle cx="1071.1" cy="1561.5" r="5.8" fill="#4472c4"/><circle cx="1124.8" cy="1559.9" r="5.8" fill="#4472c4"/><circle cx="1178.5" cy="1548.6" r="5.8" fill="#4472c4"/><circle cx="1233.4" cy="1537.7" r="5.8" fill="#4472c4"/><circle cx="1286.7" cy="1535.7" r="5.8" fill="#4472c4"/><polyline points="801.3,1834.1 854.6,1826.8 909.5,1826.8 963.7,1827.2 1016.6,1827.2 1071.1,1731.9 1124.8,1734.7 1178.5,1747.7 1233.4,1763.8 1286.7,1765.4" fill="none" stroke="#ed7d31" stroke-width="1.6"/><circle cx="801.3" cy="1834.1" r="5.8" fill="#ed7d31"/><circle cx="854.6" cy="1826.8" r="5.8" fill="#ed7d31"/><circle cx="909.5" cy="1826.8" r="5.8" fill="#ed7d31"/><circle cx="963.7" cy="1827.2" r="5.8" fill="#ed7d31"/><circle cx="1016.6" cy="1827.2" r="5.8" fill="#ed7d31"/><circle cx="1071.1" cy="1731.9" r="5.8" fill="#ed7d31"/><circle cx="1124.8" cy="1734.7" r="5.8" fill="#ed7d31"/><circle cx="1178.5" cy="1747.7" r="5.8" fill="#ed7d31"/><circle cx="1233.4" cy="1763.8" r="5.8" fill="#ed7d31"/><circle cx="1286.7" cy="1765.4" r="5.8" fill="#ed7d31"/><line x1="804" y1="1642.3" x2="836.5" y2="1642.3" stroke="#4472c4" stroke-width="1.6"/><circle cx="820" cy="1642.3" r="5.2" fill="#4472c4"/><text transform="translate(848.43 1647.20) scale(0.9803 1)" font-size="20">Dispersion</text><line x1="801" y1="1681.4" x2="833.5" y2="1681.4" stroke="#ed7d31" stroke-width="1.6"/><circle cx="817" cy="1681.4" r="5.2" fill="#ed7d31"/><text transform="translate(845.60 1686.80) scale(1.0643 1)" font-size="20">PAC</text><line x1="985.1" y1="1528.4" x2="998.3" y2="1515" stroke="#111" stroke-width="1.4"/><polygon points="1008.1,1505 1002.2,1518.8 994.3,1511.1" fill="#111"/><line x1="985.1" y1="1789.7" x2="998.2" y2="1802.8" stroke="#111" stroke-width="1.4"/><polygon points="1008.1,1812.7 994.3,1806.7 1002.1,1798.9" fill="#111"/></g>
<g id="panel-f"><text x="1378.2" y="1437.2" font-size="43" font-weight="700">f</text><filter id="ub11" x="-20%" y="-20%" width="140%" height="140%"><feGaussianBlur stdDeviation="7"/></filter><g filter="url(#ub11)"><polygon points="1537.7,1517.1 1561.2,1523.5 1586.9,1534.2 1618.9,1551.3 1651,1574.8 1672.4,1602.6 1678.8,1619.7 1673.5,1638.9 1666,1653.9 1655.3,1677.4 1629.6,1703.1 1608.3,1724.5 1576.2,1743.7 1533.4,1750.1 1497.1,1735.1 1486.4,1703.1 1492.8,1675.3 1499.2,1649.6 1501.4,1606.9 1512.1,1553.4 1522.8,1527.8" fill="#f6f6f6"/><circle cx="1769" cy="1626" r="46" fill="#f8d3d0"/><ellipse cx="1714" cy="1793" rx="29" ry="27" fill="#fcf3ce"/><polygon points="1738,1712 1752,1716 1736,1775 1700,1775 1690,1740" fill="#fefaec"/><polygon points="1668,1590 1725,1600 1735,1660 1660,1665" fill="#fcfcfc"/></g><g opacity="0.95"><path d="M1534.5 1520.5h0m0-3h0m3.5 0h0m5 3.5h0m3.5-3.5h0m1.5 1.5h0m-21.5 7.5h0m1 0h0m4-4.5h0m1.5 3.5h0m3-4.5h0m3 3h0m1-1.5h0m2 0h0m6 2.5h0m1 1h0m1 0.5h0m8-5h0m2 5h0m2.5-2h0m7 1.5h0m12.5 0.5h0m-63 6h0m0.5-0.5h0m5.5-0.5h0m1-0.5h0m2.5 1h0m0-1h0m1.5-4h0m4 3h0m0.5 3h0m3.5-2.5h0m1.5-2.5h0m2.5 3.5h0m2 1h0m0.5 0h0m1-3h0m0.5 3h0m0.5-2.5h0m1.5-1.5h0m0.5 1h0m5.5 0.5h0m0.5-0.5h0m2 2.5h0m3-0.5h0m2.5-0.5h0m1.5 0.5h0m1 0.5h0m1.5-1h0m0.5 1h0m0-2h0m4.5 2h0m4.5 0.5h0m2.5-3h0m5-2h0m3.5 4.5h0m-62 5h0m0.5 0h0m1-1h0m1-1.5h0m0-0.5h0m1-0.5h0m1 3.5h0m0.5-3h0m2 2.5h0m1.5 0h0m0-1.5h0m0.5 4h0m0.5-2.5h0m1-2h0m1 2h0m3.5 0h0m1.5-0.5h0m0.5 2.5h0m7-2.5h0m0-1.5h0m0.5 0h0m5 4h0m1.5-4h0m1 3h0m1-4.5h0m0.5 3.5h0m0.5-0.5h0m0 2h0m4-4.5h0m6.5 2.5h0m0-1.5h0m0.5 3.5h0m1-1h0m3.5-3.5h0m3 5h0m1.5-4.5h0m2 2h0m4 2h0m3-5h0m4.5 5.5h0m4.5-1h0m-82 6.5h0m5.5 0h0m1-1.5h0m8-2.5h0m0 3.5h0m0-4.5h0m1 1.5h0m0.5 4.5h0m3-5.5h0m3 2.5h0m1.5 1.5h0m3.5-0.5h0m1-2h0m0.5 3h0m0.5 0.5h0m0.5-2.5h0m2-0.5h0m0.5-0.5h0m3.5 0h0m3-0.5h0m4 4h0m1.5-4h0m1 1.5h0m1 2h0m7-4.5h0m0.5 2.5h0m2 1h0m0-2.5h0m0.5 3h0m1-1h0m0-2.5h0m7 4.5h0m1-1.5h0m2-2.5h0m2 3.5h0m0.5 0h0m2.5-2h0m0 1.5h0m2-4.5h0m0 1.5h0m1.5 3.5h0m2.5 0h0m4.5-2.5h0m2 3h0m2.5-3h0m5-0.5h0m-94.5 9.5h0m3-1h0m2 0.5h0m1.5-1h0m3-0.5h0m1 2h0m0.5-4.5h0m2 0h0m4 0h0m1 0h0m3-1h0m1 2h0m0.5 2h0m0.5-3.5h0m0.5 5h0m0-0.5h0m1.5 0.5h0m1-5h0m0.5 3.5h0m0-3.5h0m4.5-0.5h0m1 4.5h0m1 0h0m1.5 1h0m0.5-4.5h0m3.5 4.5h0m1-2h0m0.5 2h0m0.5-5h0m0 3.5h0m0.5-2.5h0m1.5 3.5h0m2.5-1h0m0.5 0.5h0m0-0.5h0m1.5 0h0m1.5-3.5h0m2.5 3h0m1.5-1.5h0m3 4h0m3-4.5h0m5 2h0m8-1h0m1.5-2h0m1.5 3h0m10-3.5h0m0 3.5h0m4 0.5h0m1 0h0m0 1.5h0m2-4h0m1 1h0m0 2.5h0m1.5-3.5h0m0.5 4.5h0m0.5-2.5h0m0.5-1h0m5.5 1.5h0m5.5-3h0m2.5 2.5h0m-107 5h0m1 0.5h0m1 2.5h0m0.5-4.5h0m0.5 5h0m0.5-1h0m3-2h0m0.5 0h0m6.5 1h0m1-3.5h0m0.5 3h0m1.5 0h0m0.5 0.5h0m1.5-2h0m2.5 1.5h0m0-2.5h0m0.5 3.5h0m0.5 0h0m1-2.5h0m1-1.5h0m1.5 2h0m0.5 2.5h0m0.5-2h0m0.5 1h0m0.5-1.5h0m0.5 2.5h0m0.5-3h0m1-1h0m3.5 2h0m2-2h0m0.5 3.5h0m0.5 0h0m0.5 1h0m0.5-0.5h0m0.5-5h0m0.5 1h0m0 2.5h0m4.5 0h0m1.5 0.5h0m0.5 0.5h0m3-1.5h0m0.5-1h0m1-1h0m1.5 2h0m2-2.5h0m2 2.5h0m6.5 2h0m0-4h0m4.5-0.5h0m0.5 2.5h0m0.5-1h0m6.5-1h0m0.5 0.5h0m0.5 0.5h0m0.5-1h0m3 1h0m9 2h0m0.5-3h0m0.5 2.5h0m1-1h0m0.5 2.5h0m0.5-4.5h0m3 4h0m1-4h0m8.5 3h0m0.5-3h0m1.5 2h0m1-1.5h0m10 3.5h0m-117.5 6h0m1 1.5h0m3.5-2.5h0m5-3.5h0m0.5 3.5h0m1.5-2.5h0m4.5 3.5h0m1.5-3h0m0 0h0m3 0h0m0 3h0m2.5-3h0m5 0.5h0m0.5 2.5h0m2.5 0h0m4 1.5h0m2-5h0m0.5 0h0m1.5 1.5h0m3 1.5h0m2.5-3.5h0m0.5 3h0m0.5-0.5h0m1 1h0m3.5-3.5h0m0.5 0.5h0m0 0.5h0m0.5 0h0m1.5-1.5h0m2.5 1h0m0.5 2.5h0m3-3.5h0m2.5 0.5h0m5.5 0h0m2.5 3.5h0m3-4h0m0 2.5h0m0.5 2h0m4 0h0m2 0.5h0m1-3h0m3.5 3.5h0m3.5 0.5h0m5-2h0m0.5 1.5h0m2-3h0m0-1.5h0m1 3.5h0m9.5-4h0m2 4.5h0m1.5-0.5h0m0.5-2.5h0m3 1h0m1.5 3h0m9.5 0h0m-129 4h0m7.5 1.5h0m0.5-5h0m2 1h0m2 0.5h0m0.5 3.5h0m0-3.5h0m0-0.5h0m3 3.5h0m1-1h0m0-1h0m1.5-2.5h0m2.5 4.5h0m0 0.5h0m6-3.5h0m5.5-0.5h0m1 1h0m3.5 3h0m0.5 0h0m0-2h0m2 0h0m2.5-1h0m0.5-1h0m1 1.5h0m1 0h0m2 0.5h0m0-2h0m2 3h0m0.5-3h0m2-1.5h0m1 1.5h0m0-1h0m1 2.5h0m1 1.5h0m1-2h0m1.5 0.5h0m0 1h0m2.5-2.5h0m2.5 3.5h0m1.5-4.5h0m6 5.5h0m0.5-0.5h0m1-3h0m1-2.5h0m1 1h0m0.5-0.5h0m0 5.5h0m2-0.5h0m0.5 0.5h0m2.5-0.5h0m2-1.5h0m1 0h0m1.5-4h0m7.5 0.5h0m1.5 3.5h0m8.5 1h0m0.5 1h0m2-1h0m1.5-2.5h0m1 0.5h0m1 2h0m1.5-3.5h0m1.5-0.5h0m5 0h0m0 0h0m3 2h0m0 1h0m1-2h0m0.5-0.5h0m0.5 1h0m0.5-1h0m0.5 2h0m3-1.5h0m0.5 3h0m3.5 0h0m1-2h0m0-2.5h0m0.5 1h0m4.5 2h0m-132 8h0m4 0h0m2-5.5h0m0.5 5.5h0m1-4.5h0m1-0.5h0m0 4h0m3 1.5h0m0-0.5h0m1.5-3.5h0m0.5 3h0m1-4h0m2.5 3h0m1-2.5h0m0 4h0m0.5-4h0m2 0h0m3 1.5h0m4 0h0m2 2h0m0.5 0.5h0m2-1.5h0m0.5-1h0m0.5-1h0m5.5 1h0m0.5 3h0m1-3.5h0m4.5-1h0m1 2.5h0m5-0.5h0m1-1h0m2.5 3.5h0m1-4h0m0.5 0h0m1.5 0h0m2-0.5h0m2 3.5h0m0.5-2h0m0.5 3h0m3.5-5h0m2.5 3h0m4.5-1h0m0.5 2.5h0m0.5-3.5h0m1.5-0.5h0m0.5 4.5h0m4.5-0.5h0m1-5.5h0m4 2.5h0m2.5-0.5h0m0-0.5h0m4.5 0.5h0m1 3h0m1-3h0m2.5 0.5h0m3 2.5h0m2-1h0m1.5-4h0m1 2.5h0m3.5 0h0m2 0.5h0m2-2.5h0m4 5.5h0m0.5-4h0m0-2h0m0 5.5h0m3.5-4.5h0m5.5 4.5h0m1.5-5.5h0m2 0.5h0m0.5 4.5h0m4-2h0m0 3h0m4-3h0m0 2h0m0.5-0.5h0m7.5 0.5h0m-144 7h0m4.5-2h0m1 1h0m2-2h0m1 0.5h0m0-1.5h0m2 3.5h0m0.5-1.5h0m0.5-3h0m0.5 4h0m3-1.5h0m0.5 1h0m1-2h0m0-0.5h0m0 1h0m1.5-0.5h0m0.5 1h0m2-2h0m0 2.5h0m5 2h0m2.5-4.5h0m5.5 1h0m2.5 2.5h0m4.5-1h0m3.5-1h0m0.5 0.5h0m2.5 0h0m1-0.5h0m0.5 1h0m0 0.5h0m0.5-4h0m1.5 0.5h0m0 4h0m1-2.5h0m0-2.5h0m1 2h0m0 3h0m3.5-1.5h0m0 0h0m0.5 1h0m0.5 1h0m1 0.5h0m6.5-2h0m0.5 0.5h0m0.5-3.5h0m0.5 3.5h0m0-1.5h0m1.5 0h0m2 1.5h0m0.5-1h0m3-1.5h0m0.5 0h0m0 3.5h0m2.5-4.5h0m3.5 2.5h0m6-1h0m3.5-1.5h0m1.5 0.5h0m3 1h0m2.5 2h0m1.5-0.5h0m0.5 0.5h0m1.5-2.5h0m1 3h0m0-3.5h0m2.5 2h0m9 0h0m2.5-2.5h0m2.5 2.5h0m5-0.5h0m2 1.5h0m4-4h0m1 2h0m4.5-2h0m2-0.5h0m1.5 4h0m2.5 0.5h0m9.5 0h0m2.5-1h0m-154.5 3.5h0m4 3h0m1 1.5h0m1.5-1h0m8 0h0m4 0h0m4-1h0m0.5 0.5h0m1 0h0m0.5-1h0m0.5-1h0m1 2h0m0.5 1h0m0.5-4h0m0 2h0m1-1h0m0.5 2h0m0.5 2h0m2-4h0m0.5 3h0m4-2.5h0m2 0h0m0.5-1.5h0m3 0.5h0m1.5 1h0m0.5-2.5h0m2 1h0m1 0h0m0.5 0h0m3 0h0m2 3.5h0m4.5 1h0m0.5 0h0m3 0.5h0m2-4h0m5-1h0m4.5 1h0m1 1.5h0m0 2.5h0m1.5-1.5h0m2-0.5h0m3.5 1h0m1-4h0m2 0h0m2.5 3h0m0-0.5h0m1 2h0m0 0h0m0.5 0h0m2-1h0m1-0.5h0m1.5 1h0m4.5-2.5h0m2.5 0.5h0m1 0h0m1.5-0.5h0m1-1.5h0m3 1.5h0m4 2.5h0m0.5-0.5h0m1 0h0m4-1h0m6.5 2h0m3.5-1.5h0m1-2h0m0.5 3.5h0m4-2h0m0.5 1h0m6.5-4h0m0-0.5h0m0.5 6h0m0.5-1.5h0m5 1h0m0-1.5h0m3.5-1.5h0m4.5-2.5h0m2.5 3.5h0m12 0.5h0m-164 3.5h0m1.5 2h0m0 2.5h0m3.5-1.5h0m2.5-2h0m2 2.5h0m1.5-1.5h0m0.5 1.5h0m3-1.5h0m1.5-1h0m2-2.5h0m0.5 0.5h0m3.5 1.5h0m1-0.5h0m0 4h0m2-4.5h0m7.5 1h0m1.5-0.5h0m2 4h0m1-2.5h0m0.5 2h0m1.5-1h0m2.5-2h0m2 0.5h0m1.5-0.5h0m0.5-1h0m0 2h0m5.5 1.5h0m1-2.5h0m0-0.5h0m0.5-1h0m1 4.5h0m0-3.5h0m1.5-1h0m1 0h0m1 3h0m1-0.5h0m0.5 2.5h0m4 0h0m0-2h0m3.5-2h0m0 0.5h0m0 4h0m2.5-4h0m2-1h0m0.5 5h0m2-2.5h0m2 1.5h0m0.5-1.5h0m6.5-2h0m1.5-1h0m0.5 1h0m0.5-0.5h0m2 3.5h0m1-3.5h0m2.5 2h0m1.5 0.5h0m3 1h0m1-1h0m2.5-1.5h0m0.5-1h0m3 4h0m2-1h0m3-3h0m1.5 5h0m4-4h0m0.5-1.5h0m5.5 1h0m0.5 3.5h0m4.5 0h0m0 0h0m4-4.5h0m1 2.5h0m0.5-0.5h0m0-0.5h0m3.5-1h0m0.5 4h0m5.5-3.5h0m2-1h0m5 0.5h0m0 3h0m3 1.5h0m1-2h0m1-1.5h0m2-1h0m1.5 4h0m4.5-2.5h0m-159.5 7h0m2 2h0m5.5 0.5h0m2.5-2.5h0m2-2h0m3 4.5h0m4-1.5h0m1.5-0.5h0m0.5-1h0m2 3h0m0.5-1.5h0m0-4.5h0m1.5 3h0m1-2.5h0m0.5 1h0m1 3.5h0m1 0.5h0m2-2.5h0m1-2.5h0m0.5 3h0m6-1.5h0m2-1h0m2 1.5h0m2-1h0m0 1.5h0m1.5 2h0m1.5 0.5h0m1 0.5h0m0-3.5h0m1-0.5h0m3 2h0m0.5-1h0m1-1h0m3 2.5h0m2 1h0m0-2h0m0 1.5h0m1-2.5h0m4-0.5h0m0.5 1h0m2.5 0.5h0m0.5-1.5h0m4 2h0m0.5 0h0m1.5 0h0m0.5-3h0m2 2h0m0.5 0.5h0m2 1.5h0m0.5-3h0m5 3h0m3-5h0m1.5 2h0m3 1h0m1-2h0m0 4.5h0m4-5.5h0m2 2h0m0.5 4h0m1-3.5h0m4.5 2h0m4-3.5h0m1 4h0m0.5-1h0m2 0h0m1.5-3.5h0m1 0h0m2.5 4h0m3.5-2.5h0m0 0.5h0m4.5 2.5h0m1-2.5h0m5.5 3h0m3.5-1h0m3 1.5h0m2-5h0m1.5 4.5h0m11-3.5h0m3 2h0m8.5-1.5h0m-167 5.5h0m0.5 3.5h0m1-2.5h0m5.5-1.5h0m6 4h0m3.5 0h0m0.5-2h0m1-1.5h0m2-0.5h0m0 4h0m4-4h0m3.5 4h0m3.5-3.5h0m0 3h0m2 0h0m0.5 1h0m0 0h0m3-1.5h0m4-4h0m1 5h0m0.5-4.5h0m0 1.5h0m1 1.5h0m0.5-2h0m4.5 0.5h0m1.5 1.5h0m2 1.5h0m0 0h0m1-1h0m0.5-4h0m1 2.5h0m0 3h0m2-3h0m1 0.5h0m0.5-0.5h0m0-1.5h0m4 2h0m2-2.5h0m0 2.5h0m1-2h0m1 3h0m0 1h0m0.5-1.5h0m2.5-3h0m1 2.5h0m0 2h0m1-2.5h0m0-2.5h0m0.5 3.5h0m1.5-0.5h0m1.5 1h0m3-0.5h0m0-4h0m1 3h0m0.5-1.5h0m0.5-0.5h0m0.5 4h0m5.5 0.5h0m0.5-1h0m3 1.5h0m1-2h0m1-0.5h0m9 0.5h0m5-2h0m2 1h0m0.5 1h0m3-0.5h0m0-0.5h0m2-2h0m3 4h0m14.5-5h0m0.5 3h0m3.5 3h0m4.5-4h0m0.5-1.5h0m1 2.5h0m2-3h0m3.5 1h0m1 2.5h0m1 0h0m1-2.5h0m3 0h0m4.5 1.5h0m0-0.5h0m2.5-2h0m4 1h0m6 3.5h0m3.5-2.5h0m-171.5 8h0m2.5-1.5h0m0.5-2.5h0m1 1.5h0m4.5-1h0m0.5 5h0m3.5-2h0m2 2.5h0m1.5-0.5h0m1 0.5h0m0 0h0m2-4.5h0m0.5 1.5h0m1 1.5h0m0.5-4.5h0m1.5 4h0m1.5 0.5h0m0.5-3.5h0m0 3h0m2.5-1.5h0m3-0.5h0m2.5 4h0m0-5.5h0m1.5 3.5h0m1.5-3.5h0m1 1h0m0.5 3h0m0.5-1.5h0m1.5 1h0m0.5 0h0m1.5-3.5h0m8 4h0m0-0.5h0m0.5-4h0m2 1.5h0m0.5-1h0m0 5.5h0m1-2h0m3-1h0m4-1h0m0.5 2.5h0m1-4.5h0m4 5h0m0.5 0h0m9.5-4h0m2-1h0m2.5 5h0m0.5-1h0m1.5 1h0m1-3h0m4 2h0m0.5 1h0m1 0h0m0.5-4h0m3 4.5h0m0.5 0.5h0m3.5-4.5h0m0.5-0.5h0m0.5 4h0m2.5-3h0m0.5 2.5h0m3.5 0.5h0m1.5-1h0m2-2.5h0m1 2.5h0m0.5-1h0m2 2h0m6-2.5h0m1-2.5h0m10.5 2h0m0.5-0.5h0m3.5 0h0m0 4h0m4-5.5h0m0.5 4h0m2.5-2.5h0m0.5 3.5h0m0.5-1h0m5-1.5h0m0 2h0m0-1h0m4.5-2h0m1 3h0m0.5-4.5h0m9 2.5h0m2 1.5h0m4-3.5h0m0 3h0m8-2h0m-169 5.5h0m1.5 3.5h0m0-4h0m4.5 4.5h0m1.5-0.5h0m1-0.5h0m0.5-4h0m1 1.5h0m3 1.5h0m1 1.5h0m2.5-0.5h0m0.5 0.5h0m1.5 0h0m1-3h0m0.5-0.5h0m0.5 0.5h0m5.5 2h0m4.5 0h0m1.5 1h0m0-3h0m2.5 2.5h0m0.5-1h0m1.5-1h0m3.5 3h0m3.5-3h0m0 2h0m0 1h0m3-5h0m3.5 3.5h0m1.5-1.5h0m1-1.5h0m2 3h0m1.5 1h0m6-4.5h0m5 2h0m0.5 1h0m1-2h0m0.5 0h0m2 3.5h0m0.5 0h0m0.5 0.5h0m0.5 0.5h0m0.5-2h0m1 0h0m2-0.5h0m1.5 0.5h0m0 0h0m1-3h0m2 2.5h0m2-2h0m2.5 1h0m2.5 3.5h0m5 0h0m1-5.5h0m3 5.5h0m0.5-0.5h0m0-4h0m0.5 3.5h0m1-0.5h0m1.5-0.5h0m1.5 0.5h0m1-4h0m5.5 3.5h0m3.5 0h0m4.5-2.5h0m1 2.5h0m0.5 1.5h0m2-5h0m2.5 3.5h0m1 1h0m4-1.5h0m0-1h0m0 0.5h0m0.5-2h0m1 3h0m3.5-0.5h0m2 1.5h0m3-3h0m0.5 0.5h0m0.5 2h0m1-3.5h0m3 3.5h0m14-3h0m0 1.5h0m7-0.5h0m1 1.5h0m2.5 0h0m6.5 0h0m1-0.5h0m-177.5 7.5h0m1.5-3.5h0m0 3.5h0m1-4h0m0.5 3h0m0.5-3h0m2 0.5h0m1.5 3.5h0m0 0.5h0m0-3h0m2.5 1.5h0m1 1h0m2-3h0m2 1.5h0m1 2.5h0m0-5h0m0.5 3.5h0m2-2h0m0 3h0m0.5-3.5h0m3 0h0m4 2.5h0m0.5-1.5h0m0 2.5h0m3.5-1h0m0.5-3h0m0 0h0m0.5 4h0m4 0h0m0-1.5h0m0 0.5h0m5.5 0.5h0m0.5-3.5h0m0.5 4.5h0m0.5-3.5h0m1-2h0m0.5 1h0m1-0.5h0m0 1.5h0m2.5 1.5h0m3-0.5h0m0-2.5h0m5 3h0m1-1h0m0 2.5h0m1.5-3h0m1 3.5h0m10-1h0m1-3.5h0m0.5 1.5h0m0 0.5h0m6 1h0m2 1h0m5-4.5h0m1.5 0.5h0m1 2h0m2 2.5h0m1-3h0m4 0.5h0m1.5-0.5h0m4 3.5h0m9-4h0m3-1.5h0m1.5 4h0m0.5-2h0m0.5 1.5h0m1-1h0m0-1h0m0.5 3h0m2-1h0m0 1h0m7-1.5h0m5-2.5h0m2 4h0m3.5-4h0m0.5 1.5h0m0 0h0m1 2h0m2-3.5h0m8 0.5h0m1 2.5h0m3.5 2h0m3-5h0m1 1h0m0.5 0.5h0m1-1.5h0m0.5 1h0m2-0.5h0m0.5 4.5h0m3.5-1h0m2.5-5h0m4.5 4h0m2 0.5h0m5-3h0m3 2.5h0m0.5-3.5h0m-181 8.5h0m7.5 1.5h0m1.5-1.5h0m1 1h0m0.5-1h0m0.5 1.5h0m1.5 1.5h0m2-2h0m4-3h0m3 0h0m0.5 2.5h0m0.5-2.5h0m0.5 1.5h0m2-1.5h0m2-0.5h0m0.5 2h0m3 2.5h0m0 0.5h0m0.5-2.5h0m1.5-2h0m1 0h0m13 2.5h0m0.5-3h0m0.5 1.5h0m1 1h0m3.5-2h0m0.5 4h0m0.5-4.5h0m1 0h0m1.5 3.5h0m1 1.5h0m2.5-1.5h0m1-2.5h0m2.5 4h0m1-5.5h0m1.5 5.5h0m0-0.5h0m3 0h0m0.5 0.5h0m1.5-2h0m0-2h0m2-0.5h0m0 3h0m10.5 1.5h0m0.5-2.5h0m0.5-1.5h0m2.5 2h0m4-0.5h0m3.5 2.5h0m4-4h0m3.5 2.5h0m1.5-4h0m1 4.5h0m1 1h0m3-3.5h0m2 1.5h0m0.5 0h0m3.5-3h0m2 3h0m1 2h0m1.5-4h0m0 0h0m2.5 0h0m6-1.5h0m1 6h0m5.5-0.5h0m0.5-2.5h0m0.5-1.5h0m3.5 1.5h0m0.5 0.5h0m4-1h0m0-0.5h0m0 2.5h0m3 0.5h0m2-1h0m1-1.5h0m0.5 2h0m2.5-3.5h0m0 0h0m0.5 3.5h0m2 0h0m2.5 0h0m1.5-1h0m1-2.5h0m0.5 1h0m1 3.5h0m1-4.5h0m2 3h0m2.5 0h0m4-2h0m0-1.5h0m1 3.5h0m0-0.5h0m6-0.5h0m8-2h0m-183.5 9.5h0m3-3h0m1.5 3.5h0m0.5 0h0m2.5 0.5h0m0.5-2.5h0m2 3h0m2.5-0.5h0m2-2.5h0m8.5-2.5h0m0 2h0m0.5-1.5h0m0.5 2.5h0m0.5-3.5h0m6 2h0m3-1h0m2.5 1h0m4 2h0m3.5 1.5h0m0.5-4h0m2 1.5h0m1.5-0.5h0m3 1.5h0m1.5 1.5h0m0.5-4.5h0m2 0h0m3.5 4h0m2-3h0m4 2.5h0m2.5-3.5h0m1 0h0m0-0.5h0m0.5 0h0m0.5-0.5h0m1 2h0m1 3h0m6-1.5h0m3.5 1h0m0-2.5h0m1.5 1.5h0m0.5 0h0m3.5 0.5h0m0.5 0h0m0-1.5h0m0.5-1h0m1 4h0m4-3.5h0m1.5-1h0m3.5-0.5h0m0 3h0m4.5 1h0m3-1h0m1 1h0m0.5-0.5h0m0.5-3h0m2 3h0m0-2h0m2 1.5h0m1-1h0m2.5 1.5h0m2 1h0m5-3.5h0m1 4.5h0m1.5-0.5h0m1-2.5h0m1 2.5h0m0.5-0.5h0m0.5 0h0m1-1h0m6.5-3h0m2-0.5h0m3.5 4.5h0m1-1.5h0m1 0.5h0m2-0.5h0m1-2h0m0 4.5h0m1.5-1h0m0.5-3h0m2 2.5h0m1-0.5h0m1 1h0m12.5-1.5h0m0.5-3.5h0m5.5 0.5h0m0.5 5.5h0m2-2h0m4.5 0h0m1 0h0m2 1h0m-180.5 2h0m1 1h0m2.5 1h0m2 2h0m0.5 0h0m1.5-1.5h0m0.5-1h0m0 1h0m0.5 2.5h0m0.5-6h0m4.5 1h0m1 4h0m1-3h0m0.5 0h0m1 3h0m2 0h0m1.5-2.5h0m0 3h0m1-5h0m1 2h0m0 3h0m2.5-3h0m0.5-1.5h0m0.5 1.5h0m5 3.5h0m3-5h0m0 3h0m3-3.5h0m4 0.5h0m0 1.5h0m4.5 3h0m0-3.5h0m2 1.5h0m5-1h0m0 1.5h0m1 0h0m1-3h0m1 5h0m4-1h0m2.5-2.5h0m1.5 1h0m2 0h0m0.5-2.5h0m0.5 1h0m3.5 3.5h0m1-3.5h0m2.5 4h0m1 0h0m2-4h0m1.5 3h0m2.5-4h0m0 3.5h0m6-2.5h0m1 3h0m0-2.5h0m1 1.5h0m1 1.5h0m1.5-2h0m0.5 1h0m1.5-2h0m1.5 0h0m1-0.5h0m1 3.5h0m1-2.5h0m0 3h0m2.5-2h0m0.5-2.5h0m0 0h0m4 4.5h0m3-4.5h0m0 2h0m1-0.5h0m0.5 1.5h0m0.5 1h0m1.5-1h0m2-1h0m1.5-1.5h0m1 2h0m7 0.5h0m4-3.5h0m5.5 2h0m0.5 0h0m3 1.5h0m0.5-1h0m1.5-2.5h0m1 0h0m3 4.5h0m2.5-3h0m1 1.5h0m5 0h0m4-4h0m0.5 0h0m0.5 6h0m0.5-2h0m0-2.5h0m1 3h0m2-4h0m0.5 5h0m7.5-4h0m2.5-1.5h0m0.5 2.5h0m5-1h0m1.5 0.5h0m3-1.5h0m-176.5 7h0m1.5 3.5h0m5.5-1h0m0.5-4h0m0 6h0m0.5-1.5h0m1.5 1.5h0m1-1.5h0m3-4h0m2 1h0m2 1h0m4.5 0h0m0.5-1h0m3.5-1h0m1 4h0m0-0.5h0m0-3h0m1.5 3.5h0m1-0.5h0m2 0.5h0m3.5-4.5h0m0.5 3h0m1.5 0h0m0-1.5h0m0.5 3h0m0.5-4h0m0.5 3.5h0m3 1h0m0.5-2.5h0m0 3h0m0-5h0m1 4.5h0m0-2.5h0m1.5-2.5h0m3 3h0m0.5-2.5h0m0.5 1h0m0 3h0m6 1h0m3-1h0m0-3.5h0m1.5 4h0m0.5-4.5h0m2.5 0h0m1 2h0m0.5-1h0m1.5 4.5h0m0.5-1h0m0-3.5h0m0.5-0.5h0m4.5-1h0m0 4h0m1.5 0h0m3.5-1h0m2 2.5h0m0-1.5h0m1-1.5h0m0-1.5h0m3.5 2.5h0m2.5-1.5h0m1.5 3h0m4-4h0m2.5 3.5h0m0.5-2.5h0m2 1.5h0m2 1h0m0.5-0.5h0m0-1.5h0m0.5-1h0m2 1h0m3 2h0m0.5-4h0m2.5 1h0m1.5 2h0m0.5-2h0m4 2.5h0m0.5 0h0m14.5-0.5h0m2.5 2h0m1.5-2h0m0.5-2h0m2 4.5h0m3-3h0m1 0h0m3 2h0m1-4h0m2.5 0.5h0m3.5 4h0m0.5-5.5h0m1.5 3.5h0m1.5-2.5h0m5.5 4.5h0m2-4h0m3 1.5h0m5-3h0m-165 10h0m0.5 1.5h0m2.5-2h0m5-2h0m1.5 3h0m1.5 0.5h0m3.5-4h0m0.5 1h0m2 1.5h0m0-1h0m4.5 2.5h0m0 0.5h0m3.5 0h0m3-2h0m1.5 2h0m0-2.5h0m2-2h0m1.5 1h0m2.5-0.5h0m0.5 1h0m6.5 2.5h0m0.5-3h0m1.5 3h0m1-4h0m3.5 4.5h0m0.5-5h0m9 3.5h0m1.5-3h0m2.5 3.5h0m3-4.5h0m0.5 3.5h0m3-1h0m1.5-2.5h0m2 0.5h0m1 2.5h0m2 1h0m2.5 0h0m1.5 1.5h0m0.5-3.5h0m1 0.5h0m1 0h0m3-2h0m0.5 4.5h0m1-3h0m0.5-0.5h0m3.5 4h0m0.5-2.5h0m2-1h0m6.5 3.5h0m0.5 0h0m3-4h0m2 0.5h0m2.5-1.5h0m5 1h0m1.5 2.5h0m3.5-2.5h0m3.5 2h0m1.5-1.5h0m1 4h0m3.5-3h0m1-2.5h0m0.5 5.5h0m3.5-3h0m0.5-2.5h0m3 5h0m1.5-2h0m2 0h0m1.5-1h0m2.5 1.5h0m1.5-4h0m5.5 3.5h0m1 2h0m0.5-5h0m4 2.5h0m3 0h0m3.5-1h0m2 2h0m1.5-1.5h0m3-2h0m-171 7.5h0m0.5 0.5h0m1 1h0m1 1.5h0m1.5 0h0m6.5-2h0m1.5 3h0m1.5-2h0m1.5-3h0m0 2.5h0m2.5 1h0m1-2h0m2 1h0m2.5-2.5h0m1.5-1h0m1 0.5h0m0 3.5h0m1 1h0m0.5 0.5h0m0.5-4h0m3.5 3h0m0.5-0.5h0m1.5 0.5h0m0.5-1.5h0m0.5 0.5h0m0.5-1h0m0.5 2.5h0m0.5 1h0m0-3.5h0m6 0h0m0.5 0h0m2.5-2h0m0.5 4h0m4-1.5h0m0.5-0.5h0m2 2.5h0m4-4h0m3-0.5h0m2.5 0h0m2 3h0m1.5-0.5h0m1 1.5h0m1.5-3.5h0m0 2h0m2 1.5h0m0.5-1h0m0.5-2.5h0m3.5 0h0m0.5 4h0m3-2.5h0m0 1h0m1-3h0m3 3.5h0m0.5-3h0m1-1h0m1 1h0m2 1.5h0m0.5 2h0m2 1.5h0m6.5-0.5h0m3.5-4h0m3 0.5h0m3.5 1h0m0.5-2.5h0m1 4.5h0m4-2.5h0m11.5-2h0m1.5 0.5h0m0.5-0.5h0m6 4h0m2-3h0m0.5 2.5h0m1.5-3h0m5 1h0m2.5 0h0m1.5 0h0m0 4h0m3-3.5h0m1-1h0m4 0h0m0-1h0m1 4.5h0m4.5 0h0m2.5 0.5h0m1-4h0m1 3h0m1-1h0m1 0h0m4-3h0m-170.5 6.5h0m1.5 4h0m4-4.5h0m1.5 5h0m4.5-3h0m1.5 0h0m2.5-2.5h0m0.5 2h0m5.5 0h0m0.5 3h0m1.5 0h0m4.5 0.5h0m1-0.5h0m2.5-2.5h0m0 2h0m2.5 1h0m5-0.5h0m0.5-1h0m4 1.5h0m3-5h0m0.5 3.5h0m1.5-2.5h0m3.5 1.5h0m1.5-1h0m3.5-1.5h0m2 3.5h0m1.5 0.5h0m0-2.5h0m2.5 0h0m2 0.5h0m1.5 1h0m4-2h0m4-1.5h0m0.5 1.5h0m4 2.5h0m1-0.5h0m1-1.5h0m1 3.5h0m0.5-1.5h0m1.5 1h0m6-1h0m1.5 0h0m1-1.5h0m0-0.5h0m4 2.5h0m5.5-3.5h0m1 4h0m0-3h0m13 1h0m1.5-2h0m0.5 0.5h0m4 0.5h0m1.5 3h0m3.5-2h0m6 1.5h0m5-3h0m0.5 2h0m0.5 2h0m0.5-5h0m6.5 5h0m4.5-3h0m3.5-1.5h0m0.5 3h0m0 1.5h0m5-2.5h0m0.5 2.5h0m5-1.5h0m-164.5 3.5h0m1 1.5h0m1.5-1h0m2.5 2.5h0m2.5-3.5h0m4 0.5h0m2 4h0m1-2.5h0m4-1.5h0m1 0.5h0m4-1.5h0m1.5 3h0m1-2.5h0m6.5 0.5h0m1-0.5h0m0.5 1h0m0.5 0.5h0m1.5 2.5h0m0.5-0.5h0m2-2h0m0.5-1h0m1 2h0m0.5-0.5h0m1 2.5h0m3.5-2h0m3.5-2.5h0m1 3h0m1.5-2.5h0m4 4h0m1.5-1.5h0m1-3.5h0m0.5 1.5h0m1.5-1h0m1 1.5h0m1-0.5h0m3.5 1.5h0m1 1h0m1 1h0m1.5-1.5h0m0.5-2h0m0.5 2h0m1-1.5h0m0.5 2h0m0 0.5h0m3 0.5h0m4.5-4h0m1 2h0m3.5-3h0m0 3.5h0m0.5 2h0m1.5-4.5h0m4-1h0m4.5-0.5h0m0 0h0m0.5 3.5h0m1.5 2.5h0m2-1.5h0m2-2.5h0m1.5 2h0m2-1.5h0m3 1h0m0.5-3h0m1 4h0m0 1h0m3.5-2h0m1 1.5h0m0.5-5h0m5 0.5h0m3.5 5h0m2-0.5h0m0-2.5h0m3-1.5h0m2 3h0m1-0.5h0m4 1.5h0m0-5h0m1.5 1h0m1 3h0m0.5 0h0m1-4h0m1.5 0h0m4.5 1.5h0m10 0h0m0.5 1.5h0m0-1h0m4.5 1.5h0m4.5-2h0m1 1h0m1.5 2.5h0m-166.5 2.5h0m1 3.5h0m0-4.5h0m1.5 2.5h0m1.5 1.5h0m0.5 0h0m2 0h0m0.5 0.5h0m0-2.5h0m0.5 2h0m1.5-3.5h0m2 4h0m1.5-4h0m1.5-1h0m1.5 0.5h0m2 1h0m1 3h0m1.5-4h0m2.5 2.5h0m3.5 2.5h0m1 0.5h0m4.5-2.5h0m0.5-3h0m0 5h0m2.5-2h0m6-2h0m1 3h0m0.5-2.5h0m0 0.5h0m1 2h0m3.5 0h0m0.5-0.5h0m0.5-2h0m0.5 1h0m2 1h0m2.5 0.5h0m2-1.5h0m1 1.5h0m0-4h0m3 2h0m1 0h0m2.5-1h0m0.5 2h0m2 2.5h0m0.5-3h0m0.5-0.5h0m2-0.5h0m4 2h0m1.5-3h0m1.5-0.5h0m3 0h0m5.5 3.5h0m1-0.5h0m0-2.5h0m1 5h0m0.5-4.5h0m1 3h0m5.5-3h0m1 4.5h0m4-2.5h0m1 2h0m0 0h0m1.5 0.5h0m1-5.5h0m1 0h0m0 4.5h0m2.5 1h0m0-3h0m12 1h0m0.5-2h0m4-1.5h0m0.5 2h0m1 0.5h0m3 0.5h0m3-1.5h0m1.5-2h0m3 5h0m0-3.5h0m7.5 2.5h0m4.5 2h0m1-1.5h0m2-1h0m0.5-3h0m2 1h0m2.5 0h0m1.5 4.5h0m0.5-3.5h0m-164 5.5h0m12 0.5h0m0.5 2h0m2.5 0.5h0m2-2.5h0m3-1.5h0m0-0.5h0m0.5 5h0m0.5 0h0m1.5-2h0m2 1.5h0m1.5 0.5h0m2-2.5h0m0.5-2.5h0m0 4.5h0m0.5-3.5h0m1 3.5h0m6 0.5h0m0-2h0m3 1.5h0m3-5h0m0.5 2.5h0m1 0h0m0 1.5h0m5-4h0m0 3h0m2.5 3h0m0.5-1h0m2.5-0.5h0m4.5-4.5h0m0 5.5h0m0.5-3.5h0m0 3.5h0m4.5-3.5h0m0.5 1.5h0m0.5-3h0m1 4h0m1-2h0m1.5-1.5h0m0.5-0.5h0m0 2h0m2 0h0m1 1.5h0m0.5 1h0m2-3h0m2-0.5h0m2 0.5h0m1-0.5h0m0.5 1.5h0m0.5-1h0m5.5 0h0m0.5 3.5h0m0.5 0h0m1-1.5h0m1.5-3h0m0.5 2h0m2 2h0m2-5h0m2 5.5h0m1.5 0h0m0.5-2h0m1.5 2h0m3-4.5h0m0.5 2h0m2.5-1h0m1 3.5h0m1.5-3h0m1-2h0m0.5 3h0m0.5-1h0m0.5 1.5h0m1.5-3.5h0m0.5 4h0m1.5-3h0m0.5-1h0m2.5 4.5h0m2.5 0h0m0.5 0.5h0m1-1.5h0m0 1h0m0.5-1.5h0m5 0.5h0m0.5-4h0m0 3.5h0m0.5 0h0m0.5-2.5h0m0 0h0m3.5 2h0m1.5 2h0m1.5-3.5h0m1-0.5h0m1 2.5h0m0.5 0.5h0m4 0.5h0m1.5-1h0m0.5-2.5h0m0.5 5h0m3.5-6h0m3 0.5h0m0.5 5h0m2 0.5h0m1-1h0m2-1h0m2.5 1h0m0-3h0m3.5 3.5h0m0.5-1.5h0m0.5-3.5h0m5 0h0m-161 10.5h0m1.5-2.5h0m0.5 2.5h0m1.5-3.5h0m2.5 3h0m2-4h0m0.5-0.5h0m0 0h0m0 0h0m0.5 2.5h0m0-1.5h0m1.5-1h0m6 2.5h0m2-2h0m2 5h0m1-0.5h0m1-3h0m1 0h0m1 0.5h0m1-2h0m4 1.5h0m0-2h0m1.5 5.5h0m1 0.5h0m1-1.5h0m0.5-0.5h0m0-1.5h0m5.5 2.5h0m1-3h0m1 3.5h0m1 0.5h0m0-4h0m2 3.5h0m0-0.5h0m0.5-3.5h0m0.5 3.5h0m0.5-2h0m0-1.5h0m2.5 4.5h0m0-1h0m5.5-3h0m3.5 1h0m2-0.5h0m5.5 1h0m2.5-2h0m1.5 1h0m9 0h0m4.5-2h0m0.5 1.5h0m4.5 1.5h0m0.5 1.5h0m6.5-3.5h0m5 3.5h0m0.5-1.5h0m0-3h0m2 4h0m4-3h0m0.5 3.5h0m7-2.5h0m0.5 0h0m3 3.5h0m1.5-5h0m3.5 2h0m4-1h0m2 1h0m5.5 0h0m1.5-2.5h0m2.5 5.5h0m3.5-3.5h0m2.5-2h0m0.5 3h0m0-3h0m0.5 0h0m1.5 1h0m0.5 2.5h0m2.5-2h0m1-0.5h0m2.5 2.5h0m2.5-3.5h0m17 1.5h0m-173 7.5h0m5.5 1h0m1.5 1h0m1.5-3.5h0m2.5-1.5h0m0 0h0m3 4h0m2-0.5h0m2.5-3h0m1.5 0h0m1 2h0m2-1.5h0m1-0.5h0m0.5 2.5h0m1.5 0.5h0m1 0.5h0m1.5-4h0m1 4.5h0m2-1.5h0m2 0.5h0m2-3.5h0m2.5 3h0m1-2.5h0m0.5 3h0m0 2h0m0.5-2h0m0.5 0h0m0-1h0m1-0.5h0m2 0h0m3 3h0m2.5-3h0m1-2.5h0m1 0.5h0m1.5 0.5h0m0.5 3h0m6.5-3.5h0m1 4.5h0m6-3h0m3.5-1h0m0.5-0.5h0m1 1h0m1.5-1h0m7 3h0m0 1h0m0-4h0m3.5 5h0m0.5-1h0m6.5-3.5h0m4 1.5h0m5.5 1.5h0m0-1h0m4.5-1h0m0.5 2.5h0m0.5-0.5h0m2.5-2.5h0m7.5-0.5h0m0.5 4.5h0m1-1.5h0m8-2.5h0m4.5 1.5h0m1 1h0m5-3h0m1.5 4.5h0m1.5-5.5h0m3 6h0m2.5-0.5h0m1 0h0m3-3h0m2.5 0.5h0m-152 5h0m4.5 3h0m1.5-4.5h0m8 0.5h0m0.5 3h0m1 1h0m0.5 0.5h0m0.5-1.5h0m2-3.5h0m1 5.5h0m1-1h0m4-0.5h0m2.5-2h0m0.5 1.5h0m0 0.5h0m3.5-2.5h0m1.5 1h0m3-2h0m0.5 0.5h0m2.5 0h0m0 1h0m1 1.5h0m0-3h0m0.5 2.5h0m5.5-2.5h0m0 2.5h0m2.5-1h0m0.5 1h0m2-1.5h0m2 0h0m0.5 2.5h0m0.5 0h0m0.5-2.5h0m0 3h0m0-2.5h0m0.5 0h0m3.5 2.5h0m0.5-4h0m0.5 1h0m5 0h0m2.5 0h0m2.5-2h0m2.5 3.5h0m0.5-3h0m0.5 3h0m1.5-1h0m1-1.5h0m1.5 4.5h0m3-0.5h0m1 1h0m0-1h0m0-3h0m0.5 4h0m1.5-5h0m1.5 0h0m0.5 5h0m0.5-4h0m0.5 1.5h0m0-0.5h0m0.5-2h0m1.5 1h0m0.5 0.5h0m1.5 0.5h0m0.5 3h0m3.5-5.5h0m4 1.5h0m9 3h0m8-2h0m0 3h0m1.5-2.5h0m0.5-1h0m0.5-0.5h0m3 3h0m2.5-2.5h0m6 1.5h0m3 1h0m1-1h0m2-3.5h0m1.5 1h0m2.5 0.5h0m11.5 1h0m5 0.5h0m-154 5.5h0m3.5 0.5h0m1 1h0m0 1.5h0m0-5h0m0.5 1h0m0 1h0m1 1.5h0m1 0h0m5.5 0h0m2-4h0m0.5 2h0m1 2.5h0m1-4h0m1.5 2h0m1.5-2h0m1 4.5h0m0.5-0.5h0m0-3h0m1 1h0m0.5-2.5h0m0.5 5.5h0m1.5-5.5h0m1 2h0m4.5 0.5h0m2.5-1.5h0m2 3h0m2.5-1h0m1 1.5h0m0.5-1h0m1.5 0.5h0m0.5-2h0m2.5-1h0m1.5-0.5h0m4 3.5h0m0.5 0h0m2 0.5h0m4 0.5h0m4-1.5h0m3-2h0m1-0.5h0m0 3.5h0m1.5-4.5h0m0.5 2.5h0m1.5 2h0m2.5-5h0m2 6h0m0.5-1.5h0m8.5-3h0m0.5 2h0m0.5 1.5h0m2-4h0m7.5 3h0m0.5-4h0m3 6h0m2.5-4.5h0m8.5 3h0m0.5 0h0m2.5-2h0m3 2.5h0m5-3.5h0m2.5 1h0m1.5-1h0m1.5 3h0m0.5-1h0m3.5 1.5h0m0.5-1.5h0m5-2h0m3.5-0.5h0m0.5-0.5h0m1.5 3h0m1-2h0m2.5-1.5h0m-137 7.5h0m0 2.5h0m8.5-2.5h0m3 2.5h0m1.5-2.5h0m5.5 1.5h0m0-1h0m2 2.5h0m0.5-2h0m0.5 0h0m3.5 1h0m0.5-3.5h0m0.5 0.5h0m1.5 4h0m3 1h0m0 0h0m0.5-1h0m2 0.5h0m3.5-1h0m0.5 1h0m3 0h0m2-2h0m0.5-2h0m0 0.5h0m3.5 2h0m2 2h0m2-1h0m10 1h0m1.5-3h0m3.5 1h0m0 2h0m1-0.5h0m10.5-5h0m0.5 1.5h0m0.5-1h0m1 3.5h0m0-0.5h0m0 2.5h0m0.5-3.5h0m7-0.5h0m1 3h0m5.5 0h0m2-5h0m3 2.5h0m2 1h0m3-1.5h0m1.5 1.5h0m0-3h0m0.5 2h0m1.5-2h0m1.5 2h0m2.5-1.5h0m0.5 2h0m4 1.5h0m0.5-2h0m0 1h0m1-1h0m0.5-0.5h0m5 4h0m2.5-3h0m1 2h0m10.5-2h0m-135.5 6h0m7.5 1h0m1-1.5h0m2-0.5h0m0.5-0.5h0m0.5 2.5h0m0.5 1.5h0m0.5-1h0m0.5 1.5h0m1-1h0m3.5 1h0m0.5-5.5h0m0.5 3h0m1-3.5h0m0 3h0m1.5-2h0m1.5 0.5h0m3.5 0h0m0 0h0m0.5 1h0m0.5 0.5h0m2.5-1.5h0m1.5 3.5h0m0.5-0.5h0m3 0h0m5 0.5h0m0-5h0m1.5 2.5h0m1 3h0m0.5-3h0m8.5 2h0m13-2.5h0m1.5-0.5h0m1.5-0.5h0m0 1h0m2 3h0m1 1h0m0.5-6h0m2.5 0.5h0m0 5h0m0.5-4h0m0-0.5h0m0.5 2.5h0m0.5 0.5h0m1.5 2h0m0-2.5h0m1 1.5h0m1-3.5h0m3 1.5h0m2-1.5h0m0 0h0m0.5 0h0m1-1h0m1 1.5h0m8 3h0m1-2h0m4.5-2h0m0 2h0m0.5 0h0m0.5-1h0m12.5 1.5h0m0.5 1h0m0.5-2.5h0m1 0.5h0m0.5 1.5h0m0.5 0.5h0m6-2.5h0m2.5-1.5h0m-124 7h0m3 3.5h0m1.5-0.5h0m1-1.5h0m3 0.5h0m1.5 0h0m2-2.5h0m0 5h0m0.5-5h0m2.5 4.5h0m2-1.5h0m1.5-2.5h0m0 4.5h0m2.5-1.5h0m0-1.5h0m1-2h0m1.5 0h0m2.5 1h0m2.5 1.5h0m1-3h0m0 3h0m3.5-3h0m1.5 1h0m0.5 2.5h0m2.5-2h0m0.5 4h0m0-4h0m0.5 2.5h0m3-0.5h0m0 1.5h0m0.5-2h0m0.5-2h0m3.5-1.5h0m2 4.5h0m0.5-2.5h0m1.5 1.5h0m2.5 0.5h0m3.5 0h0m5.5 0h0m2-2.5h0m1 4h0m2.5-5h0m2.5 3.5h0m0-0.5h0m1.5 2h0m1.5-5.5h0m0 1.5h0m0.5 0.5h0m4 0h0m1 1h0m2.5 1h0m5.5-3.5h0m1.5 4h0m0.5-2.5h0m3 1h0m2-2h0m0.5 2.5h0m0 2h0m5 0h0m1.5-1h0m1 0h0m1.5-4h0m0.5 5.5h0m0.5-2.5h0m3.5-0.5h0m2-0.5h0m2-2h0m3 5h0m5-4h0m-119.5 9h0m3.5-2.5h0m0-2h0m2.5 2.5h0m2-1.5h0m0.5 2h0m3 1.5h0m2.5 0h0m0.5-0.5h0m1-3h0m2 2.5h0m1 1h0m2.5 1.5h0m2.5-4.5h0m3.5 4.5h0m0.5-4.5h0m2-1.5h0m1.5 3.5h0m2.5 0.5h0m1 0.5h0m0.5-0.5h0m2-1.5h0m0-1.5h0m1 1h0m1.5 0.5h0m0.5-2.5h0m0.5 1h0m0 3.5h0m1-1.5h0m1.5 0.5h0m1.5-2h0m4-0.5h0m0.5 3.5h0m4-3h0m3 3.5h0m0.5 0h0m2.5-5h0m1 3h0m0 0.5h0m0-3.5h0m1.5 3h0m0.5 2h0m1.5-1.5h0m2.5 1.5h0m2-4h0m1.5 0h0m0.5 0.5h0m0.5-0.5h0m6 2.5h0m4 1h0m0.5-2h0m4.5 3h0m5-3.5h0m1.5 2h0m0.5-4h0m2.5 6h0m0-1h0m0.5-4h0m8 0h0m0 3.5h0m1-3.5h0m5 4.5h0m6.5-3h0m3.5-1h0m-114 6.5h0m3-2h0m1.5 0.5h0m1 4h0m0 0h0m0.5-1.5h0m0.5 0.5h0m0-3h0m1 1h0m0.5 1.5h0m2-2.5h0m4 1h0m1.5 0h0m4-1.5h0m1.5 2h0m1 3h0m7 1h0m0.5-1h0m0-0.5h0m2.5-1h0m2-2.5h0m1.5 1.5h0m1 0h0m0.5-0.5h0m4.5-1h0m4 1.5h0m1 0.5h0m0.5 1.5h0m1.5-3.5h0m5 3.5h0m5-2h0m0.5 1h0m3.5-1h0m0 0.5h0m1.5-1.5h0m1 4h0m7-2h0m5.5 2.5h0m1-2h0m0.5 0h0m0 0h0m2-0.5h0m5.5 2h0m2-2h0m14-3h0m6 0h0m-99 5.5h0m4.5 2h0m1.5 3.5h0m1.5-2h0m0 1.5h0m0.5-0.5h0m0.5-2h0m2-2h0m4.5 3.5h0m4.5 1h0m0-2.5h0m0.5 0h0m0 0.5h0m3.5-0.5h0m11-0.5h0m2.5 1.5h0m4 2.5h0m0.5-3h0m0.5-2.5h0m0 0.5h0m2.5-1h0m3 4.5h0m2-3.5h0m1.5-0.5h0m0 0h0m3 4h0m3-1h0m1.5 2.5h0m0.5 0h0m0.5-2h0m2-3.5h0m0.5 2.5h0m2 3h0m1.5-5.5h0m5 2h0m1.5 3h0m0-4.5h0m0.5 4h0m1-4h0m2.5 4.5h0m-63.5 2.5h0m8.5-1.5h0m0 0.5h0m4-1h0m1.5 4h0m1-1.5h0m2.5 3h0m1-1h0m2.5-4h0m4.5 3.5h0m2 0h0m0.5-4h0m3 1.5h0m1 2h0m0-3h0m0.5 1.5h0m0 2h0m1.5-2.5h0m2-1.5h0m0 2.5h0m0.5-0.5h0m0 0.5h0m0.5 0h0m1.5-2h0m0.5 0.5h0m1.5 0.5h0m12 1.5h0m3-3h0m-45 7.5h0m7-0.5h0m10 1.5h0m1-1h0m7 1h0" stroke="#b8b8b8" stroke-width="1.6" stroke-linecap="round" fill="none"/><path d="M1685 1540h0m32.5 16h0m-52.5 1.5h0m19 2.5h0m26 0.5h0m0.5 7h0m-43.5 5.5h0m22-0.5h0m7 3.5h0m11.5 3h0m3 5.5h0m1.5-2h0m2 4.5h0m2.5-0.5h0m-47.5 1h0m1.5 2h0m19.5 1h0m12.5-2h0m1 0h0m-38 7.5h0m5 1.5h0m8-4.5h0m5.5 5h0m1.5-0.5h0m6 0.5h0m16-1h0m9.5-1.5h0m-45.5 8h0m18-3h0m1.5 3h0m9-1h0m1-2h0m9.5 1h0m5.5-1h0m-42 8.5h0m10-1h0m3-2h0m3 2.5h0m1 2h0m2.5-5h0m0.5 0.5h0m10.5 3.5h0m10-0.5h0m3.5 1.5h0m-46.5 4h0m7.5 1.5h0m2.5-3.5h0m1 0.5h0m4.5 2.5h0m1.5-1h0m1-1.5h0m15 3h0m4.5-0.5h0m2-2h0m7.5 1.5h0m-52.5 5h0m6.5 0h0m1.5-2.5h0m1.5 3.5h0m0.5-1h0m4.5 1.5h0m5.5-0.5h0m2.5-3h0m0.5 3h0m0.5 1h0m5-2.5h0m0 3.5h0m0-4h0m0.5 2.5h0m0.5-3h0m2 4.5h0m0.5-2.5h0m1 0h0m0.5-1.5h0m8.5 4h0m1-5h0m2.5-0.5h0m6 5.5h0m-49 5.5h0m3-3h0m0.5-2h0m3 3.5h0m1-0.5h0m2-3h0m11.5 5h0m0.5-2.5h0m1 2h0m14.5-3h0m6 1h0m-45.5 4h0m9 3.5h0m1-3.5h0m1 3.5h0m1.5-3h0m3.5 4h0m1-0.5h0m2.5-2h0m1.5 2h0m0 0h0m6-1h0m1 0.5h0m7.5-0.5h0m1.5-2h0m8.5-0.5h0m2.5 4.5h0m-47 2.5h0m0.5-2.5h0m2 2.5h0m1.5 3h0m5.5-2.5h0m1 2h0m2-0.5h0m7.5-4h0m6 4.5h0m1.5-3h0m1-2h0m3 4.5h0m8-1.5h0m6-2h0m0 1.5h0m3-0.5h0m-49.5 5h0m10.5 2.5h0m3 0h0m0.5-2.5h0m2.5 0h0m1 0.5h0m0.5 2.5h0m6-0.5h0m2 2h0m3-4h0m2.5 0.5h0m4.5 2h0m3.5-3.5h0m9.5 4.5h0m-49 4.5h0m8 1h0m0 0h0m3-4.5h0m0.5 5.5h0m6.5-2h0m1-0.5h0m1.5-1h0m4.5-1.5h0m2.5 3h0m2.5 0h0m0.5-1.5h0m0.5 3.5h0m0.5-0.5h0m10.5-1h0m3.5-2h0m6-0.5h0m-36 8.5h0m0-0.5h0m14 1.5h0m1.5-3h0m6 0.5h0m0 0.5h0m2.5 1.5h0m1-2h0m6.5 0.5h0m0.5-1h0m6.5 3.5h0m-52.5 0.5h0m9.5 3.5h0m1.5-2h0m24 3.5h0m-27.5 3h0m7-1.5h0m6 0.5h0m0.5 1.5h0m25.5 0h0m1.5 1h0m-39.5 8.5h0m0-2h0m6.5-3h0m12 1h0m9 1.5h0m11.5 1.5h0m1-1.5h0m-46.5 8h0m9.5-2h0m34 1.5h0m5.5-0.5h0m-35 2h0m4.5-0.5h0m-23 11h0m10.5 0h0m6.5-2.5h0m8 0h0m13.5 14h0m11-3h0m-20 15.5h0" stroke="#d8d8d8" stroke-width="1.6" stroke-linecap="round" fill="none"/><path d="M1681 1562.5h0m-0.5 8.5h0m100 3.5h0m-84.5 0.5h0m49.5 5.5h0m19.5-1.5h0m0 0h0m4 1.5h0m2-2h0m3.5 0.5h0m3-4h0m2.5 6h0m1-0.5h0m4-1h0m5 0h0m0.5-2h0m-104 5h0m29.5-1h0m23.5 5h0m0 0.5h0m3.5-2h0m1 0.5h0m3.5 1h0m2.5 0h0m0 0h0m0-3.5h0m0.5 2.5h0m1.5-4.5h0m2.5 2.5h0m0.5 3h0m0-5h0m1.5 5h0m2.5-5h0m0.5 2h0m0.5 3h0m5 0h0m0 0.5h0m1.5-1.5h0m0 1.5h0m2.5-3h0m1.5-0.5h0m0.5-1.5h0m1 5h0m0.5-2h0m0.5 0h0m0 0h0m1.5-4h0m0.5 2h0m1 0.5h0m2-2.5h0m2.5 5h0m3 0.5h0m6.5 0.5h0m1.5-4h0m0 0.5h0m4.5 3.5h0m0.5-5.5h0m-111 10h0m5.5-1h0m26.5-3h0m3 5h0m2 0h0m8.5 0h0m0 0.5h0m4-1.5h0m0.5 0h0m1 1h0m1-4.5h0m0 2.5h0m2-1h0m1 1.5h0m1-3h0m1.5 4.5h0m0.5-1h0m0-3h0m1 2.5h0m0.5-0.5h0m0-3h0m2.5 0h0m0.5 4.5h0m0.5-5h0m1 1.5h0m0.5 0h0m4-0.5h0m0.5 1.5h0m1 0.5h0m0.5 1h0m0.5-1h0m0.5-2.5h0m1 0h0m1.5 4h0m1-4.5h0m0.5 5.5h0m0-3h0m0-1h0m0.5 0.5h0m0.5 3h0m2.5-1.5h0m3.5-3h0m0.5 3h0m1.5-3.5h0m1 2.5h0m0.5 3h0m1.5-1h0m0 0.5h0m1 0.5h0m1-1.5h0m1.5-1.5h0m0.5 1h0m0.5 0h0m3-3h0m1 0.5h0m1 1.5h0m1 2.5h0m0.5-4.5h0m0 1h0m0.5 2.5h0m2-2h0m0.5 1h0m1 2h0m0.5-2.5h0m0.5 1.5h0m0-3.5h0m1.5 4.5h0m2-3.5h0m2 1.5h0m2 0.5h0m3.5-3.5h0m-119.5 9h0m5 2.5h0m3-0.5h0m1.5-2h0m38.5 1h0m0 2h0m1-2.5h0m1-1.5h0m4 2h0m1-1h0m1 2h0m1.5 1h0m0.5-3h0m0 0.5h0m0.5 0.5h0m1 1h0m0-3.5h0m1 1h0m0.5 2.5h0m0.5 0h0m1-4h0m1 5h0m5-2.5h0m0-2h0m3-1.5h0m0.5 5.5h0m0.5-1.5h0m1 1h0m0.5-3h0m2.5 1h0m0-1h0m1 0.5h0m1-0.5h0m0.5 3.5h0m5-1.5h0m0-2h0m0.5 3h0m3-3.5h0m2 2.5h0m2.5-2h0m0.5 1h0m0-1.5h0m1 2h0m0.5 1h0m2-1h0m0 0.5h0m0.5-3h0m1 2h0m0.5 1.5h0m2-3.5h0m1-1h0m0 3.5h0m2-2.5h0m1.5 0h0m3 2h0m0 1.5h0m0.5-1.5h0m0-1.5h0m0.5 3.5h0m1.5-3h0m1 2h0m0-1h0m0.5-2h0m1-0.5h0m1 4h0m0 0h0m0.5-2h0m1.5-1.5h0m0 1.5h0m0.5-1h0m2 2h0m1 0h0m3 1h0m0 1.5h0m1-2.5h0m1.5 0.5h0m1-1h0m1.5 0h0m1 2.5h0m0.5 0h0m-132.5 4h0m2.5-1h0m2-1.5h0m1 3.5h0m14-0.5h0m0.5-3.5h0m4 1.5h0m18 0h0m7-1.5h0m4.5 5.5h0m0-2h0m3-2.5h0m0.5 1.5h0m0 2.5h0m1-3h0m0-1h0m1 2.5h0m1.5 0.5h0m0-4.5h0m1.5 2.5h0m0 0h0m1.5-2h0m0.5 5.5h0m1-1h0m1-2h0m1 0.5h0m4.5-0.5h0m0 2h0m0.5-4.5h0m0 1h0m1 1.5h0m0.5-3h0m0 3h0m0.5-1.5h0m0.5-1.5h0m1 5h0m0-3h0m1-1h0m0 4.5h0m1 0h0m0-0.5h0m0.5-0.5h0m0.5-2h0m1 1.5h0m2 1.5h0m0.5-2h0m0 0h0m0.5 1h0m1-3.5h0m1.5 0.5h0m1.5 1h0m1.5-1.5h0m0 2.5h0m0-2h0m0 1.5h0m0.5-1.5h0m1 2h0m1-2h0m0 2.5h0m0-3.5h0m0.5 4.5h0m0 0h0m0.5 0.5h0m1.5-4h0m0 0h0m1.5 0h0m2 0h0m0.5 2h0m0-1h0m1 1h0m0.5-0.5h0m2.5 2.5h0m2.5-0.5h0m0-4h0m0 2h0m0.5-0.5h0m0.5 3h0m1.5-4h0m0.5 3h0m0.5-1h0m2-3.5h0m1 2h0m0-1h0m2-1h0m0 2h0m4 0h0m0 2h0m0.5-2.5h0m0 1.5h0m0.5 2h0m1 1h0m1-3.5h0m0.5 1.5h0m1.5 1.5h0m0-4.5h0m0 0h0m0.5 1.5h0m0-1.5h0m1 4.5h0m1.5-0.5h0m0.5-2.5h0m2 1.5h0m1-1h0m2 0h0m2-2h0m1 2h0m0 3h0m0.5-4.5h0m2.5 4h0m10 0h0m-140.5 3h0m1.5-2h0m3 1h0m8 3h0m1-3h0m2.5 0.5h0m2.5 3.5h0m7.5-5h0m6 3h0m9-0.5h0m1 2.5h0m3-1h0m3-3h0m0.5 4h0m0.5-4.5h0m1 5h0m0-5h0m2.5 0.5h0m1 2.5h0m3-2.5h0m4-1h0m1.5 0h0m0 1.5h0m2-1h0m0.5 1.5h0m0.5 1h0m0.5-2h0m1.5 0.5h0m3 1.5h0m0 1h0m3.5-1.5h0m0 1h0m0.5-3.5h0m0 4.5h0m0-1.5h0m3 2h0m0.5 0.5h0m1-0.5h0m0.5-2.5h0m0 0.5h0m1 1.5h0m0.5 0.5h0m1-1.5h0m1 0h0m1-4h0m1.5 5.5h0m0.5-2.5h0m0.5 2.5h0m3-2h0m0-1.5h0m1 3.5h0m0 0h0m0.5-3h0m0 0h0m0.5 2h0m0.5-3.5h0m1.5 2h0m2 1h0m1-3h0m1 4.5h0m0-1.5h0m2 1h0m0-1h0m5.5-3.5h0m0.5 5.5h0m0.5-0.5h0m0.5-5h0m2 4h0m0.5 1.5h0m0.5-3.5h0m1-2h0m0 2.5h0m0.5-1h0m0.5 2h0m0.5-2h0m1-1h0m0-0.5h0m1 5h0m0-5h0m0.5 2.5h0m1 1h0m0.5-0.5h0m2.5-1.5h0m0.5 3.5h0m3.5-4.5h0m1.5 3h0m1 0h0m1.5 0.5h0m0 1h0m3-5.5h0m1 1h0m0.5 0.5h0m2.5 2.5h0m2-3h0m-134.5 7h0m13.5-1.5h0m7.5 0.5h0m6.5-0.5h0m6.5 0.5h0m8 2h0m2.5 1.5h0m0.5 1h0m0.5-5h0m0.5 0h0m0 2h0m2-2h0m5.5 3.5h0m1-1.5h0m1.5 3h0m1.5-4h0m0 4h0m1-5.5h0m0.5 4h0m0.5-0.5h0m0 1h0m7 0h0m1-3h0m0.5 1.5h0m1 2h0m1-5h0m0.5 1h0m0 4h0m1 0h0m0.5-5h0m0.5 2h0m0 1.5h0m0-2.5h0m0.5 3h0m0 0h0m1-3h0m0.5 1h0m0 1h0m0.5 1h0m1 1.5h0m1.5-4.5h0m1-0.5h0m2.5 5h0m0.5-0.5h0m1-1.5h0m0.5 1h0m2-4h0m0.5 4.5h0m1-5h0m1.5 1h0m1 3.5h0m1-4h0m2.5 5.5h0m0-0.5h0m2-0.5h0m0 0h0m3-3.5h0m0 1h0m0-1.5h0m0.5-0.5h0m1.5 0.5h0m0.5 1.5h0m0-1.5h0m0 1h0m0.5-0.5h0m1 2h0m0.5-1h0m0.5-1h0m1 1h0m0 0h0m4.5 1.5h0m2.5-1.5h0m0 3h0m0 0h0m0.5-0.5h0m0.5-2.5h0m0 2.5h0m0 0h0m1-1.5h0m0-1h0m0.5 1.5h0m1-3h0m0.5 1.5h0m1.5 0.5h0m0.5-0.5h0m3.5-0.5h0m2 3h0m1 1h0m0.5-4.5h0m0 0h0m0 2.5h0m1-2.5h0m1 0h0m0 1h0m0.5 3h0m4-5.5h0m0.5 3.5h0m0.5 1h0m2.5-3h0m7 3.5h0m-135 2h0m1.5 3h0m0 0h0m1.5-2h0m1-1h0m12.5 0.5h0m8-1h0m5.5 2h0m1.5-2h0m1 3.5h0m2 1.5h0m0-1h0m0.5-2h0m1.5 1.5h0m1-3h0m1 4.5h0m0.5-5h0m2.5 3h0m2-1h0m1 0h0m1.5-0.5h0m0.5 3.5h0m0-1.5h0m1-2.5h0m0 4h0m0.5-1.5h0m1 1h0m0.5-1.5h0m0.5-2.5h0m0.5 0h0m1.5 1.5h0m0.5-2.5h0m1.5 2h0m1-1.5h0m1 4.5h0m1-0.5h0m1.5-1h0m2.5 1.5h0m2 0.5h0m0.5 0h0m3.5 0h0m2-0.5h0m1.5-3.5h0m1 3h0m0 0h0m0.5-2.5h0m1-2h0m0.5 0.5h0m0.5 1.5h0m0-1.5h0m1 2h0m0 2h0m0.5-3h0m0.5 1h0m1.5 2h0m0.5-1.5h0m2-1h0m0.5 3h0m0.5-3h0m0.5 2.5h0m2.5 1h0m1.5-5h0m0 4.5h0m0.5-4.5h0m1 2h0m1.5-2h0m0 2h0m0.5 3h0m2-3h0m0.5-1.5h0m1 3h0m2 0.5h0m0.5 1h0m1 0h0m1-2.5h0m0.5-1.5h0m0 0h0m2-1.5h0m0 3.5h0m0.5 2.5h0m0-1h0m2-2.5h0m0.5-2h0m0 4h0m2-4h0m0.5 1.5h0m4-1.5h0m1 4.5h0m2.5-2h0m0.5 2.5h0m0.5-2.5h0m0-0.5h0m1 2.5h0m1-3h0m2 0.5h0m0-0.5h0m0.5-0.5h0m1.5 3.5h0m0 0.5h0m0.5-3.5h0m0 0h0m0.5 2.5h0m0.5-4h0m1 4h0m1 0.5h0m0-4.5h0m0 0h0m1-0.5h0m5 3h0m1.5 1.5h0m-130.5 4.5h0m4 2h0m2.5-4.5h0m1 3.5h0m2.5-1.5h0m16 3h0m3-3h0m4 2.5h0m1 0h0m1-1h0m2-3.5h0m1 1h0m1-1h0m0 1h0m0 3.5h0m0-4h0m0 1h0m1.5-1.5h0m1.5 0h0m1 3.5h0m0 0h0m0.5-2h0m1 0h0m2 2.5h0m0-2.5h0m2 0h0m1 1.5h0m3.5 2h0m0.5-0.5h0m0.5-3.5h0m0.5 1.5h0m0 2h0m1.5-1h0m1.5 1.5h0m2.5-3h0m0 3h0m0.5-2.5h0m0.5 2.5h0m4-1.5h0m0.5-4h0m0 2.5h0m0.5-1h0m0-0.5h0m0 4h0m1 0.5h0m0-5h0m1 1h0m3 4.5h0m1-4.5h0m1.5 4h0m0-3h0m0.5 3h0m0.5-5.5h0m0 5h0m1-0.5h0m1.5 0h0m0.5 1h0m0.5-0.5h0m0.5-0.5h0m0 1.5h0m1.5-6h0m1.5 1h0m0 2h0m1.5 2h0m1-1.5h0m0.5 0.5h0m3 1h0m0-2h0m4.5-2h0m1.5 4.5h0m1-3h0m2-1h0m0.5 4.5h0m0-5.5h0m0 3h0m1-0.5h0m0 3h0m0-0.5h0m0-1h0m0.5 0h0m1-1h0m1 0.5h0m0-1h0m0.5-0.5h0m0 0h0m0 1h0m0.5-3h0m2.5-0.5h0m0.5 4h0m1 0h0m1.5-3.5h0m1 2.5h0m1 2.5h0m0 0h0m2.5 0.5h0m1.5-4h0m1.5-1.5h0m0.5 4h0m2.5 1h0m0-5h0m0.5 4.5h0m0-4.5h0m2 4.5h0m0-2.5h0m0-2h0m1.5 3.5h0m1 0h0m3-0.5h0m1 1h0m0.5-2h0m4-2.5h0m-127 9.5h0m9-2h0m19.5 3.5h0m0.5 1h0m1-6h0m4 2h0m2 2h0m1.5-2.5h0m0.5-1.5h0m1.5 2.5h0m0.5-0.5h0m1-2h0m0.5 1h0m1.5 4h0m0.5-1.5h0m1.5-1h0m0.5-1h0m1 0.5h0m2 1.5h0m0.5-1h0m0.5 3h0m3-4.5h0m2 4.5h0m0.5-1h0m0-3h0m0.5 3h0m0.5-4h0m1.5 2h0m1.5-2h0m0 4.5h0m2-4h0m1-0.5h0m0.5 3h0m0-1h0m1.5 3h0m1-1.5h0m0 1h0m0.5-4h0m1.5 4h0m0.5-1h0m0.5-1h0m0 0.5h0m0-1h0m0.5 2.5h0m0-1.5h0m1.5-1h0m0 1h0m0.5-3h0m0 2.5h0m0.5 2h0m2 1h0m0.5-1h0m0.5-2h0m0 2.5h0m0.5-1.5h0m0.5-2.5h0m0 2h0m0 0.5h0m0.5 0.5h0m3.5-3h0m0.5-1.5h0m0.5 0.5h0m2.5 3.5h0m1.5-1h0m1 1h0m0.5-1h0m1.5-2h0m0.5 4.5h0m1.5-4.5h0m0 1.5h0m3 3h0m0.5-4.5h0m1.5-0.5h0m0.5 5h0m1.5-0.5h0m0-3h0m1 2h0m0-1h0m0.5-2.5h0m1 1.5h0m0-1h0m0.5 0.5h0m2.5 3h0m1-4.5h0m0.5 3h0m0 1h0m2-3h0m1 0.5h0m0.5 1.5h0m1-2h0m2 0.5h0m0.5 3h0m0.5-4h0m0 4.5h0m1.5-3h0m0.5 3.5h0m0-1.5h0m0.5-3.5h0m0.5 3.5h0m0.5 1h0m0.5-2.5h0m1.5 0.5h0m2 2.5h0m3-4.5h0m0.5 1.5h0m0 2h0m0.5-0.5h0m0.5-2h0m3 1.5h0m-138 5h0m0.5 2h0m1.5 0.5h0m4.5-2h0m0 2h0m10 0h0m2-0.5h0m8-1.5h0m2-1h0m0.5 0h0m1.5 0.5h0m0.5 1.5h0m2-2.5h0m4 2.5h0m2.5 1.5h0m2-4.5h0m4.5 3h0m0-0.5h0m0.5-3h0m1.5 4h0m1-1h0m0.5 1h0m2 0h0m0 1h0m1.5-1.5h0m0 1h0m2.5-1.5h0m0.5-1.5h0m1 2.5h0m1 1h0m0.5-3.5h0m0.5 0h0m0.5 1h0m0.5 0.5h0m0.5-2.5h0m0.5 3.5h0m0-4h0m1 5h0m0.5-1h0m0.5 1h0m1-0.5h0m2-1h0m0-3h0m0.5 0h0m0.5 5h0m1.5-1.5h0m0.5-2.5h0m1.5 1.5h0m1 0.5h0m0-0.5h0m1 1h0m0.5 0.5h0m2.5-0.5h0m2-0.5h0m0-2.5h0m3.5 1h0m0.5 2.5h0m0.5-0.5h0m0.5-2h0m1-0.5h0m0 1.5h0m0 2.5h0m3.5 0h0m0.5-2.5h0m2.5-1.5h0m1.5 3.5h0m2.5-0.5h0m0 0.5h0m2.5-3h0m2-1.5h0m1 0.5h0m2 2.5h0m0.5 0h0m3-3.5h0m0 5.5h0m0.5-1.5h0m0.5-2h0m0 3h0m0.5 0h0m3-0.5h0m0-0.5h0m1-4h0m0.5 2h0m0 1h0m0.5 2.5h0m1.5-5h0m1 4.5h0m0.5-5h0m0 2h0m2.5-0.5h0m1.5 3h0m1.5-3h0m2 2h0m1-1.5h0m0.5 0.5h0m0.5 3h0m1.5-3h0m0-2h0m1.5 4.5h0m2-1h0m0.5-0.5h0m0 2h0m2.5-4h0m4.5 0.5h0m-134.5 4h0m7.5 0h0m2 2.5h0m15-1h0m12.5-2h0m7 0h0m2 2.5h0m1-1h0m1.5 3.5h0m1.5-3h0m2-0.5h0m0.5 4.5h0m0.5-4h0m0.5 0h0m5 2.5h0m3-4h0m0.5 3.5h0m0.5-1.5h0m1-1.5h0m0.5-1h0m2 6h0m0-1h0m0 0.5h0m0-2.5h0m1 0h0m0-1h0m1.5 3.5h0m0-2h0m2 2h0m1.5-1h0m0-3h0m0 4h0m3-1h0m0.5-4.5h0m0 2.5h0m0.5 1.5h0m0-2h0m1.5 3.5h0m0.5-5h0m0 2h0m0.5-1h0m0 1.5h0m0.5 1h0m0.5-2.5h0m0 3h0m0.5-3h0m2 0.5h0m0.5 1h0m0.5 0h0m0.5-2.5h0m2.5 2.5h0m0.5-2h0m0.5 5h0m3-2h0m0.5-2.5h0m1 4h0m0 0h0m1-0.5h0m3-1h0m1-2h0m0.5 2.5h0m1-1h0m0.5-2h0m3.5 0.5h0m1 3h0m1.5-0.5h0m0.5 1h0m0-3h0m0-2h0m0 4.5h0m1-2h0m0.5 1.5h0m0.5-2h0m0 3.5h0m0.5-0.5h0m0 0.5h0m2-4h0m0 1h0m1-1h0m0.5 2h0m0-2.5h0m2 0.5h0m2 1h0m0.5 2.5h0m0-5.5h0m1 4h0m0.5 0h0m1-1h0m1.5 0.5h0m0.5-1h0m2 0.5h0m1 2.5h0m0.5 0.5h0m3.5-1h0m2-4h0m0 1.5h0m3 0.5h0m1.5 2h0m-138 5h0m44.5-4h0m2 6h0m3-1.5h0m1.5-0.5h0m0 0h0m3-3.5h0m4.5 2h0m2-2h0m1 3.5h0m1-0.5h0m0.5-1h0m0.5 0h0m1 1.5h0m2-2h0m1 3h0m1-0.5h0m2-2h0m0 2h0m1 0h0m0.5 1h0m2.5-3h0m0 0h0m1.5 0h0m1 3.5h0m1.5-2h0m1-1.5h0m0.5 1h0m0.5-1.5h0m1.5 2.5h0m2 1.5h0m1-1.5h0m0.5-2h0m3.5 1h0m1.5-2h0m0.5 0h0m0.5-0.5h0m1 1h0m0.5-2h0m0 3.5h0m0 1h0m1-0.5h0m1-2h0m2 2h0m0.5 1h0m0-2h0m0.5-1h0m0-1h0m0 1.5h0m0.5 1.5h0m0.5-1.5h0m0.5-0.5h0m1 0.5h0m0.5-2.5h0m0.5 1h0m1 3.5h0m3.5 1h0m0-3.5h0m1 2.5h0m0 0h0m2-3h0m5.5-1h0m0 1.5h0m1 2.5h0m0.5 0h0m1.5 0h0m0.5-1.5h0m0-2h0m0.5 0h0m0 0.5h0m0 0h0m0.5 0h0m1 0h0m0.5 0.5h0m5 0.5h0m2 0h0m0.5 3h0m0-2h0m2 0.5h0m0-3h0m0.5 1h0m1 1.5h0m2.5-2.5h0m-123 7.5h0m5 0.5h0m1 2h0m36-4h0m2 4.5h0m1-3h0m3.5 1.5h0m0.5-2h0m2-1.5h0m0 5h0m1.5-3h0m0-0.5h0m1.5 4h0m1-2h0m2-1.5h0m0-0.5h0m0.5 2.5h0m1-2h0m0 0h0m2.5-2h0m0 0.5h0m0.5 1h0m0 1h0m0.5-0.5h0m1 2h0m0.5-2h0m0 3.5h0m0-3h0m3-1.5h0m1-1h0m0.5 0h0m2 2.5h0m2.5-2.5h0m0 4h0m0.5 0h0m2-4h0m1.5 2.5h0m0 0.5h0m0-0.5h0m1-1h0m1.5 2h0m1.5-2.5h0m2 0h0m2 3.5h0m2.5-1.5h0m1-2h0m0 2.5h0m0.5-4h0m2 2.5h0m0.5-2h0m0.5 3h0m0.5-3.5h0m2 1h0m0.5 0h0m1 4.5h0m0-1.5h0m0-1h0m1 1h0m0.5-0.5h0m0 2h0m0.5-0.5h0m1.5-2h0m0 1.5h0m0.5-3.5h0m0 2h0m0-1h0m3-1h0m0.5 1h0m2-1.5h0m0.5 3h0m0 1h0m0.5-1.5h0m0 0h0m0.5-2.5h0m0 5h0m1.5-4h0m2.5 0.5h0m1.5 0h0m1 1.5h0m0.5-2h0m1 1.5h0m0 1.5h0m2-2h0m0 3h0m0.5-5h0m3.5 2h0m1.5-1.5h0m1 5h0m-118.5 5h0m4 0.5h0m1-4.5h0m1 2h0m14 2h0m20-3.5h0m1.5 1.5h0m3.5-3h0m1 4h0m3 1.5h0m0.5-5.5h0m4.5 1h0m0.5 2h0m1 0h0m0.5 1h0m0-0.5h0m0.5 0.5h0m0.5 1.5h0m0.5-3.5h0m0.5 3.5h0m0-3.5h0m0.5 2.5h0m0.5-4h0m1 2.5h0m0.5 2.5h0m0.5-0.5h0m0.5-1h0m0 2h0m1.5-1.5h0m3 0.5h0m4-3.5h0m1.5 4.5h0m0.5-1h0m0.5 0.5h0m0.5-1.5h0m0 1.5h0m2-0.5h0m1-3h0m1 1h0m0 2h0m1.5-1h0m0.5-2.5h0m0.5 2.5h0m1.5-3.5h0m2.5 0.5h0m1.5 1h0m1 1h0m1.5-2h0m0.5 3.5h0m0.5-1h0m0-2.5h0m1.5 1.5h0m1 2.5h0m1-4.5h0m0 4h0m2-1h0m1-2.5h0m2.5 4.5h0m0.5 0h0m1.5-3.5h0m0-1.5h0m2.5 0.5h0m4 0.5h0m0.5-1h0m0.5 0.5h0m3 2.5h0m3.5 0.5h0m-92 3h0m1.5 1h0m20 0.5h0m2.5 3h0m1.5-3h0m0.5-1h0m0 1.5h0m5.5-1h0m5 1h0m0.5-2.5h0m2.5-0.5h0m2 3.5h0m1.5-2h0m1 3h0m0-3h0m1 3h0m1 0h0m2-0.5h0m0.5-0.5h0m3-3.5h0m0 2h0m0.5 0h0m1.5 1h0m0-1h0m0.5 0h0m1.5 0.5h0m0.5 2h0m0.5-0.5h0m0.5 1h0m1-4.5h0m2.5 5h0m1-4h0m3.5 1h0m0.5-1.5h0m0 0.5h0m1.5 0h0m1.5 2h0m0.5-1.5h0m0.5 1h0m0.5-0.5h0m0.5 1h0m0.5-3h0m0.5 5h0m0-5h0m0 3h0m2-3h0m2 0.5h0m1 1h0m2.5 2.5h0m1-3h0m2.5-1h0m4.5 1.5h0m-101.5 5h0m5.5-1h0m43.5 0.5h0m7.5 3h0m0.5-3h0m3 3.5h0m0.5-2h0m0.5 4h0m0.5-1.5h0m0-2.5h0m2.5 0.5h0m1.5-1.5h0m1-1h0m0.5 4h0m1-3.5h0m4.5 1h0m2.5-1h0m3 1.5h0m0.5 0h0m1.5-1h0m-100.5 7h0m38.5 0h0m39 3.5h0m1-0.5h0m1.5-4.5h0m5 3h0m0-2h0m0 3h0m1-4.5h0m0 0.5h0m-12.5 9h0m3.5 2h0m0-2.5h0m0.5 0.5h0m-15 3.5h0m2.5 0.5h0m0.5 1h0m0 2h0m3.5 1.5h0m1-5h0m0.5 4h0m1 0.5h0m0.5-5.5h0m0 0.5h0m1 4h0m1 1.5h0m2-3.5h0m0.5 0.5h0m1-0.5h0m0.5 2h0m2-3.5h0m1.5-0.5h0m-17.5 8.5h0m0 2h0m1-3h0m1.5 3.5h0m2-4.5h0m0.5 2.5h0m3 0.5h0m1-3h0m7 1.5h0m-17.5 8h0m2 0.5h0m1.5 1h0m2.5-5.5h0m3 0h0m0.5 1h0m2-0.5h0m2 4.5h0m1-2.5h0m2.5-0.5h0m0.5 3h0m-18.5 4h0m1-0.5h0m0.5 1.5h0m2 0h0m1-2.5h0m2.5-0.5h0m1.5-1h0m1 5h0m0 0.5h0m2 0h0m3.5-3h0m-14.5 4h0m3.5 0h0m4.5 1h0m-14 8h0m0.5-2.5h0m8-1h0m0 0h0m1.5-0.5h0m2.5 0.5h0m-5.5 6.5h0" stroke="#de3325" stroke-width="1.6" stroke-linecap="round" fill="none"/><path d="M1666 1716h0m15.5 1.5h0m38.5-1h0m20-1h0m5.5 2h0m5-0.5h0m0.5 1h0m-85 5.5h0m3-3.5h0m5 2h0m23.5 2.5h0m26-4.5h0m6 1h0m4.5 2.5h0m2-2.5h0m2 0h0m5-2h0m1.5 1h0m-78.5 6h0m8.5 5h0m3.5-4.5h0m1-0.5h0m5.5 2h0m15 3h0m1-6h0m1 4h0m6 1.5h0m0.5 0h0m1-4h0m9.5 3h0m4.5-0.5h0m14.5-0.5h0m0.5 2h0m0-2h0m0.5-0.5h0m3.5 2.5h0m1.5-3.5h0m1.5-0.5h0m3.5 1h0m-76 6.5h0m5 1.5h0m0.5-2.5h0m3.5 0.5h0m6.5 3h0m3-2h0m5-3h0m15.5 0h0m0.5 5.5h0m6.5-4h0m0.5 1h0m1-2.5h0m5 0h0m6 5.5h0m1-6h0m3.5 1h0m0.5 4h0m0 0.5h0m2.5-1.5h0m1 0h0m1-2h0m0.5-1.5h0m1.5 0.5h0m0.5 1h0m0.5 0.5h0m0.5 0.5h0m1 0h0m1.5-1.5h0m-82.5 5h0m5 4h0m10-0.5h0m2-2.5h0m3.5-1h0m11-0.5h0m4 2h0m8.5-1h0m5.5 5h0m17.5-4h0m1-1h0m1 3.5h0m2.5 1h0m0.5-2h0m0.5-2h0m0.5 4.5h0m0.5-4h0m1-2h0m0.5 4.5h0m6-2h0m1 2h0m1 0h0m-85.5 2.5h0m1.5-1h0m18 1.5h0m2.5 0h0m4.5 3h0m20 1h0m9-2.5h0m12 2.5h0m0.5-2.5h0m1-0.5h0m1.5 0.5h0m0.5 2.5h0m0.5-2h0m1-2.5h0m0.5 4.5h0m1.5-4h0m1 3h0m0.5-1h0m3.5 0.5h0m0.5-0.5h0m-81 4.5h0m17-1h0m5 4h0m11.5-1h0m2.5 1h0m9.5-1h0m7.5-3h0m10 2h0m1-1h0m3-0.5h0m2.5-0.5h0m0 3.5h0m1.5-2h0m1 2.5h0m0 0.5h0m3.5-4h0m0.5 2.5h0m1-2h0m0.5-0.5h0m5 0h0m4.5-1.5h0m-87 8.5h0m0 2.5h0m0-4h0m11.5 3.5h0m4 1h0m1.5-1h0m4-3.5h0m5.5 3h0m7-3h0m6 4.5h0m16-0.5h0m4.5-2h0m3 1h0m3-1.5h0m0.5 0.5h0m0-1h0m0.5 2h0m0 0h0m0.5-1h0m0-1.5h0m1-1h0m3 3.5h0m0-0.5h0m2-1h0m3.5-1.5h0m1 0h0m-65.5 6.5h0m1 0h0m2 3h0m5-4.5h0m5.5 4.5h0m6 0h0m7.5-3h0m4 3h0m1 0h0m4 1.5h0m4-0.5h0m4.5 0.5h0m1-4.5h0m3.5 0.5h0m1.5-0.5h0m0 2h0m1 1.5h0m1.5-2.5h0m0-0.5h0m2 1.5h0m2.5-1h0m1 1h0m1 0.5h0m-66.5 7h0m2.5-1h0m6-2.5h0m6.5 0.5h0m4.5-0.5h0m0.5 3h0m9 1.5h0m2-2h0m5-1h0m0.5 0.5h0m7-1.5h0m2.5-0.5h0m1 1.5h0m3.5 2h0m2.5-3.5h0m4 2h0m1 1h0m1-0.5h0m0 0h0m1-3h0m2.5 2h0m0.5-2.5h0m0.5 0.5h0m2.5 4.5h0m4.5-5h0m7 0.5h0m-79 5.5h0m5.5 0.5h0m4.5 2h0m2 1h0m2 0.5h0m7.5 0h0m4-1.5h0m4.5-2.5h0m2 1h0m0.5-1.5h0m1.5 6h0m0-4h0m5.5-1.5h0m0 2h0m0.5 0.5h0m0.5-0.5h0m1 0.5h0m0-1h0m2 0.5h0m3 3h0m0.5-3.5h0m1-1h0m0 2h0m0-2h0m0.5 4h0m1-1h0m1 0h0m0-1h0m3-1h0m1-1h0m1.5 0h0m1 3.5h0m0.5-2h0m2.5 3h0m3.5 0h0m1.5-5h0m0.5 4h0m0-0.5h0m0 0.5h0m1-1.5h0m14.5 0h0m-71 8.5h0m13.5-1.5h0m0.5-3h0m1 1.5h0m3 0.5h0m3 2h0m3-3.5h0m0 4h0m0 0.5h0m1-5.5h0m1 1h0m4.5 2h0m0.5-3.5h0m2 3.5h0m0.5-3.5h0m0.5 1h0m1.5 4.5h0m0.5-1h0m2 1.5h0m0.5-5h0m0.5 2.5h0m0 0.5h0m0.5 1h0m0-1h0m3.5-1h0m0.5-2.5h0m0.5 3h0m1-3h0m0.5 2h0m0 1h0m0.5 1h0m0.5 1h0m1 0h0m0-2h0m1-2h0m0.5 0h0m0.5 1h0m1 0.5h0m1-1h0m1.5 2h0m1 1.5h0m4-4.5h0m0 1.5h0m1.5 2h0m3 0h0m0-1h0m2-3h0m9 4h0m-67 3h0m0.5 3h0m6.5 0.5h0m2-4.5h0m0-0.5h0m6 1.5h0m0.5 4h0m2-1h0m0 1h0m0-5h0m0.5 1h0m1 4.5h0m1-2.5h0m2-1h0m0 1.5h0m0.5-2h0m0.5-1h0m1-0.5h0m0.5 5h0m0.5-3h0m0.5-1h0m0-1.5h0m0 3h0m1 2.5h0m3.5-2.5h0m1.5 3h0m0-4.5h0m1 2h0m1.5-1.5h0m0 3h0m1-3.5h0m0 1h0m0.5 2h0m0 0h0m0.5-4h0m0.5 4.5h0m0-0.5h0m0.5-1.5h0m2 0h0m0.5 1.5h0m0-4h0m0.5 5h0m1.5-1.5h0m0-2h0m0 1h0m2-1h0m2 0h0m2 2h0m0-3h0m2.5 1h0m2-1.5h0m1.5 4h0m1.5-3.5h0m0 2.5h0m1.5 1h0m5.5-0.5h0m6-2h0m-73 9h0m1.5-0.5h0m5.5-3h0m0 4h0m4.5-4h0m3.5-1h0m1 0.5h0m3.5 0.5h0m1 2.5h0m1-2.5h0m0.5 1h0m0.5 1.5h0m1-1.5h0m0 2h0m1.5 1.5h0m0.5-2h0m0-3h0m0.5 1h0m1 2.5h0m0.5 1.5h0m0.5-2.5h0m0.5-2.5h0m0 5h0m0.5-4h0m0 2.5h0m0.5-1.5h0m1.5 1.5h0m0-0.5h0m1-1h0m0 1.5h0m0.5-1h0m2.5 0h0m0-1h0m0.5 2.5h0m0-4.5h0m0.5 3.5h0m1.5 0h0m0-2h0m0.5 3h0m0.5-2h0m0.5 2.5h0m0.5-4h0m0.5 0.5h0m0-0.5h0m0-0.5h0m0-0.5h0m0 0h0m0 2h0m2-0.5h0m0.5-1h0m0.5 4h0m1 0h0m1-5h0m0.5 4h0m0.5 1.5h0m1-4.5h0m0.5 3h0m2-1h0m0.5-2h0m0.5 1.5h0m1 3.5h0m0-0.5h0m0.5-3.5h0m1.5 2.5h0m0.5-0.5h0m2.5-1.5h0m2 0h0m0.5 2h0m1-0.5h0m0 0h0m-61.5 7h0m10-5h0m8 3.5h0m2 0.5h0m0 0h0m1-0.5h0m0.5 0h0m0.5 0.5h0m2-0.5h0m1 0h0m0.5 0.5h0m0.5-3.5h0m1.5 4h0m0-4h0m0 4.5h0m0.5-3h0m0 0.5h0m1-1h0m1 0.5h0m0 1.5h0m0-0.5h0m0.5-2.5h0m0 5.5h0m0-2h0m1-4h0m0 1.5h0m0.5-0.5h0m1.5-0.5h0m1 5.5h0m1.5-1.5h0m0.5 1h0m0.5-3h0m0.5-0.5h0m2 0.5h0m0-2.5h0m0.5 4.5h0m0.5-3.5h0m0 1.5h0m0.5 0h0m0 1.5h0m0-3.5h0m0 2.5h0m1 2.5h0m0.5-0.5h0m0-4.5h0m0.5 2.5h0m0 0h0m0-2h0m0.5 4h0m0-4h0m1.5-0.5h0m1.5 4h0m7-4h0m0 5.5h0m0.5-5.5h0m0.5 2.5h0m0 3h0m1.5-6h0m0 4h0m1-0.5h0m3.5 2h0m2.5-2h0m1-3h0m2.5 2.5h0m1.5 0.5h0m0.5-2h0m2 3.5h0m-53 5.5h0m1.5-2.5h0m6 0h0m0.5-1h0m0.5 4h0m0.5-3h0m1.5 0h0m0.5 1.5h0m3-1.5h0m0-1.5h0m1 0h0m0.5 2h0m0 1.5h0m0.5-1.5h0m0-2.5h0m0.5 4.5h0m1.5-3.5h0m0.5-0.5h0m0 4.5h0m0-4h0m0.5 3.5h0m0.5-3h0m0 1.5h0m1-2.5h0m0.5 1.5h0m1 1.5h0m0.5-2h0m0.5 2h0m0 0h0m0.5 0.5h0m0.5-1.5h0m0 2h0m1-2h0m0.5 0h0m0-2.5h0m1 1.5h0m0 3h0m0-2.5h0m1 1.5h0m0-0.5h0m2-2h0m0 1h0m1 2.5h0m1-3.5h0m0.5 1h0m1-0.5h0m0 3.5h0m0.5-0.5h0m0-2.5h0m1-2h0m0.5 6h0m2 0h0m1-1h0m3.5 0.5h0m0.5-4h0m0.5-1h0m1 4.5h0m4.5 0h0m1.5-3h0m3-0.5h0m-59.5 5h0m8.5 5h0m0 0h0m2-4h0m3 2.5h0m0.5-3.5h0m1 1h0m2.5 2.5h0m0.5 1.5h0m6-4.5h0m0-1h0m1 2.5h0m0 1h0m0.5 2h0m0.5-1h0m1 1h0m1.5-4.5h0m2.5-0.5h0m0 1.5h0m0.5 1h0m1.5-2h0m2.5-1h0m0 4.5h0m2-0.5h0m2-3h0m1.5-0.5h0m2 3.5h0m0.5 1h0m1 0.5h0m1-2.5h0m2-3h0m14.5 2h0m1-1h0m4-1h0m-72.5 7h0m22.5 1h0m4 1h0m2 2h0m2.5-5h0m1 2h0m2 0.5h0m2.5 3h0m0-2h0m2.5-2.5h0m9-0.5h0m2 5h0m1 0h0m-25.5 3h0m2 2.5h0m18-3.5h0" stroke="#f4cd2e" stroke-width="1.6" stroke-linecap="round" fill="none"/></g><g font-size="10.5" fill="#1c2333" text-anchor="middle" stroke="#fff" stroke-width="1.6" paint-order="stroke" stroke-opacity="0.6"><text x="1569.4" y="1641.5">1</text><text x="1769.3" y="1632">2</text><text x="1714.2" y="1792.3">3</text></g><path d="M1438.5 1815V1854.6H1478" fill="none" stroke="#111" stroke-width="1.6"/><polygon points="1438.5,1802 1447,1817 1430,1817" fill="#111"/><polygon points="1491.5,1854.6 1476.5,1846.3 1476.5,1863" fill="#111"/><text transform="translate(1437.37 1883.80) scale(0.9984 1)" font-size="28.2">umap 1</text><text transform="translate(1422.30 1858.62) rotate(-90) scale(0.9933 1)" font-size="28.2">umap 2</text></g>
<g id="panel-g"><text x="-0.5" y="1955.9" font-size="43" font-weight="700">g</text><line x1="111.3" y1="2372.2" x2="842" y2="2372.2" stroke="#d9d9d9" stroke-width="1.2"/><line x1="111.3" y1="2276.1" x2="842" y2="2276.1" stroke="#d9d9d9" stroke-width="1.2"/><line x1="111.3" y1="2179.9" x2="842" y2="2179.9" stroke="#d9d9d9" stroke-width="1.2"/><line x1="111.3" y1="2083.8" x2="842" y2="2083.8" stroke="#d9d9d9" stroke-width="1.2"/><g fill="none" stroke-width="1.6" stroke-linejoin="round"><polyline points="115,2148.6 122.3,2102.8 129.6,2075.7 136.9,2064.7 144.2,2052.3 151.5,2043.1 158.8,2038 166.1,2032.9 173.4,2026.8 180.7,2024.7 188,2022.6 195.3,2019.8 202.6,2018.1 209.9,2015.1 217.2,2014.1 224.5,2013.2 231.8,2012.2 239.2,2011.6 246.5,2010.3 253.8,2009.6 261.1,2007.9 268.4,2007.3 275.7,2006 283,2005.5 290.3,2004.9 297.6,2005 304.9,2003.7 312.2,2003.4 319.5,2002.5 326.8,2001.9 334.1,2001.6 341.4,2000.6 348.7,2000 356,1999.6 363.3,1998.8 370.6,1998.5 377.9,1998.8 385.2,1998.1 392.5,1997.7 399.8,1997.4 407.1,1997 414.4,1996.6 421.7,1996.3 429,1996.1 436.3,1996 443.6,1995.8 450.9,1995.7 458.2,1995.6 465.5,1995.1 472.9,1996 480.2,1995.9 487.5,1995 494.8,1994.8 502.1,1995.2 509.4,1994.2 516.7,1994.2 524,1993.7 531.3,1993.6 538.6,1993.5 545.9,1993.7 553.2,1993.2 560.5,1993.1 567.8,1993 575.1,1992.8 582.4,1992.7 589.7,1992.6 597,1992.1 604.3,1992 611.6,1992.2 618.9,1991.7 626.2,1992.7 633.5,1992.6 640.8,1991.7 648.1,1991.6 655.4,1991.5 662.7,1991.3 670,1991.2 677.3,1991.4 684.6,1991.7 691.9,1990.8 699.2,1990.7 706.6,1990.9 713.9,1990.7 721.2,1990.9 728.5,1990 735.8,1989.9 743.1,1989.7 750.4,1989.6 757.7,1990.1 765,1989.3 772.3,1989.5 779.6,1988.9 786.9,1988.4 794.2,1989 801.5,1988.5 808.8,1988.7 816.1,1987.8 823.4,1988 830.7,1988.2 837.9,1987.6" stroke="#ffc000"/><polyline points="115,2198.6 122.3,2187.8 129.6,2177.8 136.9,2166.3 144.2,2157 151.5,2148.6 158.8,2139.8 166.1,2132 173.4,2125 180.7,2117.4 188,2110.5 195.3,2105.8 202.6,2100.3 209.9,2095.9 217.2,2094.1 224.5,2091.5 231.8,2089 239.2,2087.9 246.5,2085 253.8,2082.8 261.1,2079 268.4,2074.5 275.7,2069.2 283,2064.4 290.3,2059.5 297.6,2055.7 304.9,2052.7 312.2,2050.2 319.5,2047.3 326.8,2044.3 334.1,2042.4 341.4,2041.4 348.7,2038.6 356,2037.3 363.3,2035.6 370.6,2034.6 377.9,2032.2 385.2,2030.5 392.5,2028.8 399.8,2027.1 407.1,2026.7 414.4,2024.8 421.7,2024.4 429,2023.2 436.3,2021.3 443.6,2020.5 450.9,2019 458.2,2018.6 465.5,2016.7 472.9,2015.6 480.2,2014.1 487.5,2012.9 494.8,2012.8 502.1,2011.7 509.4,2011 516.7,2011.1 524,2009.3 531.3,2009 538.6,2008.3 545.9,2008 553.2,2007.6 560.5,2006.6 567.8,2005.6 575.1,2004.8 582.4,2004.8 589.7,2003.4 597,2003 604.3,2001.9 611.6,2001.2 618.9,2000.4 626.2,2000.4 633.5,1998.6 640.8,1998.3 648.1,1998.2 655.4,1997.1 662.7,1996.1 670,1995.8 677.3,1995.8 684.6,1995 691.9,1994.7 699.2,1994.3 706.6,1994.3 713.9,1993.6 721.2,1993.2 728.5,1993.2 735.8,1992.1 743.1,1992.1 750.4,1991.4 757.7,1991.8 765,1991.5 772.3,1991.6 779.6,1991.4 786.9,1990.5 794.2,1990.6 801.5,1990 808.8,1989.8 816.1,1989.9 823.4,1989.6 830.7,1989 837.9,1987.6" stroke="#4472c4"/><polyline points="115,2179.5 122.3,2134.1 129.6,2103.9 136.9,2085.6 144.2,2068.5 151.5,2056.1 158.8,2054.6 166.1,2053.1 173.4,2051.9 180.7,2050.7 188,2049.9 195.3,2048.4 202.6,2046.9 209.9,2045.8 217.2,2045.2 224.5,2044.9 231.8,2044.3 239.2,2043.7 246.5,2043.8 253.8,2042.1 261.1,2042.6 268.4,2041.2 275.7,2040.6 283,2040.1 290.3,2039.4 297.6,2040.1 304.9,2039.7 312.2,2038.7 319.5,2038.6 326.8,2037.9 334.1,2038.3 341.4,2037.9 348.7,2036.8 356,2036.5 363.3,2036.8 370.6,2035.7 377.9,2035.1 385.2,2035.3 392.5,2035.5 399.8,2034.6 407.1,2034.8 414.4,2034.7 421.7,2035.2 429,2034.4 436.3,2034.6 443.6,2034.1 450.9,2033.6 458.2,2034.5 465.5,2034.3 472.9,2033.5 480.2,2033.3 487.5,2033.1 494.8,2033.4 502.1,2032.2 509.4,2032.3 516.7,2031.4 524,2030.5 531.3,2029.9 538.6,2030.1 545.9,2029.2 553.2,2028.3 560.5,2027.7 567.8,2026.8 575.1,2026.6 582.4,2025.7 589.7,2025.5 597,2024.9 604.3,2024.4 611.6,2024.2 618.9,2023.2 626.2,2023.4 633.5,2022.1 640.8,2022.3 648.1,2021.7 655.4,2021.2 662.7,2020.2 670,2019.3 677.3,2018.3 684.6,2017.7 691.9,2017.1 699.2,2017.6 706.6,2016.6 713.9,2015.6 721.2,2014.7 728.5,2014.1 735.8,2014.5 743.1,2013.2 750.4,2013.3 757.7,2012 765,2011.4 772.3,2010.8 779.6,2009.8 786.9,2009.9 794.2,2008.6 801.5,2009 808.8,2007.3 816.1,2006 823.4,2005.4 830.7,2003.3 837.9,1987.6" stroke="#9dc3e6"/><polyline points="115,2073.6 122.3,2070.1 129.6,2065.8 136.9,2060.9 144.2,2060.2 151.5,2059.1 158.8,2058.4 166.1,2057.6 173.4,2056.9 180.7,2056.2 188,2055.5 195.3,2055 202.6,2054.8 209.9,2053.9 217.2,2053 224.5,2052.8 231.8,2052.6 239.2,2052 246.5,2051.1 253.8,2050.9 261.1,2050.7 268.4,2049.1 275.7,2048.9 283,2048.2 290.3,2048.3 297.6,2048.1 304.9,2048.7 312.2,2047.8 319.5,2047.6 326.8,2047.4 334.1,2047.6 341.4,2047 348.7,2047.2 356,2046.7 363.3,2047.2 370.6,2046 377.9,2046 385.2,2045.5 392.5,2044.6 399.8,2044.1 407.1,2043.9 414.4,2043.4 421.7,2042.8 429,2041.9 436.3,2041.4 443.6,2041.2 450.9,2040.3 458.2,2040.2 465.5,2039.6 472.9,2039.1 480.2,2038.9 487.5,2038.4 494.8,2037.2 502.1,2037.8 509.4,2036.2 516.7,2036.1 524,2035.9 531.3,2035.1 538.6,2034.6 545.9,2033.7 553.2,2034 560.5,2032.8 567.8,2033 575.1,2032.1 582.4,2031.6 589.7,2030.8 597,2030.7 604.3,2030.2 611.6,2030.4 618.9,2029.1 626.2,2028.8 633.5,2027.9 640.8,2027.3 648.1,2026.3 655.4,2025.7 662.7,2025.1 670,2024.8 677.3,2024.2 684.6,2024.3 691.9,2022.7 699.2,2022.8 706.6,2022.2 713.9,2021.5 721.2,2020.6 728.5,2020.3 735.8,2019.4 743.1,2019.1 750.4,2018.9 757.7,2017.8 765,2016.6 772.3,2015.1 779.6,2013.6 786.9,2012.4 794.2,2011.6 801.5,2011.1 808.8,2009.2 816.1,2008.4 823.4,2006.9 830.7,2006.1 837.9,1987.6" stroke="#f4b183"/><polyline points="115,2141.4 122.3,2126.8 129.6,2115.7 136.9,2107.7 144.2,2100 151.5,2092.9 158.8,2089.5 166.1,2086.4 173.4,2082.7 180.7,2079.2 188,2077.3 195.3,2074.8 202.6,2074 209.9,2072.2 217.2,2070.7 224.5,2069.3 231.8,2067.8 239.2,2067.5 246.5,2066.5 253.8,2066.2 261.1,2064.9 268.4,2064.3 275.7,2064.1 283,2063.4 290.3,2063.2 297.6,2062.2 304.9,2061.6 312.2,2061.4 319.5,2060.4 326.8,2059.8 334.1,2059.9 341.4,2058.6 348.7,2058 356,2057.7 363.3,2056.4 370.6,2056.5 377.9,2055.2 385.2,2055.8 392.5,2054.3 399.8,2054.9 407.1,2053.8 414.4,2053.3 421.7,2052.8 429,2052.4 436.3,2051.9 443.6,2051.1 450.9,2051.7 458.2,2050.6 465.5,2049.7 472.9,2049.6 480.2,2049.9 487.5,2048.4 494.8,2048.2 502.1,2048.1 509.4,2047.2 516.7,2046.7 524,2046.9 531.3,2046.3 538.6,2044.7 545.9,2044.6 553.2,2044.1 560.5,2043.5 567.8,2043 575.1,2042.1 582.4,2042.3 589.7,2042.2 597,2040.9 604.3,2041.1 611.6,2039.5 618.9,2039.3 626.2,2038.7 633.5,2038.5 640.8,2038 648.1,2036.7 655.4,2036.2 662.7,2036.7 670,2036.1 677.3,2035.6 684.6,2035 691.9,2034 699.2,2033.2 706.6,2032.5 713.9,2031.8 721.2,2031.4 728.5,2030.7 735.8,2029.2 743.1,2028.5 750.4,2028.1 757.7,2027 765,2026.3 772.3,2025.6 779.6,2025.6 786.9,2023.3 794.2,2020.5 801.5,2018.8 808.8,2017.4 816.1,2015 823.4,2012.6 830.7,2010.5 837.9,1987.6" stroke="#264478"/><polyline points="115,2191.4 122.3,2175.3 129.6,2159.5 136.9,2143.7 144.2,2134.5 151.5,2127.9 158.8,2120.2 166.1,2114.4 173.4,2110.4 180.7,2106.4 188,2101.3 195.3,2096.9 202.6,2094 209.9,2091.1 217.2,2088.9 224.5,2085.2 231.8,2082.3 239.2,2080 246.5,2077.8 253.8,2076.3 261.1,2073.4 268.4,2071.3 275.7,2069.8 283,2067.6 290.3,2066.1 297.6,2065.4 304.9,2064.7 312.2,2063.2 319.5,2061.8 326.8,2060.7 334.1,2059.6 341.4,2058.5 348.7,2057 356,2056.9 363.3,2054.8 370.6,2054.2 377.9,2052.1 385.2,2050.8 392.5,2050.2 399.8,2048.5 407.1,2046.8 414.4,2045.4 421.7,2043.7 429,2042.8 436.3,2041.8 443.6,2040.2 450.9,2038.9 458.2,2037.2 465.5,2036.3 472.9,2035 480.2,2033.3 487.5,2032.4 494.8,2032.1 502.1,2030.8 509.4,2030.3 516.7,2028.7 524,2027.9 531.3,2027 538.6,2025.8 545.9,2024.9 553.2,2024.4 560.5,2024.2 567.8,2023 575.1,2021.4 582.4,2020.9 589.7,2020 597,2019.5 604.3,2018.2 611.6,2017.3 618.9,2017.1 626.2,2015.1 633.5,2014.9 640.8,2014 648.1,2012.7 655.4,2012.5 662.7,2010.9 670,2010 677.3,2009.1 684.6,2008.9 691.9,2007.3 699.2,2006.3 706.6,2005.1 713.9,2005.2 721.2,2004.3 728.5,2002.3 735.8,2001.8 743.1,2000.5 750.4,1999.6 757.7,1998.7 765,1998.1 772.3,1997.2 779.6,1996.3 786.9,1995.1 794.2,1994.6 801.5,1993.7 808.8,1992.8 816.1,1991.6 823.4,1991.1 830.7,1990.2 837.9,1987.6" stroke="#843c0c"/><polyline points="115,2184.3 122.3,2171.7 129.6,2159.5 136.9,2147.2 144.2,2134.3 151.5,2123.6 158.8,2119.2 166.1,2115.5 173.4,2110.4 180.7,2106.8 188,2102.5 195.3,2100.3 202.6,2097.8 209.9,2096.6 217.2,2093.7 224.5,2091.5 231.8,2089.3 239.2,2087.4 246.5,2086 253.8,2085.2 261.1,2083.4 268.4,2082.3 275.7,2080.8 283,2079.4 290.3,2077.6 297.6,2076.1 304.9,2074.3 312.2,2073.2 319.5,2071.4 326.8,2071 334.1,2069.2 341.4,2067.3 348.7,2065.9 356,2064.8 363.3,2063.7 370.6,2061.5 377.9,2061 385.2,2059.5 392.5,2058.7 399.8,2058.7 407.1,2057.6 414.4,2056.4 421.7,2055.7 429,2055.6 436.3,2053.8 443.6,2053.8 450.9,2052.6 458.2,2051.9 465.5,2051.1 472.9,2050.4 480.2,2049.2 487.5,2049.6 494.8,2048 502.1,2047.5 509.4,2046.7 516.7,2045.5 524,2045.4 531.3,2043.8 538.6,2043.7 545.9,2042.1 553.2,2042 560.5,2040.8 567.8,2039.6 575.1,2038.4 582.4,2037.9 589.7,2036.7 597,2035.9 604.3,2035.4 611.6,2035.3 618.9,2033.4 626.2,2032.4 633.5,2030.7 640.8,2029.4 648.1,2028.1 655.4,2026.8 662.7,2025.5 670,2024.2 677.3,2022.9 684.6,2021.5 691.9,2020.6 699.2,2019.3 706.6,2018.3 713.9,2016.3 721.2,2015 728.5,2014 735.8,2012.8 743.1,2011.4 750.4,2009.9 757.7,2009.6 765,2008.2 772.3,2007.5 779.6,2006.4 786.9,2005 794.2,2003.9 801.5,2002.8 808.8,2002.5 816.1,2000.7 823.4,1999.6 830.7,1998.6 837.9,1987.6" stroke="#2f5597"/><polyline points="115,2160.5 122.3,2147 129.6,2133.2 136.9,2119 144.2,2113.3 151.5,2109.3 158.8,2104.9 166.1,2100.5 173.4,2096.1 180.7,2091.8 188,2089.1 195.3,2086.5 202.6,2084.7 209.9,2083.2 217.2,2081 224.5,2079.2 231.8,2077.4 239.2,2076.2 246.5,2075.1 253.8,2074.7 261.1,2072.9 268.4,2072.5 275.7,2071.1 283,2070 290.3,2068.8 297.6,2067.9 304.9,2067.7 312.2,2066 319.5,2065.1 326.8,2064.6 334.1,2064 341.4,2062.4 348.7,2062.2 356,2060.6 363.3,2059.6 370.6,2058.7 377.9,2058.5 385.2,2056.7 392.5,2055.3 399.8,2054.6 407.1,2054.2 414.4,2052.4 421.7,2051 429,2050.7 436.3,2050 443.6,2048.2 450.9,2047.8 458.2,2046.1 465.5,2045 472.9,2044.3 480.2,2042.9 487.5,2041.8 494.8,2041 502.1,2041 509.4,2040.3 516.7,2039.2 524,2038.1 531.3,2037.4 538.6,2036.7 545.9,2036.7 553.2,2035.3 560.5,2034.6 567.8,2034.6 575.1,2032.8 582.4,2032.8 589.7,2032.4 597,2031 604.3,2030.3 611.6,2030 618.9,2028.9 626.2,2028.5 633.5,2028.2 640.8,2027.1 648.1,2026.1 655.4,2025.3 662.7,2024.6 670,2023.2 677.3,2022.2 684.6,2021.1 691.9,2020.5 699.2,2019.4 706.6,2019.1 713.9,2017.4 721.2,2016.4 728.5,2015.7 735.8,2014.3 743.1,2013.6 750.4,2012.3 757.7,2011.9 765,2010.2 772.3,2009.9 779.6,2008.1 786.9,2007.5 794.2,2006.4 801.5,2005.1 808.8,2004 816.1,2003 823.4,2002.3 830.7,2001.3 837.9,1987.6" stroke="#f8cbad"/><polyline points="115,2208.1 122.3,2192.7 129.6,2178.1 136.9,2162 144.2,2155.2 151.5,2149.4 158.8,2143.5 166.1,2138.4 173.4,2131.5 180.7,2126.7 188,2121.6 195.3,2118.3 202.6,2115.1 209.9,2112.5 217.2,2109.6 224.5,2106.7 231.8,2103.7 239.2,2101.9 246.5,2099.8 253.8,2098.5 261.1,2096.4 268.4,2095 275.7,2094.1 283,2091.6 290.3,2089.6 297.6,2088.2 304.9,2086.9 312.2,2085.3 319.5,2084.6 326.8,2084 334.1,2083 341.4,2081.4 348.7,2081.1 356,2079.4 363.3,2079.5 370.6,2077.8 377.9,2077.5 385.2,2075.8 392.5,2074.7 399.8,2074.3 407.1,2072.9 414.4,2071.5 421.7,2070.1 429,2069.4 436.3,2068.3 443.6,2067.2 450.9,2066.5 458.2,2065.1 465.5,2064 472.9,2063.3 480.2,2061.9 487.5,2060.8 494.8,2059.7 502.1,2058.3 509.4,2057.5 516.7,2056.7 524,2055.2 531.3,2054.8 538.6,2053 545.9,2052.2 553.2,2050.4 560.5,2050.3 567.8,2048.5 575.1,2047.4 582.4,2046.3 589.7,2045.5 597,2044.7 604.3,2042.9 611.6,2041.8 618.9,2041.4 626.2,2039.6 633.5,2038.5 640.8,2037.4 648.1,2036.3 655.4,2035.2 662.7,2034.4 670,2033 677.3,2032.3 684.6,2030.4 691.9,2029.7 699.2,2028.6 706.6,2028.2 713.9,2026.4 721.2,2025 728.5,2024.2 735.8,2023.5 743.1,2022 750.4,2021.7 757.7,2020.5 765,2018.4 772.3,2017.7 779.6,2015.6 786.9,2014.9 794.2,2013.1 801.5,2011.4 808.8,2009.9 816.1,2008.9 823.4,2006.8 830.7,2005.7 837.9,1987.6" stroke="#a9d18e"/><polyline points="115,2231.9 122.3,2212.7 129.6,2193.5 136.9,2174.2 144.2,2167.4 151.5,2162 158.8,2156.5 166.1,2151.4 173.4,2146.2 180.7,2140 188,2135.3 195.3,2131.6 202.6,2128 209.9,2124 217.2,2121.4 224.5,2116.7 231.8,2113.4 239.2,2111 246.5,2108.8 253.8,2106.6 261.1,2104.4 268.4,2102.2 275.7,2100.4 283,2098.1 290.3,2096.3 297.6,2095.2 304.9,2093.7 312.2,2091.9 319.5,2091.1 326.8,2089.3 334.1,2087.8 341.4,2086.4 348.7,2084.9 356,2083.3 363.3,2081.6 370.6,2079.9 377.9,2077.9 385.2,2076.2 392.5,2074.8 399.8,2073.8 407.1,2071.4 414.4,2069.7 421.7,2067.6 429,2065.8 436.3,2064.4 443.6,2063.3 450.9,2061.4 458.2,2058.9 465.5,2057.4 472.9,2055.6 480.2,2053.8 487.5,2051.6 494.8,2050.1 502.1,2048.9 509.4,2048 516.7,2046.3 524,2045.4 531.3,2043.5 538.6,2042.9 545.9,2041.3 553.2,2040.4 560.5,2038.8 567.8,2038.2 575.1,2036.2 582.4,2034.6 589.7,2034.1 597,2032.8 604.3,2030.8 611.6,2029.9 618.9,2028.7 626.2,2027.5 633.5,2026.6 640.8,2025.7 648.1,2023.8 655.4,2022.6 662.7,2021.4 670,2020.2 677.3,2018.6 684.6,2017.7 691.9,2016.9 699.2,2016 706.6,2014.1 713.9,2013.2 721.2,2012 728.5,2010.4 735.8,2009.2 743.1,2008 750.4,2006.8 757.7,2005.6 765,2004 772.3,2002.8 779.6,2002 786.9,2000.9 794.2,1999.7 801.5,1998.5 808.8,1997.3 816.1,1996.9 823.4,1995 830.7,1993.5 837.9,1987.6" stroke="#ffd966"/><polyline points="115,2136.7 122.3,2133.9 129.6,2130.9 136.9,2127.4 144.2,2125.8 151.5,2124.4 158.8,2122.9 166.1,2122.3 173.4,2121.7 180.7,2120.8 188,2120.2 195.3,2119.6 202.6,2119.3 209.9,2118.3 217.2,2118.4 224.5,2117.1 231.8,2116.5 239.2,2115.9 246.5,2115.7 253.8,2115.4 261.1,2114.4 268.4,2113.1 275.7,2112.5 283,2112.3 290.3,2111.6 297.6,2111.4 304.9,2111.2 312.2,2109.9 319.5,2109.5 326.8,2108.6 334.1,2108.1 341.4,2107.6 348.7,2107.2 356,2107 363.3,2106.9 370.6,2106.1 377.9,2105.6 385.2,2105.7 392.5,2104.5 399.8,2103.6 407.1,2103.4 414.4,2102.5 421.7,2102.7 429,2101.5 436.3,2101.7 443.6,2100.4 450.9,2100.9 458.2,2100.4 465.5,2099.5 472.9,2099 480.2,2097.7 487.5,2098.3 494.8,2096.6 502.1,2097.1 509.4,2095.8 516.7,2094.8 524,2094.5 531.3,2094.3 538.6,2093.3 545.9,2092.4 553.2,2092.1 560.5,2092.2 567.8,2090.5 575.1,2090.3 582.4,2089.7 589.7,2089.1 597,2088.6 604.3,2088.1 611.6,2087.6 618.9,2087.1 626.2,2086.3 633.5,2085.8 640.8,2086.4 648.1,2085.5 655.4,2084.7 662.7,2083 670,2075.7 677.3,2070.5 684.6,2068.9 691.9,2068 699.2,2067.1 706.6,2066.1 713.9,2065.9 721.2,2064.3 728.5,2063.4 735.8,2063.3 743.1,2062.6 750.4,2060.7 757.7,2060 765,2059.3 772.3,2058.9 779.6,2058.5 786.9,2054.5 794.2,2051.2 801.5,2047.6 808.8,2043.9 816.1,2040.3 823.4,2030.2 830.7,2018 837.9,1987.6" stroke="#4472c4"/><polyline points="115,2141.4 122.3,2138.8 129.6,2135.4 136.9,2133.1 144.2,2129.7 151.5,2127.2 158.8,2125.9 166.1,2125.6 173.4,2123.6 180.7,2123 188,2122.7 195.3,2120.7 202.6,2120.1 209.9,2119.4 217.2,2118.1 224.5,2117.1 231.8,2116.9 239.2,2114.8 246.5,2114.9 253.8,2114 261.1,2111.7 268.4,2109.7 275.7,2107.8 283,2105.8 290.3,2103.9 297.6,2101.9 304.9,2100 312.2,2097.7 319.5,2096.1 326.8,2094.2 334.1,2093.7 341.4,2094.4 348.7,2093.9 356,2093.5 363.3,2093.4 370.6,2094 377.9,2093.2 385.2,2092.7 392.5,2092.6 399.8,2093.6 407.1,2093.5 414.4,2092.4 421.7,2093.4 429,2092 436.3,2090.7 443.6,2089 450.9,2088 458.2,2086.7 465.5,2084.7 472.9,2083.4 480.2,2082.5 487.5,2081.2 494.8,2080.7 502.1,2079.8 509.4,2079.2 516.7,2078.3 524,2078.1 531.3,2077.5 538.6,2077.3 545.9,2076.3 553.2,2075.8 560.5,2075.2 567.8,2074.6 575.1,2073.5 582.4,2072.8 589.7,2072.1 597,2071.3 604.3,2071 611.6,2070.6 618.9,2069.5 626.2,2068.8 633.5,2067.7 640.8,2067.3 648.1,2067.4 655.4,2066.7 662.7,2065.3 670,2065.4 677.3,2064 684.6,2063.3 691.9,2059.8 699.2,2046.7 706.6,2045.2 713.9,2045 721.2,2044.4 728.5,2043.8 735.8,2043.5 743.1,2043.3 750.4,2042.3 757.7,2041.3 765,2040.9 772.3,2038.7 779.6,2038.3 786.9,2036.9 794.2,2035.8 801.5,2034.7 808.8,2033.4 816.1,2030 823.4,2027.4 830.7,2024.8 837.9,1987.6" stroke="#ffc000"/><polyline points="115,2217.6 122.3,2206.9 129.6,2196.1 136.9,2185.3 144.2,2178 151.5,2171.8 158.8,2164.8 166.1,2159 173.4,2152.8 180.7,2145.5 188,2140.3 195.3,2138.1 202.6,2134.1 209.9,2131.2 217.2,2129.3 224.5,2125.7 231.8,2122.8 239.2,2120.7 246.5,2118.8 253.8,2116.8 261.1,2114.9 268.4,2112.9 275.7,2111 283,2109 290.3,2107.4 297.6,2105.8 304.9,2103.9 312.2,2101.8 319.5,2100.3 326.8,2099.2 334.1,2097 341.4,2096.3 348.7,2094.8 356,2093 363.3,2091.5 370.6,2089.7 377.9,2088.6 385.2,2087.3 392.5,2086.6 399.8,2084.5 407.1,2083.5 414.4,2082.1 421.7,2080.4 429,2079.8 436.3,2077.7 443.6,2076.7 450.9,2075.7 458.2,2074.3 465.5,2072.2 472.9,2070.8 480.2,2069.5 487.5,2068.5 494.8,2066.9 502.1,2066.5 509.4,2064.6 516.7,2063.5 524,2062.7 531.3,2061.3 538.6,2060.1 545.9,2059.4 553.2,2058.6 560.5,2057.5 567.8,2055.7 575.1,2054.2 582.4,2053.4 589.7,2052.3 597,2051.5 604.3,2050 611.6,2048.9 618.9,2047.3 626.2,2046.7 633.5,2045 640.8,2043.7 648.1,2042.8 655.4,2041.1 662.7,2039.8 670,2039.2 677.3,2037.9 684.6,2035.8 691.9,2034.5 699.2,2033.2 706.6,2031.9 713.9,2030.2 721.2,2029.6 728.5,2028.3 735.8,2026.6 743.1,2025 750.4,2024.5 757.7,2022.9 765,2021.7 772.3,2020.8 779.6,2019.2 786.9,2017.9 794.2,2016.7 801.5,2015.5 808.8,2014.2 816.1,2013 823.4,2011.7 830.7,2010.5 837.9,1987.6" stroke="#92c46a"/><polyline points="115,2267.6 122.3,2248.4 129.6,2228.8 136.9,2210.3 144.2,2203.5 151.5,2197.3 158.8,2192.2 166.1,2186.7 173.4,2181.2 180.7,2175.8 188,2171.6 195.3,2168.3 202.6,2165.8 209.9,2162.1 217.2,2159.6 224.5,2156.7 231.8,2153.4 239.2,2152.5 246.5,2150.3 253.8,2147.8 261.1,2146.3 268.4,2144.5 275.7,2142.6 283,2141.1 290.3,2138.5 297.6,2137.2 304.9,2134.6 312.2,2133.7 319.5,2131.7 326.8,2128.7 334.1,2127.8 341.4,2124.8 348.7,2123.2 356,2121.3 363.3,2119.3 370.6,2117.8 377.9,2116.2 385.2,2113.9 392.5,2111.9 399.8,2110 407.1,2107.7 414.4,2105.7 421.7,2103.8 429,2102.1 436.3,2100.5 443.6,2099 450.9,2097.8 458.2,2095.9 465.5,2094.3 472.9,2092.7 480.2,2091.5 487.5,2089.9 494.8,2088.4 502.1,2087.3 509.4,2086.3 516.7,2085.6 524,2084.2 531.3,2083.2 538.6,2082.1 545.9,2081.8 553.2,2080.7 560.5,2079 567.8,2077.9 575.1,2077.2 582.4,2075.8 589.7,2074.8 597,2074.4 604.3,2073 611.6,2071.5 618.9,2070.8 626.2,2069.3 633.5,2068.2 640.8,2067.9 648.1,2066 655.4,2065.7 662.7,2064.2 670,2062.8 677.3,2061.3 684.6,2060.9 691.9,2059.8 699.2,2059.4 706.6,2058.3 713.9,2057.6 721.2,2056.9 728.5,2055.8 735.8,2055.4 743.1,2054.7 750.4,2054 757.7,2053.6 765,2052.5 772.3,2051.8 779.6,2051 786.9,2050.5 794.2,2048.4 801.5,2047 808.8,2045.6 816.1,2044.2 823.4,2042.8 830.7,2041.1 837.9,1987.6" stroke="#b4c7e7"/><polyline points="115,2308.1 122.3,2291.9 129.6,2273.9 136.9,2257.4 144.2,2245.8 151.5,2234.9 158.8,2223.9 166.1,2216 173.4,2208.4 180.7,2200.7 188,2194 195.3,2188.1 202.6,2182.6 209.9,2176.2 217.2,2171 224.5,2166.7 231.8,2161.2 239.2,2156.3 246.5,2152.3 253.8,2147.9 261.1,2144 268.4,2140 275.7,2136.7 283,2133.8 290.3,2129.7 297.6,2125.7 304.9,2122.1 312.2,2118.8 319.5,2115.5 326.8,2111.8 334.1,2107.5 341.4,2103.8 348.7,2100.2 356,2097.1 363.3,2094.9 370.6,2092 377.9,2089.1 385.2,2087.6 392.5,2084 399.8,2081.8 407.1,2079.3 414.4,2076.8 421.7,2074 429,2071.8 436.3,2069.3 443.6,2067.5 450.9,2064.7 458.2,2061.8 465.5,2059.3 472.9,2056.5 480.2,2054.3 487.5,2052.2 494.8,2050.6 502.1,2049.1 509.4,2048.6 516.7,2046.8 524,2045.6 531.3,2044.1 538.6,2043 545.9,2042.2 553.2,2041.8 560.5,2039.6 567.8,2038.6 575.1,2038.7 582.4,2038.1 589.7,2037.2 597,2036.6 604.3,2035.6 611.6,2036.1 618.9,2034.8 626.2,2035 633.5,2034 640.8,2033.1 648.1,2033.2 655.4,2031.9 662.7,2031 670,2030.4 677.3,2030.5 684.6,2029.6 691.9,2028.1 699.2,2027.2 706.6,2025.7 713.9,2024.8 721.2,2024 728.5,2022.4 735.8,2021.6 743.1,2020.1 750.4,2018.9 757.7,2018 765,2016.5 772.3,2014.9 779.6,2013.7 786.9,2012.9 794.2,2011.3 801.5,2010.9 808.8,2009.3 816.1,2008.1 823.4,2007.6 830.7,2005.7 837.9,1987.6" stroke="#a5a5a5"/><polyline points="115,2243.8 122.3,2228.4 129.6,2213.1 136.9,2197.7 144.2,2189.6 151.5,2182.3 158.8,2175 166.1,2170 173.4,2166.7 180.7,2162.7 188,2160.4 195.3,2157.4 202.6,2155.3 209.9,2153.1 217.2,2150.9 224.5,2149.4 231.8,2146.5 239.2,2145.7 246.5,2144.4 253.8,2144.1 261.1,2142.4 268.4,2142.2 275.7,2140.5 283,2139.2 290.3,2138.9 297.6,2137.6 304.9,2136.2 312.2,2135.6 319.5,2134.3 326.8,2133.7 334.1,2133.4 341.4,2131.7 348.7,2130.4 356,2129.8 363.3,2128.8 370.6,2128.2 377.9,2127 385.2,2127.1 392.5,2125.4 399.8,2125.5 407.1,2125.2 414.4,2124.6 421.7,2123.3 429,2122.7 436.3,2121.7 443.6,2121.8 450.9,2120.9 458.2,2120.6 465.5,2120.4 472.9,2118.7 480.2,2118.1 487.5,2118.2 494.8,2116.8 502.1,2116.1 509.4,2115.8 516.7,2114.7 524,2115.1 531.3,2113.7 538.6,2113.7 545.9,2112.2 553.2,2112.3 560.5,2111.6 567.8,2109.8 575.1,2109.4 582.4,2108.7 589.7,2108 597,2108 604.3,2107 611.6,2105.9 618.9,2106 626.2,2104.4 633.5,2103.9 640.8,2104.4 648.1,2103.1 655.4,2103.3 662.7,2102.8 670,2101.5 677.3,2100.9 684.6,2100.8 691.9,2099.9 699.2,2099.3 706.6,2099.1 713.9,2098.1 721.2,2097.4 728.5,2096.6 735.8,2095.9 743.1,2094.8 750.4,2095.2 757.7,2094.1 765,2093.3 772.3,2092.6 779.6,2091.5 786.9,2091.5 794.2,2090.1 801.5,2089.3 808.8,2086.6 816.1,2082.3 823.4,2078.7 830.7,2075.1 837.9,1987.6" stroke="#9dc3e6"/><polyline points="115,2220 122.3,2204.6 129.6,2189.3 136.9,2173.9 144.2,2170.1 151.5,2168.2 158.8,2165.3 166.1,2162.8 173.4,2159.5 180.7,2156.9 188,2156.1 195.3,2155.1 202.6,2154 209.9,2153.2 217.2,2152.5 224.5,2152.1 231.8,2151.1 239.2,2151 246.5,2149.2 253.8,2149.2 261.1,2147.8 268.4,2147.4 275.7,2146.7 283,2145.9 290.3,2145.6 297.6,2144.5 304.9,2143.4 312.2,2143.4 319.5,2141.9 326.8,2141.2 334.1,2136.9 341.4,2133.9 348.7,2134.1 356,2134.7 363.3,2133.9 370.6,2134.2 377.9,2133.4 385.2,2133.6 392.5,2133.5 399.8,2133.4 407.1,2133 414.4,2133.2 421.7,2133.1 429,2132.6 436.3,2132.3 443.6,2131.3 450.9,2130.3 458.2,2130 465.5,2129.7 472.9,2129.4 480.2,2128.7 487.5,2128.1 494.8,2126.9 502.1,2126.6 509.4,2126.9 516.7,2125.9 524,2125.5 531.3,2125.2 538.6,2124.8 545.9,2125.2 553.2,2124.1 560.5,2123.4 567.8,2123.4 575.1,2123.1 582.4,2122.4 589.7,2122.8 597,2122 604.3,2122.4 611.6,2121.3 618.9,2121.6 626.2,2120.6 633.5,2120.2 640.8,2120.2 648.1,2119.5 655.4,2119.1 662.7,2118.7 670,2118.4 677.3,2118 684.6,2118.4 691.9,2117.1 699.2,2116.9 706.6,2116.4 713.9,2115.5 721.2,2114.9 728.5,2114.4 735.8,2113.8 743.1,2113.3 750.4,2112.7 757.7,2112.2 765,2112.4 772.3,2110.7 779.6,2110.9 786.9,2107.7 794.2,2105 801.5,2101.9 808.8,2098.4 816.1,2095.3 823.4,2092.5 830.7,2089.1 837.9,1987.6" stroke="#c9c9c9"/><polyline points="115,2291.4 122.3,2275.7 129.6,2260.3 136.9,2245.3 144.2,2239.6 151.5,2233.4 158.8,2228.6 166.1,2222.1 173.4,2217 180.7,2211.5 188,2206.7 195.3,2203.4 202.6,2199.8 209.9,2195.7 217.2,2192.1 224.5,2188.4 231.8,2184.8 239.2,2182.7 246.5,2181.2 253.8,2180.1 261.1,2178.6 268.4,2177.9 275.7,2176.4 283,2173.9 290.3,2173.2 297.6,2171.7 304.9,2169.9 312.2,2168.4 319.5,2167 326.8,2165.1 334.1,2164.8 341.4,2163.9 348.7,2162.7 356,2161.7 363.3,2160.5 370.6,2159.9 377.9,2159.4 385.2,2158.8 392.5,2157.9 399.8,2156.3 407.1,2155.4 414.4,2154.4 421.7,2154.2 429,2152.5 436.3,2152.2 443.6,2151.5 450.9,2150.9 458.2,2150.2 465.5,2150.3 472.9,2149.3 480.2,2148.3 487.5,2148 494.8,2146.5 502.1,2145.7 509.4,2146 516.7,2144.2 524,2143.7 531.3,2143 538.6,2142.2 545.9,2142.1 553.2,2141.3 560.5,2139.8 567.8,2139.4 575.1,2138.6 582.4,2137.8 589.7,2137.4 597,2135.4 604.3,2134.9 611.6,2134 618.9,2132.7 626.2,2132.1 633.5,2131.6 640.8,2131 648.1,2130.1 655.4,2128.5 662.7,2127.9 670,2126.7 677.3,2125.7 684.6,2124.8 691.9,2123.6 699.2,2123 706.6,2121 713.9,2120.5 721.2,2118.8 728.5,2117.2 735.8,2115.6 743.1,2115 750.4,2114.1 757.7,2112.1 765,2111.5 772.3,2109.9 779.6,2108.3 786.9,2105.5 794.2,2102.3 801.5,2099.7 808.8,2094.4 816.1,2085.8 823.4,2078.6 830.7,2070 837.9,1987.6" stroke="#bdd7ee"/><polyline points="115,2279.5 122.3,2270.9 129.6,2263.8 136.9,2254.4 144.2,2246.6 151.5,2238.3 158.8,2230.1 166.1,2225.3 173.4,2222 180.7,2219.1 188,2216.9 195.3,2214.3 202.6,2211 209.9,2207.6 217.2,2206.4 224.5,2205.5 231.8,2203.9 239.2,2203.1 246.5,2201.9 253.8,2200.6 261.1,2199.4 268.4,2195.5 275.7,2187.1 283,2177.6 290.3,2174.6 297.6,2173.4 304.9,2172.6 312.2,2171.8 319.5,2171.7 326.8,2170.1 334.1,2169.9 341.4,2168.2 348.7,2167.3 356,2166.6 363.3,2165.3 370.6,2164.3 377.9,2163.7 385.2,2163.1 392.5,2161.4 399.8,2160.8 407.1,2159.1 414.4,2159.2 421.7,2157.9 429,2156.6 436.3,2156.3 443.6,2154.3 450.9,2153.4 458.2,2152.7 465.5,2152.5 472.9,2151.5 480.2,2149.5 487.5,2148.9 494.8,2147.9 502.1,2146.5 509.4,2146.2 516.7,2145.5 524,2143.7 531.3,2142.3 538.6,2142 545.9,2140.9 553.2,2139.5 560.5,2138.5 567.8,2137.5 575.1,2136.1 582.4,2135.4 589.7,2134.7 597,2133.1 604.3,2132.5 611.6,2130.5 618.9,2129.2 626.2,2127.9 633.5,2126.3 640.8,2125.4 648.1,2124.8 655.4,2123.2 662.7,2122.3 670,2120.3 677.3,2119.4 684.6,2118.1 691.9,2117.8 699.2,2116.6 706.6,2116.7 713.9,2115.5 721.2,2114.9 728.5,2114.4 735.8,2114.5 743.1,2113.3 750.4,2112.4 757.7,2112.2 765,2112.4 772.3,2110.7 779.6,2110.5 786.9,2107.5 794.2,2103 801.5,2099.5 808.8,2095.7 816.1,2092.6 823.4,2088.1 830.7,2084.3 837.9,1987.6" stroke="#b7b7d7"/><polyline points="115,2222.4 122.3,2205.8 129.6,2197.7 136.9,2196.7 144.2,2196.5 151.5,2195.8 158.8,2194.9 166.1,2193.2 173.4,2192.2 180.7,2190.9 188,2190.3 195.3,2189.3 202.6,2188.7 209.9,2187.3 217.2,2186.7 224.5,2185.4 231.8,2184.4 239.2,2184.1 246.5,2183.9 253.8,2183.8 261.1,2183.9 268.4,2183.8 275.7,2183.6 283,2183.4 290.3,2182.9 297.6,2182.3 304.9,2182.5 312.2,2182.3 319.5,2182.8 326.8,2181.6 334.1,2181.4 341.4,2181.9 348.7,2181 356,2180.8 363.3,2180.7 370.6,2181.6 377.9,2180.2 385.2,2180.1 392.5,2179.7 399.8,2179.9 407.1,2179.1 414.4,2177.9 421.7,2177.8 429,2177.4 436.3,2177.6 443.6,2176.5 450.9,2176 458.2,2175.6 465.5,2174.7 472.9,2174.6 480.2,2174.2 487.5,2173.7 494.8,2173.3 502.1,2173.2 509.4,2172.5 516.7,2172 524,2172 531.3,2171.2 538.6,2170.8 545.9,2170.3 553.2,2170.6 560.5,2169.9 567.8,2169.4 575.1,2168.7 582.4,2168.2 589.7,2168.2 597,2168.1 604.3,2167 611.6,2166.6 618.9,2166.3 626.2,2166.4 633.5,2166.2 640.8,2165.6 648.1,2165.8 655.4,2165.2 662.7,2165 670,2165.1 677.3,2164.2 684.6,2164.3 691.9,2164.8 699.2,2164.6 706.6,2164.4 713.9,2163.4 721.2,2163.2 728.5,2163 735.8,2163.1 743.1,2162.7 750.4,2162.7 757.7,2162.3 765,2160.9 772.3,2161.6 779.6,2161.2 786.9,2158.3 794.2,2155.7 801.5,2152.1 808.8,2145.5 816.1,2136.8 823.4,2119 830.7,2065.4 837.9,1987.6" stroke="#c5e0b4"/><polyline points="115,2215.2 122.3,2209.5 129.6,2205.8 136.9,2203.8 144.2,2202.6 151.5,2201.1 158.8,2200.2 166.1,2199.6 173.4,2200.1 180.7,2199.1 188,2199.6 195.3,2198.3 202.6,2198.7 209.9,2198.1 217.2,2197.9 224.5,2198.4 231.8,2197.4 239.2,2197.2 246.5,2196.9 253.8,2196.3 261.1,2196.4 268.4,2196.9 275.7,2196.3 283,2195.7 290.3,2196.2 297.6,2195.2 304.9,2195.7 312.2,2194.4 319.5,2195 326.8,2194.4 334.1,2194.9 341.4,2194 348.7,2194.2 356,2193.7 363.3,2193.5 370.6,2193.3 377.9,2193.1 385.2,2193.6 392.5,2192.4 399.8,2192.6 407.1,2192.7 414.4,2192.2 421.7,2191.6 429,2192.2 436.3,2191.6 443.6,2191.1 450.9,2190.9 458.2,2191.4 465.5,2190.9 472.9,2191 480.2,2190.8 487.5,2189.9 494.8,2190.5 502.1,2189.9 509.4,2189.8 516.7,2189.9 524,2189.4 531.3,2189.2 538.6,2188.7 545.9,2188.8 553.2,2188.3 560.5,2188.8 567.8,2188.3 575.1,2188.1 582.4,2188.6 589.7,2188.5 597,2187.2 604.3,2187.4 611.6,2187.2 618.9,2187 626.2,2187.6 633.5,2186.7 640.8,2186.9 648.1,2186.4 655.4,2186.2 662.7,2186.1 670,2185.9 677.3,2185.8 684.6,2186.3 691.9,2186.2 699.2,2185.3 706.6,2184.8 713.9,2185 721.2,2185.5 728.5,2185.4 735.8,2185.2 743.1,2184.3 750.4,2184.1 757.7,2184.1 765,2183.1 772.3,2183.5 779.6,2182.9 786.9,2183 794.2,2182.3 801.5,2182 808.8,2181.1 816.1,2179 823.4,2176.7 830.7,2168 837.9,1987.6" stroke="#1f3864"/><polyline points="115,2233.1 122.3,2231.7 129.6,2231.1 136.9,2230.8 144.2,2228.7 151.5,2228.3 158.8,2228.2 166.1,2228.2 173.4,2227.8 180.7,2228 188,2228 195.3,2228.3 202.6,2227.9 209.9,2228.1 217.2,2227.7 224.5,2227.7 231.8,2227.6 239.2,2228.2 246.5,2227.8 253.8,2227.4 261.1,2227.3 268.4,2227.3 275.7,2227.2 283,2227.8 290.3,2227.1 297.6,2227.3 304.9,2226.9 312.2,2226.9 319.5,2227.1 326.8,2226.7 334.1,2226.7 341.4,2227.3 348.7,2226.9 356,2227.2 363.3,2226.4 370.6,2226 377.9,2226.3 385.2,2226.2 392.5,2226.1 399.8,2226.1 407.1,2226.3 414.4,2225.6 421.7,2225.5 429,2225.8 436.3,2225.4 443.6,2225.3 450.9,2225.6 458.2,2225.2 465.5,2225.1 472.9,2225.8 480.2,2225.7 487.5,2226 494.8,2225.2 502.1,2224.7 509.4,2225.7 516.7,2225.3 524,2225.2 531.3,2224.8 538.6,2224.7 545.9,2224.6 553.2,2224.9 560.5,2224.4 567.8,2224.4 575.1,2224.3 582.4,2224.2 589.7,2224.5 597,2223.7 604.3,2223.6 611.6,2223.9 618.9,2223.8 626.2,2223.7 633.5,2224 640.8,2223.5 648.1,2224 655.4,2223.2 662.7,2223 670,2222.5 677.3,2222.7 684.6,2222.1 691.9,2223 699.2,2222.1 706.6,2222 713.9,2221.8 721.2,2221.6 728.5,2222.2 735.8,2221.3 743.1,2221.1 750.4,2221.3 757.7,2221.5 765,2220.6 772.3,2220.5 779.6,2220.7 786.9,2220.5 794.2,2220 801.5,2220 808.8,2220.7 816.1,2220 823.4,2219.6 830.7,2220.7 837.9,1987.6" stroke="#203864"/><polyline points="115,2386.7 122.3,2345.2 129.6,2316 136.9,2295.6 144.2,2281 151.5,2272.4 158.8,2265.8 166.1,2260.5 173.4,2256.9 180.7,2253.2 188,2250.2 195.3,2246.9 202.6,2243.6 209.9,2241.1 217.2,2238.2 224.5,2235.6 231.8,2232.3 239.2,2229.4 246.5,2226.5 253.8,2224.3 261.1,2220.8 268.4,2218.6 275.7,2216.1 283,2213.5 290.3,2210.6 297.6,2208.1 304.9,2205.5 312.2,2204.1 319.5,2201.9 326.8,2198.6 334.1,2197.1 341.4,2194.6 348.7,2192.4 356,2190.4 363.3,2188.6 370.6,2187.1 377.9,2184.9 385.2,2183.8 392.5,2181.6 399.8,2179.4 407.1,2177.2 414.4,2175.1 421.7,2172.5 429,2170.7 436.3,2168.8 443.6,2165.9 450.9,2164.1 458.2,2163.4 465.5,2161.7 472.9,2160.2 480.2,2159.2 487.5,2157.4 494.8,2155.1 502.1,2152.4 509.4,2150.4 516.7,2147.3 524,2144.8 531.3,2143.7 538.6,2141.5 545.9,2139 553.2,2138.3 560.5,2135.4 567.8,2133.7 575.1,2131.2 582.4,2128.3 589.7,2126.1 597,2123.5 604.3,2120.9 611.6,2118.4 618.9,2115.5 626.2,2113.3 633.5,2110.7 640.8,2108.2 648.1,2105.6 655.4,2103.1 662.7,2100.9 670,2097.9 677.3,2095.4 684.6,2093.2 691.9,2089.9 699.2,2087.7 706.6,2085.2 713.9,2082.8 721.2,2080.7 728.5,2078.5 735.8,2076.3 743.1,2074.1 750.4,2072.2 757.7,2069.6 765,2066.7 772.3,2064.5 779.6,2060.8 786.9,2056.6 794.2,2052.2 801.5,2048.6 808.8,2042.8 816.1,2037.3 823.4,2031.8 830.7,2017.6 837.9,1987.6" stroke="#375623"/><polyline points="115,2351 122.3,2291 129.6,2284 136.9,2278.5 144.2,2272.8 151.5,2268.8 158.8,2264.4 166.1,2261.2 173.4,2259 180.7,2256.1 188,2253.5 195.3,2251 202.6,2248.4 209.9,2246.3 217.2,2244.1 224.5,2242.3 231.8,2241.2 239.2,2239 246.5,2236.8 253.8,2235 261.1,2234 268.4,2232.5 275.7,2231.4 283,2231.1 290.3,2230 297.6,2228.9 304.9,2226.7 312.2,2225.6 319.5,2224.5 326.8,2223.4 334.1,2220.8 341.4,2219.7 348.7,2218.3 356,2216.9 363.3,2214.6 370.6,2213.3 377.9,2210.7 385.2,2208.7 392.5,2207.5 399.8,2205.7 407.1,2204.2 414.4,2203.4 421.7,2201.3 429,2200.2 436.3,2199.3 443.6,2198.4 450.9,2197.5 458.2,2196.2 465.5,2196 472.9,2194.8 480.2,2194.6 487.5,2193.7 494.8,2191.6 502.1,2189.7 509.4,2188.7 516.7,2187.4 524,2187.1 531.3,2185.8 538.6,2184.8 545.9,2182.5 553.2,2179.6 560.5,2175.2 567.8,2171.5 575.1,2169.7 582.4,2167.9 589.7,2165.3 597,2163.9 604.3,2160.9 611.6,2158.4 618.9,2156.7 626.2,2155.6 633.5,2154.2 640.8,2152.7 648.1,2150.9 655.4,2149.8 662.7,2148.2 670,2146.4 677.3,2144.6 684.6,2142.8 691.9,2141.3 699.2,2139.8 706.6,2138 713.9,2135.3 721.2,2134.2 728.5,2132.8 735.8,2132 743.1,2129.9 750.4,2128.4 757.7,2126.8 765,2124.7 772.3,2122.1 779.6,2119.9 786.9,2115.8 794.2,2112.5 801.5,2108.1 808.8,2097.2 816.1,2084.8 823.4,2063 830.7,2041.8 837.9,1987.6" stroke="#1f2f5f"/><polyline points="115,2315.2 122.3,2296.5 129.6,2281.6 136.9,2272.8 144.2,2262.6 151.5,2255.1 158.8,2252.3 166.1,2250.2 173.4,2247.4 180.7,2245.7 188,2242.9 195.3,2242.5 202.6,2240.3 209.9,2239.6 217.2,2238.1 224.5,2236.7 231.8,2234.5 239.2,2233.1 246.5,2232.8 253.8,2231.1 261.1,2230.5 268.4,2229.6 275.7,2228.6 283,2227.2 290.3,2226.6 297.6,2225.3 304.9,2224.7 312.2,2224.9 319.5,2223.7 326.8,2223.6 334.1,2222.8 341.4,2222.6 348.7,2221.4 356,2221 363.3,2221.5 370.6,2220.3 377.9,2219.9 385.2,2219.6 392.5,2219.6 399.8,2218.5 407.1,2218.2 414.4,2218.9 421.7,2217.9 429,2218.3 436.3,2217.2 443.6,2216.5 450.9,2216.6 458.2,2216.6 465.5,2215.9 472.9,2215.5 480.2,2214.9 487.5,2214.9 494.8,2214.4 502.1,2214 509.4,2214.2 516.7,2213 524,2212.5 531.3,2212.3 538.6,2211.4 545.9,2210.8 553.2,2211 560.5,2209.7 567.8,2209.2 575.1,2209.3 582.4,2208.1 589.7,2207.2 597,2207 604.3,2206.4 611.6,2205.5 618.9,2205.3 626.2,2204.8 633.5,2204.6 640.8,2204 648.1,2203.1 655.4,2202.6 662.7,2202.4 670,2201.9 677.3,2201.3 684.6,2200.4 691.9,2200.2 699.2,2200 706.6,2199.5 713.9,2198.2 721.2,2196.4 728.5,2195.7 735.8,2194.9 743.1,2193.1 750.4,2192 757.7,2191.2 765,2189.4 772.3,2187.2 779.6,2186.4 786.9,2183.9 794.2,2182 801.5,2179.9 808.8,2177.4 816.1,2172.1 823.4,2167.3 830.7,2137.1 837.9,1987.6" stroke="#333f50"/><polyline points="115,2279.5 122.3,2269.9 129.6,2260.7 136.9,2252.6 144.2,2249 151.5,2245.4 158.8,2242.8 166.1,2240.3 173.4,2237.3 180.7,2234.4 188,2231.6 195.3,2230.5 202.6,2229.8 209.9,2229.1 217.2,2229.4 224.5,2228 231.8,2227.2 239.2,2226.5 246.5,2226.1 253.8,2225.4 261.1,2224.9 268.4,2223.7 275.7,2224.3 283,2223.2 290.3,2223.1 297.6,2222.7 304.9,2222.2 312.2,2221.8 319.5,2221.7 326.8,2220.2 334.1,2220.1 341.4,2219.7 348.7,2219.2 356,2219.5 363.3,2219.1 370.6,2217.9 377.9,2217.5 385.2,2217.2 392.5,2216.9 399.8,2217 407.1,2217 414.4,2216.4 421.7,2215.3 429,2216.1 436.3,2215.1 443.6,2215.5 450.9,2214.5 458.2,2214.2 465.5,2214.2 472.9,2214.3 480.2,2212.9 487.5,2213.7 494.8,2213.3 502.1,2212.1 509.4,2211.6 516.7,2211.2 524,2210.7 531.3,2210.6 538.6,2210.2 545.9,2209.4 553.2,2208.9 560.5,2208.5 567.8,2208 575.1,2207.9 582.4,2206.7 589.7,2207.3 597,2205.8 604.3,2206.4 611.6,2205.3 618.9,2205.5 626.2,2204.3 633.5,2203.9 640.8,2203.8 648.1,2202.6 655.4,2202.9 662.7,2202.7 670,2200.9 677.3,2200.6 684.6,2199.8 691.9,2198.7 699.2,2198.4 706.6,2197.6 713.9,2197.3 721.2,2196.2 728.5,2195.4 735.8,2194.5 743.1,2192.9 750.4,2191.9 757.7,2190.7 765,2189.4 772.3,2188.1 779.6,2187.5 786.9,2184.1 794.2,2181.5 801.5,2179 808.8,2168.1 816.1,2130.6 823.4,2112.9 830.7,2077.6 837.9,1987.6" stroke="#ffd966"/><polyline points="115,2327.1 122.3,2319.5 129.6,2311.8 136.9,2304.4 144.2,2300.7 151.5,2297.8 158.8,2294.9 166.1,2292.3 173.4,2289 180.7,2286.1 188,2283.7 195.3,2282.3 202.6,2280.8 209.9,2279.3 217.2,2277.9 224.5,2276.4 231.8,2275 239.2,2273.7 246.5,2272.5 253.8,2271.3 261.1,2270.8 268.4,2268.5 275.7,2268 283,2266.4 290.3,2265.2 297.6,2263.6 304.9,2262.4 312.2,2262.8 319.5,2261.3 326.8,2260.6 334.1,2259.9 341.4,2259.9 348.7,2258.4 356,2257.7 363.3,2257.3 370.6,2256.2 377.9,2255.6 385.2,2254.7 392.5,2254.5 399.8,2254 407.1,2253.4 414.4,2252.9 421.7,2252.4 429,2252.2 436.3,2252 443.6,2251.1 450.9,2250.6 458.2,2249.7 465.5,2249.2 472.9,2248.6 480.2,2247.7 487.5,2248.3 494.8,2247.3 502.1,2247 509.4,2245.6 516.7,2244.9 524,2244.2 531.3,2243.5 538.6,2242.8 545.9,2241.8 553.2,2241.8 560.5,2240.8 567.8,2240.8 575.1,2240 582.4,2238.4 589.7,2237.6 597,2236.4 604.3,2235.9 611.6,2235.1 618.9,2234.3 626.2,2233.8 633.5,2233 640.8,2231.5 648.1,2231 655.4,2230.6 662.7,2229.7 670,2228.4 677.3,2228.1 684.6,2226.8 691.9,2225.5 699.2,2224.5 706.6,2223.2 713.9,2222.5 721.2,2221.6 728.5,2220.9 735.8,2219.3 743.1,2217.4 750.4,2215.3 757.7,2213.8 765,2212.7 772.3,2209.8 779.6,2208 786.9,2205.2 794.2,2200.9 801.5,2197.6 808.8,2193 816.1,2186.6 823.4,2179.8 830.7,2137.1 837.9,1987.6" stroke="#ed7d31"/><polyline points="115,2362.9 122.3,2353.3 129.6,2344.1 136.9,2335.2 144.2,2332.3 151.5,2330.1 158.8,2328.6 166.1,2325.7 173.4,2323.5 180.7,2321.4 188,2318.4 195.3,2315.8 202.6,2312.5 209.9,2308.9 217.2,2306.3 224.5,2302.7 231.8,2299 239.2,2295.7 246.5,2293.1 253.8,2290.2 261.1,2287.6 268.4,2284.4 275.7,2281.4 283,2279 290.3,2277.9 297.6,2276.5 304.9,2274.6 312.2,2273.2 319.5,2271.7 326.8,2270.3 334.1,2269 341.4,2268.3 348.7,2267.6 356,2267.2 363.3,2267.2 370.6,2266.1 377.9,2265 385.2,2265 392.5,2263.9 399.8,2262.8 407.1,2262.8 414.4,2261.4 421.7,2260.6 429,2260 436.3,2259.7 443.6,2258.3 450.9,2257.7 458.2,2257.4 465.5,2256.7 472.9,2256.1 480.2,2255.4 487.5,2255.5 494.8,2253.9 502.1,2252.5 509.4,2252.2 516.7,2250.8 524,2249.7 531.3,2249.1 538.6,2248.4 545.9,2247 553.2,2245.3 560.5,2244.6 567.8,2243.9 575.1,2242.5 582.4,2241.4 589.7,2240.6 597,2239.2 604.3,2238.4 611.6,2237 618.9,2235.9 626.2,2235.2 633.5,2233.7 640.8,2233.3 648.1,2231.5 655.4,2230.1 662.7,2230 670,2227.8 677.3,2226.3 684.6,2224.5 691.9,2223.4 699.2,2222.7 706.6,2221.2 713.9,2218.1 721.2,2215.2 728.5,2212.9 735.8,2206.8 743.1,2199 750.4,2191.5 757.7,2171.7 765,2151.6 772.3,2135.2 779.6,2127.1 786.9,2119 794.2,2110.9 801.5,2100.7 808.8,2091.9 816.1,2082 823.4,2061.5 830.7,2041.5 837.9,1987.6" stroke="#bdd7ee"/><polyline points="115,2291.4 122.3,2291.2 129.6,2290.7 136.9,2289.7 144.2,2288.8 151.5,2288.6 158.8,2288.8 166.1,2287.7 173.4,2287.5 180.7,2287.2 188,2287 195.3,2286.7 202.6,2287.2 209.9,2286.6 217.2,2285.6 224.5,2285.4 231.8,2285.9 239.2,2286.2 246.5,2286.2 253.8,2285.5 261.1,2285.8 268.4,2285.5 275.7,2285.5 283,2285.5 290.3,2285.8 297.6,2285.5 304.9,2285.1 312.2,2285.5 319.5,2285.8 326.8,2285.5 334.1,2285.5 341.4,2285.5 348.7,2285.5 356,2285.8 363.3,2285.5 370.6,2285.5 377.9,2285.5 385.2,2285.8 392.5,2285.5 399.8,2285.5 407.1,2285.5 414.4,2285.5 421.7,2285.8 429,2285.5 436.3,2285.5 443.6,2285.5 450.9,2286.2 458.2,2285.8 465.5,2285.5 472.9,2285.5 480.2,2285.5 487.5,2285.5 494.8,2285.4 502.1,2285 509.4,2285.3 516.7,2284.8 524,2285.8 531.3,2285.4 538.6,2285.7 545.9,2284.9 553.2,2285.1 560.5,2284.7 567.8,2285 575.1,2284.9 582.4,2284.5 589.7,2285.1 597,2284 604.3,2283.9 611.6,2284.2 618.9,2284.8 626.2,2283.6 633.5,2283.9 640.8,2283.8 648.1,2284.1 655.4,2283.7 662.7,2283.2 670,2283.5 677.3,2284.2 684.6,2284.1 691.9,2282.9 699.2,2283.2 706.6,2283.8 713.9,2282.8 721.2,2282.4 728.5,2282 735.8,2282.3 743.1,2280.8 750.4,2280.7 757.7,2280.7 765,2280.6 772.3,2280.2 779.6,2279.1 786.9,2279.4 794.2,2277.8 801.5,2277.5 808.8,2277.5 816.1,2276.1 823.4,2276.2 830.7,2274.4 837.9,1987.6" stroke="#997300"/><polyline points="115,2298.6 122.3,2299.1 129.6,2298.3 136.9,2298.1 144.2,2298.7 151.5,2297.8 158.8,2297.3 166.1,2297.9 173.4,2298.1 180.7,2297.2 188,2297.1 195.3,2296.6 202.6,2297.2 209.9,2296.7 217.2,2296.1 224.5,2296.7 231.8,2296.9 239.2,2296.4 246.5,2295.9 253.8,2296.5 261.1,2295.6 268.4,2295.4 275.7,2295.3 283,2295.1 290.3,2295 297.6,2295.5 304.9,2295 312.2,2294.8 319.5,2294 326.8,2293.8 334.1,2294.7 341.4,2293.9 348.7,2293.7 356,2293.6 363.3,2293.4 370.6,2293.2 377.9,2292.7 385.2,2292.9 392.5,2292.4 399.8,2293 407.1,2293.2 414.4,2292.1 421.7,2292.3 429,2292.2 436.3,2292.1 443.6,2292.4 450.9,2292.3 458.2,2291.8 465.5,2292.1 472.9,2291.3 480.2,2291.6 487.5,2291.5 494.8,2292.1 502.1,2290.9 509.4,2291.1 516.7,2291 524,2290.5 531.3,2291.5 538.6,2291.4 545.9,2290.2 553.2,2290.4 560.5,2289.9 567.8,2289.8 575.1,2290.8 582.4,2289.9 589.7,2290.2 597,2289.7 604.3,2290.3 611.6,2289.4 618.9,2289.3 626.2,2289.2 633.5,2289.1 640.8,2289.7 648.1,2288.5 655.4,2289.4 662.7,2288.6 670,2288.5 677.3,2288.7 684.6,2288.3 691.9,2288.1 699.2,2288.4 706.6,2287.9 713.9,2287.7 721.2,2288.1 728.5,2287.5 735.8,2287.6 743.1,2286.6 750.4,2286.3 757.7,2286.7 765,2285.8 772.3,2285.5 779.6,2284.9 786.9,2284.6 794.2,2284.7 801.5,2284 808.8,2282.1 816.1,2280.2 823.4,2276.5 830.7,2273.2 837.9,1987.6" stroke="#bf9000"/><polyline points="115,2320 122.3,2317.6 129.6,2314.2 136.9,2310.4 144.2,2309.3 151.5,2309.1 158.8,2307.8 166.1,2306.9 173.4,2306 180.7,2305.1 188,2304.1 195.3,2304.5 202.6,2303.5 209.9,2303.6 217.2,2304 224.5,2302.7 231.8,2303.1 239.2,2302.5 246.5,2302.9 253.8,2302 261.1,2302.4 268.4,2301.8 275.7,2301.8 283,2300.9 290.3,2300.8 297.6,2301.4 304.9,2300.5 312.2,2300.8 319.5,2300.3 326.8,2300.5 334.1,2300.1 341.4,2299.9 348.7,2299.5 356,2300.4 363.3,2299.9 370.6,2300.2 377.9,2299.7 385.2,2299.6 392.5,2299.4 399.8,2299 407.1,2298.8 414.4,2298.7 421.7,2299 429,2299.3 436.3,2298.9 443.6,2298.6 450.9,2299.3 458.2,2298.6 465.5,2298.2 472.9,2299.3 480.2,2299.3 487.5,2298.6 494.8,2298.5 502.1,2299.2 509.4,2299.1 516.7,2297.9 524,2298.6 531.3,2298.1 538.6,2298 545.9,2298 553.2,2298.6 560.5,2298.5 567.8,2298.1 575.1,2297.6 582.4,2297.6 589.7,2297.5 597,2297.8 604.3,2297.3 611.6,2297.2 618.9,2297.2 626.2,2297.8 633.5,2297 640.8,2296.9 648.1,2297.6 655.4,2296.4 662.7,2296.7 670,2296.6 677.3,2296.5 684.6,2296.8 691.9,2296.7 699.2,2296.3 706.6,2296.6 713.9,2295.7 721.2,2294.6 728.5,2294.2 735.8,2293.5 743.1,2292.8 750.4,2292.1 757.7,2292 765,2291.3 772.3,2289.9 779.6,2289.1 786.9,2287.2 794.2,2285.9 801.5,2283.4 808.8,2280.6 816.1,2279.3 823.4,2276.8 830.7,2274.4 837.9,1987.6" stroke="#f4b183"/><polyline points="115,2398.6 122.3,2394.7 129.6,2390.9 136.9,2386.7 144.2,2383.7 151.5,2381.1 158.8,2378.2 166.1,2376.4 173.4,2375.7 180.7,2375 188,2373.2 195.3,2372.1 202.6,2371 209.9,2370.6 217.2,2369.3 224.5,2368.7 231.8,2368.5 239.2,2367.8 246.5,2367.2 253.8,2366.3 261.1,2366 268.4,2364.7 275.7,2364.4 283,2364.6 290.3,2363.6 297.6,2363.2 304.9,2362.5 312.2,2362.1 319.5,2362.1 326.8,2361.4 334.1,2361.4 341.4,2361.7 348.7,2360.6 356,2360 363.3,2360.2 370.6,2360.1 377.9,2360 385.2,2360.2 392.5,2359.7 399.8,2359.2 407.1,2359.4 414.4,2358.9 421.7,2359.4 429,2358.9 436.3,2359.5 443.6,2358.6 450.9,2358.9 458.2,2358.6 465.5,2358.6 472.9,2358.6 480.2,2358.6 487.5,2359.3 494.8,2358.4 502.1,2358.6 509.4,2358 516.7,2357.8 524,2357.6 531.3,2357.4 538.6,2356.8 545.9,2357.3 553.2,2356.4 560.5,2356.6 567.8,2356.3 575.1,2356.1 582.4,2355.9 589.7,2355.7 597,2355.4 604.3,2355.7 611.6,2354.3 618.9,2354.6 626.2,2354.6 633.5,2353.9 640.8,2353.2 648.1,2353.5 655.4,2352.4 662.7,2351.7 670,2352.1 677.3,2351.3 684.6,2351 691.9,2350.6 699.2,2350.3 706.6,2349.5 713.9,2349.6 721.2,2348 728.5,2346.4 735.8,2345.1 743.1,2344.2 750.4,2342.5 757.7,2341.2 765,2339.2 772.3,2336.9 779.6,2335.3 786.9,2334.1 794.2,2331 801.5,2327.3 808.8,2323.7 816.1,2320 823.4,2310.6 830.7,2291.1 837.9,1987.6" stroke="#9e480e"/><polyline points="115,2467.6 122.3,2453.7 129.6,2451.6 136.9,2448.8 144.2,2447.6 151.5,2446.8 158.8,2446.1 166.1,2445 173.4,2445.4 180.7,2445 188,2445 195.3,2445 202.6,2445 209.9,2445.7 217.2,2444.6 224.5,2444.6 231.8,2445 239.2,2445 246.5,2445 253.8,2445 261.1,2445.4 268.4,2445 275.7,2445 283,2444.6 290.3,2445 297.6,2443.4 304.9,2442 312.2,2439.1 319.5,2437.7 326.8,2437.4 334.1,2437.4 341.4,2436.8 348.7,2437.2 356,2436.5 363.3,2435.8 370.6,2435.9 377.9,2435.2 385.2,2434.5 392.5,2434.6 399.8,2434.3 407.1,2434.7 414.4,2433.8 421.7,2434.3 429,2433.3 436.3,2433.8 443.6,2433.5 450.9,2432.9 458.2,2432.3 465.5,2432.1 472.9,2431.9 480.2,2431.9 487.5,2432.3 494.8,2431.9 502.1,2431.9 509.4,2431.9 516.7,2431.5 524,2431.9 531.3,2432.6 538.6,2432.3 545.9,2432.6 553.2,2431.5 560.5,2431.9 567.8,2432.6 575.1,2431.5 582.4,2432.6 589.7,2431.5 597,2431.9 604.3,2431.9 611.6,2432.3 618.9,2432.6 626.2,2432.2 633.5,2430.7 640.8,2429.1 648.1,2429.3 655.4,2428.9 662.7,2429.8 670,2429 677.3,2429.6 684.6,2428.4 691.9,2429 699.2,2428.5 706.6,2428.7 713.9,2427.9 721.2,2427.1 728.5,2426.4 735.8,2425.7 743.1,2424.9 750.4,2424.6 757.7,2423.5 765,2422.4 772.3,2421.6 779.6,2420.2 786.9,2418.7 794.2,2417.3 801.5,2415.8 808.8,2414.1 816.1,2412.3 823.4,2411.1 830.7,2402.2 837.9,1987.6" stroke="#70ad47"/><polyline points="115,2461.7 122.3,2461.7 129.6,2461.7 136.9,2461.7 144.2,2461.7 151.5,2461.7 158.8,2461.7 166.1,2461.7 173.4,2461.7 180.7,2461.7 188,2461.7 195.3,2461.7 202.6,2461.7 209.9,2461.7 217.2,2461.7 224.5,2461.7 231.8,2461.7 239.2,2461.7 246.5,2461.7 253.8,2461.7 261.1,2461.7 268.4,2461.7 275.7,2461.7 283,2461.7 290.3,2461.7 297.6,2461.7 304.9,2461.7 312.2,2461.7 319.5,2461.7 326.8,2461.7 334.1,2461.7 341.4,2461.7 348.7,2461.7 356,2461.7 363.3,2461.7 370.6,2461.7 377.9,2461.7 385.2,2461.7 392.5,2461.7 399.8,2461.7 407.1,2461.7 414.4,2461.7 421.7,2461.7 429,2461.7 436.3,2461.7 443.6,2461.7 450.9,2461.7 458.2,2461.7 465.5,2461.7 472.9,2461.7 480.2,2461.7 487.5,2461.7 494.8,2461.7 502.1,2461.7 509.4,2461.7 516.7,2461.7 524,2461.7 531.3,2461.7 538.6,2461.7 545.9,2461.7 553.2,2461.7 560.5,2461.7 567.8,2461.7 575.1,2461.7 582.4,2461.7 589.7,2461.7 597,2461.7 604.3,2461.7 611.6,2461.7 618.9,2461.7 626.2,2461.7 633.5,2461.7 640.8,2461.7 648.1,2461.7 655.4,2461.7 662.7,2461.7 670,2461.7 677.3,2461.7 684.6,2461.7 691.9,2461.7 699.2,2461.7 706.6,2461.7 713.9,2461.7 721.2,2461.7 728.5,2461.7 735.8,2461.7 743.1,2461.7 750.4,2461.7 757.7,2461.7 765,2461.7 772.3,2461.7 779.6,2461.7 786.9,2461.7 794.2,2461.7 801.5,2461.7 808.8,2461.7 816.1,2461.7 823.4,2461.7 830.7,2461.7 837.9,1987.6" stroke="#5b9bd5"/><polyline points="115,2208.1 122.3,2192.7 129.6,2177.3 136.9,2162 144.2,2157 151.5,2152.7 158.8,2149.2 166.1,2145.3 173.4,2141 180.7,2140.2 188,2137.2 195.3,2135.6 202.6,2134.3 209.9,2131.4 217.2,2131.5 224.5,2129.8 231.8,2129.6 239.2,2128.2 246.5,2126.9 253.8,2126.3 261.1,2125 268.4,2124.4 275.7,2123.4 283,2122.2 290.3,2120.4 297.6,2119.7 304.9,2117.5 312.2,2116 319.5,2114.6 326.8,2112.8 334.1,2112.4 341.4,2111.9 348.7,2111 356,2110.8 363.3,2110.2 370.6,2110 377.9,2109.1 385.2,2108.9 392.5,2108 399.8,2107.8 407.1,2107.3 414.4,2106 421.7,2105.8 429,2105.1 436.3,2105 443.6,2103.5 450.9,2102.8 458.2,2101.6 465.5,2101.2 472.9,2100.4 480.2,2100.3 487.5,2099.2 494.8,2097.9 502.1,2097.6 509.4,2096.5 516.7,2095.5 524,2093.4 531.3,2092.3 538.6,2091.3 545.9,2090.9 553.2,2089.5 560.5,2088.1 567.8,2087.1 575.1,2086.4 582.4,2085.4 589.7,2084.3 597,2083.1 604.3,2083.2 611.6,2081.9 618.9,2080.3 626.2,2079.8 633.5,2078.8 640.8,2078.3 648.1,2077.4 655.4,2076.1 662.7,2075.9 670,2074.3 677.3,2073.4 684.6,2072.5 691.9,2071.7 699.2,2071.7 706.6,2070.6 713.9,2069.2 721.2,2068.8 728.5,2068.1 735.8,2067.3 743.1,2067 750.4,2065.9 757.7,2065.4 765,2064.7 772.3,2062.9 779.6,2061.4 786.9,2060.7 794.2,2059.3 801.5,2058.5 808.8,2055.7 816.1,2053.5 823.4,2049.5 830.7,2046.2 837.9,1987.6" stroke="#8faadc"/><polyline points="115,2243.8 122.3,2208.4 129.6,2171.5 136.9,2135.4 144.2,2126.6 151.5,2121.5 158.8,2115.7 166.1,2111 173.4,2108.1 180.7,2105.5 188,2102.6 195.3,2100 202.6,2096.7 209.9,2094.3 217.2,2091.4 224.5,2089.2 231.8,2087.3 239.2,2084.4 246.5,2082.6 253.8,2080.4 261.1,2078.6 268.4,2077.9 275.7,2075.7 283,2073.9 290.3,2072.8 297.6,2071.3 304.9,2070 312.2,2069.5 319.5,2069.7 326.8,2068.9 334.1,2067.7 341.4,2067.2 348.7,2066.7 356,2067.3 363.3,2066.1 370.6,2065.6 377.9,2065.7 385.2,2064.6 392.5,2063.5 399.8,2063.4 407.1,2062 414.4,2061.2 421.7,2061.2 429,2060 436.3,2058.9 443.6,2058.9 450.9,2057.4 458.2,2056.6 465.5,2055.5 472.9,2055.8 480.2,2054.4 487.5,2054.3 494.8,2053.1 502.1,2051.9 509.4,2051.8 516.7,2051 524,2049.4 531.3,2048.9 538.6,2048.1 545.9,2046.9 553.2,2045.7 560.5,2045.2 567.8,2045.1 575.1,2043.5 582.4,2043.4 589.7,2041.8 597,2041 604.3,2040.1 611.6,2039.3 618.9,2038.5 626.2,2038.5 633.5,2037.1 640.8,2036.7 648.1,2036 655.4,2034.9 662.7,2034.2 670,2034.1 677.3,2033.4 684.6,2032.3 691.9,2031.6 699.2,2030.9 706.6,2029.8 713.9,2029.4 721.2,2028.7 728.5,2027.6 735.8,2026.6 743.1,2025.4 750.4,2024.5 757.7,2022.9 765,2021.7 772.3,2020.4 779.6,2019.9 786.9,2017.9 794.2,2016.7 801.5,2015.1 808.8,2013.9 816.1,2013 823.4,2012.1 830.7,2011.2 837.9,1987.6" stroke="#f4b183"/><polyline points="115,2255.7 122.3,2240 129.6,2225.3 136.9,2209.6 144.2,2202.5 151.5,2195.6 158.8,2188.7 166.1,2182.1 173.4,2175.5 180.7,2170 188,2163.9 195.3,2159.2 202.6,2154.8 209.9,2150.8 217.2,2146.4 224.5,2141.7 231.8,2137.3 239.2,2134.1 246.5,2131.2 253.8,2127.9 261.1,2125.4 268.4,2122.5 275.7,2119.9 283,2116.5 290.3,2115.4 297.6,2112.5 304.9,2110.3 312.2,2108.8 319.5,2105.6 326.8,2104.1 334.1,2101.8 341.4,2100.7 348.7,2099.2 356,2097.4 363.3,2096.3 370.6,2095.5 377.9,2094.1 385.2,2091.9 392.5,2090.4 399.8,2089 407.1,2089 414.4,2087.1 421.7,2086.4 429,2085.9 436.3,2085.2 443.6,2085.1 450.9,2083.6 458.2,2083.2 465.5,2082.1 472.9,2082 480.2,2080.9 487.5,2079.4 494.8,2078.8 502.1,2077.7 509.4,2076.5 516.7,2075.4 524,2074.3 531.3,2073.2 538.6,2072.1 545.9,2070.9 553.2,2070.2 560.5,2068.7 567.8,2067.6 575.1,2066.8 582.4,2065.3 589.7,2064.2 597,2062.7 604.3,2061.9 611.6,2061.2 618.9,2059.7 626.2,2058.1 633.5,2057.3 640.8,2056.9 648.1,2055.3 655.4,2054.5 662.7,2052.6 670,2051.5 677.3,2051 684.6,2048.8 691.9,2047.6 699.2,2046.8 706.6,2046 713.9,2045.2 721.2,2043.3 728.5,2042.8 735.8,2040.9 743.1,2039.4 750.4,2037.7 757.7,2036.6 765,2035.2 772.3,2034.1 779.6,2032.3 786.9,2031.6 794.2,2029.5 801.5,2028.8 808.8,2027 816.1,2025.2 823.4,2023.8 830.7,2022 837.9,1987.6" stroke="#ffe699"/><polyline points="115,2327.1 122.3,2315.6 129.6,2304.4 136.9,2292.5 144.2,2284.8 151.5,2277.5 158.8,2270.2 166.1,2265.2 173.4,2260.4 180.7,2256 188,2251.7 195.3,2246.9 202.6,2242.9 209.9,2238.7 217.2,2236.2 224.5,2233.6 231.8,2231.1 239.2,2228.2 246.5,2226.7 253.8,2223.8 261.1,2221.4 268.4,2218.5 275.7,2217.4 283,2214.5 290.3,2211.9 297.6,2209.8 304.9,2207.9 312.2,2205.8 319.5,2203.4 326.8,2200.6 334.1,2198.2 341.4,2196.4 348.7,2193.3 356,2190.9 363.3,2188.4 370.6,2186.3 377.9,2183.3 385.2,2181.8 392.5,2180.5 399.8,2177.9 407.1,2175.9 414.4,2174 421.7,2171.7 429,2170.1 436.3,2168.1 443.6,2166.2 450.9,2164 458.2,2162.3 465.5,2158.7 472.9,2156.7 480.2,2154.6 487.5,2152.5 494.8,2150.1 502.1,2148.7 509.4,2147.7 516.7,2146 524,2144.6 531.3,2143.2 538.6,2141.8 545.9,2140.5 553.2,2139.1 560.5,2137.4 567.8,2136.3 575.1,2135.6 582.4,2133.8 589.7,2132.7 597,2130.5 604.3,2129 611.6,2128.3 618.9,2125.8 626.2,2124.3 633.5,2122.8 640.8,2122.1 648.1,2120.6 655.4,2118.5 662.7,2118 670,2115.5 677.3,2113.6 684.6,2111.8 691.9,2109.6 699.2,2108.2 706.6,2107.1 713.9,2104.2 721.2,2102.7 728.5,2100.5 735.8,2098.7 743.1,2097.2 750.4,2095.4 757.7,2093.1 765,2090.8 772.3,2087.2 779.6,2084.6 786.9,2081.7 794.2,2079.5 801.5,2075.9 808.8,2069.9 816.1,2063.8 823.4,2055.8 830.7,2048.9 837.9,1987.6" stroke="#7f7f7f"/><polyline points="115,2303.3 122.3,2292.2 129.6,2280.3 136.9,2269.5 144.2,2262.7 151.5,2256.8 158.8,2251.7 166.1,2246.6 173.4,2240.8 180.7,2236 188,2230.5 195.3,2226.9 202.6,2223.9 209.9,2219.6 217.2,2216.6 224.5,2212.3 231.8,2208.6 239.2,2206.5 246.5,2205.1 253.8,2202.9 261.1,2201 268.4,2199.2 275.7,2197.4 283,2195.6 290.3,2193.9 297.6,2192.2 304.9,2190.9 312.2,2189.1 319.5,2187.1 326.8,2185.4 334.1,2183.7 341.4,2182 348.7,2181 356,2178.4 363.3,2177.2 370.6,2175.3 377.9,2172.6 385.2,2171.4 392.5,2168.3 399.8,2167.1 407.1,2164.8 414.4,2163.2 421.7,2161.6 429,2159.3 436.3,2158.4 443.6,2155.8 450.9,2154.2 458.2,2152.6 465.5,2151.4 472.9,2150.2 480.2,2148.3 487.5,2146.7 494.8,2145.7 502.1,2144.8 509.4,2142.8 516.7,2141.6 524,2140.3 531.3,2138.7 538.6,2138.5 545.9,2137.2 553.2,2134.9 560.5,2134 567.8,2133.4 575.1,2131.5 582.4,2130.9 589.7,2129.3 597,2127.7 604.3,2126.8 611.6,2125.5 618.9,2124.2 626.2,2122.5 633.5,2121.2 640.8,2120.3 648.1,2119.3 655.4,2116.9 662.7,2116 670,2114.6 677.3,2114 684.6,2112 691.9,2110.7 699.2,2110.1 706.6,2108.8 713.9,2106.8 721.2,2105.1 728.5,2104.5 735.8,2102.4 743.1,2101.3 750.4,2099.8 757.7,2098 765,2096.6 772.3,2095.4 779.6,2094 786.9,2092.5 794.2,2091.8 801.5,2089.6 808.8,2085 816.1,2078.4 823.4,2071.5 830.7,2065.2 837.9,1987.6" stroke="#9dc3e6"/><polyline points="115,2339 122.3,2282.6 129.6,2244 136.9,2222.1 144.2,2200.2 151.5,2180.7 158.8,2167.9 166.1,2154.4 173.4,2141.3 180.7,2132.2 188,2123.8 195.3,2115 202.6,2109.9 209.9,2106 217.2,2102.1 224.5,2098.2 231.8,2095.1 239.2,2091.6 246.5,2089.1 253.8,2086.5 261.1,2084.3 268.4,2081.4 275.7,2078.8 283,2076.5 290.3,2075.1 297.6,2072.5 304.9,2070.7 312.2,2069.2 319.5,2067.4 326.8,2065.2 334.1,2064.1 341.4,2064.2 348.7,2062.5 356,2061.5 363.3,2060.5 370.6,2059.6 377.9,2059.3 385.2,2058.3 392.5,2056.6 399.8,2056 407.1,2055.1 414.4,2054.2 421.7,2054 429,2053.4 436.3,2052.8 443.6,2051.9 450.9,2051.7 458.2,2051.1 465.5,2050.5 472.9,2050.6 480.2,2049.7 487.5,2048.8 494.8,2047.8 502.1,2047.4 509.4,2046.4 516.7,2046.4 524,2045.3 531.3,2044.6 538.6,2044.3 545.9,2043.6 553.2,2042.1 560.5,2041.4 567.8,2041.4 575.1,2040.4 582.4,2040.4 589.7,2039 597,2037.9 604.3,2037.6 611.6,2036.9 618.9,2035.8 626.2,2035.1 633.5,2034.7 640.8,2034.7 648.1,2033.2 655.4,2032.5 662.7,2032.1 670,2031 677.3,2030.7 684.6,2030.3 691.9,2028.9 699.2,2028.1 706.6,2027.4 713.9,2026.3 721.2,2025.6 728.5,2025.6 735.8,2024.5 743.1,2024.5 750.4,2023.4 757.7,2021.8 765,2021.5 772.3,2019 779.6,2018.3 786.9,2016.2 794.2,2015.9 801.5,2013.7 808.8,2012 816.1,2011.6 823.4,2009.1 830.7,2008.5 837.9,1987.6" stroke="#2e75b6"/><polyline points="115,2231.9 122.3,2220 129.6,2209.6 136.9,2197.3 144.2,2190.6 151.5,2185.1 158.8,2178.2 166.1,2172.7 173.4,2166.1 180.7,2160.3 188,2154.7 195.3,2150.7 202.6,2147 209.9,2143.4 217.2,2139.7 224.5,2136.1 231.8,2132.8 239.2,2130.9 246.5,2128.6 253.8,2126.3 261.1,2124 268.4,2122.4 275.7,2120.5 283,2118.5 290.3,2116.6 297.6,2114.6 304.9,2113.1 312.2,2112 319.5,2109.8 326.8,2108.4 334.1,2106.9 341.4,2106.1 348.7,2104 356,2102.9 363.3,2101.4 370.6,2099.6 377.9,2098.9 385.2,2097 392.5,2095.8 399.8,2094.2 407.1,2094.1 414.4,2092.8 421.7,2090.9 429,2089.3 436.3,2088.1 443.6,2087.3 450.9,2085.7 458.2,2085.5 465.5,2083.2 472.9,2082 480.2,2080.8 487.5,2080.7 494.8,2079.6 502.1,2078.3 509.4,2077.3 516.7,2075.9 524,2075 531.3,2073.6 538.6,2073.3 545.9,2072 553.2,2071 560.5,2070.7 567.8,2069.4 575.1,2068.1 582.4,2067.8 589.7,2066.8 597,2065.8 604.3,2064.9 611.6,2063.2 618.9,2062.7 626.2,2061.3 633.5,2059.3 640.8,2058.7 648.1,2057.4 655.4,2055.4 662.7,2054.1 670,2052.4 677.3,2051.8 684.6,2050.1 691.9,2048.4 699.2,2047.5 706.6,2045.8 713.9,2045.6 721.2,2043.9 728.5,2042.9 735.8,2041.4 743.1,2038.9 750.4,2036.8 757.7,2035 765,2034.3 772.3,2032.2 779.6,2029.7 786.9,2028.3 794.2,2026.5 801.5,2024.7 808.8,2023 816.1,2021.2 823.4,2019.4 830.7,2017.6 837.9,1987.6" stroke="#a9d18e"/><polyline points="115,2322.4 122.3,2319.7 129.6,2316.2 136.9,2313.5 144.2,2312.2 151.5,2310.8 158.8,2309.7 166.1,2308.2 173.4,2307.5 180.7,2307.1 188,2305.6 195.3,2305 202.6,2305.1 209.9,2304.8 217.2,2304.5 224.5,2304.2 231.8,2304.3 239.2,2303.3 246.5,2303.1 253.8,2303.5 261.1,2302.9 268.4,2303 275.7,2302.7 283,2301.8 290.3,2302 297.6,2302.7 304.9,2302.6 312.2,2301.8 319.5,2302.4 326.8,2302 334.1,2302.2 341.4,2301.1 348.7,2301 356,2301.3 363.3,2301.9 370.6,2301.5 377.9,2301.4 385.2,2301 392.5,2300.9 399.8,2301.1 407.1,2301.4 414.4,2300.3 421.7,2300.5 429,2300.8 436.3,2300.4 443.6,2299.9 450.9,2300.2 458.2,2300.1 465.5,2300.8 472.9,2300.7 480.2,2300.6 487.5,2300.5 494.8,2299.3 502.1,2299.1 509.4,2300 516.7,2299.5 524,2299 531.3,2298.8 538.6,2298.7 545.9,2298.2 553.2,2298 560.5,2297.8 567.8,2298 575.1,2297.9 582.4,2297.7 589.7,2297.2 597,2297.4 604.3,2296.9 611.6,2297 618.9,2296.5 626.2,2297.4 633.5,2296.6 640.8,2296.8 648.1,2296.2 655.4,2296.8 662.7,2295.9 670,2295.7 677.3,2295.6 684.6,2295.1 691.9,2295.3 699.2,2295.1 706.6,2294.9 713.9,2294.8 721.2,2295.3 728.5,2294.8 735.8,2294.3 743.1,2293.8 750.4,2294.7 757.7,2293.9 765,2291.9 772.3,2290.3 779.6,2288.3 786.9,2287 794.2,2285.4 801.5,2283.4 808.8,2282.4 816.1,2280.4 823.4,2279.5 830.7,2277.1 837.9,1987.6" stroke="#f8cbad"/><polyline points="115,2274.8 122.3,2257.1 129.6,2239 136.9,2222.1 144.2,2215.1 151.5,2209.6 158.8,2204.1 166.1,2199.3 173.4,2193.1 180.7,2187.3 188,2183.2 195.3,2180.2 202.6,2177.7 209.9,2174.4 217.2,2171.1 224.5,2168.9 231.8,2165.6 239.2,2164.1 246.5,2162.1 253.8,2160.7 261.1,2159.4 268.4,2157 275.7,2156 283,2153.5 290.3,2152.2 297.6,2150.5 304.9,2148.5 312.2,2147.3 319.5,2146 326.8,2144.8 334.1,2144.3 341.4,2142.4 348.7,2141.9 356,2140 363.3,2138.7 370.6,2137.5 377.9,2136.4 385.2,2135.1 392.5,2134.2 399.8,2134 407.1,2132.7 414.4,2131.8 421.7,2130.9 429,2130 436.3,2129.1 443.6,2127.8 450.9,2127.3 458.2,2126.4 465.5,2126.2 472.9,2124.2 480.2,2124 487.5,2122.7 494.8,2121.6 502.1,2120.5 509.4,2119.4 516.7,2118.3 524,2117.2 531.3,2116 538.6,2114.9 545.9,2113.8 553.2,2112.7 560.5,2111.5 567.8,2110.4 575.1,2109.3 582.4,2108.2 589.7,2107 597,2106.6 604.3,2104.8 611.6,2104 618.9,2102.2 626.2,2100.6 633.5,2099 640.8,2097.4 648.1,2096.1 655.4,2094.2 662.7,2092.6 670,2091.7 677.3,2089.7 684.6,2087.4 691.9,2086.1 699.2,2084.2 706.6,2082.6 713.9,2081.3 721.2,2079.4 728.5,2078.1 735.8,2076.2 743.1,2074.5 750.4,2071.3 757.7,2069.6 765,2066.4 772.3,2064 779.6,2061.6 786.9,2059.8 794.2,2056.7 801.5,2054.6 808.8,2050 816.1,2042.7 823.4,2036.1 830.7,2029.9 837.9,1987.6" stroke="#ffc000"/></g><rect x="111.3" y="1987.6" width="730.7" height="480.8" fill="none" stroke="#111" stroke-width="2.3"/><path d="M111.3 2468.4h-5.5M111.3 2372.2h-5.5M111.3 2276.1h-5.5M111.3 2179.9h-5.5M111.3 2083.8h-5.5M111.3 1987.6h-5.5" stroke="#111" stroke-width="1.7" fill="none"/><text transform="translate(81.16 2478.50) scale(1.0050 1)" font-size="28.4">0</text><text transform="translate(61.45 2382.34) scale(0.9236 1)" font-size="28.4">0.2</text><text transform="translate(61.47 2286.18) scale(0.9096 1)" font-size="28.4">0.4</text><text transform="translate(61.46 2190.02) scale(0.9166 1)" font-size="28.4">0.6</text><text transform="translate(61.46 2093.86) scale(0.9166 1)" font-size="28.4">0.8</text><text transform="translate(58.18 1995.50) scale(0.9491 1)" font-size="28.4">1.0</text><text transform="translate(40.70 2256.16) rotate(-90) scale(0.9687 1)" font-size="28">CDF</text><text transform="translate(104.54 2502.30) scale(0.8499 1)" font-size="28.4">1</text><text transform="translate(818.29 2502.30) scale(0.9443 1)" font-size="28.4">100</text><text transform="translate(365.08 2514.10) scale(1.0128 1)" font-size="28">Consensus index</text><line x1="857" y1="1999.8" x2="909.6" y2="1999.8" stroke="#4472c4" stroke-width="1.5"/><text transform="translate(915.70 2007.40) scale(0.9669 1)" font-size="22">ASC</text><line x1="857" y1="2021.8" x2="909.6" y2="2021.8" stroke="#a5a5a5" stroke-width="1.5"/><text transform="translate(913.95 2029.44) scale(0.9962 1)" font-size="22">MGL</text><line x1="857" y1="2043.9" x2="909.6" y2="2043.9" stroke="#5b9bd5" stroke-width="1.5"/><text transform="translate(914.71 2051.48) scale(0.9987 1)" font-size="22">OPC</text><line x1="857" y1="2065.9" x2="909.6" y2="2065.9" stroke="#264478" stroke-width="1.5"/><text transform="translate(913.95 2073.52) scale(0.9921 1)" font-size="22">RGL</text><line x1="857" y1="2088" x2="909.6" y2="2088" stroke="#636363" stroke-width="1.5"/><text transform="translate(915.60 2095.56) scale(0.9330 1)" font-size="22">VLMC</text><line x1="857" y1="2110" x2="909.6" y2="2110" stroke="#255e91" stroke-width="1.5"/><text transform="translate(914.62 2117.60) scale(0.9806 1)" font-size="22">CNUGA</text><line x1="857" y1="2132" x2="909.6" y2="2132" stroke="#698ed0" stroke-width="1.5"/><text transform="translate(914.75 2139.64) scale(0.9577 1)" font-size="22">STRGA</text><line x1="857" y1="2154.1" x2="909.6" y2="2154.1" stroke="#b7b7b7" stroke-width="1.5"/><text transform="translate(913.96 2161.68) scale(0.9864 1)" font-size="22">LAMGA</text><line x1="857" y1="2176.1" x2="909.6" y2="2176.1" stroke="#7cafdd" stroke-width="1.5"/><text transform="translate(914.00 2183.72) scale(0.9685 1)" font-size="22">MSGA</text><line x1="857" y1="2198.2" x2="909.6" y2="2198.2" stroke="#335aa1" stroke-width="1.5"/><text transform="translate(913.97 2205.76) scale(0.9819 1)" font-size="22">D2MSN</text><line x1="857" y1="2220.2" x2="909.6" y2="2220.2" stroke="#848484" stroke-width="1.5"/><text transform="translate(914.76 2227.80) scale(0.9530 1)" font-size="22">OBGA1</text><line x1="857" y1="2242.2" x2="909.6" y2="2242.2" stroke="#327dc2" stroke-width="1.5"/><text transform="translate(914.74 2249.84) scale(0.9720 1)" font-size="22">OBGA2</text><line x1="857" y1="2264.3" x2="909.6" y2="2264.3" stroke="#8faadc" stroke-width="1.5"/><text transform="translate(913.96 2271.88) scale(0.9861 1)" font-size="22">PVGA</text><line x1="857" y1="2286.3" x2="909.6" y2="2286.3" stroke="#c9c9c9" stroke-width="1.5"/><text transform="translate(915.60 2293.92) scale(0.9483 1)" font-size="22">VIPGA</text><line x1="857" y1="2308.4" x2="909.6" y2="2308.4" stroke="#9dc3e6" stroke-width="1.5"/><text transform="translate(914.61 2315.96) scale(0.9882 1)" font-size="22">CA1GL</text><line x1="857" y1="2330.4" x2="909.6" y2="2330.4" stroke="#203864" stroke-width="1.5"/><text transform="translate(914.61 2338.00) scale(0.9882 1)" font-size="22">CLAGL</text><line x1="857" y1="2352.4" x2="909.6" y2="2352.4" stroke="#525252" stroke-width="1.5"/><text transform="translate(913.94 2360.04) scale(1.0008 1)" font-size="22">PIRGL</text><line x1="857" y1="2374.5" x2="909.6" y2="2374.5" stroke="#1f4e79" stroke-width="1.5"/><text transform="translate(913.76 2382.08) scale(0.9822 1)" font-size="22">ITHGL</text><line x1="857" y1="2396.5" x2="909.6" y2="2396.5" stroke="#7f9bd8" stroke-width="1.5"/><text transform="translate(913.75 2404.12) scale(0.9836 1)" font-size="22">ITL5GL</text><line x1="857" y1="2418.6" x2="909.6" y2="2418.6" stroke="#d0d0d0" stroke-width="1.5"/><text transform="translate(913.94 2426.16) scale(1.0008 1)" font-size="22">L6bGL</text><line x1="857" y1="2440.6" x2="909.6" y2="2440.6" stroke="#a8c6e8" stroke-width="1.5"/><text transform="translate(914.00 2448.20) scale(0.9642 1)" font-size="22">NPGL</text><line x1="857" y1="2462.6" x2="909.6" y2="2462.6" stroke="#2a3f7e" stroke-width="1.5"/><text transform="translate(913.99 2470.24) scale(0.9738 1)" font-size="22">PTGL</text><line x1="1017.5" y1="1999.8" x2="1070" y2="1999.8" stroke="#ed7d31" stroke-width="1.5"/><text transform="translate(1075.27 2007.40) scale(0.9768 1)" font-size="22">IOL</text><line x1="1017.5" y1="2021.8" x2="1070" y2="2021.8" stroke="#ffc000" stroke-width="1.5"/><text transform="translate(1076.27 2029.44) scale(0.9411 1)" font-size="22">OGC</text><line x1="1017.5" y1="2043.9" x2="1070" y2="2043.9" stroke="#70ad47" stroke-width="1.5"/><text transform="translate(1075.41 2051.48) scale(1.0156 1)" font-size="22">PER</text><line x1="1017.5" y1="2065.9" x2="1070" y2="2065.9" stroke="#9e480e" stroke-width="1.5"/><text transform="translate(1077.09 2073.52) scale(0.9728 1)" font-size="22">VEC</text><line x1="1017.5" y1="2088" x2="1070" y2="2088" stroke="#997300" stroke-width="1.5"/><text transform="translate(1077.10 2095.56) scale(0.9514 1)" font-size="22">VPIA</text><line x1="1017.5" y1="2110" x2="1070" y2="2110" stroke="#43682b" stroke-width="1.5"/><text transform="translate(1076.11 2117.60) scale(0.9932 1)" font-size="22">CRC</text><line x1="1017.5" y1="2132" x2="1070" y2="2132" stroke="#f1975a" stroke-width="1.5"/><text transform="translate(1075.49 2139.64) scale(0.9714 1)" font-size="22">DGNBL</text><line x1="1017.5" y1="2154.1" x2="1070" y2="2154.1" stroke="#ffcd33" stroke-width="1.5"/><text transform="translate(1075.51 2161.68) scale(0.9592 1)" font-size="22">LSXGA</text><line x1="1017.5" y1="2176.1" x2="1070" y2="2176.1" stroke="#8cc168" stroke-width="1.5"/><text transform="translate(1075.47 2183.72) scale(0.9832 1)" font-size="22">DAMSN</text><line x1="1017.5" y1="2198.2" x2="1070" y2="2198.2" stroke="#d26012" stroke-width="1.5"/><text transform="translate(1075.46 2205.76) scale(0.9860 1)" font-size="22">MXD</text><line x1="1017.5" y1="2220.2" x2="1070" y2="2220.2" stroke="#cc9a00" stroke-width="1.5"/><text transform="translate(1076.21 2227.80) scale(0.9984 1)" font-size="22">OBDOP</text><line x1="1017.5" y1="2242.2" x2="1070" y2="2242.2" stroke="#5a8a39" stroke-width="1.5"/><text transform="translate(1076.22 2249.84) scale(0.9879 1)" font-size="22">OBNBL</text><line x1="1017.5" y1="2264.3" x2="1070" y2="2264.3" stroke="#f4b183" stroke-width="1.5"/><text transform="translate(1076.23 2271.88) scale(0.9790 1)" font-size="22">SSTGA</text><line x1="1017.5" y1="2286.3" x2="1070" y2="2286.3" stroke="#ffd966" stroke-width="1.5"/><text transform="translate(1076.23 2293.92) scale(0.9806 1)" font-size="22">OBGL</text><line x1="1017.5" y1="2308.4" x2="1070" y2="2308.4" stroke="#a9d18e" stroke-width="1.5"/><text transform="translate(1076.11 2315.96) scale(0.9867 1)" font-size="22">CA3GL</text><line x1="1017.5" y1="2330.4" x2="1070" y2="2330.4" stroke="#843c0c" stroke-width="1.5"/><text transform="translate(1076.12 2338.00) scale(0.9808 1)" font-size="22">CTGL</text><line x1="1017.5" y1="2352.4" x2="1070" y2="2352.4" stroke="#7f6000" stroke-width="1.5"/><text transform="translate(1076.14 2360.04) scale(0.9676 1)" font-size="22">GRC</text><line x1="1017.5" y1="2374.5" x2="1070" y2="2374.5" stroke="#385723" stroke-width="1.5"/><text transform="translate(1075.26 2382.08) scale(0.9821 1)" font-size="22">ITL4GL</text><line x1="1017.5" y1="2396.5" x2="1070" y2="2396.5" stroke="#f8b9a0" stroke-width="1.5"/><text transform="translate(1075.26 2404.12) scale(0.9821 1)" font-size="22">ITL6GL</text><line x1="1017.5" y1="2418.6" x2="1070" y2="2418.6" stroke="#ffd24d" stroke-width="1.5"/><text transform="translate(1075.23 2426.16) scale(0.9932 1)" font-size="22">ITL23GL</text><line x1="1017.5" y1="2440.6" x2="1070" y2="2440.6" stroke="#a3cf87" stroke-width="1.5"/><text transform="translate(1076.24 2448.20) scale(0.9717 1)" font-size="22">OLGGL</text></g>
</svg>
</figure></main>
</body></html>
